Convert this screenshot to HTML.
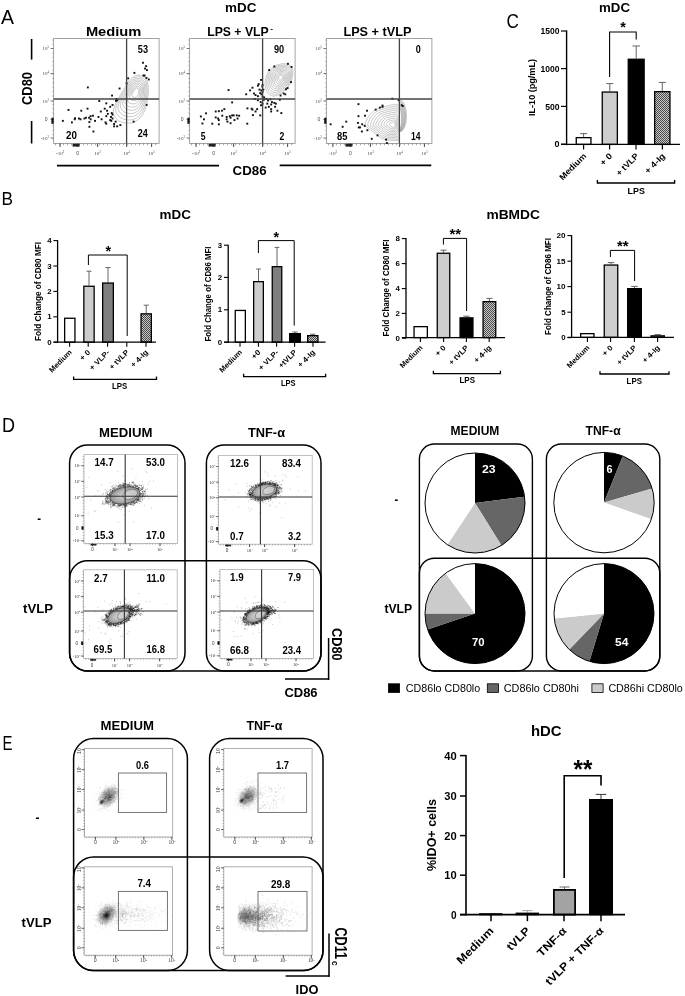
<!DOCTYPE html>
<html><head><meta charset="utf-8"><style>
html,body{margin:0;padding:0;background:#fff;}
body{width:685px;height:996px;overflow:hidden;font-family:"Liberation Sans", sans-serif;}
svg{display:block;filter:grayscale(1);}
</style></head><body>
<svg width="685" height="996" viewBox="0 0 685 996" font-family="'Liberation Sans', sans-serif">
<defs>
<pattern id="hatch" width="2" height="2" patternUnits="userSpaceOnUse"><rect width="2" height="2" fill="#c8c8c8"/><rect width="1" height="1" fill="#4a4a4a"/><rect x="1" y="1" width="1" height="1" fill="#4a4a4a"/></pattern>
</defs>
<rect width="685" height="996" fill="#fff"/>
<text x="1" y="24.4" font-size="20.5" textLength="13" lengthAdjust="spacingAndGlyphs">A</text>
<text x="225" y="12.4" font-size="12.2" font-weight="bold" textLength="31.4" lengthAdjust="spacingAndGlyphs">mDC</text>
<text x="85.9" y="35.9" font-size="13.6" font-weight="bold" textLength="55.4" lengthAdjust="spacingAndGlyphs">Medium</text>
<text x="207.2" y="36.1" font-size="13.5" font-weight="bold" textLength="61.5" lengthAdjust="spacingAndGlyphs">LPS + VLP</text>
<text x="270.3" y="30.6" font-size="8" font-weight="bold" textLength="2.8" lengthAdjust="spacingAndGlyphs">-</text>
<text x="343.4" y="36.1" font-size="13.6" font-weight="bold" textLength="68" lengthAdjust="spacingAndGlyphs">LPS + tVLP</text>
<rect x="53.6" y="38.5" width="105.5" height="105" fill="#fff" stroke="#9a9a9a" stroke-width="0.9"/>
<path d="M137 87.84C137.35 87.86 137.82 87.97 138.1 88.2C138.38 88.43 138.57 88.77 138.7 89.2C138.83 89.63 138.86 90.2 138.86 90.8C138.86 91.4 138.81 92.13 138.7 92.8C138.59 93.47 138.45 94.2 138.2 94.8C137.95 95.4 137.6 95.98 137.2 96.4C136.8 96.82 136.27 97.13 135.8 97.3C135.33 97.47 134.87 97.45 134.4 97.4C133.93 97.35 133.38 97.23 133 97C132.62 96.77 132.29 96.32 132.1 96C131.91 95.68 131.86 95.47 131.88 95.1C131.9 94.73 132.01 94.28 132.2 93.8C132.39 93.32 132.7 92.73 133 92.2C133.3 91.67 133.67 91.13 134 90.6C134.33 90.07 134.67 89.42 135 89C135.33 88.58 135.67 88.29 136 88.1C136.33 87.91 136.65 87.82 137 87.84Z" fill="none" stroke="#909090" stroke-width="0.5"/>
<path d="M137.25 86.26C137.78 86.28 138.47 86.46 138.9 86.8C139.33 87.14 139.61 87.65 139.8 88.3C139.99 88.95 140.04 89.8 140.04 90.7C140.04 91.6 139.97 92.7 139.8 93.7C139.64 94.7 139.43 95.8 139.05 96.7C138.68 97.6 138.15 98.47 137.55 99.1C136.95 99.72 136.15 100.2 135.45 100.45C134.75 100.7 134.05 100.67 133.35 100.6C132.65 100.52 131.82 100.35 131.25 100C130.68 99.65 130.18 98.97 129.9 98.5C129.62 98.03 129.54 97.7 129.57 97.15C129.59 96.6 129.77 95.93 130.05 95.2C130.33 94.47 130.8 93.6 131.25 92.8C131.7 92 132.25 91.2 132.75 90.4C133.25 89.6 133.75 88.62 134.25 88C134.75 87.38 135.25 86.94 135.75 86.65C136.25 86.36 136.72 86.24 137.25 86.26Z" fill="none" stroke="#909090" stroke-width="0.5"/>
<path d="M137.5 84.68C138.2 84.71 139.13 84.95 139.7 85.4C140.27 85.85 140.65 86.53 140.9 87.4C141.15 88.27 141.22 89.4 141.22 90.6C141.22 91.8 141.12 93.27 140.9 94.6C140.68 95.93 140.4 97.4 139.9 98.6C139.4 99.8 138.7 100.97 137.9 101.8C137.1 102.63 136.03 103.27 135.1 103.6C134.17 103.93 133.23 103.9 132.3 103.8C131.37 103.7 130.27 103.47 129.5 103C128.73 102.53 128.07 101.63 127.7 101C127.33 100.37 127.23 99.93 127.26 99.2C127.29 98.47 127.53 97.57 127.9 96.6C128.27 95.63 128.9 94.47 129.5 93.4C130.1 92.33 130.83 91.27 131.5 90.2C132.17 89.13 132.83 87.83 133.5 87C134.17 86.17 134.83 85.59 135.5 85.2C136.17 84.81 136.8 84.65 137.5 84.68Z" fill="none" stroke="#909090" stroke-width="0.5"/>
<path d="M137.75 83.1C138.62 83.14 139.79 83.43 140.5 84C141.21 84.57 141.68 85.42 142 86.5C142.32 87.58 142.4 89 142.4 90.5C142.4 92 142.28 93.83 142 95.5C141.72 97.17 141.38 99 140.75 100.5C140.12 102 139.25 103.46 138.25 104.5C137.25 105.54 135.92 106.33 134.75 106.75C133.58 107.17 132.42 107.12 131.25 107C130.08 106.88 128.71 106.58 127.75 106C126.79 105.42 125.97 104.29 125.5 103.5C125.03 102.71 124.91 102.17 124.95 101.25C124.99 100.33 125.28 99.21 125.75 98C126.22 96.79 127 95.33 127.75 94C128.5 92.67 129.42 91.33 130.25 90C131.08 88.67 131.92 87.04 132.75 86C133.58 84.96 134.42 84.23 135.25 83.75C136.08 83.27 136.88 83.06 137.75 83.1Z" fill="none" stroke="#909090" stroke-width="0.5"/>
<path d="M138 81.52C139.05 81.57 140.45 81.92 141.3 82.6C142.15 83.28 142.72 84.3 143.1 85.6C143.48 86.9 143.58 88.6 143.58 90.4C143.58 92.2 143.43 94.4 143.1 96.4C142.77 98.4 142.35 100.6 141.6 102.4C140.85 104.2 139.8 105.95 138.6 107.2C137.4 108.45 135.8 109.4 134.4 109.9C133 110.4 131.6 110.35 130.2 110.2C128.8 110.05 127.15 109.7 126 109C124.85 108.3 123.86 106.95 123.3 106C122.74 105.05 122.59 104.4 122.64 103.3C122.69 102.2 123.04 100.85 123.6 99.4C124.16 97.95 125.1 96.2 126 94.6C126.9 93 128 91.4 129 89.8C130 88.2 131 86.25 132 85C133 83.75 134 82.88 135 82.3C136 81.72 136.95 81.47 138 81.52Z" fill="none" stroke="#909090" stroke-width="0.5"/>
<path d="M138.25 79.94C139.47 80 141.11 80.41 142.1 81.2C143.09 81.99 143.76 83.18 144.2 84.7C144.64 86.22 144.76 88.2 144.76 90.3C144.76 92.4 144.58 94.97 144.2 97.3C143.81 99.63 143.32 102.2 142.45 104.3C141.57 106.4 140.35 108.44 138.95 109.9C137.55 111.36 135.68 112.47 134.05 113.05C132.42 113.63 130.78 113.58 129.15 113.4C127.52 113.23 125.59 112.82 124.25 112C122.91 111.18 121.75 109.61 121.1 108.5C120.45 107.39 120.27 106.63 120.33 105.35C120.39 104.07 120.8 102.49 121.45 100.8C122.1 99.11 123.2 97.07 124.25 95.2C125.3 93.33 126.58 91.47 127.75 89.6C128.92 87.73 130.08 85.46 131.25 84C132.42 82.54 133.58 81.53 134.75 80.85C135.92 80.17 137.03 79.88 138.25 79.94Z" fill="none" stroke="#909090" stroke-width="0.5"/>
<path d="M138.5 78.36C139.9 78.43 141.77 78.89 142.9 79.8C144.03 80.71 144.79 82.07 145.3 83.8C145.81 85.53 145.94 87.8 145.94 90.2C145.94 92.6 145.74 95.53 145.3 98.2C144.86 100.87 144.3 103.8 143.3 106.2C142.3 108.6 140.9 110.93 139.3 112.6C137.7 114.27 135.57 115.53 133.7 116.2C131.83 116.87 129.97 116.8 128.1 116.6C126.23 116.4 124.03 115.93 122.5 115C120.97 114.07 119.65 112.27 118.9 111C118.15 109.73 117.95 108.87 118.02 107.4C118.09 105.93 118.55 104.13 119.3 102.2C120.05 100.27 121.3 97.93 122.5 95.8C123.7 93.67 125.17 91.53 126.5 89.4C127.83 87.27 129.17 84.67 130.5 83C131.83 81.33 133.17 80.17 134.5 79.4C135.83 78.63 137.1 78.29 138.5 78.36Z" fill="none" stroke="#909090" stroke-width="0.5"/>
<path d="M138.75 76.78C140.32 76.86 142.42 77.38 143.7 78.4C144.97 79.42 145.83 80.95 146.4 82.9C146.97 84.85 147.12 87.4 147.12 90.1C147.12 92.8 146.9 96.1 146.4 99.1C145.91 102.1 145.28 105.4 144.15 108.1C143.03 110.8 141.45 113.43 139.65 115.3C137.85 117.18 135.45 118.6 133.35 119.35C131.25 120.1 129.15 120.03 127.05 119.8C124.95 119.58 122.47 119.05 120.75 118C119.03 116.95 117.54 114.92 116.7 113.5C115.86 112.08 115.64 111.1 115.71 109.45C115.79 107.8 116.31 105.77 117.15 103.6C117.99 101.42 119.4 98.8 120.75 96.4C122.1 94 123.75 91.6 125.25 89.2C126.75 86.8 128.25 83.88 129.75 82C131.25 80.12 132.75 78.82 134.25 77.95C135.75 77.08 137.18 76.7 138.75 76.78Z" fill="none" stroke="#909090" stroke-width="0.5"/>
<path d="M139 75.2C140.75 75.28 143.08 75.87 144.5 77C145.92 78.13 146.87 79.83 147.5 82C148.13 84.17 148.3 87 148.3 90C148.3 93 148.05 96.67 147.5 100C146.95 103.33 146.25 107 145 110C143.75 113 142 115.92 140 118C138 120.08 135.33 121.67 133 122.5C130.67 123.33 128.33 123.25 126 123C123.67 122.75 120.92 122.17 119 121C117.08 119.83 115.43 117.58 114.5 116C113.57 114.42 113.32 113.33 113.4 111.5C113.48 109.67 114.07 107.42 115 105C115.93 102.58 117.5 99.67 119 97C120.5 94.33 122.33 91.67 124 89C125.67 86.33 127.33 83.08 129 81C130.67 78.92 132.33 77.47 134 76.5C135.67 75.53 137.25 75.12 139 75.2Z" fill="none" stroke="#909090" stroke-width="0.5"/>
<rect x="86.89" y="86.47" width="1.9" height="1.9" fill="#111"/>
<rect x="142.04" y="61.79" width="1.9" height="1.9" fill="#111"/>
<rect x="145.17" y="65.22" width="1.9" height="1.9" fill="#111"/>
<rect x="144.07" y="67.57" width="1.9" height="1.9" fill="#111"/>
<rect x="145.95" y="69.13" width="1.9" height="1.9" fill="#111"/>
<rect x="133.45" y="71.94" width="1.9" height="1.9" fill="#111"/>
<rect x="142.51" y="74.6" width="1.9" height="1.9" fill="#111"/>
<rect x="143.61" y="74.6" width="1.9" height="1.9" fill="#111"/>
<rect x="145.48" y="76.94" width="1.9" height="1.9" fill="#111"/>
<rect x="147.82" y="78.51" width="1.9" height="1.9" fill="#111"/>
<rect x="127.2" y="77.41" width="1.9" height="1.9" fill="#111"/>
<rect x="125.64" y="82.41" width="1.9" height="1.9" fill="#111"/>
<rect x="118.61" y="87.57" width="1.9" height="1.9" fill="#111"/>
<rect x="111.11" y="94.6" width="1.9" height="1.9" fill="#111"/>
<rect x="115.48" y="98.04" width="1.9" height="1.9" fill="#111"/>
<rect x="116.26" y="99.29" width="1.9" height="1.9" fill="#111"/>
<rect x="115.01" y="99.91" width="1.9" height="1.9" fill="#111"/>
<rect x="98.29" y="100.07" width="1.9" height="1.9" fill="#111"/>
<rect x="105.32" y="102.41" width="1.9" height="1.9" fill="#111"/>
<rect x="111.57" y="103.97" width="1.9" height="1.9" fill="#111"/>
<rect x="109.23" y="105.85" width="1.9" height="1.9" fill="#111"/>
<rect x="103.76" y="107.72" width="1.9" height="1.9" fill="#111"/>
<rect x="106.11" y="109.76" width="1.9" height="1.9" fill="#111"/>
<rect x="110.79" y="112.1" width="1.9" height="1.9" fill="#111"/>
<rect x="111.57" y="113.66" width="1.9" height="1.9" fill="#111"/>
<rect x="99.86" y="110.54" width="1.9" height="1.9" fill="#111"/>
<rect x="86.57" y="107.72" width="1.9" height="1.9" fill="#111"/>
<rect x="80.32" y="109.76" width="1.9" height="1.9" fill="#111"/>
<rect x="67.51" y="108.97" width="1.9" height="1.9" fill="#111"/>
<rect x="145.64" y="103.97" width="1.9" height="1.9" fill="#111"/>
<rect x="106.89" y="112.88" width="1.9" height="1.9" fill="#111"/>
<rect x="105.32" y="115.22" width="1.9" height="1.9" fill="#111"/>
<rect x="100.64" y="118.35" width="1.9" height="1.9" fill="#111"/>
<rect x="97.51" y="116.01" width="1.9" height="1.9" fill="#111"/>
<rect x="92.04" y="114.76" width="1.9" height="1.9" fill="#111"/>
<rect x="89.7" y="115.22" width="1.9" height="1.9" fill="#111"/>
<rect x="88.14" y="116.79" width="1.9" height="1.9" fill="#111"/>
<rect x="89.7" y="118.35" width="1.9" height="1.9" fill="#111"/>
<rect x="85.01" y="116.79" width="1.9" height="1.9" fill="#111"/>
<rect x="83.45" y="117.57" width="1.9" height="1.9" fill="#111"/>
<rect x="77.98" y="117.57" width="1.9" height="1.9" fill="#111"/>
<rect x="74.07" y="117.26" width="1.9" height="1.9" fill="#111"/>
<rect x="73.76" y="118.35" width="1.9" height="1.9" fill="#111"/>
<rect x="70.95" y="121.47" width="1.9" height="1.9" fill="#111"/>
<rect x="61.89" y="119.91" width="1.9" height="1.9" fill="#111"/>
<rect x="79.54" y="118.35" width="1.9" height="1.9" fill="#111"/>
<rect x="94.07" y="119.91" width="1.9" height="1.9" fill="#111"/>
<rect x="88.45" y="121.16" width="1.9" height="1.9" fill="#111"/>
<rect x="110.01" y="116.01" width="1.9" height="1.9" fill="#111"/>
<rect x="111.57" y="117.57" width="1.9" height="1.9" fill="#111"/>
<rect x="110.32" y="119.91" width="1.9" height="1.9" fill="#111"/>
<rect x="114.7" y="120.69" width="1.9" height="1.9" fill="#111"/>
<rect x="104.54" y="121.47" width="1.9" height="1.9" fill="#111"/>
<rect x="105.32" y="122.72" width="1.9" height="1.9" fill="#111"/>
<rect x="113.14" y="123.04" width="1.9" height="1.9" fill="#111"/>
<rect x="116.26" y="125.38" width="1.9" height="1.9" fill="#111"/>
<rect x="113.14" y="125.38" width="1.9" height="1.9" fill="#111"/>
<rect x="119.39" y="124.13" width="1.9" height="1.9" fill="#111"/>
<rect x="88.45" y="125.85" width="1.9" height="1.9" fill="#111"/>
<rect x="92.51" y="130.54" width="1.9" height="1.9" fill="#111"/>
<rect x="132.67" y="120.69" width="1.9" height="1.9" fill="#111"/>
<rect x="109.23" y="119.13" width="1.9" height="1.9" fill="#111"/>
<line x1="126.6" y1="38.5" x2="126.6" y2="143.5" stroke="#444" stroke-width="1.3"/>
<line x1="53.6" y1="99" x2="159.1" y2="99" stroke="#444" stroke-width="1.3"/>
<line x1="50.6" y1="48.5" x2="53.6" y2="48.5" stroke="#555" stroke-width="0.8"/>
<line x1="50.6" y1="73.5" x2="53.6" y2="73.5" stroke="#555" stroke-width="0.8"/>
<line x1="50.6" y1="101" x2="53.6" y2="101" stroke="#555" stroke-width="0.8"/>
<line x1="50.6" y1="119.5" x2="53.6" y2="119.5" stroke="#555" stroke-width="0.8"/>
<line x1="50.6" y1="138" x2="53.6" y2="138" stroke="#555" stroke-width="0.8"/>
<line x1="52.1" y1="40" x2="53.6" y2="40" stroke="#888" stroke-width="0.5"/>
<line x1="52.1" y1="44.3" x2="53.6" y2="44.3" stroke="#888" stroke-width="0.5"/>
<line x1="52.1" y1="48.6" x2="53.6" y2="48.6" stroke="#888" stroke-width="0.5"/>
<line x1="52.1" y1="52.9" x2="53.6" y2="52.9" stroke="#888" stroke-width="0.5"/>
<line x1="52.1" y1="57.2" x2="53.6" y2="57.2" stroke="#888" stroke-width="0.5"/>
<line x1="52.1" y1="61.5" x2="53.6" y2="61.5" stroke="#888" stroke-width="0.5"/>
<line x1="52.1" y1="65.8" x2="53.6" y2="65.8" stroke="#888" stroke-width="0.5"/>
<line x1="52.1" y1="70.1" x2="53.6" y2="70.1" stroke="#888" stroke-width="0.5"/>
<line x1="52.1" y1="74.4" x2="53.6" y2="74.4" stroke="#888" stroke-width="0.5"/>
<line x1="52.1" y1="78.7" x2="53.6" y2="78.7" stroke="#888" stroke-width="0.5"/>
<line x1="52.1" y1="83" x2="53.6" y2="83" stroke="#888" stroke-width="0.5"/>
<line x1="52.1" y1="87.3" x2="53.6" y2="87.3" stroke="#888" stroke-width="0.5"/>
<line x1="52.1" y1="91.6" x2="53.6" y2="91.6" stroke="#888" stroke-width="0.5"/>
<line x1="52.1" y1="95.9" x2="53.6" y2="95.9" stroke="#888" stroke-width="0.5"/>
<line x1="52.1" y1="100.2" x2="53.6" y2="100.2" stroke="#888" stroke-width="0.5"/>
<line x1="52.1" y1="104.5" x2="53.6" y2="104.5" stroke="#888" stroke-width="0.5"/>
<line x1="52.1" y1="108.8" x2="53.6" y2="108.8" stroke="#888" stroke-width="0.5"/>
<line x1="52.1" y1="113.1" x2="53.6" y2="113.1" stroke="#888" stroke-width="0.5"/>
<line x1="52.1" y1="117.4" x2="53.6" y2="117.4" stroke="#888" stroke-width="0.5"/>
<line x1="52.1" y1="121.7" x2="53.6" y2="121.7" stroke="#888" stroke-width="0.5"/>
<line x1="52.1" y1="126" x2="53.6" y2="126" stroke="#888" stroke-width="0.5"/>
<line x1="52.1" y1="130.3" x2="53.6" y2="130.3" stroke="#888" stroke-width="0.5"/>
<line x1="52.1" y1="134.6" x2="53.6" y2="134.6" stroke="#888" stroke-width="0.5"/>
<line x1="52.1" y1="138.9" x2="53.6" y2="138.9" stroke="#888" stroke-width="0.5"/>
<line x1="60.1" y1="143.5" x2="60.1" y2="147" stroke="#333" stroke-width="0.9"/>
<line x1="77.6" y1="143.5" x2="77.6" y2="147" stroke="#333" stroke-width="0.9"/>
<line x1="97.6" y1="143.5" x2="97.6" y2="147" stroke="#333" stroke-width="0.9"/>
<line x1="126.6" y1="143.5" x2="126.6" y2="147" stroke="#333" stroke-width="0.9"/>
<line x1="151.6" y1="143.5" x2="151.6" y2="147" stroke="#333" stroke-width="0.9"/>
<line x1="55.6" y1="143.5" x2="55.6" y2="145.3" stroke="#666" stroke-width="0.6"/>
<line x1="59.6" y1="143.5" x2="59.6" y2="145.3" stroke="#666" stroke-width="0.6"/>
<line x1="63.6" y1="143.5" x2="63.6" y2="145.3" stroke="#666" stroke-width="0.6"/>
<line x1="67.6" y1="143.5" x2="67.6" y2="145.3" stroke="#666" stroke-width="0.6"/>
<line x1="71.6" y1="143.5" x2="71.6" y2="145.3" stroke="#666" stroke-width="0.6"/>
<line x1="75.6" y1="143.5" x2="75.6" y2="145.3" stroke="#666" stroke-width="0.6"/>
<line x1="79.6" y1="143.5" x2="79.6" y2="145.3" stroke="#666" stroke-width="0.6"/>
<line x1="83.6" y1="143.5" x2="83.6" y2="145.3" stroke="#666" stroke-width="0.6"/>
<line x1="87.6" y1="143.5" x2="87.6" y2="145.3" stroke="#666" stroke-width="0.6"/>
<line x1="91.6" y1="143.5" x2="91.6" y2="145.3" stroke="#666" stroke-width="0.6"/>
<line x1="95.6" y1="143.5" x2="95.6" y2="145.3" stroke="#666" stroke-width="0.6"/>
<line x1="99.6" y1="143.5" x2="99.6" y2="145.3" stroke="#666" stroke-width="0.6"/>
<line x1="103.6" y1="143.5" x2="103.6" y2="145.3" stroke="#666" stroke-width="0.6"/>
<line x1="107.6" y1="143.5" x2="107.6" y2="145.3" stroke="#666" stroke-width="0.6"/>
<line x1="111.6" y1="143.5" x2="111.6" y2="145.3" stroke="#666" stroke-width="0.6"/>
<line x1="115.6" y1="143.5" x2="115.6" y2="145.3" stroke="#666" stroke-width="0.6"/>
<line x1="119.6" y1="143.5" x2="119.6" y2="145.3" stroke="#666" stroke-width="0.6"/>
<line x1="123.6" y1="143.5" x2="123.6" y2="145.3" stroke="#666" stroke-width="0.6"/>
<line x1="127.6" y1="143.5" x2="127.6" y2="145.3" stroke="#666" stroke-width="0.6"/>
<line x1="131.6" y1="143.5" x2="131.6" y2="145.3" stroke="#666" stroke-width="0.6"/>
<line x1="135.6" y1="143.5" x2="135.6" y2="145.3" stroke="#666" stroke-width="0.6"/>
<line x1="139.6" y1="143.5" x2="139.6" y2="145.3" stroke="#666" stroke-width="0.6"/>
<line x1="143.6" y1="143.5" x2="143.6" y2="145.3" stroke="#666" stroke-width="0.6"/>
<line x1="147.6" y1="143.5" x2="147.6" y2="145.3" stroke="#666" stroke-width="0.6"/>
<line x1="151.6" y1="143.5" x2="151.6" y2="145.3" stroke="#666" stroke-width="0.6"/>
<line x1="155.6" y1="143.5" x2="155.6" y2="145.3" stroke="#666" stroke-width="0.6"/>
<rect x="72.6" y="143.8" width="7" height="2.8" fill="#222"/>
<rect x="51.4" y="117.8" width="2.2" height="6" fill="#111"/>
<text x="49.1" y="50.1" font-size="5" fill="#444" text-anchor="end" font-family='Liberation Serif'>10<tspan dy="-2" font-size="3">5</tspan></text>
<text x="49.1" y="75.1" font-size="5" fill="#444" text-anchor="end" font-family='Liberation Serif'>10<tspan dy="-2" font-size="3">4</tspan></text>
<text x="49.1" y="102.6" font-size="5" fill="#444" text-anchor="end" font-family='Liberation Serif'>10<tspan dy="-2" font-size="3">3</tspan></text>
<text x="49.1" y="139.6" font-size="5" fill="#444" text-anchor="end" font-family='Liberation Serif'>-10<tspan dy="-2" font-size="3">3</tspan></text>
<text x="47.6" y="121.1" font-size="5" fill="#444" text-anchor="end">0</text>
<text x="60.1" y="154.5" font-size="5" fill="#444" text-anchor="middle" font-family='Liberation Serif'>-10<tspan dy="-2" font-size="3">3</tspan></text>
<text x="77.6" y="154.5" font-size="5" fill="#444" text-anchor="middle">0</text>
<text x="97.6" y="154.5" font-size="5" fill="#444" text-anchor="middle" font-family='Liberation Serif'>10<tspan dy="-2" font-size="3">3</tspan></text>
<text x="126.6" y="154.5" font-size="5" fill="#444" text-anchor="middle" font-family='Liberation Serif'>10<tspan dy="-2" font-size="3">4</tspan></text>
<text x="151.6" y="154.5" font-size="5" fill="#444" text-anchor="middle" font-family='Liberation Serif'>10<tspan dy="-2" font-size="3">5</tspan></text>
<text x="137.8" y="52.9" font-size="10.4" font-weight="bold" textLength="10.2" lengthAdjust="spacingAndGlyphs">53</text>
<text x="137.8" y="137.2" font-size="10.4" font-weight="bold" textLength="10" lengthAdjust="spacingAndGlyphs">24</text>
<text x="66" y="138.8" font-size="10.4" font-weight="bold" textLength="10.9" lengthAdjust="spacingAndGlyphs">20</text>
<rect x="189.6" y="38.5" width="105.5" height="105" fill="#fff" stroke="#9a9a9a" stroke-width="0.9"/>
<path d="M281.45 75.44C281.71 75.45 281.99 75.49 282.2 75.59C282.41 75.7 282.59 75.87 282.69 76.08C282.8 76.28 282.82 76.53 282.8 76.83C282.78 77.12 282.69 77.54 282.57 77.88C282.46 78.21 282.34 78.55 282.12 78.85C281.91 79.15 281.6 79.45 281.3 79.67C281 79.9 280.62 80.13 280.32 80.22C280.02 80.3 279.74 80.3 279.5 80.2C279.26 80.1 279.05 79.86 278.9 79.6C278.75 79.34 278.63 78.96 278.6 78.62C278.57 78.29 278.63 77.91 278.72 77.58C278.81 77.24 278.94 76.88 279.12 76.6C279.31 76.32 279.55 76.1 279.8 75.92C280.05 75.75 280.35 75.63 280.62 75.55C280.9 75.47 281.19 75.44 281.45 75.44Z" fill="none" stroke="#909090" stroke-width="0.5"/>
<path d="M281.73 74.15C282.16 74.16 282.62 74.22 282.96 74.4C283.29 74.57 283.6 74.84 283.76 75.18C283.93 75.51 283.97 75.91 283.93 76.4C283.9 76.89 283.75 77.56 283.57 78.11C283.38 78.66 283.18 79.21 282.83 79.7C282.49 80.19 281.98 80.67 281.49 81.04C281 81.42 280.39 81.78 279.9 81.92C279.41 82.07 278.94 82.07 278.56 81.9C278.17 81.73 277.82 81.35 277.58 80.92C277.33 80.49 277.14 79.88 277.09 79.33C277.04 78.78 277.14 78.17 277.28 77.62C277.43 77.07 277.65 76.48 277.94 76.03C278.24 75.59 278.64 75.22 279.04 74.93C279.45 74.65 279.94 74.45 280.39 74.32C280.84 74.19 281.31 74.14 281.73 74.15Z" fill="none" stroke="#909090" stroke-width="0.5"/>
<path d="M282.02 72.86C282.61 72.87 283.24 72.96 283.71 73.2C284.18 73.43 284.6 73.82 284.83 74.28C285.06 74.74 285.11 75.3 285.07 75.97C285.02 76.65 284.81 77.58 284.56 78.35C284.3 79.11 284.02 79.87 283.54 80.55C283.06 81.23 282.36 81.9 281.68 82.41C281 82.93 280.15 83.44 279.48 83.63C278.8 83.83 278.15 83.83 277.61 83.6C277.07 83.37 276.59 82.84 276.26 82.24C275.92 81.65 275.65 80.8 275.58 80.04C275.51 79.28 275.65 78.43 275.85 77.67C276.05 76.91 276.36 76.09 276.76 75.47C277.17 74.85 277.72 74.34 278.29 73.94C278.85 73.55 279.53 73.28 280.15 73.09C280.77 72.91 281.42 72.84 282.02 72.86Z" fill="none" stroke="#909090" stroke-width="0.5"/>
<path d="M282.3 71.56C283.06 71.59 283.87 71.69 284.47 72C285.07 72.3 285.61 72.79 285.9 73.38C286.19 73.98 286.26 74.68 286.2 75.55C286.14 76.42 285.88 77.61 285.55 78.58C285.23 79.56 284.86 80.53 284.25 81.4C283.64 82.27 282.73 83.13 281.87 83.78C281 84.44 279.92 85.09 279.05 85.34C278.18 85.6 277.35 85.6 276.67 85.3C275.98 85 275.37 84.32 274.93 83.57C274.5 82.81 274.15 81.72 274.07 80.75C273.98 79.78 274.16 78.69 274.41 77.72C274.67 76.74 275.06 75.69 275.58 74.9C276.1 74.11 276.81 73.46 277.53 72.95C278.26 72.44 279.12 72.1 279.92 71.87C280.71 71.64 281.54 71.54 282.3 71.56Z" fill="none" stroke="#909090" stroke-width="0.5"/>
<path d="M282.58 70.27C283.51 70.3 284.49 70.43 285.22 70.8C285.95 71.17 286.61 71.76 286.96 72.49C287.32 73.21 287.4 74.07 287.33 75.12C287.26 76.18 286.94 77.63 286.54 78.82C286.15 80.01 285.71 81.19 284.96 82.25C284.21 83.31 283.11 84.35 282.06 85.15C281 85.95 279.68 86.74 278.62 87.05C277.57 87.36 276.56 87.36 275.72 87C274.89 86.64 274.14 85.81 273.61 84.89C273.08 83.97 272.66 82.65 272.56 81.46C272.45 80.27 272.67 78.95 272.98 77.76C273.29 76.58 273.77 75.3 274.4 74.33C275.04 73.37 275.9 72.57 276.78 71.96C277.66 71.34 278.71 70.92 279.68 70.64C280.65 70.36 281.66 70.24 282.58 70.27Z" fill="none" stroke="#909090" stroke-width="0.5"/>
<path d="M282.87 68.98C283.96 69.01 285.12 69.16 285.98 69.6C286.84 70.03 287.62 70.74 288.03 71.59C288.45 72.44 288.55 73.46 288.47 74.7C288.38 75.94 288 77.66 287.53 79.06C287.07 80.46 286.55 81.86 285.67 83.1C284.79 84.34 283.49 85.58 282.24 86.52C281 87.47 279.44 88.4 278.2 88.76C276.96 89.13 275.76 89.13 274.78 88.7C273.79 88.27 272.91 87.3 272.29 86.21C271.67 85.12 271.17 83.57 271.04 82.17C270.92 80.77 271.18 79.21 271.54 77.81C271.91 76.41 272.48 74.91 273.22 73.77C273.97 72.63 274.99 71.69 276.02 70.97C277.06 70.24 278.3 69.74 279.44 69.41C280.59 69.08 281.78 68.94 282.87 68.98Z" fill="none" stroke="#909090" stroke-width="0.5"/>
<path d="M283.15 67.68C284.4 67.72 285.74 67.9 286.73 68.4C287.72 68.9 288.62 69.71 289.1 70.69C289.58 71.67 289.7 72.84 289.6 74.28C289.5 75.71 289.06 77.68 288.52 79.29C287.99 80.9 287.39 82.52 286.38 83.95C285.36 85.38 283.87 86.8 282.43 87.89C281 88.98 279.21 90.05 277.77 90.47C276.34 90.89 274.97 90.89 273.83 90.4C272.7 89.91 271.68 88.79 270.97 87.53C270.25 86.28 269.68 84.49 269.53 82.88C269.39 81.26 269.69 79.47 270.11 77.86C270.52 76.25 271.18 74.51 272.04 73.2C272.9 71.89 274.07 70.81 275.27 69.97C276.46 69.14 277.89 68.57 279.21 68.18C280.52 67.8 281.9 67.65 283.15 67.68Z" fill="none" stroke="#909090" stroke-width="0.5"/>
<path d="M283.43 66.39C284.85 66.43 286.37 66.63 287.49 67.2C288.61 67.77 289.62 68.69 290.17 69.79C290.71 70.9 290.84 72.23 290.73 73.85C290.63 75.47 290.12 77.7 289.52 79.53C288.91 81.35 288.23 83.18 287.08 84.8C285.93 86.42 284.24 88.03 282.62 89.26C281 90.49 278.97 91.71 277.35 92.18C275.73 92.65 274.17 92.65 272.89 92.1C271.6 91.55 270.46 90.28 269.64 88.86C268.83 87.44 268.18 85.41 268.02 83.58C267.86 81.76 268.2 79.73 268.67 77.91C269.14 76.08 269.89 74.12 270.86 72.63C271.83 71.15 273.16 69.93 274.51 68.98C275.86 68.04 277.49 67.39 278.97 66.96C280.46 66.52 282.01 66.35 283.43 66.39Z" fill="none" stroke="#909090" stroke-width="0.5"/>
<path d="M283.72 65.09C285.3 65.14 286.99 65.37 288.24 66C289.5 66.63 290.63 67.66 291.23 68.9C291.84 70.13 291.99 71.61 291.87 73.42C291.75 75.24 291.19 77.73 290.51 79.76C289.83 81.8 289.07 83.84 287.79 85.65C286.51 87.46 284.62 89.26 282.81 90.63C281 92 278.74 93.36 276.93 93.89C275.11 94.42 273.38 94.42 271.94 93.8C270.51 93.18 269.23 91.76 268.32 90.18C267.42 88.59 266.69 86.33 266.51 84.29C266.33 82.25 266.71 79.99 267.24 77.95C267.76 75.92 268.59 73.73 269.68 72.07C270.77 70.41 272.25 69.05 273.76 67.99C275.26 66.94 277.08 66.21 278.74 65.73C280.4 65.24 282.13 65.05 283.72 65.09Z" fill="none" stroke="#909090" stroke-width="0.5"/>
<path d="M284 63.8C285.75 63.85 287.62 64.1 289 64.8C290.38 65.5 291.63 66.63 292.3 68C292.97 69.37 293.13 71 293 73C292.87 75 292.25 77.75 291.5 80C290.75 82.25 289.92 84.5 288.5 86.5C287.08 88.5 285 90.48 283 92C281 93.52 278.5 95.02 276.5 95.6C274.5 96.18 272.58 96.18 271 95.5C269.42 94.82 268 93.25 267 91.5C266 89.75 265.2 87.25 265 85C264.8 82.75 265.22 80.25 265.8 78C266.38 75.75 267.3 73.33 268.5 71.5C269.7 69.67 271.33 68.17 273 67C274.67 65.83 276.67 65.03 278.5 64.5C280.33 63.97 282.25 63.75 284 63.8Z" fill="none" stroke="#909090" stroke-width="0.5"/>
<rect x="286.95" y="62.88" width="1.9" height="1.9" fill="#111"/>
<rect x="273.36" y="65.54" width="1.9" height="1.9" fill="#111"/>
<rect x="268.2" y="69.13" width="1.9" height="1.9" fill="#111"/>
<rect x="290.54" y="66.01" width="1.9" height="1.9" fill="#111"/>
<rect x="290.08" y="81.16" width="1.9" height="1.9" fill="#111"/>
<rect x="286.64" y="87.1" width="1.9" height="1.9" fill="#111"/>
<rect x="285.08" y="88.35" width="1.9" height="1.9" fill="#111"/>
<rect x="282.73" y="92.57" width="1.9" height="1.9" fill="#111"/>
<rect x="284.29" y="93.35" width="1.9" height="1.9" fill="#111"/>
<rect x="279.61" y="94.6" width="1.9" height="1.9" fill="#111"/>
<rect x="278.83" y="98.82" width="1.9" height="1.9" fill="#111"/>
<rect x="260.08" y="78.97" width="1.9" height="1.9" fill="#111"/>
<rect x="257.73" y="83.19" width="1.9" height="1.9" fill="#111"/>
<rect x="261.64" y="83.97" width="1.9" height="1.9" fill="#111"/>
<rect x="256.95" y="84.76" width="1.9" height="1.9" fill="#111"/>
<rect x="251.48" y="86.79" width="1.9" height="1.9" fill="#111"/>
<rect x="249.14" y="89.44" width="1.9" height="1.9" fill="#111"/>
<rect x="258.51" y="88.66" width="1.9" height="1.9" fill="#111"/>
<rect x="260.39" y="89.44" width="1.9" height="1.9" fill="#111"/>
<rect x="261.64" y="91.01" width="1.9" height="1.9" fill="#111"/>
<rect x="259.29" y="92.1" width="1.9" height="1.9" fill="#111"/>
<rect x="253.04" y="92.57" width="1.9" height="1.9" fill="#111"/>
<rect x="254.61" y="94.13" width="1.9" height="1.9" fill="#111"/>
<rect x="245.23" y="93.35" width="1.9" height="1.9" fill="#111"/>
<rect x="256.95" y="95.22" width="1.9" height="1.9" fill="#111"/>
<rect x="261.64" y="95.69" width="1.9" height="1.9" fill="#111"/>
<rect x="263.2" y="96.47" width="1.9" height="1.9" fill="#111"/>
<rect x="253.82" y="98.04" width="1.9" height="1.9" fill="#111"/>
<rect x="256.95" y="99.29" width="1.9" height="1.9" fill="#111"/>
<rect x="265.54" y="98.04" width="1.9" height="1.9" fill="#111"/>
<rect x="267.11" y="99.6" width="1.9" height="1.9" fill="#111"/>
<rect x="269.45" y="98.35" width="1.9" height="1.9" fill="#111"/>
<rect x="271.01" y="101.16" width="1.9" height="1.9" fill="#111"/>
<rect x="273.36" y="101.94" width="1.9" height="1.9" fill="#111"/>
<rect x="266.33" y="102.72" width="1.9" height="1.9" fill="#111"/>
<rect x="261.64" y="102.72" width="1.9" height="1.9" fill="#111"/>
<rect x="260.08" y="104.29" width="1.9" height="1.9" fill="#111"/>
<rect x="264.76" y="106.63" width="1.9" height="1.9" fill="#111"/>
<rect x="267.89" y="105.85" width="1.9" height="1.9" fill="#111"/>
<rect x="270.23" y="108.19" width="1.9" height="1.9" fill="#111"/>
<rect x="270.23" y="110.54" width="1.9" height="1.9" fill="#111"/>
<rect x="274.14" y="105.85" width="1.9" height="1.9" fill="#111"/>
<rect x="276.48" y="109.76" width="1.9" height="1.9" fill="#111"/>
<rect x="280.39" y="112.1" width="1.9" height="1.9" fill="#111"/>
<rect x="270.23" y="103.51" width="1.9" height="1.9" fill="#111"/>
<rect x="274.92" y="102.72" width="1.9" height="1.9" fill="#111"/>
<rect x="227.57" y="89.13" width="1.9" height="1.9" fill="#111"/>
<rect x="231.17" y="101.47" width="1.9" height="1.9" fill="#111"/>
<rect x="246.48" y="107.41" width="1.9" height="1.9" fill="#111"/>
<rect x="250.7" y="107.72" width="1.9" height="1.9" fill="#111"/>
<rect x="251.48" y="108.66" width="1.9" height="1.9" fill="#111"/>
<rect x="256.17" y="108.19" width="1.9" height="1.9" fill="#111"/>
<rect x="254.61" y="110.54" width="1.9" height="1.9" fill="#111"/>
<rect x="251.95" y="114.13" width="1.9" height="1.9" fill="#111"/>
<rect x="259.29" y="114.44" width="1.9" height="1.9" fill="#111"/>
<rect x="223.36" y="108.19" width="1.9" height="1.9" fill="#111"/>
<rect x="221.01" y="109.76" width="1.9" height="1.9" fill="#111"/>
<rect x="217.89" y="110.22" width="1.9" height="1.9" fill="#111"/>
<rect x="214.76" y="110.54" width="1.9" height="1.9" fill="#111"/>
<rect x="205.07" y="112.41" width="1.9" height="1.9" fill="#111"/>
<rect x="199.92" y="115.54" width="1.9" height="1.9" fill="#111"/>
<rect x="203.04" y="118.35" width="1.9" height="1.9" fill="#111"/>
<rect x="201.48" y="122.57" width="1.9" height="1.9" fill="#111"/>
<rect x="211.32" y="122.72" width="1.9" height="1.9" fill="#111"/>
<rect x="217.89" y="123.35" width="1.9" height="1.9" fill="#111"/>
<rect x="214.76" y="116.47" width="1.9" height="1.9" fill="#111"/>
<rect x="217.11" y="117.57" width="1.9" height="1.9" fill="#111"/>
<rect x="217.89" y="119.13" width="1.9" height="1.9" fill="#111"/>
<rect x="221.32" y="114.76" width="1.9" height="1.9" fill="#111"/>
<rect x="225.7" y="116.01" width="1.9" height="1.9" fill="#111"/>
<rect x="225.7" y="118.35" width="1.9" height="1.9" fill="#111"/>
<rect x="226.48" y="120.69" width="1.9" height="1.9" fill="#111"/>
<rect x="228.82" y="115.22" width="1.9" height="1.9" fill="#111"/>
<rect x="229.61" y="116.79" width="1.9" height="1.9" fill="#111"/>
<rect x="232.73" y="114.44" width="1.9" height="1.9" fill="#111"/>
<rect x="235.86" y="114.44" width="1.9" height="1.9" fill="#111"/>
<rect x="238.2" y="114.76" width="1.9" height="1.9" fill="#111"/>
<rect x="236.64" y="117.57" width="1.9" height="1.9" fill="#111"/>
<rect x="233.51" y="119.13" width="1.9" height="1.9" fill="#111"/>
<rect x="229.61" y="122.26" width="1.9" height="1.9" fill="#111"/>
<rect x="246.32" y="122.72" width="1.9" height="1.9" fill="#111"/>
<rect x="231.17" y="114.44" width="1.9" height="1.9" fill="#111"/>
<rect x="261.33" y="85.54" width="1.9" height="1.9" fill="#111"/>
<rect x="262.42" y="88.66" width="1.9" height="1.9" fill="#111"/>
<rect x="260.39" y="93.35" width="1.9" height="1.9" fill="#111"/>
<rect x="262.89" y="98.82" width="1.9" height="1.9" fill="#111"/>
<rect x="259.76" y="101.16" width="1.9" height="1.9" fill="#111"/>
<line x1="262.6" y1="38.5" x2="262.6" y2="143.5" stroke="#444" stroke-width="1.3"/>
<line x1="189.6" y1="99" x2="295.1" y2="99" stroke="#444" stroke-width="1.3"/>
<line x1="186.6" y1="48.5" x2="189.6" y2="48.5" stroke="#555" stroke-width="0.8"/>
<line x1="186.6" y1="73.5" x2="189.6" y2="73.5" stroke="#555" stroke-width="0.8"/>
<line x1="186.6" y1="101" x2="189.6" y2="101" stroke="#555" stroke-width="0.8"/>
<line x1="186.6" y1="119.5" x2="189.6" y2="119.5" stroke="#555" stroke-width="0.8"/>
<line x1="186.6" y1="138" x2="189.6" y2="138" stroke="#555" stroke-width="0.8"/>
<line x1="188.1" y1="40" x2="189.6" y2="40" stroke="#888" stroke-width="0.5"/>
<line x1="188.1" y1="44.3" x2="189.6" y2="44.3" stroke="#888" stroke-width="0.5"/>
<line x1="188.1" y1="48.6" x2="189.6" y2="48.6" stroke="#888" stroke-width="0.5"/>
<line x1="188.1" y1="52.9" x2="189.6" y2="52.9" stroke="#888" stroke-width="0.5"/>
<line x1="188.1" y1="57.2" x2="189.6" y2="57.2" stroke="#888" stroke-width="0.5"/>
<line x1="188.1" y1="61.5" x2="189.6" y2="61.5" stroke="#888" stroke-width="0.5"/>
<line x1="188.1" y1="65.8" x2="189.6" y2="65.8" stroke="#888" stroke-width="0.5"/>
<line x1="188.1" y1="70.1" x2="189.6" y2="70.1" stroke="#888" stroke-width="0.5"/>
<line x1="188.1" y1="74.4" x2="189.6" y2="74.4" stroke="#888" stroke-width="0.5"/>
<line x1="188.1" y1="78.7" x2="189.6" y2="78.7" stroke="#888" stroke-width="0.5"/>
<line x1="188.1" y1="83" x2="189.6" y2="83" stroke="#888" stroke-width="0.5"/>
<line x1="188.1" y1="87.3" x2="189.6" y2="87.3" stroke="#888" stroke-width="0.5"/>
<line x1="188.1" y1="91.6" x2="189.6" y2="91.6" stroke="#888" stroke-width="0.5"/>
<line x1="188.1" y1="95.9" x2="189.6" y2="95.9" stroke="#888" stroke-width="0.5"/>
<line x1="188.1" y1="100.2" x2="189.6" y2="100.2" stroke="#888" stroke-width="0.5"/>
<line x1="188.1" y1="104.5" x2="189.6" y2="104.5" stroke="#888" stroke-width="0.5"/>
<line x1="188.1" y1="108.8" x2="189.6" y2="108.8" stroke="#888" stroke-width="0.5"/>
<line x1="188.1" y1="113.1" x2="189.6" y2="113.1" stroke="#888" stroke-width="0.5"/>
<line x1="188.1" y1="117.4" x2="189.6" y2="117.4" stroke="#888" stroke-width="0.5"/>
<line x1="188.1" y1="121.7" x2="189.6" y2="121.7" stroke="#888" stroke-width="0.5"/>
<line x1="188.1" y1="126" x2="189.6" y2="126" stroke="#888" stroke-width="0.5"/>
<line x1="188.1" y1="130.3" x2="189.6" y2="130.3" stroke="#888" stroke-width="0.5"/>
<line x1="188.1" y1="134.6" x2="189.6" y2="134.6" stroke="#888" stroke-width="0.5"/>
<line x1="188.1" y1="138.9" x2="189.6" y2="138.9" stroke="#888" stroke-width="0.5"/>
<line x1="196.1" y1="143.5" x2="196.1" y2="147" stroke="#333" stroke-width="0.9"/>
<line x1="213.6" y1="143.5" x2="213.6" y2="147" stroke="#333" stroke-width="0.9"/>
<line x1="233.6" y1="143.5" x2="233.6" y2="147" stroke="#333" stroke-width="0.9"/>
<line x1="262.6" y1="143.5" x2="262.6" y2="147" stroke="#333" stroke-width="0.9"/>
<line x1="287.6" y1="143.5" x2="287.6" y2="147" stroke="#333" stroke-width="0.9"/>
<line x1="191.6" y1="143.5" x2="191.6" y2="145.3" stroke="#666" stroke-width="0.6"/>
<line x1="195.6" y1="143.5" x2="195.6" y2="145.3" stroke="#666" stroke-width="0.6"/>
<line x1="199.6" y1="143.5" x2="199.6" y2="145.3" stroke="#666" stroke-width="0.6"/>
<line x1="203.6" y1="143.5" x2="203.6" y2="145.3" stroke="#666" stroke-width="0.6"/>
<line x1="207.6" y1="143.5" x2="207.6" y2="145.3" stroke="#666" stroke-width="0.6"/>
<line x1="211.6" y1="143.5" x2="211.6" y2="145.3" stroke="#666" stroke-width="0.6"/>
<line x1="215.6" y1="143.5" x2="215.6" y2="145.3" stroke="#666" stroke-width="0.6"/>
<line x1="219.6" y1="143.5" x2="219.6" y2="145.3" stroke="#666" stroke-width="0.6"/>
<line x1="223.6" y1="143.5" x2="223.6" y2="145.3" stroke="#666" stroke-width="0.6"/>
<line x1="227.6" y1="143.5" x2="227.6" y2="145.3" stroke="#666" stroke-width="0.6"/>
<line x1="231.6" y1="143.5" x2="231.6" y2="145.3" stroke="#666" stroke-width="0.6"/>
<line x1="235.6" y1="143.5" x2="235.6" y2="145.3" stroke="#666" stroke-width="0.6"/>
<line x1="239.6" y1="143.5" x2="239.6" y2="145.3" stroke="#666" stroke-width="0.6"/>
<line x1="243.6" y1="143.5" x2="243.6" y2="145.3" stroke="#666" stroke-width="0.6"/>
<line x1="247.6" y1="143.5" x2="247.6" y2="145.3" stroke="#666" stroke-width="0.6"/>
<line x1="251.6" y1="143.5" x2="251.6" y2="145.3" stroke="#666" stroke-width="0.6"/>
<line x1="255.6" y1="143.5" x2="255.6" y2="145.3" stroke="#666" stroke-width="0.6"/>
<line x1="259.6" y1="143.5" x2="259.6" y2="145.3" stroke="#666" stroke-width="0.6"/>
<line x1="263.6" y1="143.5" x2="263.6" y2="145.3" stroke="#666" stroke-width="0.6"/>
<line x1="267.6" y1="143.5" x2="267.6" y2="145.3" stroke="#666" stroke-width="0.6"/>
<line x1="271.6" y1="143.5" x2="271.6" y2="145.3" stroke="#666" stroke-width="0.6"/>
<line x1="275.6" y1="143.5" x2="275.6" y2="145.3" stroke="#666" stroke-width="0.6"/>
<line x1="279.6" y1="143.5" x2="279.6" y2="145.3" stroke="#666" stroke-width="0.6"/>
<line x1="283.6" y1="143.5" x2="283.6" y2="145.3" stroke="#666" stroke-width="0.6"/>
<line x1="287.6" y1="143.5" x2="287.6" y2="145.3" stroke="#666" stroke-width="0.6"/>
<line x1="291.6" y1="143.5" x2="291.6" y2="145.3" stroke="#666" stroke-width="0.6"/>
<rect x="208.6" y="143.8" width="7" height="2.8" fill="#222"/>
<rect x="187.4" y="117.8" width="2.2" height="6" fill="#111"/>
<text x="185.1" y="50.1" font-size="5" fill="#444" text-anchor="end" font-family='Liberation Serif'>10<tspan dy="-2" font-size="3">5</tspan></text>
<text x="185.1" y="75.1" font-size="5" fill="#444" text-anchor="end" font-family='Liberation Serif'>10<tspan dy="-2" font-size="3">4</tspan></text>
<text x="185.1" y="102.6" font-size="5" fill="#444" text-anchor="end" font-family='Liberation Serif'>10<tspan dy="-2" font-size="3">3</tspan></text>
<text x="185.1" y="139.6" font-size="5" fill="#444" text-anchor="end" font-family='Liberation Serif'>-10<tspan dy="-2" font-size="3">3</tspan></text>
<text x="183.6" y="121.1" font-size="5" fill="#444" text-anchor="end">0</text>
<text x="196.1" y="154.5" font-size="5" fill="#444" text-anchor="middle" font-family='Liberation Serif'>-10<tspan dy="-2" font-size="3">3</tspan></text>
<text x="213.6" y="154.5" font-size="5" fill="#444" text-anchor="middle">0</text>
<text x="233.6" y="154.5" font-size="5" fill="#444" text-anchor="middle" font-family='Liberation Serif'>10<tspan dy="-2" font-size="3">3</tspan></text>
<text x="262.6" y="154.5" font-size="5" fill="#444" text-anchor="middle" font-family='Liberation Serif'>10<tspan dy="-2" font-size="3">4</tspan></text>
<text x="287.6" y="154.5" font-size="5" fill="#444" text-anchor="middle" font-family='Liberation Serif'>10<tspan dy="-2" font-size="3">5</tspan></text>
<text x="274" y="53.3" font-size="10.4" font-weight="bold" textLength="10.2" lengthAdjust="spacingAndGlyphs">90</text>
<text x="279.6" y="139.9" font-size="10.4" font-weight="bold" textLength="4.8" lengthAdjust="spacingAndGlyphs">2</text>
<text x="200.7" y="139.9" font-size="10.4" font-weight="bold" textLength="4.8" lengthAdjust="spacingAndGlyphs">5</text>
<rect x="326.4" y="38.5" width="105.5" height="105" fill="#fff" stroke="#9a9a9a" stroke-width="0.9"/>
<clipPath id="cA3"><rect x="326.4" y="99" width="73.2" height="44.5"/></clipPath>
<clipPath id="cA3b"><rect x="399.6" y="99" width="33" height="44.5"/></clipPath>
<g clip-path="url(#cA3)">
<path d="M389.14 125.05C389.12 124.83 389.28 124.4 389.44 124.1C389.6 123.8 389.88 123.47 390.1 123.23C390.32 122.99 390.5 122.83 390.79 122.67C391.07 122.52 391.46 122.42 391.81 122.31C392.16 122.21 392.55 122.11 392.89 122.05C393.23 121.98 393.55 121.95 393.85 121.92C394.15 121.9 394.5 121.65 394.69 121.91C394.88 122.17 394.94 122.86 394.99 123.5C395.04 124.14 395.06 125.12 394.99 125.75C394.92 126.38 394.81 126.99 394.54 127.25C394.26 127.51 393.7 127.29 393.34 127.3C392.98 127.3 392.68 127.32 392.38 127.27C392.08 127.21 391.77 127.07 391.54 126.95C391.31 126.83 391.24 126.7 391.01 126.53C390.79 126.36 390.44 126.09 390.19 125.9C389.94 125.71 389.7 125.53 389.53 125.39C389.35 125.25 389.15 125.26 389.14 125.05Z" fill="none" stroke="#909090" stroke-width="0.5"/>
<path d="M386.46 125.07C386.43 124.72 386.69 124.03 386.95 123.53C387.21 123.04 387.66 122.5 388.02 122.12C388.39 121.73 388.68 121.46 389.15 121.21C389.61 120.96 390.24 120.8 390.81 120.62C391.38 120.45 392.01 120.29 392.57 120.18C393.12 120.08 393.64 120.03 394.13 119.99C394.62 119.95 395.19 119.54 395.5 119.96C395.81 120.39 395.91 121.51 395.99 122.56C396.07 123.6 396.11 125.2 395.99 126.22C395.87 127.24 395.71 128.25 395.26 128.67C394.81 129.09 393.89 128.74 393.3 128.74C392.72 128.74 392.23 128.78 391.74 128.69C391.25 128.6 390.74 128.38 390.37 128.18C390 127.98 389.88 127.78 389.51 127.49C389.15 127.21 388.57 126.78 388.17 126.47C387.77 126.16 387.38 125.87 387.09 125.64C386.81 125.4 386.48 125.42 386.46 125.07Z" fill="none" stroke="#909090" stroke-width="0.5"/>
<path d="M383.78 125.1C383.74 124.62 384.09 123.65 384.45 122.97C384.81 122.28 385.44 121.54 385.94 121C386.45 120.46 386.86 120.09 387.5 119.75C388.15 119.4 389.02 119.17 389.81 118.93C390.6 118.7 391.48 118.47 392.25 118.32C393.02 118.18 393.74 118.1 394.42 118.05C395.09 118 395.89 117.43 396.31 118.02C396.74 118.61 396.88 120.17 396.99 121.61C397.11 123.06 397.16 125.28 396.99 126.69C396.82 128.11 396.6 129.5 395.98 130.08C395.35 130.67 394.08 130.18 393.26 130.19C392.45 130.19 391.77 130.25 391.1 130.12C390.42 129.99 389.71 129.68 389.2 129.41C388.68 129.13 388.52 128.85 388.01 128.46C387.5 128.06 386.71 127.46 386.15 127.03C385.59 126.6 385.05 126.2 384.66 125.88C384.26 125.56 383.81 125.59 383.78 125.1Z" fill="none" stroke="#909090" stroke-width="0.5"/>
<path d="M381.09 125.13C381.05 124.51 381.5 123.27 381.96 122.4C382.42 121.53 383.22 120.57 383.87 119.89C384.52 119.2 385.04 118.72 385.86 118.28C386.68 117.84 387.8 117.55 388.81 117.24C389.82 116.94 390.94 116.65 391.93 116.46C392.91 116.28 393.83 116.18 394.7 116.12C395.57 116.05 396.58 115.31 397.13 116.07C397.68 116.83 397.85 118.82 397.99 120.67C398.14 122.52 398.21 125.36 397.99 127.17C397.78 128.97 397.49 130.76 396.69 131.5C395.9 132.24 394.27 131.62 393.23 131.63C392.19 131.64 391.32 131.71 390.45 131.54C389.59 131.38 388.68 130.99 388.03 130.63C387.37 130.28 387.16 129.93 386.51 129.42C385.86 128.91 384.84 128.15 384.13 127.6C383.41 127.05 382.73 126.54 382.22 126.13C381.71 125.72 381.14 125.75 381.09 125.13Z" fill="none" stroke="#909090" stroke-width="0.5"/>
<path d="M378.41 125.16C378.36 124.4 378.9 122.9 379.47 121.83C380.03 120.77 381 119.61 381.79 118.77C382.58 117.94 383.21 117.36 384.22 116.82C385.22 116.28 386.57 115.92 387.81 115.55C389.04 115.18 390.41 114.83 391.61 114.6C392.8 114.37 393.93 114.26 394.98 114.18C396.04 114.1 397.27 113.2 397.94 114.13C398.61 115.05 398.82 117.47 398.99 119.72C399.17 121.97 399.26 125.44 398.99 127.64C398.73 129.84 398.38 132.01 397.41 132.92C396.44 133.82 394.46 133.07 393.19 133.08C391.92 133.08 390.87 133.17 389.81 132.97C388.76 132.77 387.66 132.29 386.86 131.86C386.06 131.43 385.8 131 385.01 130.38C384.22 129.77 382.98 128.84 382.11 128.17C381.23 127.5 380.4 126.87 379.78 126.37C379.17 125.87 378.46 125.91 378.41 125.16Z" fill="none" stroke="#909090" stroke-width="0.5"/>
<path d="M375.73 125.19C375.67 124.29 376.31 122.52 376.97 121.27C377.64 120.01 378.78 118.64 379.71 117.66C380.64 116.67 381.39 115.99 382.57 115.36C383.76 114.72 385.35 114.3 386.8 113.86C388.26 113.43 389.87 113.01 391.28 112.74C392.69 112.47 394.02 112.34 395.27 112.24C396.51 112.15 397.96 111.09 398.75 112.18C399.54 113.27 399.79 116.12 400 118.78C400.2 121.43 400.31 125.52 400 128.11C399.68 130.7 399.27 133.27 398.13 134.33C396.99 135.4 394.64 134.51 393.15 134.52C391.66 134.53 390.41 134.63 389.17 134.4C387.92 134.16 386.63 133.6 385.68 133.09C384.74 132.58 384.44 132.07 383.51 131.35C382.57 130.62 381.11 129.52 380.08 128.73C379.06 127.95 378.07 127.21 377.35 126.62C376.62 126.03 375.79 126.08 375.73 125.19Z" fill="none" stroke="#909090" stroke-width="0.5"/>
<path d="M373.05 125.22C372.98 124.19 373.72 122.15 374.48 120.7C375.24 119.25 376.56 117.68 377.63 116.54C378.71 115.41 379.57 114.62 380.93 113.89C382.29 113.16 384.13 112.67 385.8 112.17C387.48 111.67 389.34 111.19 390.96 110.88C392.59 110.57 394.12 110.42 395.55 110.31C396.98 110.2 398.66 108.98 399.56 110.24C400.47 111.49 400.76 114.78 401 117.83C401.24 120.89 401.36 125.6 401 128.58C400.64 131.57 400.16 134.52 398.85 135.75C397.53 136.98 394.83 135.95 393.11 135.97C391.39 135.98 389.96 136.1 388.53 135.82C387.09 135.55 385.6 134.9 384.51 134.32C383.43 133.73 383.08 133.15 382 132.31C380.93 131.47 379.25 130.21 378.06 129.3C376.88 128.39 375.75 127.54 374.91 126.86C374.07 126.18 373.12 126.24 373.05 125.22Z" fill="none" stroke="#909090" stroke-width="0.5"/>
<path d="M370.36 125.24C370.28 124.08 371.12 121.77 371.99 120.13C372.85 118.5 374.34 116.71 375.56 115.43C376.77 114.14 377.75 113.25 379.29 112.43C380.83 111.6 382.91 111.05 384.8 110.48C386.69 109.91 388.8 109.37 390.64 109.02C392.48 108.67 394.21 108.49 395.83 108.37C397.46 108.25 399.35 106.87 400.38 108.29C401.4 109.71 401.73 113.43 402 116.89C402.27 120.35 402.4 125.68 402 129.06C401.59 132.44 401.05 135.77 399.56 137.17C398.08 138.56 395.02 137.4 393.08 137.41C391.13 137.42 389.51 137.56 387.88 137.25C386.26 136.94 384.57 136.21 383.34 135.54C382.11 134.88 381.72 134.22 380.5 133.27C379.29 132.33 377.38 130.89 376.04 129.87C374.7 128.84 373.42 127.88 372.47 127.11C371.53 126.34 370.45 126.41 370.36 125.24Z" fill="none" stroke="#909090" stroke-width="0.5"/>
<path d="M367.68 125.27C367.59 123.97 368.53 121.39 369.49 119.57C370.46 117.74 372.12 115.75 373.48 114.31C374.84 112.88 375.92 111.88 377.64 110.96C379.36 110.04 381.69 109.42 383.8 108.79C385.91 108.16 388.27 107.55 390.32 107.16C392.37 106.77 394.31 106.57 396.12 106.44C397.93 106.3 400.04 104.76 401.19 106.35C402.33 107.93 402.7 112.08 403 115.94C403.3 119.81 403.45 125.75 403 129.53C402.55 133.3 401.94 137.03 400.28 138.58C398.62 140.14 395.21 138.84 393.04 138.86C390.86 138.87 389.05 139.02 387.24 138.67C385.43 138.33 383.54 137.51 382.17 136.77C380.8 136.03 380.36 135.29 379 134.24C377.64 133.18 375.52 131.58 374.02 130.43C372.53 129.29 371.09 128.21 370.04 127.35C368.98 126.49 367.77 126.57 367.68 125.27Z" fill="none" stroke="#909090" stroke-width="0.5"/>
<path d="M365 125.3C364.9 123.87 365.93 121.02 367 119C368.07 116.98 369.9 114.78 371.4 113.2C372.9 111.62 374.1 110.52 376 109.5C377.9 108.48 380.47 107.8 382.8 107.1C385.13 106.4 387.73 105.73 390 105.3C392.27 104.87 394.4 104.65 396.4 104.5C398.4 104.35 400.73 102.65 402 104.4C403.27 106.15 403.67 110.73 404 115C404.33 119.27 404.5 125.83 404 130C403.5 134.17 402.83 138.28 401 140C399.17 141.72 395.4 140.28 393 140.3C390.6 140.32 388.6 140.48 386.6 140.1C384.6 139.72 382.52 138.82 381 138C379.48 137.18 379 136.37 377.5 135.2C376 134.03 373.65 132.27 372 131C370.35 129.73 368.77 128.55 367.6 127.6C366.43 126.65 365.1 126.73 365 125.3Z" fill="none" stroke="#909090" stroke-width="0.5"/>
</g><g clip-path="url(#cA3b)">
<ellipse cx="399.6" cy="118.8" rx="2.04" ry="10.4" fill="none" stroke="#8c8c8c" stroke-width="0.55"/>
<ellipse cx="399.6" cy="118.33" rx="2.83" ry="11.33" fill="none" stroke="#8c8c8c" stroke-width="0.55"/>
<ellipse cx="399.6" cy="117.87" rx="3.63" ry="12.27" fill="none" stroke="#8c8c8c" stroke-width="0.55"/>
<ellipse cx="399.6" cy="117.4" rx="4.42" ry="13.2" fill="none" stroke="#8c8c8c" stroke-width="0.55"/>
<ellipse cx="399.6" cy="116.93" rx="5.21" ry="14.13" fill="none" stroke="#8c8c8c" stroke-width="0.55"/>
<ellipse cx="399.6" cy="116.47" rx="6.01" ry="15.07" fill="none" stroke="#8c8c8c" stroke-width="0.55"/>
<ellipse cx="399.6" cy="116" rx="6.8" ry="16" fill="none" stroke="#8c8c8c" stroke-width="0.55"/>
</g>
<rect x="391.41" y="97.72" width="1.9" height="1.9" fill="#111"/>
<rect x="397.66" y="99.29" width="1.9" height="1.9" fill="#111"/>
<rect x="400.78" y="104.29" width="1.9" height="1.9" fill="#111"/>
<rect x="401.88" y="105.07" width="1.9" height="1.9" fill="#111"/>
<rect x="357.5" y="103.19" width="1.9" height="1.9" fill="#111"/>
<rect x="366.09" y="109.76" width="1.9" height="1.9" fill="#111"/>
<rect x="374.69" y="108.66" width="1.9" height="1.9" fill="#111"/>
<rect x="378.91" y="106.63" width="1.9" height="1.9" fill="#111"/>
<rect x="381.56" y="105.85" width="1.9" height="1.9" fill="#111"/>
<rect x="381.56" y="104.6" width="1.9" height="1.9" fill="#111"/>
<rect x="357.5" y="115.22" width="1.9" height="1.9" fill="#111"/>
<rect x="364.06" y="114.76" width="1.9" height="1.9" fill="#111"/>
<rect x="345.31" y="120.69" width="1.9" height="1.9" fill="#111"/>
<rect x="329.69" y="123.35" width="1.9" height="1.9" fill="#111"/>
<rect x="341.72" y="125.85" width="1.9" height="1.9" fill="#111"/>
<rect x="357.03" y="121.94" width="1.9" height="1.9" fill="#111"/>
<rect x="361.25" y="123.35" width="1.9" height="1.9" fill="#111"/>
<rect x="363.75" y="124.91" width="1.9" height="1.9" fill="#111"/>
<rect x="357.81" y="126.47" width="1.9" height="1.9" fill="#111"/>
<rect x="359.06" y="126.47" width="1.9" height="1.9" fill="#111"/>
<rect x="360.94" y="130.54" width="1.9" height="1.9" fill="#111"/>
<rect x="366.41" y="129.29" width="1.9" height="1.9" fill="#111"/>
<rect x="376.56" y="134.44" width="1.9" height="1.9" fill="#111"/>
<rect x="370.78" y="137.88" width="1.9" height="1.9" fill="#111"/>
<rect x="385.16" y="138.66" width="1.9" height="1.9" fill="#111"/>
<rect x="385.94" y="142.1" width="1.9" height="1.9" fill="#111"/>
<line x1="399.4" y1="38.5" x2="399.4" y2="143.5" stroke="#444" stroke-width="1.3"/>
<line x1="326.4" y1="99" x2="431.9" y2="99" stroke="#444" stroke-width="1.3"/>
<line x1="323.4" y1="48.5" x2="326.4" y2="48.5" stroke="#555" stroke-width="0.8"/>
<line x1="323.4" y1="73.5" x2="326.4" y2="73.5" stroke="#555" stroke-width="0.8"/>
<line x1="323.4" y1="101" x2="326.4" y2="101" stroke="#555" stroke-width="0.8"/>
<line x1="323.4" y1="119.5" x2="326.4" y2="119.5" stroke="#555" stroke-width="0.8"/>
<line x1="323.4" y1="138" x2="326.4" y2="138" stroke="#555" stroke-width="0.8"/>
<line x1="324.9" y1="40" x2="326.4" y2="40" stroke="#888" stroke-width="0.5"/>
<line x1="324.9" y1="44.3" x2="326.4" y2="44.3" stroke="#888" stroke-width="0.5"/>
<line x1="324.9" y1="48.6" x2="326.4" y2="48.6" stroke="#888" stroke-width="0.5"/>
<line x1="324.9" y1="52.9" x2="326.4" y2="52.9" stroke="#888" stroke-width="0.5"/>
<line x1="324.9" y1="57.2" x2="326.4" y2="57.2" stroke="#888" stroke-width="0.5"/>
<line x1="324.9" y1="61.5" x2="326.4" y2="61.5" stroke="#888" stroke-width="0.5"/>
<line x1="324.9" y1="65.8" x2="326.4" y2="65.8" stroke="#888" stroke-width="0.5"/>
<line x1="324.9" y1="70.1" x2="326.4" y2="70.1" stroke="#888" stroke-width="0.5"/>
<line x1="324.9" y1="74.4" x2="326.4" y2="74.4" stroke="#888" stroke-width="0.5"/>
<line x1="324.9" y1="78.7" x2="326.4" y2="78.7" stroke="#888" stroke-width="0.5"/>
<line x1="324.9" y1="83" x2="326.4" y2="83" stroke="#888" stroke-width="0.5"/>
<line x1="324.9" y1="87.3" x2="326.4" y2="87.3" stroke="#888" stroke-width="0.5"/>
<line x1="324.9" y1="91.6" x2="326.4" y2="91.6" stroke="#888" stroke-width="0.5"/>
<line x1="324.9" y1="95.9" x2="326.4" y2="95.9" stroke="#888" stroke-width="0.5"/>
<line x1="324.9" y1="100.2" x2="326.4" y2="100.2" stroke="#888" stroke-width="0.5"/>
<line x1="324.9" y1="104.5" x2="326.4" y2="104.5" stroke="#888" stroke-width="0.5"/>
<line x1="324.9" y1="108.8" x2="326.4" y2="108.8" stroke="#888" stroke-width="0.5"/>
<line x1="324.9" y1="113.1" x2="326.4" y2="113.1" stroke="#888" stroke-width="0.5"/>
<line x1="324.9" y1="117.4" x2="326.4" y2="117.4" stroke="#888" stroke-width="0.5"/>
<line x1="324.9" y1="121.7" x2="326.4" y2="121.7" stroke="#888" stroke-width="0.5"/>
<line x1="324.9" y1="126" x2="326.4" y2="126" stroke="#888" stroke-width="0.5"/>
<line x1="324.9" y1="130.3" x2="326.4" y2="130.3" stroke="#888" stroke-width="0.5"/>
<line x1="324.9" y1="134.6" x2="326.4" y2="134.6" stroke="#888" stroke-width="0.5"/>
<line x1="324.9" y1="138.9" x2="326.4" y2="138.9" stroke="#888" stroke-width="0.5"/>
<line x1="332.9" y1="143.5" x2="332.9" y2="147" stroke="#333" stroke-width="0.9"/>
<line x1="350.4" y1="143.5" x2="350.4" y2="147" stroke="#333" stroke-width="0.9"/>
<line x1="370.4" y1="143.5" x2="370.4" y2="147" stroke="#333" stroke-width="0.9"/>
<line x1="399.4" y1="143.5" x2="399.4" y2="147" stroke="#333" stroke-width="0.9"/>
<line x1="424.4" y1="143.5" x2="424.4" y2="147" stroke="#333" stroke-width="0.9"/>
<line x1="328.4" y1="143.5" x2="328.4" y2="145.3" stroke="#666" stroke-width="0.6"/>
<line x1="332.4" y1="143.5" x2="332.4" y2="145.3" stroke="#666" stroke-width="0.6"/>
<line x1="336.4" y1="143.5" x2="336.4" y2="145.3" stroke="#666" stroke-width="0.6"/>
<line x1="340.4" y1="143.5" x2="340.4" y2="145.3" stroke="#666" stroke-width="0.6"/>
<line x1="344.4" y1="143.5" x2="344.4" y2="145.3" stroke="#666" stroke-width="0.6"/>
<line x1="348.4" y1="143.5" x2="348.4" y2="145.3" stroke="#666" stroke-width="0.6"/>
<line x1="352.4" y1="143.5" x2="352.4" y2="145.3" stroke="#666" stroke-width="0.6"/>
<line x1="356.4" y1="143.5" x2="356.4" y2="145.3" stroke="#666" stroke-width="0.6"/>
<line x1="360.4" y1="143.5" x2="360.4" y2="145.3" stroke="#666" stroke-width="0.6"/>
<line x1="364.4" y1="143.5" x2="364.4" y2="145.3" stroke="#666" stroke-width="0.6"/>
<line x1="368.4" y1="143.5" x2="368.4" y2="145.3" stroke="#666" stroke-width="0.6"/>
<line x1="372.4" y1="143.5" x2="372.4" y2="145.3" stroke="#666" stroke-width="0.6"/>
<line x1="376.4" y1="143.5" x2="376.4" y2="145.3" stroke="#666" stroke-width="0.6"/>
<line x1="380.4" y1="143.5" x2="380.4" y2="145.3" stroke="#666" stroke-width="0.6"/>
<line x1="384.4" y1="143.5" x2="384.4" y2="145.3" stroke="#666" stroke-width="0.6"/>
<line x1="388.4" y1="143.5" x2="388.4" y2="145.3" stroke="#666" stroke-width="0.6"/>
<line x1="392.4" y1="143.5" x2="392.4" y2="145.3" stroke="#666" stroke-width="0.6"/>
<line x1="396.4" y1="143.5" x2="396.4" y2="145.3" stroke="#666" stroke-width="0.6"/>
<line x1="400.4" y1="143.5" x2="400.4" y2="145.3" stroke="#666" stroke-width="0.6"/>
<line x1="404.4" y1="143.5" x2="404.4" y2="145.3" stroke="#666" stroke-width="0.6"/>
<line x1="408.4" y1="143.5" x2="408.4" y2="145.3" stroke="#666" stroke-width="0.6"/>
<line x1="412.4" y1="143.5" x2="412.4" y2="145.3" stroke="#666" stroke-width="0.6"/>
<line x1="416.4" y1="143.5" x2="416.4" y2="145.3" stroke="#666" stroke-width="0.6"/>
<line x1="420.4" y1="143.5" x2="420.4" y2="145.3" stroke="#666" stroke-width="0.6"/>
<line x1="424.4" y1="143.5" x2="424.4" y2="145.3" stroke="#666" stroke-width="0.6"/>
<line x1="428.4" y1="143.5" x2="428.4" y2="145.3" stroke="#666" stroke-width="0.6"/>
<rect x="345.4" y="143.8" width="7" height="2.8" fill="#222"/>
<rect x="324.2" y="117.8" width="2.2" height="6" fill="#111"/>
<text x="321.9" y="50.1" font-size="5" fill="#444" text-anchor="end" font-family='Liberation Serif'>10<tspan dy="-2" font-size="3">5</tspan></text>
<text x="321.9" y="75.1" font-size="5" fill="#444" text-anchor="end" font-family='Liberation Serif'>10<tspan dy="-2" font-size="3">4</tspan></text>
<text x="321.9" y="102.6" font-size="5" fill="#444" text-anchor="end" font-family='Liberation Serif'>10<tspan dy="-2" font-size="3">3</tspan></text>
<text x="321.9" y="139.6" font-size="5" fill="#444" text-anchor="end" font-family='Liberation Serif'>-10<tspan dy="-2" font-size="3">3</tspan></text>
<text x="320.4" y="121.1" font-size="5" fill="#444" text-anchor="end">0</text>
<text x="332.9" y="154.5" font-size="5" fill="#444" text-anchor="middle" font-family='Liberation Serif'>-10<tspan dy="-2" font-size="3">3</tspan></text>
<text x="350.4" y="154.5" font-size="5" fill="#444" text-anchor="middle">0</text>
<text x="370.4" y="154.5" font-size="5" fill="#444" text-anchor="middle" font-family='Liberation Serif'>10<tspan dy="-2" font-size="3">3</tspan></text>
<text x="399.4" y="154.5" font-size="5" fill="#444" text-anchor="middle" font-family='Liberation Serif'>10<tspan dy="-2" font-size="3">4</tspan></text>
<text x="424.4" y="154.5" font-size="5" fill="#444" text-anchor="middle" font-family='Liberation Serif'>10<tspan dy="-2" font-size="3">5</tspan></text>
<text x="415.8" y="52.9" font-size="10.4" font-weight="bold" textLength="5" lengthAdjust="spacingAndGlyphs">0</text>
<text x="337" y="139.9" font-size="10.4" font-weight="bold" textLength="10.4" lengthAdjust="spacingAndGlyphs">85</text>
<text x="411" y="139.9" font-size="10.4" font-weight="bold" textLength="9.5" lengthAdjust="spacingAndGlyphs">14</text>
<line x1="31.6" y1="39" x2="31.6" y2="59.6" stroke="#000" stroke-width="1.6"/>
<line x1="31.6" y1="121" x2="31.6" y2="143.5" stroke="#000" stroke-width="1.6"/>
<text x="32" y="88.5" font-size="15.3" font-weight="bold" text-anchor="middle" textLength="33" lengthAdjust="spacingAndGlyphs" transform="rotate(-90 32 88.5)">CD80</text>
<line x1="57" y1="165.6" x2="219" y2="165.6" stroke="#000" stroke-width="1.6"/>
<line x1="279.7" y1="165.4" x2="431.3" y2="165.4" stroke="#000" stroke-width="1.6"/>
<text x="232.6" y="175.4" font-size="13.6" font-weight="bold" textLength="34" lengthAdjust="spacingAndGlyphs">CD86</text>
<text x="506.6" y="27.6" font-size="20.5" textLength="12.4" lengthAdjust="spacingAndGlyphs">C</text>
<text x="599" y="11.6" font-size="12.2" font-weight="bold" textLength="31" lengthAdjust="spacingAndGlyphs">mDC</text>
<line x1="583.6" y1="137" x2="583.6" y2="133.6" stroke="#555" stroke-width="0.9"/>
<line x1="580.08" y1="133.6" x2="587.12" y2="133.6" stroke="#555" stroke-width="0.9"/>
<rect x="576.25" y="137.65" width="14.7" height="6.75" fill="#fff" stroke="#000" stroke-width="1.3"/>
<line x1="609.8" y1="91.4" x2="609.8" y2="83.6" stroke="#555" stroke-width="0.9"/>
<line x1="606.19" y1="83.6" x2="613.41" y2="83.6" stroke="#555" stroke-width="0.9"/>
<rect x="602.25" y="92.05" width="15.1" height="52.35" fill="#cdcdcd" stroke="#000" stroke-width="1.3"/>
<line x1="636.2" y1="58.6" x2="636.2" y2="46" stroke="#555" stroke-width="0.9"/>
<line x1="632.42" y1="46" x2="639.98" y2="46" stroke="#555" stroke-width="0.9"/>
<rect x="628.25" y="59.25" width="15.9" height="85.15" fill="#000" stroke="#000" stroke-width="1.3"/>
<line x1="662.3" y1="91" x2="662.3" y2="82.4" stroke="#555" stroke-width="0.9"/>
<line x1="658.65" y1="82.4" x2="665.95" y2="82.4" stroke="#555" stroke-width="0.9"/>
<rect x="654.65" y="91.65" width="15.3" height="52.75" fill="url(#hatch)" stroke="#000" stroke-width="1.3"/>
<line x1="566.6" y1="30.5" x2="566.6" y2="145.2" stroke="#000" stroke-width="1.4"/>
<line x1="561" y1="144.4" x2="680" y2="144.4" stroke="#000" stroke-width="1.4"/>
<line x1="561" y1="31" x2="566.6" y2="31" stroke="#000" stroke-width="1.2"/>
<text x="559.6" y="34.1" font-size="8.6" font-weight="bold" text-anchor="end" textLength="19" lengthAdjust="spacingAndGlyphs">1500</text>
<line x1="561" y1="68.6" x2="566.6" y2="68.6" stroke="#000" stroke-width="1.2"/>
<text x="559.6" y="71.7" font-size="8.6" font-weight="bold" text-anchor="end" textLength="19" lengthAdjust="spacingAndGlyphs">1000</text>
<line x1="561" y1="106.4" x2="566.6" y2="106.4" stroke="#000" stroke-width="1.2"/>
<text x="559.6" y="109.5" font-size="8.6" font-weight="bold" text-anchor="end" textLength="14.3" lengthAdjust="spacingAndGlyphs">500</text>
<line x1="561" y1="144.2" x2="566.6" y2="144.2" stroke="#000" stroke-width="1.2"/>
<text x="559.6" y="147.3" font-size="8.6" font-weight="bold" text-anchor="end" textLength="5" lengthAdjust="spacingAndGlyphs">0</text>
<line x1="583.6" y1="144.4" x2="583.6" y2="149.5" stroke="#000" stroke-width="1.2"/>
<line x1="609.6" y1="144.4" x2="609.6" y2="149.5" stroke="#000" stroke-width="1.2"/>
<line x1="636" y1="144.4" x2="636" y2="149.5" stroke="#000" stroke-width="1.2"/>
<line x1="662.4" y1="144.4" x2="662.4" y2="149.5" stroke="#000" stroke-width="1.2"/>
<path d="M609.6 77 V32 H636.2 V39.6" stroke="#000" stroke-width="1.1" fill="none"/>
<text x="623" y="31.6" font-size="14.4" font-weight="bold" text-anchor="middle" textLength="5.6" lengthAdjust="spacingAndGlyphs">*</text>
<text x="586.8" y="156.6" font-size="8.4" font-weight="bold" text-anchor="end" textLength="34" lengthAdjust="spacingAndGlyphs" transform="rotate(-45 586.8 156.6)">Medium</text>
<text x="612.8" y="156.6" font-size="8.4" font-weight="bold" text-anchor="end" textLength="13.5" lengthAdjust="spacingAndGlyphs" transform="rotate(-45 612.8 156.6)">+ 0</text>
<text x="639.2" y="156.6" font-size="8.4" font-weight="bold" text-anchor="end" textLength="28" lengthAdjust="spacingAndGlyphs" transform="rotate(-45 639.2 156.6)">+ tVLP</text>
<text x="665.6" y="156.6" font-size="8.4" font-weight="bold" text-anchor="end" textLength="25" lengthAdjust="spacingAndGlyphs" transform="rotate(-45 665.6 156.6)">+ 4-Ig</text>
<path d="M597.4 180 V183 H674.6 V180" stroke="#000" stroke-width="1.4" fill="none"/>
<text x="636.3" y="194.4" font-size="8.8" font-weight="bold" text-anchor="middle" textLength="17.4" lengthAdjust="spacingAndGlyphs">LPS</text>
<text x="534.8" y="87.5" font-size="9.2" font-weight="bold" text-anchor="middle" textLength="57" lengthAdjust="spacingAndGlyphs" transform="rotate(-90 534.8 87.5)">IL-10 (pg/mL)</text>
<text x="1.5" y="205.4" font-size="19" textLength="11.5" lengthAdjust="spacingAndGlyphs">B</text>
<text x="159.6" y="219" font-size="12.6" font-weight="bold" textLength="31.4" lengthAdjust="spacingAndGlyphs">mDC</text>
<text x="486.4" y="219" font-size="12.6" font-weight="bold" textLength="53.6" lengthAdjust="spacingAndGlyphs">mBMDC</text>
<rect x="64.65" y="318.25" width="10.3" height="23.95" fill="#fff" stroke="#000" stroke-width="1.3"/>
<line x1="89" y1="285.6" x2="89" y2="271.2" stroke="#555" stroke-width="0.9"/>
<line x1="86.45" y1="271.2" x2="91.55" y2="271.2" stroke="#555" stroke-width="0.9"/>
<rect x="83.85" y="286.25" width="10.3" height="55.95" fill="#cdcdcd" stroke="#000" stroke-width="1.3"/>
<line x1="108" y1="282.4" x2="108" y2="267.6" stroke="#555" stroke-width="0.9"/>
<line x1="105.36" y1="267.6" x2="110.64" y2="267.6" stroke="#555" stroke-width="0.9"/>
<rect x="102.65" y="283.05" width="10.7" height="59.15" fill="#7f7f7f" stroke="#000" stroke-width="1.3"/>
<line x1="146.2" y1="313.2" x2="146.2" y2="305.2" stroke="#555" stroke-width="0.9"/>
<line x1="143.65" y1="305.2" x2="148.75" y2="305.2" stroke="#555" stroke-width="0.9"/>
<rect x="141.05" y="313.85" width="10.3" height="28.35" fill="url(#hatch)" stroke="#000" stroke-width="1.3"/>
<line x1="57.6" y1="240.1" x2="57.6" y2="342.9" stroke="#000" stroke-width="1.3"/>
<line x1="53.6" y1="342.2" x2="156" y2="342.2" stroke="#000" stroke-width="1.3"/>
<line x1="53.4" y1="240.6" x2="57.6" y2="240.6" stroke="#000" stroke-width="1.1"/>
<text x="51.6" y="243.2" font-size="7.4" font-weight="bold" text-anchor="end" textLength="4.4" lengthAdjust="spacingAndGlyphs">4</text>
<line x1="53.4" y1="266" x2="57.6" y2="266" stroke="#000" stroke-width="1.1"/>
<text x="51.6" y="268.6" font-size="7.4" font-weight="bold" text-anchor="end" textLength="4.4" lengthAdjust="spacingAndGlyphs">3</text>
<line x1="53.4" y1="291.4" x2="57.6" y2="291.4" stroke="#000" stroke-width="1.1"/>
<text x="51.6" y="294" font-size="7.4" font-weight="bold" text-anchor="end" textLength="4.4" lengthAdjust="spacingAndGlyphs">2</text>
<line x1="53.4" y1="316.8" x2="57.6" y2="316.8" stroke="#000" stroke-width="1.1"/>
<text x="51.6" y="319.4" font-size="7.4" font-weight="bold" text-anchor="end" textLength="4.4" lengthAdjust="spacingAndGlyphs">1</text>
<line x1="53.4" y1="342.2" x2="57.6" y2="342.2" stroke="#000" stroke-width="1.1"/>
<text x="51.6" y="344.8" font-size="7.4" font-weight="bold" text-anchor="end" textLength="4.4" lengthAdjust="spacingAndGlyphs">0</text>
<line x1="69.6" y1="342.2" x2="69.6" y2="346.7" stroke="#000" stroke-width="1.1"/>
<line x1="88.2" y1="342.2" x2="88.2" y2="346.7" stroke="#000" stroke-width="1.1"/>
<line x1="107.6" y1="342.2" x2="107.6" y2="346.7" stroke="#000" stroke-width="1.1"/>
<line x1="126.8" y1="342.2" x2="126.8" y2="346.7" stroke="#000" stroke-width="1.1"/>
<line x1="146" y1="342.2" x2="146" y2="346.7" stroke="#000" stroke-width="1.1"/>
<path d="M88.4 265 V255 H127.2 V336" stroke="#000" stroke-width="1" fill="none"/>
<text x="108.3" y="256.2" font-size="14" font-weight="bold" text-anchor="middle" textLength="5.6" lengthAdjust="spacingAndGlyphs">*</text>
<text x="72.2" y="352.8" font-size="7.4" font-weight="bold" text-anchor="end" textLength="28.62" lengthAdjust="spacingAndGlyphs" transform="rotate(-45 72.2 352.8)">Medium</text>
<text x="90.8" y="352.8" font-size="7.4" font-weight="bold" text-anchor="end" textLength="11.66" lengthAdjust="spacingAndGlyphs" transform="rotate(-45 90.8 352.8)">+ 0</text>
<text x="110.2" y="352.8" font-size="7.4" font-weight="bold" text-anchor="end" textLength="25.44" lengthAdjust="spacingAndGlyphs" transform="rotate(-45 110.2 352.8)">+ VLP-</text>
<text x="129.4" y="352.8" font-size="7.4" font-weight="bold" text-anchor="end" textLength="24.38" lengthAdjust="spacingAndGlyphs" transform="rotate(-45 129.4 352.8)">+ tVLP</text>
<text x="148.6" y="352.8" font-size="7.4" font-weight="bold" text-anchor="end" textLength="21.2" lengthAdjust="spacingAndGlyphs" transform="rotate(-45 148.6 352.8)">+ 4-Ig</text>
<path d="M73.6 376.6 V379.4 H156.5 V376.6" stroke="#000" stroke-width="1.3" fill="none"/>
<text x="119.6" y="389.4" font-size="8.2" font-weight="bold" text-anchor="middle" textLength="15.2" lengthAdjust="spacingAndGlyphs">LPS</text>
<text x="40.6" y="291.5" font-size="8.6" font-weight="bold" text-anchor="middle" textLength="99" lengthAdjust="spacingAndGlyphs" transform="rotate(-90 40.6 291.5)">Fold Change of CD80 MFI</text>
<rect x="235.25" y="310.45" width="10.1" height="31.75" fill="#fff" stroke="#000" stroke-width="1.3"/>
<line x1="258.5" y1="281" x2="258.5" y2="269" stroke="#555" stroke-width="0.9"/>
<line x1="256.08" y1="269" x2="260.92" y2="269" stroke="#555" stroke-width="0.9"/>
<rect x="253.65" y="281.65" width="9.7" height="60.55" fill="#cdcdcd" stroke="#000" stroke-width="1.3"/>
<line x1="277" y1="266" x2="277" y2="247.4" stroke="#555" stroke-width="0.9"/>
<line x1="274.62" y1="247.4" x2="279.38" y2="247.4" stroke="#555" stroke-width="0.9"/>
<rect x="272.25" y="266.65" width="9.5" height="75.55" fill="#7f7f7f" stroke="#000" stroke-width="1.3"/>
<line x1="295" y1="333" x2="295" y2="332" stroke="#555" stroke-width="0.9"/>
<line x1="292.36" y1="332" x2="297.64" y2="332" stroke="#555" stroke-width="0.9"/>
<rect x="289.65" y="333.65" width="10.7" height="8.55" fill="#000" stroke="#000" stroke-width="1.3"/>
<line x1="312.8" y1="335" x2="312.8" y2="334.2" stroke="#555" stroke-width="0.9"/>
<line x1="310.25" y1="334.2" x2="315.35" y2="334.2" stroke="#555" stroke-width="0.9"/>
<rect x="307.65" y="335.65" width="10.3" height="6.55" fill="url(#hatch)" stroke="#000" stroke-width="1.3"/>
<line x1="228.2" y1="244.7" x2="228.2" y2="342.9" stroke="#000" stroke-width="1.3"/>
<line x1="224.2" y1="342.2" x2="325.6" y2="342.2" stroke="#000" stroke-width="1.3"/>
<line x1="224" y1="245.2" x2="228.2" y2="245.2" stroke="#000" stroke-width="1.1"/>
<text x="222.2" y="247.8" font-size="7.4" font-weight="bold" text-anchor="end" textLength="4.4" lengthAdjust="spacingAndGlyphs">3</text>
<line x1="224" y1="277.4" x2="228.2" y2="277.4" stroke="#000" stroke-width="1.1"/>
<text x="222.2" y="280" font-size="7.4" font-weight="bold" text-anchor="end" textLength="4.4" lengthAdjust="spacingAndGlyphs">2</text>
<line x1="224" y1="309.8" x2="228.2" y2="309.8" stroke="#000" stroke-width="1.1"/>
<text x="222.2" y="312.4" font-size="7.4" font-weight="bold" text-anchor="end" textLength="4.4" lengthAdjust="spacingAndGlyphs">1</text>
<line x1="224" y1="342.2" x2="228.2" y2="342.2" stroke="#000" stroke-width="1.1"/>
<text x="222.2" y="344.8" font-size="7.4" font-weight="bold" text-anchor="end" textLength="4.4" lengthAdjust="spacingAndGlyphs">0</text>
<line x1="240" y1="342.2" x2="240" y2="346.7" stroke="#000" stroke-width="1.1"/>
<line x1="258.4" y1="342.2" x2="258.4" y2="346.7" stroke="#000" stroke-width="1.1"/>
<line x1="276.6" y1="342.2" x2="276.6" y2="346.7" stroke="#000" stroke-width="1.1"/>
<line x1="294.6" y1="342.2" x2="294.6" y2="346.7" stroke="#000" stroke-width="1.1"/>
<line x1="313" y1="342.2" x2="313" y2="346.7" stroke="#000" stroke-width="1.1"/>
<path d="M258.4 253 V240.6 H294.2 V325.6" stroke="#000" stroke-width="1" fill="none"/>
<text x="276.3" y="241.7" font-size="14.4" font-weight="bold" text-anchor="middle" textLength="5.6" lengthAdjust="spacingAndGlyphs">*</text>
<text x="242.6" y="352.8" font-size="7.4" font-weight="bold" text-anchor="end" textLength="28.62" lengthAdjust="spacingAndGlyphs" transform="rotate(-45 242.6 352.8)">Medium</text>
<text x="261" y="352.8" font-size="7.4" font-weight="bold" text-anchor="end" textLength="9.54" lengthAdjust="spacingAndGlyphs" transform="rotate(-45 261 352.8)">+0</text>
<text x="279.2" y="352.8" font-size="7.4" font-weight="bold" text-anchor="end" textLength="25.44" lengthAdjust="spacingAndGlyphs" transform="rotate(-45 279.2 352.8)">+ VLP-</text>
<text x="297.2" y="352.8" font-size="7.4" font-weight="bold" text-anchor="end" textLength="22.26" lengthAdjust="spacingAndGlyphs" transform="rotate(-45 297.2 352.8)">+tVLP</text>
<text x="315.6" y="352.8" font-size="7.4" font-weight="bold" text-anchor="end" textLength="21.2" lengthAdjust="spacingAndGlyphs" transform="rotate(-45 315.6 352.8)">+ 4-Ig</text>
<path d="M243.6 373.8 V376.6 H325.6 V373.8" stroke="#000" stroke-width="1.3" fill="none"/>
<text x="288.3" y="386.4" font-size="8.2" font-weight="bold" text-anchor="middle" textLength="14.6" lengthAdjust="spacingAndGlyphs">LPS</text>
<text x="211.2" y="294" font-size="8.6" font-weight="bold" text-anchor="middle" textLength="95" lengthAdjust="spacingAndGlyphs" transform="rotate(-90 211.2 294)">Fold Change of CD86 MFI</text>
<rect x="414.05" y="326.65" width="13.3" height="10.95" fill="#fff" stroke="#000" stroke-width="1.3"/>
<line x1="443.5" y1="252.6" x2="443.5" y2="250.2" stroke="#555" stroke-width="0.9"/>
<line x1="440.46" y1="250.2" x2="446.54" y2="250.2" stroke="#555" stroke-width="0.9"/>
<rect x="437.25" y="253.25" width="12.5" height="84.35" fill="#cdcdcd" stroke="#000" stroke-width="1.3"/>
<line x1="466.5" y1="317.2" x2="466.5" y2="316.2" stroke="#555" stroke-width="0.9"/>
<line x1="463.38" y1="316.2" x2="469.62" y2="316.2" stroke="#555" stroke-width="0.9"/>
<rect x="460.05" y="317.85" width="12.9" height="19.75" fill="#000" stroke="#000" stroke-width="1.3"/>
<line x1="489.4" y1="301" x2="489.4" y2="298.4" stroke="#555" stroke-width="0.9"/>
<line x1="486.32" y1="298.4" x2="492.48" y2="298.4" stroke="#555" stroke-width="0.9"/>
<rect x="483.05" y="301.65" width="12.7" height="35.95" fill="url(#hatch)" stroke="#000" stroke-width="1.3"/>
<line x1="406" y1="238.1" x2="406" y2="338.3" stroke="#000" stroke-width="1.3"/>
<line x1="402" y1="337.6" x2="505" y2="337.6" stroke="#000" stroke-width="1.3"/>
<line x1="401.8" y1="238.6" x2="406" y2="238.6" stroke="#000" stroke-width="1.1"/>
<text x="400" y="241.2" font-size="7.4" font-weight="bold" text-anchor="end" textLength="4.4" lengthAdjust="spacingAndGlyphs">8</text>
<line x1="401.8" y1="263.6" x2="406" y2="263.6" stroke="#000" stroke-width="1.1"/>
<text x="400" y="266.2" font-size="7.4" font-weight="bold" text-anchor="end" textLength="4.4" lengthAdjust="spacingAndGlyphs">6</text>
<line x1="401.8" y1="288.6" x2="406" y2="288.6" stroke="#000" stroke-width="1.1"/>
<text x="400" y="291.2" font-size="7.4" font-weight="bold" text-anchor="end" textLength="4.4" lengthAdjust="spacingAndGlyphs">4</text>
<line x1="401.8" y1="313.4" x2="406" y2="313.4" stroke="#000" stroke-width="1.1"/>
<text x="400" y="316" font-size="7.4" font-weight="bold" text-anchor="end" textLength="4.4" lengthAdjust="spacingAndGlyphs">2</text>
<line x1="401.8" y1="338.2" x2="406" y2="338.2" stroke="#000" stroke-width="1.1"/>
<text x="400" y="340.8" font-size="7.4" font-weight="bold" text-anchor="end" textLength="4.4" lengthAdjust="spacingAndGlyphs">0</text>
<line x1="420.4" y1="337.6" x2="420.4" y2="342.1" stroke="#000" stroke-width="1.1"/>
<line x1="443.6" y1="337.6" x2="443.6" y2="342.1" stroke="#000" stroke-width="1.1"/>
<line x1="466.4" y1="337.6" x2="466.4" y2="342.1" stroke="#000" stroke-width="1.1"/>
<line x1="489.2" y1="337.6" x2="489.2" y2="342.1" stroke="#000" stroke-width="1.1"/>
<path d="M443.4 244.6 V238.4 H466.6 V311" stroke="#000" stroke-width="1" fill="none"/>
<text x="455.2" y="238.8" font-size="14" font-weight="bold" text-anchor="middle" textLength="11.6" lengthAdjust="spacingAndGlyphs">**</text>
<text x="423" y="348.3" font-size="7.4" font-weight="bold" text-anchor="end" textLength="28.62" lengthAdjust="spacingAndGlyphs" transform="rotate(-45 423 348.3)">Medium</text>
<text x="446.2" y="348.3" font-size="7.4" font-weight="bold" text-anchor="end" textLength="11.66" lengthAdjust="spacingAndGlyphs" transform="rotate(-45 446.2 348.3)">+ 0</text>
<text x="469" y="348.3" font-size="7.4" font-weight="bold" text-anchor="end" textLength="24.38" lengthAdjust="spacingAndGlyphs" transform="rotate(-45 469 348.3)">+ tVLP</text>
<text x="491.8" y="348.3" font-size="7.4" font-weight="bold" text-anchor="end" textLength="21.2" lengthAdjust="spacingAndGlyphs" transform="rotate(-45 491.8 348.3)">+ 4-Ig</text>
<path d="M433.4 370.8 V373.6 H500.4 V370.8" stroke="#000" stroke-width="1.3" fill="none"/>
<text x="467.2" y="383.4" font-size="8.2" font-weight="bold" text-anchor="middle" textLength="15.6" lengthAdjust="spacingAndGlyphs">LPS</text>
<text x="388.6" y="288" font-size="8.6" font-weight="bold" text-anchor="middle" textLength="97" lengthAdjust="spacingAndGlyphs" transform="rotate(-90 388.6 288)">Fold Change of CD80 MFI</text>
<rect x="580.65" y="333.65" width="13.3" height="3.75" fill="#fff" stroke="#000" stroke-width="1.3"/>
<line x1="611" y1="264.4" x2="611" y2="262.6" stroke="#555" stroke-width="0.9"/>
<line x1="607.74" y1="262.6" x2="614.26" y2="262.6" stroke="#555" stroke-width="0.9"/>
<rect x="604.25" y="265.05" width="13.5" height="72.35" fill="#cdcdcd" stroke="#000" stroke-width="1.3"/>
<line x1="634.5" y1="288" x2="634.5" y2="286.4" stroke="#555" stroke-width="0.9"/>
<line x1="631.2" y1="286.4" x2="637.8" y2="286.4" stroke="#555" stroke-width="0.9"/>
<rect x="627.65" y="288.65" width="13.7" height="48.75" fill="#000" stroke="#000" stroke-width="1.3"/>
<line x1="657.7" y1="335.2" x2="657.7" y2="334.6" stroke="#555" stroke-width="0.9"/>
<line x1="654.49" y1="334.6" x2="660.91" y2="334.6" stroke="#555" stroke-width="0.9"/>
<rect x="651.05" y="335.85" width="13.3" height="1.55" fill="url(#hatch)" stroke="#000" stroke-width="1.3"/>
<line x1="571.6" y1="235.1" x2="571.6" y2="338.1" stroke="#000" stroke-width="1.3"/>
<line x1="567.6" y1="337.4" x2="674" y2="337.4" stroke="#000" stroke-width="1.3"/>
<line x1="567.4" y1="235.6" x2="571.6" y2="235.6" stroke="#000" stroke-width="1.1"/>
<text x="565.6" y="238.2" font-size="7.4" font-weight="bold" text-anchor="end" textLength="9" lengthAdjust="spacingAndGlyphs">20</text>
<line x1="567.4" y1="261.2" x2="571.6" y2="261.2" stroke="#000" stroke-width="1.1"/>
<text x="565.6" y="263.8" font-size="7.4" font-weight="bold" text-anchor="end" textLength="9" lengthAdjust="spacingAndGlyphs">15</text>
<line x1="567.4" y1="286.6" x2="571.6" y2="286.6" stroke="#000" stroke-width="1.1"/>
<text x="565.6" y="289.2" font-size="7.4" font-weight="bold" text-anchor="end" textLength="9" lengthAdjust="spacingAndGlyphs">10</text>
<line x1="567.4" y1="312.2" x2="571.6" y2="312.2" stroke="#000" stroke-width="1.1"/>
<text x="565.6" y="314.8" font-size="7.4" font-weight="bold" text-anchor="end" textLength="4.4" lengthAdjust="spacingAndGlyphs">5</text>
<line x1="567.4" y1="337.6" x2="571.6" y2="337.6" stroke="#000" stroke-width="1.1"/>
<text x="565.6" y="340.2" font-size="7.4" font-weight="bold" text-anchor="end" textLength="4.4" lengthAdjust="spacingAndGlyphs">0</text>
<line x1="587.4" y1="337.4" x2="587.4" y2="341.9" stroke="#000" stroke-width="1.1"/>
<line x1="610.6" y1="337.4" x2="610.6" y2="341.9" stroke="#000" stroke-width="1.1"/>
<line x1="634.4" y1="337.4" x2="634.4" y2="341.9" stroke="#000" stroke-width="1.1"/>
<line x1="657.6" y1="337.4" x2="657.6" y2="341.9" stroke="#000" stroke-width="1.1"/>
<path d="M610.4 257 V250.4 H634.6 V281" stroke="#000" stroke-width="1" fill="none"/>
<text x="622.8" y="251.2" font-size="14" font-weight="bold" text-anchor="middle" textLength="11.6" lengthAdjust="spacingAndGlyphs">**</text>
<text x="590" y="348.3" font-size="7.4" font-weight="bold" text-anchor="end" textLength="28.62" lengthAdjust="spacingAndGlyphs" transform="rotate(-45 590 348.3)">Medium</text>
<text x="613.2" y="348.3" font-size="7.4" font-weight="bold" text-anchor="end" textLength="11.66" lengthAdjust="spacingAndGlyphs" transform="rotate(-45 613.2 348.3)">+ 0</text>
<text x="637" y="348.3" font-size="7.4" font-weight="bold" text-anchor="end" textLength="24.38" lengthAdjust="spacingAndGlyphs" transform="rotate(-45 637 348.3)">+ tVLP</text>
<text x="660.2" y="348.3" font-size="7.4" font-weight="bold" text-anchor="end" textLength="21.2" lengthAdjust="spacingAndGlyphs" transform="rotate(-45 660.2 348.3)">+ 4-Ig</text>
<path d="M600 371.2 V374 H669 V371.2" stroke="#000" stroke-width="1.3" fill="none"/>
<text x="634.3" y="384" font-size="8.2" font-weight="bold" text-anchor="middle" textLength="15.4" lengthAdjust="spacingAndGlyphs">LPS</text>
<text x="551.2" y="286.5" font-size="8.6" font-weight="bold" text-anchor="middle" textLength="97" lengthAdjust="spacingAndGlyphs" transform="rotate(-90 551.2 286.5)">Fold Change of CD86 MFI</text>
<text x="2" y="432.4" font-size="19.5" textLength="13" lengthAdjust="spacingAndGlyphs">D</text>
<defs><radialGradient id="gD"><stop offset="0" stop-color="#d8d8d8"/><stop offset="0.6" stop-color="#b4b4b4"/><stop offset="0.9" stop-color="#999"/><stop offset="1" stop-color="#777"/></radialGradient></defs>
<text x="99" y="437" font-size="12.6" font-weight="bold" textLength="53.4" lengthAdjust="spacingAndGlyphs">MEDIUM</text>
<text x="248" y="437" font-size="12.6" font-weight="bold" textLength="37" lengthAdjust="spacingAndGlyphs">TNF-α</text>
<text x="37.2" y="523.2" font-size="12.6" font-weight="bold" textLength="3.8" lengthAdjust="spacingAndGlyphs">-</text>
<text x="23" y="613" font-size="12.6" font-weight="bold" textLength="30" lengthAdjust="spacingAndGlyphs">tVLP</text>
<rect x="69.6" y="445" width="115.4" height="226" rx="18" fill="none" stroke="#000" stroke-width="1.5"/>
<rect x="206.4" y="445" width="114.6" height="226" rx="18" fill="none" stroke="#000" stroke-width="1.5"/>
<rect x="69.6" y="560.8" width="251.4" height="110.2" rx="18" fill="none" stroke="#000" stroke-width="1.5"/>
<rect x="84" y="454.6" width="93.6" height="88.8" fill="#fff" stroke="#b0b0b0" stroke-width="0.8"/>
<clipPath id="cD84_454"><rect x="84.5" y="455.1" width="92.6" height="87.8"/></clipPath><g clip-path="url(#cD84_454)">
<g stroke="#333" stroke-opacity="0.45" stroke-width="0.6" stroke-linecap="square" fill="none"><path d="M125.8 499h0M117.7 485.7h0M114.1 485.2h0M129.5 511.4h0M114.4 489.8h0M134.9 497.8h0M124.5 483.7h0M126.3 503.9h0M99.2 495.1h0M86.9 487.2h0M90.7 499.7h0M102.5 503.6h0M127.4 492.5h0M77.6 498.7h0M124.4 497h0M95.8 495.6h0M105 489.4h0M142.3 481.5h0M126.7 506.2h0M114 496.3h0M127.2 495.7h0M102.8 501.1h0M145.9 471.4h0M141 493.5h0M118.4 522.1h0M135.9 477.9h0M127.8 502.1h0M123.3 504.4h0M125.5 503.7h0M149.6 481.6h0M127.5 489h0M124.3 480.6h0M113.9 495.3h0M144.4 505.7h0M98.8 490.9h0M131.7 468.8h0M116.3 496h0M149.8 498.8h0M118.1 492.2h0M124.3 514.8h0M116.4 493.4h0M131.1 492.6h0M118.5 482.7h0M123.7 490.1h0M148 498.8h0M126.3 503.6h0M121.5 509.4h0M126.4 502.5h0M102.3 504.6h0M88.9 477.4h0M117.1 485.7h0M133.8 521.9h0M108.2 491.1h0M130 500.6h0M121.2 493.6h0M139.2 498.9h0M105.9 498.5h0M122.9 482.5h0M127.5 484h0M143.3 493.9h0"/><path d="M125.1 487.9h0M117.7 471.7h0M105.2 504.2h0M88.2 513.9h0M95 511.3h0M111.5 508.1h0M123.4 476.3h0M151.6 508h0M123.1 492.3h0M119.6 484.2h0M143.7 484.6h0M122 486h0M110.3 482.4h0M147.6 488.7h0M142.7 491.8h0M111.5 494.2h0M114.8 497.7h0M117.4 493.2h0M97.7 491h0M153.5 480.9h0M106.6 503.6h0M147 472.4h0M119.6 488.6h0M94.7 511.1h0M124.8 496.4h0M112.4 503.8h0M114.8 495.8h0M101.6 485h0M148.1 484.1h0M130.2 493.9h0"/></g>
<g stroke="#000" stroke-opacity="0.45" stroke-width="0.7" stroke-linecap="square" fill="none"><path d="M107.7 497.6h0M136.4 488.8h0M137.9 494.9h0M141.4 493.7h0M141.9 493.1h0M126.5 504h0M127.2 505h0M132.6 502.1h0M107.5 494.8h0M140.3 494.3h0M109.7 493.4h0M136.7 502.6h0M112.5 486h0M139.7 493.4h0M120.9 504.9h0M138.2 489.3h0M106.2 496.8h0M128.8 486.9h0M114.8 489.8h0M110.7 492.1h0M131.9 501.9h0M111.1 494.5h0M140.8 494.3h0M127.5 488.2h0M137.8 490.7h0M133.2 486.2h0M142.1 494.9h0M117.9 505.1h0M121.1 503.1h0M138.3 498.6h0M110.2 490.7h0M128.3 484.5h0M120.3 505.4h0M133.4 487h0M128.3 484.4h0M137.1 499.4h0M124.8 487.2h0M135 487.4h0M133.9 504.7h0M108.4 494.4h0M110.6 489.7h0M111.6 492.4h0M142 498.1h0M115.2 489.8h0M112.3 490.9h0M132.8 481.9h0M129.1 484.2h0M119.3 504.8h0M120.1 486.8h0M135.3 485.5h0M139 485.2h0M134.9 501.1h0M138 493.9h0M113.9 490h0M130.7 503.9h0M108.3 495h0M143 487.6h0M113.6 504.9h0M126.9 506h0M111.6 500.5h0"/><path d="M112.7 488.8h0M144.1 498.9h0M112.8 505.5h0M138.3 500.2h0M114.2 489.1h0M133 482.9h0M115.6 503.4h0M114.9 504.6h0M107 496.6h0M131.2 504.7h0M127.2 504.3h0M118.3 505.9h0M109.8 501.2h0M141 496.9h0M123.3 486h0M111.6 494.3h0M121.7 505.5h0M142.8 496.8h0M124.5 486.9h0M137.6 499.8h0M139 500.4h0M136.1 499.2h0M141.2 496.9h0M136.1 488.3h0M124.9 506.8h0M119.7 508.8h0M133.5 482.6h0M111.7 491.7h0M134.2 503.5h0M110 502.6h0M136.5 486.3h0M112.1 506.6h0M120 488.6h0M142.3 498.2h0M120.6 486.6h0M126 483.5h0M131.1 485.1h0M116.3 489.3h0M114.4 505.1h0M143 495.8h0M107.8 497.9h0M123.7 485.1h0M132.5 502.4h0M125.2 502.3h0M105.9 497h0M122.6 485.1h0M137.5 486.6h0M138.5 499.6h0M134.9 503.7h0M128.1 485.9h0M114.1 490.7h0M120.1 487h0M144.7 491h0M137.1 489.8h0M133.9 483.9h0M125.8 486.3h0M114.7 502.7h0M110.6 489.4h0M133.5 502.5h0M124.2 487.5h0"/><path d="M123.9 486.2h0M119.3 485.6h0M107.2 503.1h0M114.8 504h0M110.3 503.6h0M143.7 493.7h0M132.1 486.4h0M107.3 496.4h0M113.5 504.3h0M109.4 496h0M120.3 487.3h0M113.8 504.6h0M131.5 485.3h0M137.8 488.3h0M114.1 503.8h0M139.4 501h0M124.1 485.4h0M143.9 490.9h0M138.7 501.7h0M118.6 486.3h0M132.8 482.2h0M137.4 488.6h0M140 499.9h0M139.6 497.5h0M146 490h0M142.2 499.9h0M131.8 500.4h0M111.1 494.5h0M108.3 502.5h0M122.8 484.9h0M133.9 503.7h0M138.4 487.5h0M130.8 504.5h0M125 484.7h0M141.1 496h0M106.3 501.3h0M136.7 494.3h0M119.8 506.4h0M121.1 504.1h0M119.1 485.6h0M109.8 501.3h0M139.6 495.3h0M142.8 491.3h0M135.2 487.6h0M136.9 488.5h0M126.9 502.8h0M112.9 504.1h0M129.7 504.9h0M140.3 500.1h0M141.7 493.9h0M105.6 499.3h0M138.6 499.5h0M134.3 502.2h0M135 485.1h0M105.9 500.6h0M133.3 502.3h0M115.4 489.1h0M125.3 505h0M107.7 497.4h0M123.7 504.2h0"/><path d="M105.5 498.4h0M112.5 491.3h0M106.9 496.9h0M114.2 503.1h0M127.5 484.8h0M136 485.6h0M133.6 502h0M141.1 501.5h0M139.9 499h0M145.6 489.4h0M142.1 487.7h0M128.7 503.6h0M140.4 490.4h0M131.8 504.1h0M107.8 498.6h0M108 499.2h0M138 487.8h0M137.7 494.6h0M120.2 505.2h0M114.6 493.6h0M142.2 496h0M128.1 503.6h0M110.5 500.4h0M135.7 486.6h0M124.1 485.3h0M130.1 487.3h0M124.4 488h0M119.5 488.4h0M131 488.4h0M117.3 489.2h0M120.7 484.3h0M122 504.1h0M136 502.4h0M123.9 487.6h0M135.7 502h0M138.3 488h0M110 493h0M118.2 506.2h0M143.4 486.7h0M136.5 501.4h0M107.6 498.2h0M138.3 497.2h0M142.4 489.4h0M109.5 494.3h0M129.1 484.1h0M123.6 505.3h0M129.4 482.8h0M120 489.6h0M113.4 490.4h0M142.4 488.3h0M111 502.2h0M112.9 502.5h0M117.4 488.1h0M130.6 487.3h0M118 505.6h0M111.7 486.7h0M132.3 504.9h0M110.8 495.7h0M125 486.7h0M140.4 495.8h0"/><path d="M120.1 485.3h0M140.2 493h0M139.4 490h0M106.8 501.4h0M110.3 504.5h0M120.2 487.2h0M110.5 497.2h0M121.8 488.3h0M139.1 496.9h0M113.6 495.2h0M106.7 495.4h0M138.3 488.8h0M143.1 494.2h0M105.4 503.2h0M109.9 490.2h0M110.9 495.8h0M143 496.6h0M107.3 492.8h0M129.4 503.2h0M131.6 502.1h0M135.7 486.4h0M130.7 501.5h0M106.1 502.8h0M123.7 489h0M119.5 488.5h0M108.9 495.7h0M128.9 485.6h0M108.5 501.1h0M110.8 491.4h0M130.1 485.6h0M114.3 487.4h0M116.4 491.8h0M112 503.7h0M110.1 495.4h0M112.5 504.2h0M122.3 485.8h0M115.4 503.4h0M110.3 500.4h0M123.4 484.8h0M107.2 498.9h0M118.5 504.4h0M132.8 482.5h0M110.4 507.4h0M131.3 487.5h0M126.8 484.9h0M104.3 504.1h0M118.5 486.1h0M142.5 493.9h0M113.6 504h0M133.6 486.5h0M109.6 494.1h0M109.7 495.4h0M113.5 488.4h0M116.3 488.8h0M110.3 493.9h0M113.4 501.8h0M133.7 502.6h0M122.8 504.3h0M122.5 505.2h0M108.4 503.7h0"/><path d="M142.8 491.6h0M115.8 505.8h0M108.9 502.2h0M114.6 504.8h0M109.5 493.9h0M139.8 489.2h0M137.9 485.6h0M115.9 503.2h0M125.2 507h0M136.4 486.4h0M109.9 499h0M117 488.6h0M139.6 496.3h0M135.1 485.7h0M120.8 504.5h0M105.5 499.9h0M131.6 502.4h0M115.4 500.7h0M130.6 486.4h0M129.5 488.1h0M108.7 500.5h0M124.9 484.1h0M107.7 501.9h0M116.5 503h0M109.9 496.1h0M133.7 505.3h0M119.7 506h0M118.5 487.2h0M125.2 484.1h0M147.2 495.3h0M120.5 484.8h0M130.2 485.1h0M109 502.3h0M142.8 495.7h0M117 488.8h0M127.1 503.4h0M112.8 490.2h0M115.7 503.4h0M112.5 490.6h0M126.2 505.2h0M103.2 502h0M109.9 497.3h0M112.2 491h0M131.7 503.2h0M142 489.3h0M122.5 506.9h0M121.3 504.9h0M126.2 503.9h0M137.6 495.9h0M112.7 502h0M125.3 484.8h0M118.7 487.1h0M131.5 502h0M136.9 500h0M119.4 505.5h0M124.9 484.9h0M109.6 499.4h0M138.6 488.1h0M116.7 491h0M113.5 492.1h0"/><path d="M124.9 483.4h0M123.6 488.8h0M117.6 504.8h0M126.3 505.3h0M110.9 502h0M110.1 499.2h0M137.1 500.5h0M109.9 502.2h0M112.8 490.5h0M134.4 498.9h0M137.3 500.2h0M133.5 501.4h0M123.6 504.7h0M141.5 489.5h0M143.6 493.2h0M134.8 503.5h0M134.7 501.3h0M106.5 501.1h0M144.8 492.3h0M106.7 502.3h0M137.6 502.8h0M124.9 505.1h0M127.5 485.5h0M134.7 503.4h0M113.7 492.4h0M111.6 503.9h0M112.3 502.7h0M129.8 485.8h0M133.2 500.1h0M137.4 488.8h0M137 486.7h0M113.7 488.1h0M144 494.8h0M114.6 489.2h0M110.5 492.8h0M125.3 486.6h0M131.1 504.3h0M140.1 489.4h0M137.4 485.7h0M142.5 499.8h0M120.1 505.5h0M138.5 494.1h0M130.7 486.6h0M135.9 489.1h0M139 491.9h0M108.2 491.4h0M114.4 488.8h0M117.7 489.9h0M107.3 494.5h0M143.3 488.1h0M111.2 492.4h0M118.7 504.5h0M108.7 498.1h0M142.7 492.8h0M119.9 485.9h0M116 486.5h0M108.7 504.4h0M134.9 484h0M123.3 484h0M117.3 506.3h0"/><path d="M137.6 496.4h0M137.7 499.9h0M134 502.9h0M121.5 505h0M107.7 502.7h0M138.7 488.4h0M124.1 504.1h0M139.9 485.2h0M115.2 487.7h0M133.9 485.4h0M110.6 504.8h0M144.5 491.5h0M127 484.9h0M126.7 501.6h0M136 500.1h0M128.1 485.9h0M117.7 489.1h0M131.1 504h0M125.2 506.8h0M139 489h0M125 503.7h0M116.2 485.2h0M137.3 499.5h0M129.1 487h0M139.3 499.2h0M106.9 498.2h0M140.3 494.1h0M106.4 495.9h0M132.5 486.2h0M138.7 496.9h0M124.4 505.6h0M124.5 484.6h0M111.8 492.5h0M120.1 506h0M112 491.1h0M103.2 503.9h0M133.5 486.8h0M121.9 507.4h0M123.8 485.8h0M112.5 490.7h0M121.7 485.2h0M112.8 505.7h0M119.5 485.1h0M117.4 487.2h0M114.4 503.6h0M140.8 493.6h0M142.2 489.3h0M118.7 486.3h0M133 505h0M120.7 485.9h0M123.8 506.8h0M105.4 501.9h0M134.5 485.6h0M112.7 500.5h0M123.3 503.8h0M121.9 503.5h0M144.4 496.9h0M129.6 503h0M124.7 506.9h0M135.5 502.7h0"/><path d="M145.3 495.8h0M106.6 501.7h0M130.6 503.7h0M121.9 486.5h0M139.2 487.7h0M124.5 505.5h0M110 494.6h0M108 498.6h0M144.6 496.7h0M135.3 498.6h0M136.8 486.1h0M110.6 499.9h0M128.9 485h0M143.2 496h0M110 493.1h0M135.8 484.9h0M132.7 488h0M144.6 491.6h0M109.3 497.5h0M114.1 505.6h0M124 485.5h0M135.4 496h0M125.4 504.2h0M129.8 485h0M105.3 501.9h0M108.7 501.8h0M141.8 489.8h0M120.7 503.6h0M145.2 494.2h0M110.1 506.3h0M136.4 501.2h0M140.3 496.9h0M112.3 494.9h0M142.6 488.5h0M103.3 493.5h0M112 489.5h0M118.2 507.2h0M107.6 494.5h0M123.5 487.2h0M106.7 493h0M128 487h0M108.7 495.9h0M132.6 503.5h0M107.4 493.6h0M107.2 499.8h0M135.8 502.1h0M112.6 492h0M129.2 487.1h0M137.8 500.2h0M109.8 496.1h0M121.9 488h0M114.5 502.3h0M124.9 504.6h0M117.3 502.4h0M111.2 496.2h0M118.5 489.7h0M108.1 495.3h0M140.3 498.7h0M131.6 482.5h0M136.2 489.4h0"/><path d="M138.5 497.9h0M127.3 506.1h0M134.3 501.9h0M132.9 486h0M141.4 485.4h0M141.1 494.6h0M119.4 503.8h0M131.5 501.6h0M108 501h0M139.6 487.4h0M138.1 496h0M133.5 501.1h0M107 500.1h0M106.6 497.7h0M122.7 486.9h0M108.8 502.9h0M138.2 500.9h0M118.4 502.7h0M140.9 491h0M123 485.4h0M137.9 498.8h0M128 488.2h0M120.7 505.1h0M126.5 484.4h0M145.8 491.9h0M132.2 488.9h0M139.4 503.8h0M111.7 500.5h0M113 488.4h0M105.1 499.1h0M136.7 502.6h0M137.7 500.5h0M123.6 503.8h0M143.1 495h0M130 503.1h0M133.5 498.3h0M102.6 503.2h0M115.2 506h0M105.6 493.1h0M123.9 504.1h0M145.4 493.6h0M117.1 507.6h0M123.2 483.8h0M126.4 505h0M114.3 502.4h0M123.6 486h0M115.9 501.2h0M133.9 488.6h0M138.9 487.5h0M121.2 504.2h0M121.6 486.5h0M126.7 504.8h0M140.7 501.7h0M107.4 503.6h0M110.3 492.6h0M142.3 487.2h0M135.6 500.2h0M119.3 487.4h0M106.5 501h0M135.8 499.2h0"/><path d="M140.7 490.4h0M118.8 489.1h0M138.4 499.8h0M140.9 485.3h0M138.2 498h0M140.7 497.7h0M119.2 504.2h0M137.6 489.6h0M139.1 494.1h0M141.5 486h0M106.1 490.9h0M142.4 496h0M110.3 494.8h0M107.6 501.9h0M109.4 495h0M121.3 485.2h0M115.5 488.1h0M142.6 491.5h0M137 501.8h0M129.3 486.1h0M112.4 503h0M126.2 487.7h0M136.2 487.2h0M138.6 492.1h0M125.3 505h0M111.4 500.8h0M140.4 488.6h0M141.3 488.4h0M116.6 502.9h0M138.4 489.3h0M113.7 502.6h0M113.4 505.6h0M123.4 483.5h0M106.8 501.3h0M110.3 501.5h0M111.2 506.1h0M113.4 501.1h0M139.9 501.4h0M140 495.6h0M124 489.5h0M102.7 494.8h0M113.1 487.3h0M128.1 486.7h0M129.2 504.6h0M128.6 504.2h0M124 505.5h0M122 503.5h0M124.2 486.6h0M113.8 505.3h0M119.1 505.8h0"/></g>
<ellipse cx="125" cy="495.4" rx="15.3" ry="8.36" fill="url(#gD)" stroke="#222" stroke-width="0.8" stroke-opacity="0.6" transform="rotate(-12 125 495.4)"/>
<ellipse cx="130.1" cy="494.45" rx="7.65" ry="4.75" fill="#d2d2d2" fill-opacity="0.7" stroke="#666" stroke-width="0.6" transform="rotate(-20 130.1 494.45)"/>
</g>
<line x1="125.2" y1="454.6" x2="125.2" y2="543.4" stroke="#333" stroke-width="1.1"/>
<line x1="84" y1="496.2" x2="177.6" y2="496.2" stroke="#333" stroke-width="1.1"/>
<line x1="82.7" y1="456.6" x2="84" y2="456.6" stroke="#777" stroke-width="0.5"/>
<line x1="82.7" y1="459.52" x2="84" y2="459.52" stroke="#777" stroke-width="0.5"/>
<line x1="82.7" y1="462.45" x2="84" y2="462.45" stroke="#777" stroke-width="0.5"/>
<line x1="82.7" y1="465.37" x2="84" y2="465.37" stroke="#777" stroke-width="0.5"/>
<line x1="82.7" y1="468.3" x2="84" y2="468.3" stroke="#777" stroke-width="0.5"/>
<line x1="82.7" y1="471.22" x2="84" y2="471.22" stroke="#777" stroke-width="0.5"/>
<line x1="82.7" y1="474.14" x2="84" y2="474.14" stroke="#777" stroke-width="0.5"/>
<line x1="82.7" y1="477.07" x2="84" y2="477.07" stroke="#777" stroke-width="0.5"/>
<line x1="82.7" y1="479.99" x2="84" y2="479.99" stroke="#777" stroke-width="0.5"/>
<line x1="82.7" y1="482.92" x2="84" y2="482.92" stroke="#777" stroke-width="0.5"/>
<line x1="82.7" y1="485.84" x2="84" y2="485.84" stroke="#777" stroke-width="0.5"/>
<line x1="82.7" y1="488.77" x2="84" y2="488.77" stroke="#777" stroke-width="0.5"/>
<line x1="82.7" y1="491.69" x2="84" y2="491.69" stroke="#777" stroke-width="0.5"/>
<line x1="82.7" y1="494.61" x2="84" y2="494.61" stroke="#777" stroke-width="0.5"/>
<line x1="82.7" y1="497.54" x2="84" y2="497.54" stroke="#777" stroke-width="0.5"/>
<line x1="82.7" y1="500.46" x2="84" y2="500.46" stroke="#777" stroke-width="0.5"/>
<line x1="82.7" y1="503.39" x2="84" y2="503.39" stroke="#777" stroke-width="0.5"/>
<line x1="82.7" y1="506.31" x2="84" y2="506.31" stroke="#777" stroke-width="0.5"/>
<line x1="82.7" y1="509.23" x2="84" y2="509.23" stroke="#777" stroke-width="0.5"/>
<line x1="82.7" y1="512.16" x2="84" y2="512.16" stroke="#777" stroke-width="0.5"/>
<line x1="82.7" y1="515.08" x2="84" y2="515.08" stroke="#777" stroke-width="0.5"/>
<line x1="82.7" y1="518.01" x2="84" y2="518.01" stroke="#777" stroke-width="0.5"/>
<line x1="82.7" y1="520.93" x2="84" y2="520.93" stroke="#777" stroke-width="0.5"/>
<line x1="82.7" y1="523.86" x2="84" y2="523.86" stroke="#777" stroke-width="0.5"/>
<line x1="82.7" y1="526.78" x2="84" y2="526.78" stroke="#777" stroke-width="0.5"/>
<line x1="82.7" y1="529.7" x2="84" y2="529.7" stroke="#777" stroke-width="0.5"/>
<line x1="82.7" y1="532.63" x2="84" y2="532.63" stroke="#777" stroke-width="0.5"/>
<line x1="82.7" y1="535.55" x2="84" y2="535.55" stroke="#777" stroke-width="0.5"/>
<line x1="82.7" y1="538.48" x2="84" y2="538.48" stroke="#777" stroke-width="0.5"/>
<line x1="82.7" y1="541.4" x2="84" y2="541.4" stroke="#777" stroke-width="0.5"/>
<line x1="81.2" y1="465.8" x2="84" y2="465.8" stroke="#444" stroke-width="0.8"/>
<line x1="81.2" y1="481.4" x2="84" y2="481.4" stroke="#444" stroke-width="0.8"/>
<line x1="81.2" y1="497" x2="84" y2="497" stroke="#444" stroke-width="0.8"/>
<line x1="81.2" y1="515.8" x2="84" y2="515.8" stroke="#444" stroke-width="0.8"/>
<line x1="81.2" y1="528" x2="84" y2="528" stroke="#444" stroke-width="0.8"/>
<line x1="81.2" y1="540.8" x2="84" y2="540.8" stroke="#444" stroke-width="0.8"/>
<line x1="86" y1="543.4" x2="86" y2="544.7" stroke="#777" stroke-width="0.5"/>
<line x1="88.89" y1="543.4" x2="88.89" y2="544.7" stroke="#777" stroke-width="0.5"/>
<line x1="91.78" y1="543.4" x2="91.78" y2="544.7" stroke="#777" stroke-width="0.5"/>
<line x1="94.67" y1="543.4" x2="94.67" y2="544.7" stroke="#777" stroke-width="0.5"/>
<line x1="97.56" y1="543.4" x2="97.56" y2="544.7" stroke="#777" stroke-width="0.5"/>
<line x1="100.45" y1="543.4" x2="100.45" y2="544.7" stroke="#777" stroke-width="0.5"/>
<line x1="103.34" y1="543.4" x2="103.34" y2="544.7" stroke="#777" stroke-width="0.5"/>
<line x1="106.23" y1="543.4" x2="106.23" y2="544.7" stroke="#777" stroke-width="0.5"/>
<line x1="109.12" y1="543.4" x2="109.12" y2="544.7" stroke="#777" stroke-width="0.5"/>
<line x1="112.01" y1="543.4" x2="112.01" y2="544.7" stroke="#777" stroke-width="0.5"/>
<line x1="114.9" y1="543.4" x2="114.9" y2="544.7" stroke="#777" stroke-width="0.5"/>
<line x1="117.79" y1="543.4" x2="117.79" y2="544.7" stroke="#777" stroke-width="0.5"/>
<line x1="120.68" y1="543.4" x2="120.68" y2="544.7" stroke="#777" stroke-width="0.5"/>
<line x1="123.57" y1="543.4" x2="123.57" y2="544.7" stroke="#777" stroke-width="0.5"/>
<line x1="126.46" y1="543.4" x2="126.46" y2="544.7" stroke="#777" stroke-width="0.5"/>
<line x1="129.35" y1="543.4" x2="129.35" y2="544.7" stroke="#777" stroke-width="0.5"/>
<line x1="132.25" y1="543.4" x2="132.25" y2="544.7" stroke="#777" stroke-width="0.5"/>
<line x1="135.14" y1="543.4" x2="135.14" y2="544.7" stroke="#777" stroke-width="0.5"/>
<line x1="138.03" y1="543.4" x2="138.03" y2="544.7" stroke="#777" stroke-width="0.5"/>
<line x1="140.92" y1="543.4" x2="140.92" y2="544.7" stroke="#777" stroke-width="0.5"/>
<line x1="143.81" y1="543.4" x2="143.81" y2="544.7" stroke="#777" stroke-width="0.5"/>
<line x1="146.7" y1="543.4" x2="146.7" y2="544.7" stroke="#777" stroke-width="0.5"/>
<line x1="149.59" y1="543.4" x2="149.59" y2="544.7" stroke="#777" stroke-width="0.5"/>
<line x1="152.48" y1="543.4" x2="152.48" y2="544.7" stroke="#777" stroke-width="0.5"/>
<line x1="155.37" y1="543.4" x2="155.37" y2="544.7" stroke="#777" stroke-width="0.5"/>
<line x1="158.26" y1="543.4" x2="158.26" y2="544.7" stroke="#777" stroke-width="0.5"/>
<line x1="161.15" y1="543.4" x2="161.15" y2="544.7" stroke="#777" stroke-width="0.5"/>
<line x1="164.04" y1="543.4" x2="164.04" y2="544.7" stroke="#777" stroke-width="0.5"/>
<line x1="166.93" y1="543.4" x2="166.93" y2="544.7" stroke="#777" stroke-width="0.5"/>
<line x1="169.82" y1="543.4" x2="169.82" y2="544.7" stroke="#777" stroke-width="0.5"/>
<line x1="172.71" y1="543.4" x2="172.71" y2="544.7" stroke="#777" stroke-width="0.5"/>
<line x1="175.6" y1="543.4" x2="175.6" y2="544.7" stroke="#777" stroke-width="0.5"/>
<line x1="92.5" y1="543.4" x2="92.5" y2="546.2" stroke="#333" stroke-width="0.9"/>
<line x1="115" y1="543.4" x2="115" y2="546.2" stroke="#333" stroke-width="0.9"/>
<line x1="130" y1="543.4" x2="130" y2="546.2" stroke="#333" stroke-width="0.9"/>
<line x1="160" y1="543.4" x2="160" y2="546.2" stroke="#333" stroke-width="0.9"/>
<rect x="81.6" y="526.2" width="1.8" height="3.6" fill="#111"/>
<rect x="90.5" y="543.9" width="6" height="1.6" fill="#222"/>
<text x="80.5" y="467.3" font-size="4.5" fill="#333" text-anchor="end" font-family="'Liberation Serif'">10<tspan dy="-1.8" font-size="2.8">6</tspan></text>
<text x="80.5" y="482.9" font-size="4.5" fill="#333" text-anchor="end" font-family="'Liberation Serif'">10<tspan dy="-1.8" font-size="2.8">5</tspan></text>
<text x="80.5" y="498.5" font-size="4.5" fill="#333" text-anchor="end" font-family="'Liberation Serif'">10<tspan dy="-1.8" font-size="2.8">4</tspan></text>
<text x="80.5" y="517.3" font-size="4.5" fill="#333" text-anchor="end" font-family="'Liberation Serif'">10<tspan dy="-1.8" font-size="2.8">3</tspan></text>
<text x="80.5" y="542.3" font-size="4.5" fill="#333" text-anchor="end" font-family="'Liberation Serif'">-10<tspan dy="-1.8" font-size="2.8">3</tspan></text>
<text x="78.5" y="529.5" font-size="4.5" fill="#333" text-anchor="end">0</text>
<text x="92.5" y="551.4" font-size="4.5" fill="#333" text-anchor="middle">0</text>
<text x="115" y="551.4" font-size="4.5" fill="#333" text-anchor="middle" font-family="'Liberation Serif'">10<tspan dy="-1.8" font-size="2.8">3</tspan></text>
<text x="130" y="551.4" font-size="4.5" fill="#333" text-anchor="middle" font-family="'Liberation Serif'">10<tspan dy="-1.8" font-size="2.8">4</tspan></text>
<text x="160" y="551.4" font-size="4.5" fill="#333" text-anchor="middle" font-family="'Liberation Serif'">10<tspan dy="-1.8" font-size="2.8">5</tspan></text>
<text x="94.6" y="466" font-size="10.4" font-weight="bold" textLength="19" lengthAdjust="spacingAndGlyphs">14.7</text>
<text x="146" y="466" font-size="10.4" font-weight="bold" textLength="19" lengthAdjust="spacingAndGlyphs">53.0</text>
<text x="94.6" y="538.6" font-size="10.4" font-weight="bold" textLength="19" lengthAdjust="spacingAndGlyphs">15.3</text>
<text x="146" y="538.6" font-size="10.4" font-weight="bold" textLength="19" lengthAdjust="spacingAndGlyphs">17.0</text>
<rect x="218.6" y="455.4" width="93.6" height="88.8" fill="#fff" stroke="#b0b0b0" stroke-width="0.8"/>
<clipPath id="cD218_455"><rect x="219.1" y="455.9" width="92.6" height="87.8"/></clipPath><g clip-path="url(#cD218_455)">
<g stroke="#333" stroke-opacity="0.45" stroke-width="0.6" stroke-linecap="square" fill="none"><path d="M282.5 488.2h0M297.9 476.9h0M264.4 471.9h0M248.6 508h0M251.6 499.3h0M261.4 481.3h0M258.3 487.3h0M258.8 500h0M273 483.6h0M251.6 496.8h0M265.1 501.5h0M305.7 491h0M263.6 489.6h0M249.9 485.1h0M248.8 490.5h0M259.7 499.7h0M258.2 490.6h0M249.8 510.9h0M275.7 506.9h0M279.4 503.1h0M262.3 498.9h0M302.2 470.8h0M285.5 503.9h0M272.3 497.3h0M282.1 480.7h0M268.9 481.3h0M252.9 487.3h0M262.6 493.1h0M268.4 475.7h0M297 496.2h0M274.8 485.3h0M264.3 496.9h0M267.2 473.2h0M281.9 517.7h0M238.5 507h0M269.9 488.9h0M282.9 475h0M270.1 505.2h0M260.6 487.7h0M265.3 486.4h0M286.2 477.2h0M275.2 475.9h0M274.5 488h0M225.1 499.5h0M247.3 490.2h0M285.6 475.1h0M251.4 509h0M269.5 506.1h0M267.6 481.4h0M266.1 503.6h0M278.9 488.2h0M265 489.9h0M259.7 512.3h0M262.2 479.9h0M258.8 500h0M274 487.8h0M254.3 493.6h0M236.2 483.7h0M275.7 483.8h0M272.8 502.1h0"/><path d="M274.5 489.3h0M298.4 490.9h0M260.6 499.6h0M268.9 481.4h0M265.3 489.3h0M234.1 495.9h0M259.3 487.8h0M238.6 493h0M264.1 492.3h0M248.5 501.2h0M245.5 492.9h0M283 480.1h0M259 503.5h0M258 489.5h0M270.1 500.9h0M229.1 490.1h0M246.8 483.7h0M249.7 485.6h0M267.2 481.4h0M267.2 494.8h0M253.7 494.9h0M290.1 489.1h0M254.7 492.6h0M251.1 496.8h0M275.9 480.3h0M263.7 502.9h0M257.3 494.7h0M247.2 486.4h0M261.2 513.9h0M257.3 487.4h0"/></g>
<g stroke="#000" stroke-opacity="0.45" stroke-width="0.7" stroke-linecap="square" fill="none"><path d="M265.6 483.6h0M263.7 482.7h0M256.2 485.3h0M280.8 488.8h0M267.1 496.7h0M251.4 493.3h0M259.3 485.2h0M254.9 498.5h0M252.7 496h0M270.1 483.8h0M279.8 489.2h0M264.5 499.3h0M262.9 498h0M280.7 487.3h0M268.5 499.3h0M277.1 490.7h0M252.1 498.3h0M256 487.2h0M275.1 496.5h0M270.3 483.5h0M269.9 496.7h0M259.3 485.1h0M272.2 495.6h0M273.8 483.7h0M270.3 497.7h0M261.3 484h0M270 483.8h0M265.1 495h0M277 493h0M255.2 490.2h0M250.3 494.3h0M249 495.7h0M265.7 482.9h0M252.2 495.5h0M251.1 494.2h0M251.2 494.7h0M252.7 495.8h0M254.8 497.3h0M272.1 495.5h0M261.8 500.6h0M264.8 499h0M266.5 499.7h0M265.7 483.5h0M276.1 494h0M269.7 497.5h0M249.8 492.9h0M260.3 500.2h0M267 498.8h0M256.8 498h0M252.2 493.7h0M255 484.6h0M277.3 487.2h0M271.2 483.7h0M250.4 498.3h0M250 497h0M252.6 498h0M266.9 498.2h0M281.2 484.5h0M278.4 491.7h0M270.3 498.1h0"/><path d="M256.1 486.4h0M254.4 489.9h0M263.8 497.7h0M277.3 485.3h0M253.2 498.1h0M252.7 489.4h0M274.9 492.6h0M272.2 485.5h0M275.9 493.3h0M256.6 496.8h0M274.9 483.1h0M278.9 485h0M279 481.9h0M270.1 482.2h0M267.3 497.8h0M276.7 490h0M257.8 493.9h0M276.7 491.4h0M277.1 486.6h0M280.2 488.3h0M259.2 500h0M270.5 498.1h0M278.8 488.9h0M249.5 494.4h0M280 492.3h0M273.2 485.4h0M258.2 485.7h0M257.8 497.3h0M272 481.5h0M267.4 481.7h0M259.1 500.1h0M270 484.6h0M276.5 485.2h0M253.7 488.2h0M257.5 499.1h0M274.5 484.6h0M277.7 485.4h0M258.3 498.7h0M278.6 492.8h0M272.9 483.4h0M256.4 486.4h0M267.6 498.3h0M252.1 490.8h0M260.7 500.2h0M275.3 485.2h0M258.1 499.5h0M270.3 497.1h0M275.4 490.6h0M257.5 500.1h0M276.2 488.3h0M269.2 498.7h0M250.9 496.3h0M274.8 488h0M276.5 488.9h0M262.4 498.7h0M268.5 484h0M274.8 492.8h0M277.4 484.7h0M269.9 483.4h0M274.9 495.5h0"/><path d="M252.8 489.6h0M250.4 491.4h0M258.9 485.7h0M261.2 499.3h0M254.6 499h0M266.9 498.6h0M262.6 498.8h0M271 495.8h0M275.2 484.3h0M274.4 483.7h0M257.2 498.6h0M258.8 485.8h0M249.8 494.8h0M263.1 501.9h0M258 498.7h0M278.2 486.5h0M258.1 499.6h0M256.2 490.5h0M277.1 485.8h0M262.2 498.5h0M268.6 481.5h0M275.5 493.9h0M261.8 484.7h0M267.7 483.3h0M270.4 483h0M276.8 487.4h0M259.6 484.6h0M275.4 488h0M263.7 498.9h0M249.2 493.3h0M270.4 499.8h0M278.5 492.6h0M251.9 497h0M259.6 483.2h0M265.5 482.1h0M281.5 488.6h0M278.6 485h0M266.3 498.6h0M262.4 499.6h0M270 483h0M274.8 483.9h0M261.6 483.7h0M259.6 498.4h0M255.2 494.5h0M269.6 483.9h0M259.2 496.8h0M267.7 483h0M265.7 483.2h0M254.3 494.6h0M275.4 483.6h0M254.2 499.3h0M262.9 483.5h0M252.2 486.3h0M257.8 501.3h0M253 492.3h0M251 488.5h0M249.9 492.4h0M276.8 494h0M279.9 487.4h0M276.3 487.2h0"/><path d="M277.1 490.2h0M275.5 486.5h0M252.1 492.4h0M275.2 494.5h0M268.1 484.7h0M254.3 496.1h0M259.4 484h0M269.4 483.2h0M250 492.3h0M274.6 490.9h0M268.6 484h0M258.7 485.6h0M275.3 484.6h0M264.4 498.5h0M266.1 482.1h0M272.9 483.8h0M257.3 499h0M253.7 497.7h0M258.4 500h0M277.4 488.7h0M268.2 499.5h0M258.8 499.8h0M276.5 493.8h0M264.2 483.3h0M252 497.6h0M249.5 490.6h0M262.9 500.3h0M256.6 499.3h0M263 482.6h0M251.1 495.6h0M250.2 489h0M253.1 497.3h0M254.9 491.3h0M276.4 483h0M264.6 499.2h0M252.9 492.9h0M257.9 485.5h0M275.6 492.5h0M281.2 485.2h0M249.8 494.4h0M266.1 497.1h0M263.7 482.9h0M268.3 483.5h0M251.2 486.7h0M274 485.8h0M273.2 492.3h0M250.5 492.8h0M262.4 484.1h0M275 485.2h0M257.5 488.3h0M251.8 488.9h0M252.9 500h0M254.8 490.7h0M248.8 491.4h0M274.2 485h0M271.1 480.5h0M261.6 483.4h0M275.7 485.3h0M279.8 491.6h0M264.6 482.7h0"/><path d="M252.5 495.4h0M262.9 482.8h0M262.3 498.7h0M254.6 494.5h0M270.6 480.9h0M277.6 490.1h0M262.7 498.6h0M250.3 494.8h0M269.9 485h0M264.4 497.6h0M268.8 483.7h0M266.4 498.1h0M261.5 499.4h0M248.9 491.5h0M256 486.9h0M274 483.4h0M274.1 483.3h0M265.9 497.7h0M262.4 483.5h0M255.5 487.9h0M253.8 499.4h0M265.2 482.7h0M274.6 484.3h0M253.5 494.4h0M275.8 484.8h0M274.1 494.3h0M273.6 496.8h0M264.1 483.5h0M261.7 498.4h0M250.2 489.7h0M249.4 494.6h0M273.4 495.1h0M263.1 482.3h0M262.2 484.1h0M273.8 495.2h0M265.3 499.1h0M267 483.9h0M274.7 485.1h0M272.6 483.8h0M247.8 494.6h0M254.8 500.3h0M252.5 496.3h0M273.8 497.9h0M250.9 494.3h0M267.9 498.8h0M274.1 496.7h0M255.2 498.8h0M282.2 491.6h0M250.8 495.6h0M259.4 486h0M253.5 485.9h0M277.1 487.4h0M273.4 484.3h0M258.4 489h0M275.9 483.4h0M250.7 497.1h0M267.4 482.2h0M262.9 500.3h0M247.4 493.2h0M277.9 487.4h0"/><path d="M250.8 488.9h0M252.1 493.5h0M266.1 483.5h0M260.2 500.5h0M270.1 482.7h0M275.8 489.5h0M267.3 498.9h0M271.8 496.6h0M265.4 498h0M277.7 485.6h0M277.6 489.5h0M262.4 497.6h0M253.5 490.5h0M257.6 483.2h0M264.9 484.9h0M255.1 498.7h0M269 498.7h0M272.1 482.7h0M273.7 493.8h0M277.2 491.5h0M267.8 498.5h0M249.3 494.8h0M275.7 486.2h0M261.6 485.2h0M249.4 490.9h0M248.5 493.4h0M257.9 484.8h0M254.6 488.1h0M258.5 499.7h0M277.1 493h0M270.9 498.3h0M265.5 484.6h0M254 487.4h0M266.9 483.3h0M276.1 490.6h0M275 484.2h0M255.4 498.5h0M275.4 485.5h0M251.5 489.3h0M253.5 491.7h0M268.7 483.1h0M253 487.7h0M256.5 485.6h0M274.7 496.6h0M254.6 489.3h0M258.7 497.4h0M277.9 492.1h0M275.6 495.1h0M247.1 496.2h0M265.1 499.6h0M264.3 484.3h0M276.7 494.7h0M276.7 489.2h0M275.4 488.8h0M259.3 502.2h0M250 493.8h0M270 498.5h0M270 498.3h0M251.6 499.6h0M266.4 482.8h0"/><path d="M280.5 490h0M269.5 484.3h0M275.5 488.5h0M248.5 491.2h0M255.4 500.5h0M267.7 499h0M271.8 497.1h0M259.7 499.5h0M270.8 484.1h0M281.2 487.8h0M266.2 482.4h0M255.7 485.7h0M279.1 489.1h0M279.5 491.8h0M261.4 483.4h0M255.9 485.3h0M261.3 498h0M272.7 483h0M271 499.8h0M253.7 496.8h0M275.7 494h0M253.6 486.5h0M278.8 492.8h0M272.5 497.3h0M264.4 485.1h0M249.8 494.3h0M257.3 487.1h0M261.8 484.8h0M251.8 488.6h0M270.2 497.2h0M257.9 484.2h0M280.7 495.3h0M264.4 499.9h0M250.7 496.9h0M274.5 493.6h0M275.3 493.4h0M256.6 487.3h0M262.4 484.3h0M257.4 497.6h0M255.8 497.6h0M269.5 497.6h0M252.5 492.8h0M254.2 490.3h0M274.2 486.5h0M279.1 490.2h0M275.3 484.6h0M280.1 487.4h0M257.1 500.2h0M261 484.5h0M269.7 482.4h0M257 487.6h0M262.2 501.8h0M251.7 487.5h0M273 484h0M274.4 493.2h0M250.3 495.3h0M274.8 489.8h0M270.2 484.1h0M265.5 482.4h0M278.3 490.6h0"/><path d="M262.7 484.2h0M257.2 484.4h0M273.8 494.1h0M250.1 493h0M258.3 485.7h0M259.5 498.3h0M249.8 494.1h0M276 487.7h0M251.5 486.4h0M251.8 493.8h0M281.4 491.7h0M273.9 493.8h0M271.9 482.7h0M262.6 485h0M269.1 484.7h0M251.3 490.2h0M250.3 490.2h0M253.1 492.4h0M261.1 482.7h0M259.8 498.4h0M250.5 494.3h0M250.6 495.7h0M255.2 485.9h0M267.9 496.3h0M281.4 489.1h0M278 492.8h0M271.4 496.5h0M270.8 484.5h0M261.1 486h0M263.2 485h0M251.2 497h0M275.9 493.3h0M253.4 495h0M271.7 484.1h0M247.7 494.2h0M254.5 487.8h0M256.6 498.1h0M275.6 496.4h0M253 487.6h0M250.9 494.9h0M258.6 498.4h0M265.2 497.3h0M259.4 486h0M260.5 498.8h0M251.9 490.3h0M265.3 499.3h0M263.1 483h0M255.6 498.9h0M250.7 495.2h0M274.5 486.1h0M261.5 486.4h0M261.9 484.4h0M259.3 498.1h0M270 483.9h0M255.5 498.1h0M275.8 488.3h0M272.9 485.3h0M255.8 486.5h0M269.9 483h0M252 491.9h0"/><path d="M261.2 483.5h0M275.1 494.4h0M276.2 488.2h0M267.3 483h0M276.9 496.3h0M266.5 497.9h0M249.4 490.2h0M263.9 481.9h0M275.9 496.5h0M276 487h0M256.2 501.3h0M278.4 488h0M263.2 483.8h0M251.4 494.7h0M256.1 499.5h0M276.8 493.1h0M276.8 492.7h0M252 487.1h0M264.9 484.1h0M273.6 485.5h0M255.7 499.7h0M277.8 485.1h0M261.7 500.5h0M274.9 486.5h0M277.4 484h0M274.2 496.1h0M273.9 481.6h0M259.9 485.9h0M258.7 484.6h0M270.3 483.5h0M253.7 492.1h0M252 493.5h0M255.2 500h0M271.9 484.1h0M273.7 485.1h0M274.2 496.6h0M264.9 482.2h0M263.8 500.2h0M270.8 496.3h0M270.5 497.4h0M249.6 490.3h0M263.6 498.5h0M266.5 497.9h0M278 493.4h0M258.7 501h0M264.9 484.5h0M273.4 490h0M253.7 494.2h0M254.2 489.3h0M277.8 490.7h0M262.1 500h0M274.9 484.7h0M276.9 488.3h0M271.5 483.2h0M271.5 495.7h0M264.1 483.4h0M253 495.8h0M275.4 498.4h0M249.5 495.4h0M274.6 485.8h0"/><path d="M272.1 484.8h0M255.4 497.8h0M274.8 491.4h0M273.7 485.1h0M276.7 488h0M249 493.9h0M268 497.8h0M252.3 491.9h0M259.5 486.2h0M253.2 494.3h0M257.6 498.9h0M266.3 498.5h0M261.7 500.6h0M276.9 490.8h0M265.8 500h0M277.7 486h0M278.3 488.7h0M261.9 486.1h0M266 484.6h0M253 498.6h0M249.9 489h0M268.7 498.3h0M255.5 485.5h0M259.6 485h0M261.7 484.3h0M252.1 494.2h0M279.5 486.4h0M272.9 483.2h0M251.8 490.5h0M257.7 485.8h0M263.9 499.8h0M277.4 485.6h0M255.9 487.5h0M276.7 482.6h0M262.7 499.5h0M278 487.4h0M278.7 494h0M248.7 492.8h0M276 493.8h0M271.6 497.6h0M264.2 484.5h0M276.6 491.5h0M258.2 496.2h0M272 498.2h0M269.5 485.4h0M278.5 492.5h0M259.4 498.3h0M270.8 484.5h0M257.9 485.5h0M258.8 484.6h0M279.3 487.6h0M281.7 489h0M255.7 485.9h0M262.2 482.8h0M262.9 484.3h0M259.4 483.8h0M277.9 491.9h0M276.4 492.4h0M264.9 483.4h0M253 488.6h0"/><path d="M265 499.2h0M279.1 488.6h0M251.7 492.4h0M275.7 492.6h0M262.6 482.9h0M259.8 497.3h0M267.6 483.8h0M279.4 493.5h0M255.9 493.2h0M275.4 493.1h0M265.6 482.4h0M254.1 491.1h0M268.5 501.1h0M272.9 488.2h0M255.9 484.4h0M257.5 500.9h0M272.6 482.4h0M255.8 498.3h0M277.4 485.5h0M262.3 498.3h0M279.5 487.1h0M275.8 491.4h0M261.7 484.2h0M262.2 500.4h0M254.8 496.4h0M254.8 487.6h0M278.5 490.5h0M267.7 496.9h0M278.3 493.9h0M261.9 483.5h0M267.7 496.7h0M250.8 494.2h0M259.9 498.4h0M267.1 497.8h0M276.6 485.4h0M252 493.5h0M253.9 486.2h0M259.6 485.4h0M269.6 482h0M265 499h0M278.9 492.3h0M252.3 495.3h0M272 496.1h0M276.2 489.6h0M276.7 484.5h0M252.3 487.4h0M250.3 499.5h0M276.5 495.7h0M263.8 483.2h0M251.1 492.5h0"/></g>
<ellipse cx="264.5" cy="491.2" rx="12.42" ry="6.69" fill="url(#gD)" stroke="#222" stroke-width="0.8" stroke-opacity="0.6" transform="rotate(-12 264.5 491.2)"/>
<ellipse cx="268.64" cy="490.44" rx="6.21" ry="3.8" fill="#d2d2d2" fill-opacity="0.7" stroke="#666" stroke-width="0.6" transform="rotate(-20 268.64 490.44)"/>
</g>
<line x1="260.4" y1="455.4" x2="260.4" y2="544.2" stroke="#333" stroke-width="1.1"/>
<line x1="218.6" y1="497" x2="312.2" y2="497" stroke="#333" stroke-width="1.1"/>
<line x1="217.3" y1="457.4" x2="218.6" y2="457.4" stroke="#777" stroke-width="0.5"/>
<line x1="217.3" y1="460.32" x2="218.6" y2="460.32" stroke="#777" stroke-width="0.5"/>
<line x1="217.3" y1="463.25" x2="218.6" y2="463.25" stroke="#777" stroke-width="0.5"/>
<line x1="217.3" y1="466.17" x2="218.6" y2="466.17" stroke="#777" stroke-width="0.5"/>
<line x1="217.3" y1="469.1" x2="218.6" y2="469.1" stroke="#777" stroke-width="0.5"/>
<line x1="217.3" y1="472.02" x2="218.6" y2="472.02" stroke="#777" stroke-width="0.5"/>
<line x1="217.3" y1="474.94" x2="218.6" y2="474.94" stroke="#777" stroke-width="0.5"/>
<line x1="217.3" y1="477.87" x2="218.6" y2="477.87" stroke="#777" stroke-width="0.5"/>
<line x1="217.3" y1="480.79" x2="218.6" y2="480.79" stroke="#777" stroke-width="0.5"/>
<line x1="217.3" y1="483.72" x2="218.6" y2="483.72" stroke="#777" stroke-width="0.5"/>
<line x1="217.3" y1="486.64" x2="218.6" y2="486.64" stroke="#777" stroke-width="0.5"/>
<line x1="217.3" y1="489.57" x2="218.6" y2="489.57" stroke="#777" stroke-width="0.5"/>
<line x1="217.3" y1="492.49" x2="218.6" y2="492.49" stroke="#777" stroke-width="0.5"/>
<line x1="217.3" y1="495.41" x2="218.6" y2="495.41" stroke="#777" stroke-width="0.5"/>
<line x1="217.3" y1="498.34" x2="218.6" y2="498.34" stroke="#777" stroke-width="0.5"/>
<line x1="217.3" y1="501.26" x2="218.6" y2="501.26" stroke="#777" stroke-width="0.5"/>
<line x1="217.3" y1="504.19" x2="218.6" y2="504.19" stroke="#777" stroke-width="0.5"/>
<line x1="217.3" y1="507.11" x2="218.6" y2="507.11" stroke="#777" stroke-width="0.5"/>
<line x1="217.3" y1="510.03" x2="218.6" y2="510.03" stroke="#777" stroke-width="0.5"/>
<line x1="217.3" y1="512.96" x2="218.6" y2="512.96" stroke="#777" stroke-width="0.5"/>
<line x1="217.3" y1="515.88" x2="218.6" y2="515.88" stroke="#777" stroke-width="0.5"/>
<line x1="217.3" y1="518.81" x2="218.6" y2="518.81" stroke="#777" stroke-width="0.5"/>
<line x1="217.3" y1="521.73" x2="218.6" y2="521.73" stroke="#777" stroke-width="0.5"/>
<line x1="217.3" y1="524.66" x2="218.6" y2="524.66" stroke="#777" stroke-width="0.5"/>
<line x1="217.3" y1="527.58" x2="218.6" y2="527.58" stroke="#777" stroke-width="0.5"/>
<line x1="217.3" y1="530.5" x2="218.6" y2="530.5" stroke="#777" stroke-width="0.5"/>
<line x1="217.3" y1="533.43" x2="218.6" y2="533.43" stroke="#777" stroke-width="0.5"/>
<line x1="217.3" y1="536.35" x2="218.6" y2="536.35" stroke="#777" stroke-width="0.5"/>
<line x1="217.3" y1="539.28" x2="218.6" y2="539.28" stroke="#777" stroke-width="0.5"/>
<line x1="217.3" y1="542.2" x2="218.6" y2="542.2" stroke="#777" stroke-width="0.5"/>
<line x1="215.8" y1="466.6" x2="218.6" y2="466.6" stroke="#444" stroke-width="0.8"/>
<line x1="215.8" y1="482.2" x2="218.6" y2="482.2" stroke="#444" stroke-width="0.8"/>
<line x1="215.8" y1="497.8" x2="218.6" y2="497.8" stroke="#444" stroke-width="0.8"/>
<line x1="215.8" y1="516.6" x2="218.6" y2="516.6" stroke="#444" stroke-width="0.8"/>
<line x1="215.8" y1="528.8" x2="218.6" y2="528.8" stroke="#444" stroke-width="0.8"/>
<line x1="215.8" y1="541.6" x2="218.6" y2="541.6" stroke="#444" stroke-width="0.8"/>
<line x1="220.6" y1="544.2" x2="220.6" y2="545.5" stroke="#777" stroke-width="0.5"/>
<line x1="223.49" y1="544.2" x2="223.49" y2="545.5" stroke="#777" stroke-width="0.5"/>
<line x1="226.38" y1="544.2" x2="226.38" y2="545.5" stroke="#777" stroke-width="0.5"/>
<line x1="229.27" y1="544.2" x2="229.27" y2="545.5" stroke="#777" stroke-width="0.5"/>
<line x1="232.16" y1="544.2" x2="232.16" y2="545.5" stroke="#777" stroke-width="0.5"/>
<line x1="235.05" y1="544.2" x2="235.05" y2="545.5" stroke="#777" stroke-width="0.5"/>
<line x1="237.94" y1="544.2" x2="237.94" y2="545.5" stroke="#777" stroke-width="0.5"/>
<line x1="240.83" y1="544.2" x2="240.83" y2="545.5" stroke="#777" stroke-width="0.5"/>
<line x1="243.72" y1="544.2" x2="243.72" y2="545.5" stroke="#777" stroke-width="0.5"/>
<line x1="246.61" y1="544.2" x2="246.61" y2="545.5" stroke="#777" stroke-width="0.5"/>
<line x1="249.5" y1="544.2" x2="249.5" y2="545.5" stroke="#777" stroke-width="0.5"/>
<line x1="252.39" y1="544.2" x2="252.39" y2="545.5" stroke="#777" stroke-width="0.5"/>
<line x1="255.28" y1="544.2" x2="255.28" y2="545.5" stroke="#777" stroke-width="0.5"/>
<line x1="258.17" y1="544.2" x2="258.17" y2="545.5" stroke="#777" stroke-width="0.5"/>
<line x1="261.06" y1="544.2" x2="261.06" y2="545.5" stroke="#777" stroke-width="0.5"/>
<line x1="263.95" y1="544.2" x2="263.95" y2="545.5" stroke="#777" stroke-width="0.5"/>
<line x1="266.85" y1="544.2" x2="266.85" y2="545.5" stroke="#777" stroke-width="0.5"/>
<line x1="269.74" y1="544.2" x2="269.74" y2="545.5" stroke="#777" stroke-width="0.5"/>
<line x1="272.63" y1="544.2" x2="272.63" y2="545.5" stroke="#777" stroke-width="0.5"/>
<line x1="275.52" y1="544.2" x2="275.52" y2="545.5" stroke="#777" stroke-width="0.5"/>
<line x1="278.41" y1="544.2" x2="278.41" y2="545.5" stroke="#777" stroke-width="0.5"/>
<line x1="281.3" y1="544.2" x2="281.3" y2="545.5" stroke="#777" stroke-width="0.5"/>
<line x1="284.19" y1="544.2" x2="284.19" y2="545.5" stroke="#777" stroke-width="0.5"/>
<line x1="287.08" y1="544.2" x2="287.08" y2="545.5" stroke="#777" stroke-width="0.5"/>
<line x1="289.97" y1="544.2" x2="289.97" y2="545.5" stroke="#777" stroke-width="0.5"/>
<line x1="292.86" y1="544.2" x2="292.86" y2="545.5" stroke="#777" stroke-width="0.5"/>
<line x1="295.75" y1="544.2" x2="295.75" y2="545.5" stroke="#777" stroke-width="0.5"/>
<line x1="298.64" y1="544.2" x2="298.64" y2="545.5" stroke="#777" stroke-width="0.5"/>
<line x1="301.53" y1="544.2" x2="301.53" y2="545.5" stroke="#777" stroke-width="0.5"/>
<line x1="304.42" y1="544.2" x2="304.42" y2="545.5" stroke="#777" stroke-width="0.5"/>
<line x1="307.31" y1="544.2" x2="307.31" y2="545.5" stroke="#777" stroke-width="0.5"/>
<line x1="310.2" y1="544.2" x2="310.2" y2="545.5" stroke="#777" stroke-width="0.5"/>
<line x1="227.1" y1="544.2" x2="227.1" y2="547" stroke="#333" stroke-width="0.9"/>
<line x1="249.6" y1="544.2" x2="249.6" y2="547" stroke="#333" stroke-width="0.9"/>
<line x1="264.6" y1="544.2" x2="264.6" y2="547" stroke="#333" stroke-width="0.9"/>
<line x1="294.6" y1="544.2" x2="294.6" y2="547" stroke="#333" stroke-width="0.9"/>
<rect x="216.2" y="527" width="1.8" height="3.6" fill="#111"/>
<rect x="225.1" y="544.7" width="6" height="1.6" fill="#222"/>
<text x="215.1" y="468.1" font-size="4.5" fill="#333" text-anchor="end" font-family="'Liberation Serif'">10<tspan dy="-1.8" font-size="2.8">6</tspan></text>
<text x="215.1" y="483.7" font-size="4.5" fill="#333" text-anchor="end" font-family="'Liberation Serif'">10<tspan dy="-1.8" font-size="2.8">5</tspan></text>
<text x="215.1" y="499.3" font-size="4.5" fill="#333" text-anchor="end" font-family="'Liberation Serif'">10<tspan dy="-1.8" font-size="2.8">4</tspan></text>
<text x="215.1" y="518.1" font-size="4.5" fill="#333" text-anchor="end" font-family="'Liberation Serif'">10<tspan dy="-1.8" font-size="2.8">3</tspan></text>
<text x="215.1" y="543.1" font-size="4.5" fill="#333" text-anchor="end" font-family="'Liberation Serif'">-10<tspan dy="-1.8" font-size="2.8">3</tspan></text>
<text x="213.1" y="530.3" font-size="4.5" fill="#333" text-anchor="end">0</text>
<text x="227.1" y="552.2" font-size="4.5" fill="#333" text-anchor="middle">0</text>
<text x="249.6" y="552.2" font-size="4.5" fill="#333" text-anchor="middle" font-family="'Liberation Serif'">10<tspan dy="-1.8" font-size="2.8">3</tspan></text>
<text x="264.6" y="552.2" font-size="4.5" fill="#333" text-anchor="middle" font-family="'Liberation Serif'">10<tspan dy="-1.8" font-size="2.8">4</tspan></text>
<text x="294.6" y="552.2" font-size="4.5" fill="#333" text-anchor="middle" font-family="'Liberation Serif'">10<tspan dy="-1.8" font-size="2.8">5</tspan></text>
<text x="230" y="467" font-size="10.4" font-weight="bold" textLength="19" lengthAdjust="spacingAndGlyphs">12.6</text>
<text x="282" y="467" font-size="10.4" font-weight="bold" textLength="19" lengthAdjust="spacingAndGlyphs">83.4</text>
<text x="230" y="540" font-size="10.4" font-weight="bold" textLength="13.6" lengthAdjust="spacingAndGlyphs">0.7</text>
<text x="288" y="540" font-size="10.4" font-weight="bold" textLength="13" lengthAdjust="spacingAndGlyphs">3.2</text>
<rect x="83.6" y="569.8" width="93.6" height="88.8" fill="#fff" stroke="#b0b0b0" stroke-width="0.8"/>
<clipPath id="cD83_569"><rect x="84.1" y="570.3" width="92.6" height="87.8"/></clipPath><g clip-path="url(#cD83_569)">
<g stroke="#333" stroke-opacity="0.45" stroke-width="0.6" stroke-linecap="square" fill="none"><path d="M124.1 612.9h0M142.6 614.8h0M104.9 614.8h0M138.7 609.7h0M120.8 627.5h0M112.6 615.6h0M104.7 601.2h0M125.6 599.5h0M108.3 612.6h0M128.5 610.4h0M112.3 600.7h0M111.7 603.1h0M124.6 616.9h0M127.2 633.8h0M128.6 617.6h0M120.1 613h0M136.5 619.3h0M105.8 633.1h0M129.9 620.9h0M120.1 601.7h0M110.7 639.1h0M116.6 601.5h0M122.2 610.2h0M84.8 606.9h0M98.6 628.1h0M117.3 613.7h0M125.3 619.1h0M89.5 626.1h0M102.8 609.9h0M111.1 617.9h0M109.4 604.4h0M120.8 636.4h0M97.9 607.3h0M125.2 619.1h0M120.6 602.8h0M129.2 602.4h0M101.2 617.3h0M120.5 622.6h0M127.3 611.5h0M131.9 610.5h0M125.3 597.6h0M101 632.3h0M99 621.7h0M115.7 611.9h0M118.6 630.8h0M88.6 639.3h0M150 601.4h0M121.7 622.1h0M138.7 593.6h0M119.4 613.4h0M127.2 613.5h0M126.1 607.7h0M116.9 609.4h0M109.5 618.5h0M112.3 606.1h0M139.6 604.6h0M104.9 634h0M111 624.8h0M119.8 617.9h0M118.9 609.4h0"/><path d="M127.9 633.3h0M89.2 630.2h0M120.5 603.6h0M109.5 643.3h0M122.6 636.3h0M126.5 612.9h0M128 618.2h0M136.7 612h0M121.7 616.3h0M140.6 614.3h0M102.9 616.3h0M120.9 608h0M110 609.5h0M117.2 621h0M132.4 609.4h0M146.6 601.9h0M166.1 604.4h0M123.6 608.1h0M80.3 632h0M129.3 631.5h0M108.3 641.1h0M118.6 623.6h0M85.4 632.8h0M117.2 623.8h0M115.5 604.9h0M134.6 615.8h0M131.2 620.8h0M133.7 608.5h0M95 611.9h0M140.1 613.4h0"/></g>
<g stroke="#000" stroke-opacity="0.45" stroke-width="0.7" stroke-linecap="square" fill="none"><path d="M132.9 617.6h0M111.6 622.2h0M105.2 621.9h0M106.5 614.5h0M128.3 613.3h0M124.7 619h0M131.3 616h0M120.5 622.7h0M127.3 619.9h0M130.8 606.3h0M112.9 624.2h0M128 616.9h0M113.3 613.7h0M131.1 608.5h0M119.3 608.4h0M108.5 613.4h0M112 624.9h0M112.2 622.7h0M117.8 626h0M120.5 605.8h0M120.2 606.2h0M108.8 620.8h0M124.3 607.1h0M109.9 613.5h0M111.6 611.8h0M120.5 622h0M123.1 622.6h0M124.1 621.8h0M128.4 606.6h0M119.7 607.8h0M128.6 605.2h0M121.7 606.6h0M119.7 610.3h0M109.7 623h0M117 608.2h0M129.2 619.1h0M109.8 613.2h0M131.4 612h0M129.5 609.1h0M126.5 605.8h0M127.6 618.4h0M117.4 608.7h0M121.4 607.7h0M132.9 611.5h0M107.2 617.9h0M111.8 622.1h0M106.7 615.1h0M125.6 607.5h0M113.4 609.5h0M125.5 621.2h0M104 619.3h0M104.4 618.8h0M130.7 610.7h0M129.6 616.7h0M114.5 623h0M129.3 620.1h0M123.5 622.4h0M108.9 611.3h0M129.8 608.6h0M110.9 620.9h0"/><path d="M106.7 613.2h0M116.6 608.2h0M110.2 612.1h0M109.3 613h0M132.6 609.3h0M125.6 605.9h0M126.3 617.8h0M128.4 620h0M107.3 620.6h0M107.4 616.9h0M115.5 606.8h0M118.8 624.9h0M129.2 608.1h0M110.8 614.9h0M123.4 606.4h0M106.2 622.9h0M131.5 613.4h0M129.5 611.2h0M109.7 614.1h0M111 622.5h0M108.3 623.8h0M115.8 625.4h0M128.5 619.8h0M108.4 621.8h0M121.9 622.9h0M127.3 606.1h0M126.7 619.1h0M130.3 608.6h0M126.1 603.9h0M111.7 624.8h0M117.4 607h0M107.3 617.2h0M107.4 622.8h0M120.3 609h0M122.2 606.7h0M126.9 621.3h0M130 604.4h0M134 610.6h0M132.8 609.5h0M106.8 622.1h0M118.2 623.3h0M109.7 623.8h0M106 622.8h0M108.7 621.9h0M128.8 605.8h0M127 608.3h0M115.7 622.4h0M119.2 622.6h0M111.5 613.7h0M124.7 619.4h0M109.5 625.7h0M113.5 610.1h0M132 609.9h0M117.3 606.7h0M113.7 608.2h0M112.1 623.9h0M123 623.7h0M105.4 619.7h0M118.6 623.9h0M121.6 606.3h0"/><path d="M109.1 616.5h0M117.8 623.2h0M120.4 607.2h0M106.3 615.8h0M129.3 616.7h0M110.1 624h0M105.1 622.7h0M131.7 606.3h0M116.3 625.3h0M106.3 624.7h0M130.2 609.2h0M109.7 623.6h0M122.1 606.4h0M130.6 614.8h0M111.7 623.8h0M128.8 620.5h0M126 606.9h0M107.9 618.4h0M125 621.6h0M134.3 614.3h0M109.5 624.1h0M133.1 614.6h0M107.6 621.6h0M114.5 609.9h0M117.5 623.4h0M127.8 618.7h0M112 626.9h0M126.6 618.2h0M124.2 604.6h0M129.4 614.9h0M115.2 609.2h0M115.1 625.5h0M113.7 609h0M117.4 607.7h0M127.3 616.6h0M116.1 608.1h0M128.2 608.9h0M101.8 618.9h0M109.1 613.7h0M116.3 624.6h0M126.2 618.6h0M115.6 609.3h0M121 608.4h0M126.4 621.4h0M130.1 615.7h0M113.7 625.3h0M109 614.8h0M113.6 624h0M132.5 607.1h0M119.1 608.5h0M125.9 609.2h0M106.3 616.3h0M116.7 609.6h0M129.3 608.4h0M133.5 610.9h0M107.8 617.4h0M127.7 620.3h0M119.4 608.1h0M124.5 623.1h0M114.4 607.8h0"/><path d="M115.8 623.9h0M109.4 613.4h0M111.6 612.3h0M128 606.7h0M126.4 605.1h0M110.7 622h0M110.4 610.8h0M125.6 618.8h0M129.6 614.9h0M114.5 611.5h0M130.1 604.4h0M115.5 608.7h0M105.8 620.8h0M109.1 614.7h0M113.5 608.5h0M110 617.3h0M113.3 624.7h0M125.2 603.8h0M113.2 624.2h0M127.4 606.8h0M119.8 606.4h0M119.2 608.3h0M122.5 606.7h0M132.8 608.4h0M131.6 609.2h0M105.9 621.7h0M112.6 624.2h0M114.3 609h0M130.7 608.5h0M105.9 614.3h0M133.1 610.5h0M131.5 611.7h0M111.4 620.4h0M118.8 606.7h0M127.2 605.7h0M113.3 623.5h0M109.7 619.3h0M108.3 620h0M132.7 614.5h0M129.7 610.7h0M107 620h0M106.1 621.4h0M125.7 605h0M127.1 619.5h0M123.8 606.7h0M120.4 622.7h0M103.2 620.4h0M111.6 609.7h0M129.1 617.5h0M127.7 609.3h0M129 609h0M131.6 608h0M130.3 610.4h0M107.5 613.6h0M109.8 612.1h0M126.2 606.3h0M126.4 620.9h0M130.9 616.4h0M120.4 608h0M121.2 622.6h0"/><path d="M135.8 612.3h0M129.2 614.7h0M109.5 613.8h0M104.2 620.3h0M115.7 608.9h0M120.2 608h0M129.3 610.9h0M129.8 606.9h0M126.8 605.4h0M131 605.9h0M117.2 608h0M110.8 625.8h0M121.9 621.5h0M128.2 606.8h0M110.5 623.3h0M106.5 622.1h0M111.2 610.4h0M110.2 610.8h0M112.6 611.7h0M105.9 614.8h0M107.2 620.7h0M117.4 609.1h0M111.3 624.2h0M120.8 621.5h0M127.8 607h0M123.6 606.2h0M113.5 610.1h0M128.6 619h0M131.3 612.1h0M128.5 607.2h0M127.5 609.3h0M120.5 623.3h0M109.4 614.7h0M131 610.9h0M111.3 624.3h0M112.2 610.5h0M114.7 622.6h0M120.1 608.9h0M127.6 607.4h0M130.3 617.2h0M110.9 611.2h0M111.6 625.7h0M129.1 619.7h0M114 625.2h0M107 622.2h0M125.8 608h0M117.2 609.1h0M130.8 610.4h0M132.3 612.4h0M131.7 609.3h0M106.2 618.6h0M107.6 615.7h0M113.6 625.4h0M122.4 606.5h0M105.7 618.7h0M106.3 616.7h0M122 622h0M118.1 608.9h0M125.3 621.4h0M130.2 617.2h0"/><path d="M107.3 616.4h0M122.2 607.2h0M118.7 626.4h0M118.1 623.2h0M128.7 617.7h0M106.7 616.1h0M117.7 609.2h0M130.3 616.4h0M102.9 620.8h0M104.5 620h0M131.8 615.3h0M105.1 620.4h0M120.5 623.4h0M126.9 621h0M130.9 609.3h0M130.5 614.5h0M114.7 624.7h0M106.2 615.1h0M110.1 624.7h0M132.9 610.1h0M123.3 609.1h0M123.7 623.2h0M107.2 627h0M129.3 605.4h0M130.1 608.9h0M127 608.1h0M109.8 624.5h0M115.8 609.8h0M124.1 605.7h0M125.6 619.9h0M132.2 607.6h0M133.2 614.9h0M112.1 613.7h0M123.2 622.4h0M124.3 620.6h0M127.5 616.8h0M128.6 608.4h0M129.6 616.5h0M129.2 605.8h0M126.2 618h0M115.4 625.8h0M126.8 622.4h0M132.2 608.8h0M132.1 614.5h0M124.5 606.6h0M118.3 622.6h0M130.8 607.4h0M115.6 608.3h0M121.4 623.8h0M101.9 622.9h0M129.3 618.7h0M109.9 624.8h0M134.6 610h0M112.4 612.4h0M108.7 616.5h0M120.4 622.9h0M130.6 610.8h0M130.4 606.8h0M129.6 616.3h0M115.3 626.6h0"/><path d="M134.5 610h0M111.1 625.5h0M111.1 623.9h0M105 620.2h0M116 625.4h0M121.8 621.5h0M118.6 607.2h0M120 624.2h0M115.6 624.8h0M104.1 623.1h0M120.6 624.6h0M114.5 610.3h0M131.6 614h0M116.7 623.4h0M108.8 624.7h0M121.3 622h0M123.4 605.5h0M113.7 625.1h0M108.3 625.1h0M107.6 622.5h0M121.6 608.5h0M126 622.6h0M122 606.9h0M131.8 606.4h0M121.1 623.5h0M128.7 619.1h0M118.8 605.4h0M117.1 624.6h0M124.9 622.8h0M129 614.1h0M106.1 615.4h0M128.9 607.8h0M125.8 606.8h0M106.7 616.9h0M108.2 624h0M133.6 607.3h0M112 613.5h0M130.2 608.1h0M112 611.8h0M110.7 610.2h0M112.5 611h0M130.8 616.5h0M121.9 622.2h0M132.9 612.8h0M130.4 606.3h0M130.7 609.9h0M107.1 615.9h0M126.8 617.6h0M130.6 616.4h0M107 624.3h0M112 623.8h0M127.3 620.9h0M127.8 614.7h0M111.5 614.1h0M119.1 608.9h0M130.9 613.1h0M117.4 624.2h0M118.2 623.9h0M106.2 619.4h0M106 616h0"/><path d="M110.7 623.7h0M123.9 608.1h0M112.7 623h0M117.6 626.5h0M117.7 610.5h0M123 606.8h0M127 604.8h0M128.5 619h0M125.3 619.7h0M107.6 622.9h0M131.9 607.7h0M105.8 615h0M109.2 615h0M115.8 625.4h0M131.7 609.2h0M128.3 620.1h0M103.8 619h0M110.9 612.2h0M120.3 608.7h0M121 606.5h0M109.9 626.7h0M120.7 624h0M131.3 608.7h0M101.9 619.9h0M119.6 622.4h0M130.8 617.3h0M120 607.8h0M123.6 606.5h0M106.2 618h0M110.4 626.4h0M110.8 613.2h0M130.1 609.4h0M109.2 617h0M118.7 607h0M125.6 607.2h0M116.2 608h0M108.6 621h0M126.9 619.1h0M110.8 610.3h0M122.2 606.9h0M131.4 607.7h0M129.5 618.1h0M130 615.7h0M110.7 614.5h0M122.4 605.6h0M131.9 613.6h0M105.9 615.4h0M120.4 621h0M128.6 611.1h0M115.1 622h0M130 614.1h0M118.3 606.5h0M118.1 624.7h0M109.7 624h0M130.1 616.7h0M115.4 625.4h0M129.3 616.8h0M121.8 623.2h0M106.2 617.5h0M118.5 621.5h0"/><path d="M110.5 612.6h0M128.8 605.2h0M107.1 617.5h0M131.6 611.2h0M129.3 608.8h0M125.6 620h0M113.9 626h0M106.6 620h0M109.2 615.2h0M116.6 620.7h0M109.4 622.9h0M110.9 614.9h0M110.6 621.2h0M119.6 624.5h0M109.3 625.1h0M113.7 622.2h0M118.9 624.8h0M106.3 616.2h0M107.7 620.3h0M109.2 625.1h0M114.1 611.5h0M120.5 608.4h0M111 613.9h0M115.6 623.2h0M130.5 606.6h0M128.7 615.3h0M120 608.4h0M110.8 622.9h0M110.8 624.7h0M123 607h0M108.2 612.8h0M129.6 609.4h0M124.6 608.2h0M129.7 615.9h0M106.4 621.3h0M117.4 609h0M131.9 613.9h0M102.9 620.3h0M130.3 610h0M123.1 622.1h0M132.5 616h0M119.1 623h0M115.2 623.5h0M119.3 622.4h0M108.4 624.2h0M122.7 606.1h0M106.5 620.5h0M106.7 616.8h0M132.7 615.5h0M133.2 612.7h0M127.8 609.4h0M114.5 624.6h0M129.9 607.8h0M115 625.4h0M108.9 614h0M110.5 613h0M130.5 614.5h0M128.5 613.9h0M108.6 623.5h0M129.1 616.4h0"/><path d="M118.5 624.4h0M125.2 619.5h0M117.3 623.7h0M109.4 622.1h0M117.6 622.9h0M115.1 625.4h0M107.7 621.6h0M110.5 611.4h0M129.8 612.4h0M131.5 609.6h0M111.4 621.9h0M127.9 607.8h0M130.7 610.5h0M132.8 612.4h0M131.3 614.9h0M127.7 607.3h0M109.1 625.1h0M123.5 606.4h0M111.2 610.8h0M132.5 614.1h0M113.5 624.5h0M115.9 624.1h0M107.6 623.5h0M116.3 609h0M132 614h0M130.1 606.1h0M105.8 623.1h0M113.5 624.1h0M113.2 611.8h0M120.1 623.3h0M113.1 610.3h0M108.5 625.4h0M107.8 621.9h0M126.4 619.7h0M126.3 621h0M124.2 607.2h0M106.8 617.5h0M107.3 625.9h0M117.5 606.3h0M128.6 606.3h0M128.8 618.4h0M129.7 610.5h0M132.6 610.1h0M107.4 615.4h0M121.2 623.2h0M121.8 622.1h0M106.7 621.6h0M107.5 616h0M108.4 623.9h0M111.9 609.1h0M130.4 607.6h0M125.8 618.1h0M122.6 621.2h0M109.9 615.7h0M111.2 623.2h0M116.8 624.9h0M105.8 621.5h0M112.5 611.4h0M128 606.7h0M128.3 608.5h0"/><path d="M120.9 608.6h0M115.4 622.8h0M125.3 607.8h0M111.6 609.3h0M125.9 618.4h0M131.8 606.8h0M123 623.6h0M111.2 611.8h0M111.8 611.1h0M126.9 607.7h0M110 612.5h0M132.1 608.5h0M131.7 612.7h0M133.6 611h0M127.4 620.9h0M105.9 617.7h0M109 624.3h0M131.3 614h0M126.1 620.7h0M108.5 617.1h0M110.2 624.8h0M116.8 608h0M108.9 621.8h0M127.7 604h0M116.8 609.4h0M108.2 620.9h0M113.5 624.9h0M123.3 619.6h0M118.9 622.9h0M115 622.7h0M114.2 623.4h0M127.1 619.2h0M106.8 622.8h0M132.3 615.6h0M125.7 605.6h0M104.1 619.5h0M132 614.6h0M116.2 623.8h0M122.2 623.8h0M127.9 617.9h0M108.1 621.6h0M128.7 620.4h0M129.9 618.1h0M112.1 610.6h0M108.2 624.6h0M109.3 611.8h0M109.6 621.3h0M106.7 621.1h0M117.6 622.7h0M109.2 624h0"/></g>
<ellipse cx="119" cy="615.6" rx="12.15" ry="6.6" fill="url(#gD)" stroke="#222" stroke-width="0.8" stroke-opacity="0.6" transform="rotate(-25 119 615.6)"/>
<ellipse cx="123.05" cy="614.85" rx="6.08" ry="3.75" fill="#d2d2d2" fill-opacity="0.7" stroke="#666" stroke-width="0.6" transform="rotate(-33 123.05 614.85)"/>
<g stroke="#000" stroke-opacity="0.7" stroke-width="0.7" stroke-linecap="square" fill="none"><path d="M133.8 613.3h0M137.4 607.8h0M135.8 606.8h0M136 611.2h0M136.6 605h0M134.8 611.1h0M136.7 612.8h0M132 611.2h0M133.9 610.3h0M137 611.6h0M134.1 610.3h0M132.3 606.3h0M137.5 609.7h0M131 607.7h0M135.9 613.7h0M139 611.9h0M130.5 609.6h0M137.3 610.8h0M137.1 609.3h0M141.1 613.5h0M135.5 607.4h0M142 608.5h0M139.4 614.6h0M133 610.6h0M134.8 611.1h0M136.8 614.7h0M137.6 609.8h0M139.2 609.2h0M134.7 615.4h0M133.4 608.6h0M136 607.2h0M129.5 612.5h0M133.5 608.5h0M134.7 607.4h0M132.6 610.3h0M143 611.7h0M138.1 606.1h0M135.8 606.9h0M138.1 609.3h0M135.9 609.6h0M134.1 606h0M137.6 606.4h0M132.3 609.1h0M133.7 610.5h0M138.9 610.5h0M136.4 609.9h0M138.4 605.2h0M136.9 607.5h0M132.1 609.9h0M134.7 611.3h0M139.1 604h0M135.6 614.7h0M138.4 613.5h0M136.1 606.3h0M132.4 611.6h0M138.7 608h0M135 610.5h0M130.6 609h0M140.7 615.3h0M135.5 614.4h0"/><path d="M134.2 607.8h0M129.1 612.2h0M134.7 615.7h0M136.8 610.3h0M130.4 613.6h0M134.7 609.5h0M129.2 612.2h0M138.8 608.3h0M136.1 610.8h0M138.7 610.1h0M141 609.3h0M134 608.7h0M128.2 607.8h0M138.9 610.5h0M133.4 610.7h0M129.8 609.1h0M137.4 611.6h0M133.5 612.1h0M141.4 608.8h0M138.1 606h0"/></g>
</g>
<line x1="124.4" y1="569.8" x2="124.4" y2="658.6" stroke="#333" stroke-width="1.1"/>
<line x1="83.6" y1="611" x2="177.2" y2="611" stroke="#333" stroke-width="1.1"/>
<line x1="82.3" y1="571.8" x2="83.6" y2="571.8" stroke="#777" stroke-width="0.5"/>
<line x1="82.3" y1="574.72" x2="83.6" y2="574.72" stroke="#777" stroke-width="0.5"/>
<line x1="82.3" y1="577.65" x2="83.6" y2="577.65" stroke="#777" stroke-width="0.5"/>
<line x1="82.3" y1="580.57" x2="83.6" y2="580.57" stroke="#777" stroke-width="0.5"/>
<line x1="82.3" y1="583.5" x2="83.6" y2="583.5" stroke="#777" stroke-width="0.5"/>
<line x1="82.3" y1="586.42" x2="83.6" y2="586.42" stroke="#777" stroke-width="0.5"/>
<line x1="82.3" y1="589.34" x2="83.6" y2="589.34" stroke="#777" stroke-width="0.5"/>
<line x1="82.3" y1="592.27" x2="83.6" y2="592.27" stroke="#777" stroke-width="0.5"/>
<line x1="82.3" y1="595.19" x2="83.6" y2="595.19" stroke="#777" stroke-width="0.5"/>
<line x1="82.3" y1="598.12" x2="83.6" y2="598.12" stroke="#777" stroke-width="0.5"/>
<line x1="82.3" y1="601.04" x2="83.6" y2="601.04" stroke="#777" stroke-width="0.5"/>
<line x1="82.3" y1="603.97" x2="83.6" y2="603.97" stroke="#777" stroke-width="0.5"/>
<line x1="82.3" y1="606.89" x2="83.6" y2="606.89" stroke="#777" stroke-width="0.5"/>
<line x1="82.3" y1="609.81" x2="83.6" y2="609.81" stroke="#777" stroke-width="0.5"/>
<line x1="82.3" y1="612.74" x2="83.6" y2="612.74" stroke="#777" stroke-width="0.5"/>
<line x1="82.3" y1="615.66" x2="83.6" y2="615.66" stroke="#777" stroke-width="0.5"/>
<line x1="82.3" y1="618.59" x2="83.6" y2="618.59" stroke="#777" stroke-width="0.5"/>
<line x1="82.3" y1="621.51" x2="83.6" y2="621.51" stroke="#777" stroke-width="0.5"/>
<line x1="82.3" y1="624.43" x2="83.6" y2="624.43" stroke="#777" stroke-width="0.5"/>
<line x1="82.3" y1="627.36" x2="83.6" y2="627.36" stroke="#777" stroke-width="0.5"/>
<line x1="82.3" y1="630.28" x2="83.6" y2="630.28" stroke="#777" stroke-width="0.5"/>
<line x1="82.3" y1="633.21" x2="83.6" y2="633.21" stroke="#777" stroke-width="0.5"/>
<line x1="82.3" y1="636.13" x2="83.6" y2="636.13" stroke="#777" stroke-width="0.5"/>
<line x1="82.3" y1="639.06" x2="83.6" y2="639.06" stroke="#777" stroke-width="0.5"/>
<line x1="82.3" y1="641.98" x2="83.6" y2="641.98" stroke="#777" stroke-width="0.5"/>
<line x1="82.3" y1="644.9" x2="83.6" y2="644.9" stroke="#777" stroke-width="0.5"/>
<line x1="82.3" y1="647.83" x2="83.6" y2="647.83" stroke="#777" stroke-width="0.5"/>
<line x1="82.3" y1="650.75" x2="83.6" y2="650.75" stroke="#777" stroke-width="0.5"/>
<line x1="82.3" y1="653.68" x2="83.6" y2="653.68" stroke="#777" stroke-width="0.5"/>
<line x1="82.3" y1="656.6" x2="83.6" y2="656.6" stroke="#777" stroke-width="0.5"/>
<line x1="80.8" y1="581" x2="83.6" y2="581" stroke="#444" stroke-width="0.8"/>
<line x1="80.8" y1="596.6" x2="83.6" y2="596.6" stroke="#444" stroke-width="0.8"/>
<line x1="80.8" y1="612.2" x2="83.6" y2="612.2" stroke="#444" stroke-width="0.8"/>
<line x1="80.8" y1="631" x2="83.6" y2="631" stroke="#444" stroke-width="0.8"/>
<line x1="80.8" y1="643.2" x2="83.6" y2="643.2" stroke="#444" stroke-width="0.8"/>
<line x1="80.8" y1="656" x2="83.6" y2="656" stroke="#444" stroke-width="0.8"/>
<line x1="85.6" y1="658.6" x2="85.6" y2="659.9" stroke="#777" stroke-width="0.5"/>
<line x1="88.49" y1="658.6" x2="88.49" y2="659.9" stroke="#777" stroke-width="0.5"/>
<line x1="91.38" y1="658.6" x2="91.38" y2="659.9" stroke="#777" stroke-width="0.5"/>
<line x1="94.27" y1="658.6" x2="94.27" y2="659.9" stroke="#777" stroke-width="0.5"/>
<line x1="97.16" y1="658.6" x2="97.16" y2="659.9" stroke="#777" stroke-width="0.5"/>
<line x1="100.05" y1="658.6" x2="100.05" y2="659.9" stroke="#777" stroke-width="0.5"/>
<line x1="102.94" y1="658.6" x2="102.94" y2="659.9" stroke="#777" stroke-width="0.5"/>
<line x1="105.83" y1="658.6" x2="105.83" y2="659.9" stroke="#777" stroke-width="0.5"/>
<line x1="108.72" y1="658.6" x2="108.72" y2="659.9" stroke="#777" stroke-width="0.5"/>
<line x1="111.61" y1="658.6" x2="111.61" y2="659.9" stroke="#777" stroke-width="0.5"/>
<line x1="114.5" y1="658.6" x2="114.5" y2="659.9" stroke="#777" stroke-width="0.5"/>
<line x1="117.39" y1="658.6" x2="117.39" y2="659.9" stroke="#777" stroke-width="0.5"/>
<line x1="120.28" y1="658.6" x2="120.28" y2="659.9" stroke="#777" stroke-width="0.5"/>
<line x1="123.17" y1="658.6" x2="123.17" y2="659.9" stroke="#777" stroke-width="0.5"/>
<line x1="126.06" y1="658.6" x2="126.06" y2="659.9" stroke="#777" stroke-width="0.5"/>
<line x1="128.95" y1="658.6" x2="128.95" y2="659.9" stroke="#777" stroke-width="0.5"/>
<line x1="131.85" y1="658.6" x2="131.85" y2="659.9" stroke="#777" stroke-width="0.5"/>
<line x1="134.74" y1="658.6" x2="134.74" y2="659.9" stroke="#777" stroke-width="0.5"/>
<line x1="137.63" y1="658.6" x2="137.63" y2="659.9" stroke="#777" stroke-width="0.5"/>
<line x1="140.52" y1="658.6" x2="140.52" y2="659.9" stroke="#777" stroke-width="0.5"/>
<line x1="143.41" y1="658.6" x2="143.41" y2="659.9" stroke="#777" stroke-width="0.5"/>
<line x1="146.3" y1="658.6" x2="146.3" y2="659.9" stroke="#777" stroke-width="0.5"/>
<line x1="149.19" y1="658.6" x2="149.19" y2="659.9" stroke="#777" stroke-width="0.5"/>
<line x1="152.08" y1="658.6" x2="152.08" y2="659.9" stroke="#777" stroke-width="0.5"/>
<line x1="154.97" y1="658.6" x2="154.97" y2="659.9" stroke="#777" stroke-width="0.5"/>
<line x1="157.86" y1="658.6" x2="157.86" y2="659.9" stroke="#777" stroke-width="0.5"/>
<line x1="160.75" y1="658.6" x2="160.75" y2="659.9" stroke="#777" stroke-width="0.5"/>
<line x1="163.64" y1="658.6" x2="163.64" y2="659.9" stroke="#777" stroke-width="0.5"/>
<line x1="166.53" y1="658.6" x2="166.53" y2="659.9" stroke="#777" stroke-width="0.5"/>
<line x1="169.42" y1="658.6" x2="169.42" y2="659.9" stroke="#777" stroke-width="0.5"/>
<line x1="172.31" y1="658.6" x2="172.31" y2="659.9" stroke="#777" stroke-width="0.5"/>
<line x1="175.2" y1="658.6" x2="175.2" y2="659.9" stroke="#777" stroke-width="0.5"/>
<line x1="92.1" y1="658.6" x2="92.1" y2="661.4" stroke="#333" stroke-width="0.9"/>
<line x1="114.6" y1="658.6" x2="114.6" y2="661.4" stroke="#333" stroke-width="0.9"/>
<line x1="129.6" y1="658.6" x2="129.6" y2="661.4" stroke="#333" stroke-width="0.9"/>
<line x1="159.6" y1="658.6" x2="159.6" y2="661.4" stroke="#333" stroke-width="0.9"/>
<rect x="81.2" y="641.4" width="1.8" height="3.6" fill="#111"/>
<rect x="90.1" y="659.1" width="6" height="1.6" fill="#222"/>
<text x="80.1" y="582.5" font-size="4.5" fill="#333" text-anchor="end" font-family="'Liberation Serif'">10<tspan dy="-1.8" font-size="2.8">6</tspan></text>
<text x="80.1" y="598.1" font-size="4.5" fill="#333" text-anchor="end" font-family="'Liberation Serif'">10<tspan dy="-1.8" font-size="2.8">5</tspan></text>
<text x="80.1" y="613.7" font-size="4.5" fill="#333" text-anchor="end" font-family="'Liberation Serif'">10<tspan dy="-1.8" font-size="2.8">4</tspan></text>
<text x="80.1" y="632.5" font-size="4.5" fill="#333" text-anchor="end" font-family="'Liberation Serif'">10<tspan dy="-1.8" font-size="2.8">3</tspan></text>
<text x="80.1" y="657.5" font-size="4.5" fill="#333" text-anchor="end" font-family="'Liberation Serif'">-10<tspan dy="-1.8" font-size="2.8">3</tspan></text>
<text x="78.1" y="644.7" font-size="4.5" fill="#333" text-anchor="end">0</text>
<text x="92.1" y="666.6" font-size="4.5" fill="#333" text-anchor="middle">0</text>
<text x="114.6" y="666.6" font-size="4.5" fill="#333" text-anchor="middle" font-family="'Liberation Serif'">10<tspan dy="-1.8" font-size="2.8">3</tspan></text>
<text x="129.6" y="666.6" font-size="4.5" fill="#333" text-anchor="middle" font-family="'Liberation Serif'">10<tspan dy="-1.8" font-size="2.8">4</tspan></text>
<text x="159.6" y="666.6" font-size="4.5" fill="#333" text-anchor="middle" font-family="'Liberation Serif'">10<tspan dy="-1.8" font-size="2.8">5</tspan></text>
<text x="94" y="582" font-size="10.4" font-weight="bold" textLength="13.6" lengthAdjust="spacingAndGlyphs">2.7</text>
<text x="146.4" y="582" font-size="10.4" font-weight="bold" textLength="18.6" lengthAdjust="spacingAndGlyphs">11.0</text>
<text x="93.6" y="653" font-size="10.4" font-weight="bold" textLength="18.8" lengthAdjust="spacingAndGlyphs">69.5</text>
<text x="146.6" y="653" font-size="10.4" font-weight="bold" textLength="18.4" lengthAdjust="spacingAndGlyphs">16.8</text>
<rect x="220" y="569.6" width="93.6" height="88.8" fill="#fff" stroke="#b0b0b0" stroke-width="0.8"/>
<clipPath id="cD220_569"><rect x="220.5" y="570.1" width="92.6" height="87.8"/></clipPath><g clip-path="url(#cD220_569)">
<g stroke="#333" stroke-opacity="0.45" stroke-width="0.6" stroke-linecap="square" fill="none"><path d="M233.5 631.5h0M256.9 616.5h0M247.2 616h0M272.4 624.5h0M246.6 602.7h0M273.9 612.6h0M264.9 612.6h0M284.9 602.2h0M254.9 596.8h0M245.8 612.8h0M256.6 618.1h0M253 633.7h0M240.6 617.6h0M253.8 603.4h0M265.2 617h0M259.4 632.5h0M257.8 616.9h0M237.2 606.8h0M246.6 616.1h0M252.9 624.1h0M221.5 619.6h0M238.1 636.8h0M246.6 614.1h0M245.4 628.9h0M251.4 619.3h0M234.8 636.6h0M262.7 617.3h0M270.4 606.3h0M256.4 622h0M260.1 610.6h0M254.3 610.7h0M268.2 618.6h0M263 630.6h0M235.6 622.1h0M275.4 601.6h0M241.1 635.9h0M257.9 602h0M261.4 602.1h0M238.4 621.6h0M245.5 608.8h0M247.3 608.9h0M256.4 614.5h0M263.3 607h0M234 611.9h0M258.6 629.2h0M263.9 604.8h0M263 600h0M266.9 606h0M267.7 615.8h0M253.5 619.4h0M242.1 620.7h0M285.1 642.7h0M264.9 611.7h0M247.2 629.7h0M231.9 618.1h0M255.6 603h0M279.2 615.2h0M246.5 613.8h0M233.9 611.2h0M263.7 617.7h0"/><path d="M261.2 615.2h0M250.1 621.3h0M237.4 623.7h0M279.3 617.4h0M248.7 615h0M279.9 621.8h0M235.4 620.3h0M263.4 623.8h0M247.8 625.3h0M261.2 636.5h0M260.6 611.5h0M255.6 625.8h0M260.1 602.2h0M253.3 602.7h0M241.3 608.8h0M236.5 617.1h0M245.5 625.2h0M264.8 608.5h0M244.9 628.3h0M223 610.9h0M267.4 616.3h0M267.1 607.6h0M238 618.2h0M259.9 605.4h0M241.6 607.6h0M244.5 628.9h0M257 602.8h0M240.1 616.7h0M258.1 602.2h0M245.4 598.3h0"/></g>
<g stroke="#000" stroke-opacity="0.45" stroke-width="0.7" stroke-linecap="square" fill="none"><path d="M267.6 608.7h0M257.8 623.2h0M262.8 604.4h0M245.9 621.1h0M265.2 608.3h0M256.2 621.1h0M265.7 607.2h0M255.5 624h0M246.9 622.1h0M244.9 613.8h0M244.6 618.1h0M246.6 611.4h0M249.5 610.7h0M258 621.2h0M267.2 610.6h0M252.6 610.9h0M248 615.6h0M244.2 617.7h0M243.7 621.4h0M268 605.5h0M256 622.9h0M264.5 607.5h0M263.6 617.7h0M248.8 610.4h0M266.7 607.5h0M264.8 617.3h0M254.8 607.4h0M257.9 622.9h0M265.3 613.2h0M246.3 623.6h0M249.9 610.7h0M257 622.3h0M266 608.5h0M270.9 608.6h0M258.6 623.7h0M251.8 625.7h0M251.6 622.3h0M255.9 622.3h0M269.8 610.2h0M261.3 619.3h0M258.5 621.4h0M250.4 612.8h0M248.7 625.7h0M250.8 609h0M246.1 623h0M252.7 623.8h0M264.8 617.6h0M260.8 620.6h0M264.8 606.4h0M247.2 621.5h0M254.5 624.6h0M261.4 620.1h0M261.9 607.8h0M249.2 609.7h0M249.8 611h0M257.6 606.7h0M259.9 621h0M253.5 611.2h0M269.1 613h0M249.6 612.9h0"/><path d="M253.8 624.6h0M249.7 613.1h0M260 619.4h0M251.7 624h0M247.8 611.9h0M266.3 607.7h0M253.4 622.2h0M265.8 618.6h0M264.7 615.8h0M248.9 612.3h0M263 607.9h0M267.7 610.8h0M252 624.6h0M264 618h0M267.5 607.7h0M267.5 616.5h0M265.5 613.5h0M255.1 609.3h0M267.4 610.1h0M255.3 608.6h0M267.6 615.4h0M250.6 621.1h0M243.5 620.2h0M264.8 606.2h0M253.8 608.8h0M266.1 613.1h0M246.3 622.2h0M255.7 608.4h0M243.6 618.9h0M248.2 612.3h0M268.3 607.9h0M266.9 609.4h0M260.6 605.2h0M248.5 616.6h0M255.4 622h0M265.8 617.9h0M263.1 617.5h0M245.9 613.5h0M255.4 609.2h0M261.5 606.7h0M263.8 608.2h0M256.7 622.3h0M253.2 623.7h0M263.1 619.5h0M245.2 618.4h0M269.4 605.8h0M254 608.5h0M248.3 621.7h0M266.4 618h0M260.8 605.9h0M265.1 605.6h0M254.4 606.4h0M256.4 621.9h0M248.5 624.7h0M243.2 616.8h0M265.1 607.3h0M260.2 621.6h0M251.4 619.8h0M267.4 612.8h0M271 608.6h0"/><path d="M259.1 619.9h0M257.8 607.8h0M248.3 611.7h0M244.6 622h0M246.6 625h0M258 620.5h0M254.7 608.2h0M243.9 621.8h0M266.1 613.5h0M246.3 614.3h0M270.9 608.1h0M270.3 612.9h0M268.8 609.3h0M263.6 614.8h0M255.2 623h0M268.1 608.6h0M266.9 609h0M263.8 618.9h0M249.2 607.6h0M246.1 615.1h0M250 622.3h0M256 607.5h0M247 614h0M261.1 620.5h0M245.3 620.9h0M250.1 609.8h0M245.7 614.6h0M246.5 618.1h0M252.7 609.3h0M267.1 616.6h0M267.7 612h0M270.3 610.6h0M244.9 614.6h0M248.4 621.7h0M260 606.5h0M270.3 607h0M269.6 615.3h0M250.3 623.5h0M246.8 624h0M245.7 618.2h0M263 608.8h0M244.5 615.8h0M255.4 623.4h0M247.3 612.3h0M253.7 623.4h0M244.1 618.2h0M266.9 614.6h0M243.9 617.8h0M244.2 622.1h0M247.1 613.4h0M243.4 617.7h0M247.6 616.7h0M253 609.8h0M268.4 616.6h0M252.9 607.1h0M245.8 614.5h0M249.5 611.3h0M250.3 621.9h0M268.6 613.8h0M266.2 606.6h0"/><path d="M258.7 608.6h0M268.3 608.4h0M245.3 622.5h0M263.6 606.4h0M261.4 608.1h0M243.7 618.6h0M262.5 608.7h0M258.7 605.5h0M267.8 614.8h0M264.9 616.2h0M247 624.7h0M242.7 619.8h0M248.2 613.2h0M241.1 618.3h0M261.8 608h0M257.3 607h0M269.3 614.7h0M254 620.9h0M264.3 605.8h0M253.9 608.6h0M268.3 610.5h0M247.8 614.5h0M267.2 616.1h0M246.7 619.7h0M266.4 610.3h0M267.4 613.5h0M258.5 608.4h0M242.9 622.5h0M265.5 610.1h0M261 607.7h0M267.8 612.9h0M247 613.5h0M262.1 605.9h0M257.5 623.4h0M250.6 610.7h0M259.1 621.5h0M262.6 619.9h0M253.1 624.4h0M256.3 623.6h0M266.3 608.9h0M259.4 619.5h0M245 625.2h0M243.8 621.9h0M249.3 611h0M267.8 608.4h0M246.6 615h0M260.9 607.9h0M266.1 616.3h0M248.1 612.6h0M263.9 618.1h0M261.1 608.5h0M245.7 616h0M267.1 616.7h0M260.6 607.4h0M244.6 619.5h0M248.5 619.5h0M267.7 613.7h0M264.3 607.3h0M246.7 619.2h0M260.6 608.8h0"/><path d="M268.8 613.2h0M249.7 612h0M250 624.1h0M245.2 618.8h0M245.3 614.4h0M259 607.4h0M263.5 609h0M264.8 618.1h0M261.3 607.2h0M268.1 615.6h0M267.5 610.6h0M255.7 622.6h0M257 623.6h0M254.8 606.9h0M243.4 618.1h0M248.7 624.7h0M256.5 607.1h0M266.9 606.9h0M245.7 613.4h0M246.9 612.9h0M261.7 606.7h0M256.3 623h0M271.8 607.8h0M264.4 618.6h0M268 612h0M258.8 607.4h0M264.4 618.5h0M253.1 623.8h0M246.6 619.3h0M264.4 615.2h0M247.3 623.3h0M252.9 621.8h0M268.4 613.8h0M245.2 615.6h0M244.8 623.4h0M267.3 618.3h0M256.3 607.3h0M249 622.6h0M266.5 611.6h0M262.1 607.7h0M248.4 623.3h0M264.6 614.5h0M256.6 622.9h0M259.1 621.8h0M269.5 611.5h0M253.6 623.1h0M264.9 618.3h0M261.5 619.8h0M249 612.1h0M263.2 617.1h0M268.6 610.7h0M265.9 619.4h0M256.1 623.1h0M265.4 618.2h0M246.8 615.8h0M264.1 605.2h0M259.2 607.8h0M244.5 622.4h0M256.1 607.6h0M256.5 608.6h0"/><path d="M245.2 613.7h0M257.4 607.3h0M250.1 623.8h0M253.1 608.4h0M244.7 619.6h0M252.9 609.4h0M252.5 608.7h0M267.6 613h0M259.7 606.8h0M267.3 611.8h0M249.3 621.3h0M246.2 616.1h0M258.8 607.6h0M268.4 612.4h0M247.1 611.5h0M253.4 621.6h0M268.7 611.6h0M254.3 621h0M248.2 613.8h0M267.2 613.8h0M259.4 609.4h0M265.4 612.6h0M260.4 621.4h0M253.6 623.6h0M268.1 612.8h0M264.5 608.3h0M270.3 606.6h0M264.2 607.3h0M262.2 619.1h0M260.4 605h0M252.7 624.2h0M256.6 622.4h0M248.3 610.5h0M268.2 613.8h0M269.2 609.6h0M266 607.3h0M252.5 622.4h0M256.9 606.5h0M247.3 623.1h0M266.2 614.4h0M246.7 620.9h0M265.7 618.7h0M267.5 613.7h0M268.4 610.6h0M248.2 624.1h0M258.9 622.1h0M253.8 621.8h0M267.9 607.8h0M259.7 605.9h0M249.7 609.9h0M260.7 622.9h0M253.3 608.4h0M249.2 610.3h0M242 620.3h0M260.2 621h0M263.9 621.2h0M245.8 624.9h0M257.7 623.3h0M264.8 604.8h0M244.6 622.6h0"/><path d="M249.7 612.2h0M265.1 605.7h0M245.6 614.6h0M265.7 618h0M254.3 623.5h0M266.9 606h0M269.3 611.6h0M261 620.1h0M245.2 614.8h0M261.6 605.9h0M258.5 607.9h0M252.4 609.8h0M250.5 610.9h0M251 622.9h0M268.9 612.5h0M245.2 613.7h0M271.2 612.7h0M257.2 606.1h0M268 616.4h0M270.2 610.2h0M270.2 608.8h0M264.4 618h0M243.9 616.8h0M268.9 612.5h0M267.4 609.2h0M267.6 610.8h0M249.8 611.5h0M260.3 607.1h0M256.1 621.6h0M269 609.8h0M268.4 611.5h0M268.5 612.6h0M253.7 608.3h0M243.4 619.8h0M263.3 607.7h0M246.6 614.1h0M247.7 615.9h0M260.9 618.4h0M260.1 619.2h0M269.9 607.7h0M264.1 609.9h0M246.3 623.1h0M256.9 605.9h0M251.7 610.2h0M257.7 624.1h0M264.6 620.8h0M253 607.9h0M270.5 606.3h0M268.6 608.7h0M252.1 622.8h0M269.1 612.7h0M254.5 622.8h0M266.1 613.5h0M265.8 610.4h0M254.9 625.7h0M260.4 607.4h0M259.8 621.5h0M266 609h0M245 621.1h0M259.6 607.2h0"/><path d="M246 615.8h0M255 609.4h0M265.9 613.6h0M266.8 614.1h0M251.4 624h0M264.5 604.4h0M265.8 606h0M249.3 609h0M244.6 615.9h0M268.3 612.1h0M263.9 608.9h0M247.7 612.6h0M249 615h0M260.1 607.2h0M261.4 622.5h0M245.5 614.7h0M247.8 610.9h0M254.1 608.9h0M265.7 614.5h0M252.2 609.9h0M263.8 607.5h0M244.6 614.1h0M267 619.1h0M264.3 608.1h0M267.1 614.8h0M260.8 620.9h0M261 607.2h0M247 616.2h0M253.1 623.7h0M257.5 606.9h0M246.6 613.2h0M265.3 615.5h0M260.7 621h0M257.6 609.1h0M258.2 606.1h0M266.6 613.6h0M245 619.5h0M251.2 610.4h0M254.1 622.8h0M266.7 613.1h0M250 621.2h0M268.2 605.9h0M251.9 609.2h0M262.3 620.5h0M261.6 604.4h0M248.2 612.3h0M256.5 623.4h0M258.2 622.3h0M265.6 619.2h0M248.1 623.9h0M251.2 624h0M256.9 622.5h0M262.7 606.5h0M253.9 607.3h0M248.3 619.3h0M266.9 608.5h0M248.9 612.1h0M266.3 608.4h0M258.4 609.2h0M245.5 613.8h0"/><path d="M250.4 611.5h0M255.4 608.2h0M254.2 608.9h0M261.1 608.7h0M253.1 623.1h0M252.5 621.5h0M259.3 620.8h0M264.9 607.7h0M264.3 607.1h0M246.7 622.6h0M249 623.2h0M269.5 616.7h0M268.2 608.5h0M249.7 612.5h0M266.2 609h0M247.3 614.2h0M245 619.9h0M253.6 609.3h0M262.5 607.8h0M261.4 604.9h0M252.4 623.7h0M245.3 620.1h0M266 608.2h0M245.1 620.2h0M257.5 605.8h0M243.8 619.8h0M260.1 605.6h0M263.3 613.9h0M268.7 609.6h0M269.6 614h0M244.4 624.8h0M250.9 623.7h0M264.5 609.9h0M269 609.2h0M265.7 616.4h0M259 608.9h0M245.7 619.8h0M260.8 605.6h0M249.9 625h0M255 607.3h0M266.5 610.7h0M242 624.1h0M253.9 622.2h0M259.4 621.7h0M255.9 621.5h0M246.3 624.5h0M244.3 621.1h0M243.1 620.1h0M252.3 609.2h0M259.2 607h0M267.3 608.2h0M250.3 612.9h0M259.4 622.8h0M243.4 617.1h0M247.4 622.3h0M260.6 621.2h0M253.3 623.9h0M262 622.2h0M243.8 619.1h0M268.4 612.9h0"/><path d="M245.3 618.4h0M249.9 621.6h0M267.3 610.5h0M257.6 622.6h0M267 608.9h0M244.7 616.9h0M269.6 612.6h0M244.1 617h0M250 610.3h0M267.4 616.6h0M248.5 623.6h0M262.1 620.3h0M243.7 618.9h0M258.3 608.9h0M260.9 622.4h0M264.6 616.5h0M267.4 616.9h0M245.7 615h0M270.1 612.7h0M244.5 619.5h0M257.8 608.2h0M254.4 607.1h0M248 612h0M268.5 610.2h0M247.1 622.9h0M260.5 622.3h0M243.3 620.5h0M266 617.4h0M264.4 616.2h0M266.1 608.5h0M263 606.7h0M270.5 614.4h0M259.4 606.5h0M268.2 612.9h0M252.3 625h0M267.8 609.6h0M266.2 607.8h0M245.5 622h0M251.4 611.5h0M249.1 624.7h0M261 606.2h0M254.7 623h0M261.6 619.3h0M266.3 617h0M244.4 613.9h0M245.6 617.7h0M263.2 608.2h0M266.5 617.2h0M257.3 609h0M263.4 610.1h0M253.4 609.2h0M266.2 615.4h0M265.3 617.4h0M267.1 614.1h0M253.1 623.9h0M254.2 608.6h0M265.3 616.9h0M247 622h0M269.6 611.5h0M247.7 611.2h0"/><path d="M269.1 614.5h0M256.7 606.7h0M250.5 615.1h0M262.6 618.7h0M250.2 610.9h0M252.1 623.9h0M247.2 618.6h0M242.2 618.6h0M258 622.7h0M248.6 622.5h0M256.2 607.4h0M261.6 607.1h0M260.3 607.6h0M243.8 617.6h0M262.1 607.3h0M264.4 616.5h0M266.8 609.7h0M268.3 611.9h0M263 608.2h0M256.6 606.2h0M250.5 622.3h0M256.5 605.7h0M268.2 607.4h0M264 617.6h0M247 613.1h0M270.1 609.1h0M248.1 612.5h0M266.5 613h0M248 612.2h0M271.8 609.8h0M250.3 621.7h0M262.5 606.1h0M255.3 623.2h0M267.2 608.7h0M246.2 621.4h0M263.8 618.7h0M267.4 606.6h0M266.3 617.8h0M246.7 616h0M268.4 606.2h0M264.5 609.1h0M243.4 618.3h0M262.4 620.4h0M242.9 621.5h0M256.4 623.3h0M254.5 624.5h0M254.5 623.4h0M263.7 620.4h0M269.1 611.3h0M252.6 606.7h0"/></g>
<ellipse cx="256.5" cy="615.2" rx="11.25" ry="6.16" fill="url(#gD)" stroke="#222" stroke-width="0.8" stroke-opacity="0.6" transform="rotate(-25 256.5 615.2)"/>
<ellipse cx="260.25" cy="614.5" rx="5.62" ry="3.5" fill="#d2d2d2" fill-opacity="0.7" stroke="#666" stroke-width="0.6" transform="rotate(-33 260.25 614.5)"/>
<g stroke="#000" stroke-opacity="0.7" stroke-width="0.7" stroke-linecap="square" fill="none"><path d="M269.1 613.3h0M272.6 611h0M269.5 611.6h0M266.8 607.6h0M273.4 607.2h0M275.5 610.1h0M272 610.8h0M272.5 610h0M270.1 610.4h0M274.4 613.2h0M275 611.5h0M270.6 607h0M273.2 612.5h0M270 612.4h0M275.1 610.9h0M274.4 611.3h0M266 609.6h0M270 611.8h0M268.6 609.7h0M268.3 610.6h0M271.4 612.8h0M273.6 611h0M272 610.9h0M271.6 614.1h0M263.8 610.3h0M272.2 613.2h0M267.9 611.4h0M273.8 609.7h0M265.5 609.9h0M267.6 612.1h0M268.7 614.6h0M271.7 608.9h0M269.7 608.3h0M272.4 614h0M270.6 612.7h0M268.4 611.3h0M278.1 607.6h0M274.9 613.3h0M265.6 607.5h0M268.3 612.8h0M269.9 610.3h0M273.4 610.9h0M271.9 610h0M274.6 609h0M276.3 609.9h0M268.8 612.1h0M272.6 606.3h0M271.9 607.7h0M268.7 612.4h0M268.6 611.4h0M270.1 614.9h0M270.9 608.1h0M267.9 608.7h0M271.6 610.6h0M274.1 611h0M271.6 611.4h0M270.8 611.3h0M273.6 612.4h0M269.6 606.8h0M268.8 611.3h0"/><path d="M263.7 609.6h0M272.5 609.4h0M267.8 614.5h0M275.3 610.1h0M275.2 613.5h0M267.8 616.5h0M268.4 610.1h0M267.9 610.8h0M267.2 610.6h0M274.4 611.1h0"/></g>
</g>
<line x1="261.6" y1="569.6" x2="261.6" y2="658.4" stroke="#333" stroke-width="1.1"/>
<line x1="220" y1="611" x2="313.6" y2="611" stroke="#333" stroke-width="1.1"/>
<line x1="218.7" y1="571.6" x2="220" y2="571.6" stroke="#777" stroke-width="0.5"/>
<line x1="218.7" y1="574.52" x2="220" y2="574.52" stroke="#777" stroke-width="0.5"/>
<line x1="218.7" y1="577.45" x2="220" y2="577.45" stroke="#777" stroke-width="0.5"/>
<line x1="218.7" y1="580.37" x2="220" y2="580.37" stroke="#777" stroke-width="0.5"/>
<line x1="218.7" y1="583.3" x2="220" y2="583.3" stroke="#777" stroke-width="0.5"/>
<line x1="218.7" y1="586.22" x2="220" y2="586.22" stroke="#777" stroke-width="0.5"/>
<line x1="218.7" y1="589.14" x2="220" y2="589.14" stroke="#777" stroke-width="0.5"/>
<line x1="218.7" y1="592.07" x2="220" y2="592.07" stroke="#777" stroke-width="0.5"/>
<line x1="218.7" y1="594.99" x2="220" y2="594.99" stroke="#777" stroke-width="0.5"/>
<line x1="218.7" y1="597.92" x2="220" y2="597.92" stroke="#777" stroke-width="0.5"/>
<line x1="218.7" y1="600.84" x2="220" y2="600.84" stroke="#777" stroke-width="0.5"/>
<line x1="218.7" y1="603.77" x2="220" y2="603.77" stroke="#777" stroke-width="0.5"/>
<line x1="218.7" y1="606.69" x2="220" y2="606.69" stroke="#777" stroke-width="0.5"/>
<line x1="218.7" y1="609.61" x2="220" y2="609.61" stroke="#777" stroke-width="0.5"/>
<line x1="218.7" y1="612.54" x2="220" y2="612.54" stroke="#777" stroke-width="0.5"/>
<line x1="218.7" y1="615.46" x2="220" y2="615.46" stroke="#777" stroke-width="0.5"/>
<line x1="218.7" y1="618.39" x2="220" y2="618.39" stroke="#777" stroke-width="0.5"/>
<line x1="218.7" y1="621.31" x2="220" y2="621.31" stroke="#777" stroke-width="0.5"/>
<line x1="218.7" y1="624.23" x2="220" y2="624.23" stroke="#777" stroke-width="0.5"/>
<line x1="218.7" y1="627.16" x2="220" y2="627.16" stroke="#777" stroke-width="0.5"/>
<line x1="218.7" y1="630.08" x2="220" y2="630.08" stroke="#777" stroke-width="0.5"/>
<line x1="218.7" y1="633.01" x2="220" y2="633.01" stroke="#777" stroke-width="0.5"/>
<line x1="218.7" y1="635.93" x2="220" y2="635.93" stroke="#777" stroke-width="0.5"/>
<line x1="218.7" y1="638.86" x2="220" y2="638.86" stroke="#777" stroke-width="0.5"/>
<line x1="218.7" y1="641.78" x2="220" y2="641.78" stroke="#777" stroke-width="0.5"/>
<line x1="218.7" y1="644.7" x2="220" y2="644.7" stroke="#777" stroke-width="0.5"/>
<line x1="218.7" y1="647.63" x2="220" y2="647.63" stroke="#777" stroke-width="0.5"/>
<line x1="218.7" y1="650.55" x2="220" y2="650.55" stroke="#777" stroke-width="0.5"/>
<line x1="218.7" y1="653.48" x2="220" y2="653.48" stroke="#777" stroke-width="0.5"/>
<line x1="218.7" y1="656.4" x2="220" y2="656.4" stroke="#777" stroke-width="0.5"/>
<line x1="217.2" y1="580.8" x2="220" y2="580.8" stroke="#444" stroke-width="0.8"/>
<line x1="217.2" y1="596.4" x2="220" y2="596.4" stroke="#444" stroke-width="0.8"/>
<line x1="217.2" y1="612" x2="220" y2="612" stroke="#444" stroke-width="0.8"/>
<line x1="217.2" y1="630.8" x2="220" y2="630.8" stroke="#444" stroke-width="0.8"/>
<line x1="217.2" y1="643" x2="220" y2="643" stroke="#444" stroke-width="0.8"/>
<line x1="217.2" y1="655.8" x2="220" y2="655.8" stroke="#444" stroke-width="0.8"/>
<line x1="222" y1="658.4" x2="222" y2="659.7" stroke="#777" stroke-width="0.5"/>
<line x1="224.89" y1="658.4" x2="224.89" y2="659.7" stroke="#777" stroke-width="0.5"/>
<line x1="227.78" y1="658.4" x2="227.78" y2="659.7" stroke="#777" stroke-width="0.5"/>
<line x1="230.67" y1="658.4" x2="230.67" y2="659.7" stroke="#777" stroke-width="0.5"/>
<line x1="233.56" y1="658.4" x2="233.56" y2="659.7" stroke="#777" stroke-width="0.5"/>
<line x1="236.45" y1="658.4" x2="236.45" y2="659.7" stroke="#777" stroke-width="0.5"/>
<line x1="239.34" y1="658.4" x2="239.34" y2="659.7" stroke="#777" stroke-width="0.5"/>
<line x1="242.23" y1="658.4" x2="242.23" y2="659.7" stroke="#777" stroke-width="0.5"/>
<line x1="245.12" y1="658.4" x2="245.12" y2="659.7" stroke="#777" stroke-width="0.5"/>
<line x1="248.01" y1="658.4" x2="248.01" y2="659.7" stroke="#777" stroke-width="0.5"/>
<line x1="250.9" y1="658.4" x2="250.9" y2="659.7" stroke="#777" stroke-width="0.5"/>
<line x1="253.79" y1="658.4" x2="253.79" y2="659.7" stroke="#777" stroke-width="0.5"/>
<line x1="256.68" y1="658.4" x2="256.68" y2="659.7" stroke="#777" stroke-width="0.5"/>
<line x1="259.57" y1="658.4" x2="259.57" y2="659.7" stroke="#777" stroke-width="0.5"/>
<line x1="262.46" y1="658.4" x2="262.46" y2="659.7" stroke="#777" stroke-width="0.5"/>
<line x1="265.35" y1="658.4" x2="265.35" y2="659.7" stroke="#777" stroke-width="0.5"/>
<line x1="268.25" y1="658.4" x2="268.25" y2="659.7" stroke="#777" stroke-width="0.5"/>
<line x1="271.14" y1="658.4" x2="271.14" y2="659.7" stroke="#777" stroke-width="0.5"/>
<line x1="274.03" y1="658.4" x2="274.03" y2="659.7" stroke="#777" stroke-width="0.5"/>
<line x1="276.92" y1="658.4" x2="276.92" y2="659.7" stroke="#777" stroke-width="0.5"/>
<line x1="279.81" y1="658.4" x2="279.81" y2="659.7" stroke="#777" stroke-width="0.5"/>
<line x1="282.7" y1="658.4" x2="282.7" y2="659.7" stroke="#777" stroke-width="0.5"/>
<line x1="285.59" y1="658.4" x2="285.59" y2="659.7" stroke="#777" stroke-width="0.5"/>
<line x1="288.48" y1="658.4" x2="288.48" y2="659.7" stroke="#777" stroke-width="0.5"/>
<line x1="291.37" y1="658.4" x2="291.37" y2="659.7" stroke="#777" stroke-width="0.5"/>
<line x1="294.26" y1="658.4" x2="294.26" y2="659.7" stroke="#777" stroke-width="0.5"/>
<line x1="297.15" y1="658.4" x2="297.15" y2="659.7" stroke="#777" stroke-width="0.5"/>
<line x1="300.04" y1="658.4" x2="300.04" y2="659.7" stroke="#777" stroke-width="0.5"/>
<line x1="302.93" y1="658.4" x2="302.93" y2="659.7" stroke="#777" stroke-width="0.5"/>
<line x1="305.82" y1="658.4" x2="305.82" y2="659.7" stroke="#777" stroke-width="0.5"/>
<line x1="308.71" y1="658.4" x2="308.71" y2="659.7" stroke="#777" stroke-width="0.5"/>
<line x1="311.6" y1="658.4" x2="311.6" y2="659.7" stroke="#777" stroke-width="0.5"/>
<line x1="228.5" y1="658.4" x2="228.5" y2="661.2" stroke="#333" stroke-width="0.9"/>
<line x1="251" y1="658.4" x2="251" y2="661.2" stroke="#333" stroke-width="0.9"/>
<line x1="266" y1="658.4" x2="266" y2="661.2" stroke="#333" stroke-width="0.9"/>
<line x1="296" y1="658.4" x2="296" y2="661.2" stroke="#333" stroke-width="0.9"/>
<rect x="217.6" y="641.2" width="1.8" height="3.6" fill="#111"/>
<rect x="226.5" y="658.9" width="6" height="1.6" fill="#222"/>
<text x="216.5" y="582.3" font-size="4.5" fill="#333" text-anchor="end" font-family="'Liberation Serif'">10<tspan dy="-1.8" font-size="2.8">6</tspan></text>
<text x="216.5" y="597.9" font-size="4.5" fill="#333" text-anchor="end" font-family="'Liberation Serif'">10<tspan dy="-1.8" font-size="2.8">5</tspan></text>
<text x="216.5" y="613.5" font-size="4.5" fill="#333" text-anchor="end" font-family="'Liberation Serif'">10<tspan dy="-1.8" font-size="2.8">4</tspan></text>
<text x="216.5" y="632.3" font-size="4.5" fill="#333" text-anchor="end" font-family="'Liberation Serif'">10<tspan dy="-1.8" font-size="2.8">3</tspan></text>
<text x="216.5" y="657.3" font-size="4.5" fill="#333" text-anchor="end" font-family="'Liberation Serif'">-10<tspan dy="-1.8" font-size="2.8">3</tspan></text>
<text x="214.5" y="644.5" font-size="4.5" fill="#333" text-anchor="end">0</text>
<text x="228.5" y="666.4" font-size="4.5" fill="#333" text-anchor="middle">0</text>
<text x="251" y="666.4" font-size="4.5" fill="#333" text-anchor="middle" font-family="'Liberation Serif'">10<tspan dy="-1.8" font-size="2.8">3</tspan></text>
<text x="266" y="666.4" font-size="4.5" fill="#333" text-anchor="middle" font-family="'Liberation Serif'">10<tspan dy="-1.8" font-size="2.8">4</tspan></text>
<text x="296" y="666.4" font-size="4.5" fill="#333" text-anchor="middle" font-family="'Liberation Serif'">10<tspan dy="-1.8" font-size="2.8">5</tspan></text>
<text x="230" y="581" font-size="10.4" font-weight="bold" textLength="13.6" lengthAdjust="spacingAndGlyphs">1.9</text>
<text x="288" y="581" font-size="10.4" font-weight="bold" textLength="13" lengthAdjust="spacingAndGlyphs">7.9</text>
<text x="230" y="653.6" font-size="10.4" font-weight="bold" textLength="19" lengthAdjust="spacingAndGlyphs">66.8</text>
<text x="282.4" y="653.6" font-size="10.4" font-weight="bold" textLength="18.6" lengthAdjust="spacingAndGlyphs">23.4</text>
<line x1="328.6" y1="638" x2="328.6" y2="679.8" stroke="#000" stroke-width="1.5"/>
<line x1="285" y1="679" x2="329.3" y2="679" stroke="#000" stroke-width="1.5"/>
<text x="331.6" y="644.3" font-size="15" font-weight="bold" text-anchor="middle" textLength="32.6" lengthAdjust="spacingAndGlyphs" transform="rotate(90 331.6 644.3)">CD80</text>
<text x="284.4" y="697.4" font-size="13.6" font-weight="bold" textLength="33.2" lengthAdjust="spacingAndGlyphs">CD86</text>
<text x="450.6" y="435" font-size="12.2" font-weight="bold" textLength="48.8" lengthAdjust="spacingAndGlyphs">MEDIUM</text>
<text x="585.6" y="434.6" font-size="12.2" font-weight="bold" textLength="35" lengthAdjust="spacingAndGlyphs">TNF-α</text>
<text x="394.5" y="503.5" font-size="12" font-weight="bold" textLength="3.7" lengthAdjust="spacingAndGlyphs">-</text>
<text x="384.4" y="613.3" font-size="12" font-weight="bold" textLength="27.8" lengthAdjust="spacingAndGlyphs">tVLP</text>
<rect x="419.4" y="444" width="113" height="227" rx="15" fill="none" stroke="#000" stroke-width="1.4"/>
<rect x="546.4" y="444" width="113.4" height="227" rx="15" fill="none" stroke="#000" stroke-width="1.4"/>
<rect x="419.4" y="558.2" width="240.4" height="112.8" rx="15" fill="none" stroke="#000" stroke-width="1.4"/>
<circle cx="475" cy="503" r="50" fill="#fff"/>
<path d="M475 503 L475 453 A50 50 0 0 1 524.61 496.73 Z" fill="#000"/>
<path d="M475 503 L524.61 496.73 A50 50 0 0 1 501.5 545.4 Z" fill="#666"/>
<path d="M475 503 L501.5 545.4 A50 50 0 0 1 447.33 544.65 Z" fill="#cbcbcb"/>
<path d="M475 503 L447.33 544.65 A50 50 0 0 1 475 453 Z" fill="#fff"/>
<circle cx="475" cy="503" r="50" fill="none" stroke="#000" stroke-width="1"/>
<text x="482" y="473" font-size="11.5" font-weight="bold" fill="#fff" textLength="13.6" lengthAdjust="spacingAndGlyphs">23</text>
<circle cx="604" cy="502.6" r="50.2" fill="#fff"/>
<path d="M604 502.6 L604 452.4 A50.2 50.2 0 0 1 622.81 456.06 Z" fill="#000"/>
<path d="M604 502.6 L622.81 456.06 A50.2 50.2 0 0 1 652.16 488.43 Z" fill="#666"/>
<path d="M604 502.6 L652.16 488.43 A50.2 50.2 0 0 1 651.32 519.36 Z" fill="#cbcbcb"/>
<path d="M604 502.6 L651.32 519.36 A50.2 50.2 0 1 1 604 452.4 Z" fill="#fff"/>
<circle cx="604" cy="502.6" r="50.2" fill="none" stroke="#000" stroke-width="1"/>
<text x="606.6" y="472.6" font-size="11.5" font-weight="bold" fill="#fff" textLength="6" lengthAdjust="spacingAndGlyphs">6</text>
<circle cx="475" cy="613.6" r="50" fill="#fff"/>
<path d="M475 613.6 L475 563.6 A50 50 0 1 1 427.58 629.47 Z" fill="#000"/>
<path d="M475 613.6 L427.58 629.47 A50 50 0 0 1 425 613.6 Z" fill="#666"/>
<path d="M475 613.6 L425 613.6 A50 50 0 0 1 445.61 573.15 Z" fill="#cbcbcb"/>
<path d="M475 613.6 L445.61 573.15 A50 50 0 0 1 475 563.6 Z" fill="#fff"/>
<circle cx="475" cy="613.6" r="50" fill="none" stroke="#000" stroke-width="1"/>
<text x="472" y="646" font-size="11.5" font-weight="bold" fill="#fff" textLength="12.6" lengthAdjust="spacingAndGlyphs">70</text>
<circle cx="604" cy="613.6" r="50" fill="#fff"/>
<path d="M604 613.6 L604 563.6 A50 50 0 1 1 589.38 661.42 Z" fill="#000"/>
<path d="M604 613.6 L589.38 661.42 A50 50 0 0 1 569.27 649.57 Z" fill="#666"/>
<path d="M604 613.6 L569.27 649.57 A50 50 0 0 1 554.23 618.39 Z" fill="#cbcbcb"/>
<path d="M604 613.6 L554.23 618.39 A50 50 0 0 1 604 563.6 Z" fill="#fff"/>
<circle cx="604" cy="613.6" r="50" fill="none" stroke="#000" stroke-width="1"/>
<text x="615" y="645.6" font-size="11.5" font-weight="bold" fill="#fff" textLength="13.4" lengthAdjust="spacingAndGlyphs">54</text>
<rect x="388.4" y="683.8" width="11.2" height="8.6" fill="#000" stroke="#000" stroke-width="0.8"/>
<text x="405.8" y="692.2" font-size="11.4" textLength="74.4" lengthAdjust="spacingAndGlyphs">CD86lo CD80lo</text>
<rect x="487.3" y="683.8" width="11.2" height="8.6" fill="#666" stroke="#000" stroke-width="0.8"/>
<text x="503.8" y="692.2" font-size="11.4" textLength="75.2" lengthAdjust="spacingAndGlyphs">CD86lo CD80hi</text>
<rect x="591.9" y="683.8" width="11.2" height="8.6" fill="#cbcbcb" stroke="#000" stroke-width="0.8"/>
<text x="608.4" y="692.2" font-size="11.4" textLength="74.4" lengthAdjust="spacingAndGlyphs">CD86hi CD80lo</text>
<text x="2.4" y="750" font-size="19.5" textLength="10" lengthAdjust="spacingAndGlyphs">E</text>
<defs><radialGradient id="gE"><stop offset="0" stop-color="#000" stop-opacity="0.9"/><stop offset="0.5" stop-color="#222" stop-opacity="0.55"/><stop offset="1" stop-color="#555" stop-opacity="0"/></radialGradient><radialGradient id="gEc"><stop offset="0" stop-color="#666" stop-opacity="0.7"/><stop offset="0.55" stop-color="#888" stop-opacity="0.45"/><stop offset="1" stop-color="#aaa" stop-opacity="0"/></radialGradient><radialGradient id="gE2"><stop offset="0" stop-color="#555" stop-opacity="0.75"/><stop offset="0.6" stop-color="#888" stop-opacity="0.45"/><stop offset="1" stop-color="#aaa" stop-opacity="0"/></radialGradient></defs>
<text x="100.6" y="730" font-size="12.6" font-weight="bold" textLength="53.4" lengthAdjust="spacingAndGlyphs">MEDIUM</text>
<text x="246.4" y="729.6" font-size="12.6" font-weight="bold" textLength="36" lengthAdjust="spacingAndGlyphs">TNF-α</text>
<text x="35.6" y="821.6" font-size="12.6" font-weight="bold" textLength="4" lengthAdjust="spacingAndGlyphs">-</text>
<text x="21.6" y="927" font-size="13" font-weight="bold" textLength="29.8" lengthAdjust="spacingAndGlyphs">tVLP</text>
<rect x="73.6" y="738.6" width="113.8" height="232" rx="20" fill="none" stroke="#000" stroke-width="1.5"/>
<rect x="209.6" y="738.6" width="113.4" height="232" rx="20" fill="none" stroke="#000" stroke-width="1.5"/>
<rect x="73.6" y="857" width="249.4" height="113.6" rx="20" fill="none" stroke="#000" stroke-width="1.5"/>
<rect x="84.4" y="748.6" width="88.3" height="88.4" fill="#fff" stroke="#9a9a9a" stroke-width="0.8"/>
<clipPath id="cE84_748"><rect x="84.9" y="749.1" width="87.3" height="87.4"/></clipPath><g clip-path="url(#cE84_748)">
<ellipse cx="108.5" cy="796.5" rx="9.24" ry="13.02" fill="url(#gEc)" transform="rotate(40 108.5 796.5)"/>
<g stroke="#000" stroke-opacity="0.13" stroke-width="0.55" stroke-linecap="square" fill="none"><path d="M103.2 803.1h0M114.5 797.4h0M109.6 793.2h0M110.6 797.8h0M118.3 789.7h0M113.9 800.3h0M111.2 797.7h0M105.4 797.7h0M112 797.8h0M105.3 799.3h0M111.7 787h0M112.4 794.4h0M105.6 787.4h0M111.8 789.6h0M103.6 792.6h0M112.3 797.8h0M104.6 796.3h0M112 797h0M106.1 802.9h0M111.1 792.1h0M108.6 798.6h0M117.2 793.4h0M109.7 790.7h0M102.4 792.4h0M113.1 794.4h0M109.7 804.1h0M108.9 800.1h0M116.9 792.8h0M108.1 801h0M101.4 793.4h0M104.6 799.5h0M107.2 795.2h0M113.1 793.3h0M110.8 797.6h0M112.2 795.4h0M109.6 802.3h0M105.4 799h0M105.4 808.4h0M99.9 796.4h0M110.4 797.3h0M100.3 799.8h0M102.2 795.8h0M119.1 792.4h0M112.7 789.5h0M103.3 804.4h0M122.1 793.5h0M103.8 798.3h0M111.9 802.8h0M104.9 795.9h0M109.3 795.5h0M104.6 796.4h0M109.9 796.9h0M112.9 789.8h0M102.1 800.9h0M113.6 789.1h0M110.7 802.6h0M115 802.5h0M112.8 788.4h0M102.5 812.3h0M108.4 791.2h0"/><path d="M113.7 794.2h0M109 794.1h0M104.8 802.2h0M104.9 800.9h0M105.8 796.9h0M107.4 783.8h0M113.4 795.8h0M108.2 800.6h0M109.5 803.9h0M112.2 798.7h0M109.2 791.1h0M111.4 789.8h0M107.1 794.6h0M110.7 795.6h0M102.6 791h0M104.9 802.3h0M112.9 795h0M98.2 804.1h0M103.6 807.2h0M118.6 798.4h0M107.9 799.7h0M108.1 800.6h0M108.5 797.9h0M104.3 791.7h0M105.6 795.1h0M104.5 798.2h0M109.9 800.2h0M109.1 797.8h0M107.7 794.5h0M105.4 797h0M106.2 799.3h0M100.7 797.1h0M109 791h0M110.1 793.3h0M111.7 794.6h0M108.4 789.6h0M112.5 800.3h0M104.7 793.4h0M96.4 800.8h0M101.7 794.7h0M116 791.1h0M105.5 802h0M109 799h0M110.9 799.8h0M110.1 796.8h0M114.3 793.7h0M113.1 796.2h0M103.5 795.3h0M110.1 805.6h0M104.1 798.4h0M107.5 794.7h0M118 785.7h0M113.2 792.1h0M112.1 787.6h0M107.4 787.9h0M104.5 806.6h0M104.1 801.6h0M115.3 786.7h0M107.2 799h0M105.9 796.8h0"/><path d="M113.8 793.9h0M104.6 791.5h0M109.2 794.3h0M104.8 807.4h0M104.4 798.7h0M108.7 802.4h0M113.4 797.5h0M102.8 808.1h0M113.6 795.7h0M105.4 804.1h0M111.9 794.8h0M118.4 794.7h0M110.2 797.8h0M99.8 799.1h0M114.3 791.9h0M112.2 796.1h0M105.1 788.1h0M106.8 800.2h0M108.9 797.2h0M110.9 796.8h0M111.7 800.4h0M107.3 799.9h0M107.9 790.3h0M112.1 802.2h0M106.2 797.4h0M105.8 796.5h0M105.3 796h0M98.1 798.6h0M113.2 787.6h0M109.3 794.1h0M113.6 791.5h0M95.3 814.8h0M103 794.7h0M106.7 796.6h0M107.3 786.1h0M110.1 797.6h0M116.6 797.6h0M97.5 810.8h0M109.6 790.1h0M108.6 796.2h0M110.7 799.4h0M105.2 795.5h0M111.9 809.7h0M100.1 788.3h0M103.2 797.1h0M100.2 805.2h0M107.9 803.2h0M109.3 796.8h0M104.4 803.6h0M111.6 796.3h0M111.8 800.9h0M111.4 792.5h0M109.2 792h0M95.5 793.8h0M111.2 797h0M110.1 801.4h0M119.6 785.7h0M105.6 798.4h0M106.3 809.6h0M117.7 794.8h0"/><path d="M99.2 793.3h0M104.8 801.1h0M107.2 797.2h0M101.9 794.6h0M105.7 797h0M110.4 797.2h0M109.6 797.3h0M108.9 800.9h0M109.1 792.2h0M114.5 800.7h0M110.1 801h0M109.7 791.4h0M107.9 798h0M115.5 792.1h0M107 794.4h0M123.1 789.6h0M112.1 795.1h0M111.8 795.3h0M103.4 804.9h0M107.9 799.5h0M112.7 793.9h0M111.1 797h0M106 794.1h0M104.8 799.5h0M110.5 793.9h0M109.2 805.1h0M110.2 802.8h0M109.8 794.2h0M103.8 800.2h0M114.8 789.8h0M114 789.7h0M113.8 791.2h0M104 793.7h0M114.9 788.4h0M102.3 808.8h0M96.5 801.1h0M108.3 792.3h0M113.7 789.2h0M110.7 802.3h0M107.2 793.2h0M105 790.8h0M118.3 790.9h0M106.5 796h0M106.5 805.7h0M110 791.7h0M111.4 796h0M103.2 800.8h0M112.9 802.3h0M105.6 798.7h0M102.5 791.3h0M95.6 805h0M110.3 799.1h0M117.9 784h0M104.3 806.2h0M103.4 797.8h0M117 791.1h0M106.1 805.5h0M109.5 796.8h0M117.2 791.3h0M104.6 801.8h0"/><path d="M100.5 797.9h0M115.4 785.5h0M112 791.6h0M114.2 791.8h0M114.8 795.8h0M112 794.6h0M102.7 801.3h0M110.8 795.2h0M99.9 798.6h0M112.2 796.9h0M113.4 792.3h0M108.5 789.8h0M108.5 798.9h0M103.2 798h0M110.3 799.4h0M113 797.9h0M106.3 798.4h0M105.2 800.2h0M98.8 799.9h0M106.6 793.6h0M101.7 795.6h0M108.3 805h0M117.4 791.4h0M107.8 792.2h0M101 799.3h0M109.2 796.9h0M113.9 793.3h0M109.1 789.9h0M108.7 799.5h0M106.1 803.2h0M106.4 790.2h0M114.3 790.5h0M102.7 799.9h0M107.8 804.6h0M109.5 795.6h0M113.5 797.6h0M104.3 803.7h0M109.8 792.6h0M106.1 799.3h0M109.4 798.5h0M116.7 790.4h0M105.1 795h0M110.9 787.6h0M108.3 788.9h0M112 791.2h0M102.5 805.2h0M102.9 802.2h0M113.9 792h0M111.6 791.1h0M115.6 793.1h0M110.5 802.8h0M98.9 794.8h0M116.6 796.9h0M118.8 790.6h0M115.9 789.3h0M117.2 789.3h0M98.5 791.3h0M118.2 799.8h0M110.7 799.3h0M105 798.5h0"/><path d="M118.7 795.1h0M108.9 799.7h0M97.5 800.3h0M118.6 797.2h0M113.9 801.5h0M102 803.2h0M107.9 798.6h0M108.2 806.7h0M117 792.3h0M99 797.6h0M104.9 794.7h0M105.8 792.7h0M97.9 800.8h0M105.7 793.2h0M103.1 801.7h0M104.1 792.5h0M105.7 798.5h0M111.9 795.6h0M110.8 795.4h0M110.4 797.3h0M106.5 794.6h0M100.6 808.2h0M105.7 796.6h0M121.5 790.6h0M107.6 786.1h0M98.4 807.8h0M104.9 803.3h0M117.6 784.2h0M97 795.1h0M114.3 790.8h0M118.2 792.2h0M106.4 806.5h0M110.5 789.2h0M115.6 793.6h0M116 793.2h0M110.7 799.1h0M110.7 791.1h0M116.8 788.2h0M109.2 793.9h0M115.7 792.4h0M115.3 799.6h0M99.3 800h0M114.6 800.1h0M105.6 794.2h0M107.5 793.2h0M112 802.6h0M107.6 798.5h0M105 800.3h0M112.8 797.1h0M99.2 808.2h0M110.6 796.8h0M115.1 802.1h0M102.3 796.7h0M107.6 791.7h0M110.1 796.8h0M108.2 791.8h0M101.9 800.4h0M108.5 791.8h0M117.3 799.4h0M108 806.8h0"/><path d="M113.7 789.3h0M107.3 800.9h0M111.3 799.5h0M106.8 806.4h0M99.4 800.4h0M111.3 794.3h0M100 804.6h0M118.8 790.7h0M109.3 796.1h0M110 793.6h0M100.4 796.7h0M107 792.2h0M109.5 791.4h0M109.4 800.3h0M110.1 790.2h0M103.1 799.8h0M108 797.9h0M108.5 794.4h0M116.5 788.3h0M116.8 797.1h0M101.3 801.3h0M109 797.3h0M112.8 787.5h0M104.3 802.7h0M100.2 800.5h0M107.8 790h0M110.1 797.9h0M113.7 794.8h0M112.6 784.8h0M108.9 788.1h0M102.7 794.1h0M114.3 785.3h0M119.8 799.2h0M99.5 799h0M116.8 794.2h0M107.7 787.8h0M113.4 798.1h0M106 794.2h0M117.9 793.2h0M112.8 788.9h0M108.2 811h0M112.1 798.4h0M119 788.3h0M114.7 790.9h0M107 789.6h0M105.1 798.3h0M109.7 799.6h0M102.8 797.2h0M103.4 801.8h0M116.6 780.9h0M98.4 805.4h0M110.8 796.8h0M109.3 801.3h0M112 795.3h0M107.9 797.7h0M110.9 789.5h0M105.1 801.5h0M108.6 800.6h0M99.8 810.1h0M105.2 802.2h0"/><path d="M114.6 802h0M105.2 802.2h0M112.7 802.5h0M109.3 797.9h0M100.2 798.6h0M114.5 787.7h0M114.9 787.9h0M105.2 793.9h0M101.3 799.1h0M102.7 793.8h0M104.5 805h0M110.5 800.2h0M109 796.5h0M114.8 796.5h0M110.5 797.5h0M110.3 796h0M118 799.2h0M108.2 798.6h0M108.7 800.4h0M105.9 802.4h0M103.6 792.6h0M103.6 794.4h0M108.5 788.8h0M102.7 803.1h0M109.2 799.6h0M116.8 795.9h0M103.4 788.9h0M102.7 801.7h0M120.7 796.1h0M110.2 810.7h0M109.7 800.6h0M116 803.5h0M106.4 796h0M102.2 795.1h0M106.8 797.9h0M113.9 792.5h0M116.8 795.3h0M117.7 791.4h0M113 793.7h0M111.2 793.6h0M105.9 785.4h0M106.2 799.8h0M112.2 782.6h0M106.5 793.3h0M109.7 791.1h0M107.4 803.5h0M114.6 794.2h0M109.5 795.9h0M100.4 797h0M110.7 794.5h0M110 804.1h0M106.5 804.6h0M115.8 792.5h0M103.2 800.3h0M105.9 794.7h0M104 804.5h0M109.1 804.4h0M104.2 800.4h0M110.8 797.3h0M110.9 802.6h0"/><path d="M101 800.6h0M105.3 798.7h0M103.7 792.4h0M109.3 789.4h0M93.8 801.6h0M107.1 797.3h0M112.5 799h0M115.6 791.5h0M110.8 795.1h0M109.4 798.8h0M111.4 784h0M102.3 797.3h0M108.3 799.6h0M112.7 778.3h0M107.8 793.3h0M105.1 796.6h0M112.7 790.4h0M105.1 794.8h0M109 796.4h0M116.8 801.4h0M112.9 792.1h0M105.3 798h0M111 797.3h0M109.6 797.8h0M115.5 775.9h0M112.6 806.7h0M115.2 788.1h0M99 799.5h0M100.8 787.4h0M110.7 799.5h0M111.5 797.9h0M120.3 798.1h0M103 794.1h0M113.3 800.1h0M114 796.8h0M99.1 799.9h0M107.4 808h0M111.7 789.8h0M105.6 792.3h0M108.3 800.5h0M103.1 793.6h0M108.2 797h0M109.2 795.5h0M109.9 798.7h0M112 793.8h0M110.3 797h0M99.8 793.1h0M104 800.2h0M108.4 795.6h0M109.2 797h0M114.2 786.8h0M120.7 794h0M104.8 798.7h0M107.5 800.2h0M105.9 804.6h0M97.9 811.1h0M104.3 794.8h0M109.5 792.9h0M103.6 804.2h0M109 791.2h0"/><path d="M108.7 801h0M110.7 806.7h0M110.6 795.6h0M109.9 796.2h0M104.1 792.9h0M108.9 794.9h0M100.4 803.4h0M107 802.8h0M110.6 790h0M106.6 796.9h0M108.1 794.7h0M110.4 800.5h0M107 791.8h0M105.7 795.6h0M105.5 792.5h0M110.6 798.5h0M108 791.1h0M107 799.1h0M111.8 798.1h0M98.6 799.7h0M107.8 799.2h0M113.6 792.4h0M106.4 796.9h0M111.6 799.6h0M99.4 786.9h0M104.5 803.6h0M100.9 810.2h0M107.7 806.7h0M117 792.5h0M108.8 801.6h0M104.5 797.9h0M111.7 795.4h0M109.2 794.9h0M110.9 795.1h0M117.9 788.9h0M114.3 787.7h0M104.9 797.7h0M109 796h0M102.5 804.1h0M101.4 797.7h0M105.5 790.2h0M112.4 792.9h0M106.3 800.5h0M105 792.9h0M115 786.3h0M111.1 792.2h0M116.3 796h0M116.1 798.6h0M112.6 804.3h0M106.7 801.6h0M105.8 805.6h0M115.5 799.5h0M115.1 780.4h0M104.2 799.1h0M109.3 798.1h0M109.9 792.5h0M106 797.6h0M99.9 795.2h0M104.4 791.8h0M107.9 793h0"/><path d="M109.7 788.2h0M112.1 790.7h0M118.1 801.1h0M108.6 792.1h0M114.8 781.9h0M106.4 797.2h0M103.6 792.4h0M104.8 793h0M107.7 799.7h0M112.7 794.3h0M113.1 796.7h0M106.8 800.7h0M112.6 789.5h0M114.9 792.8h0M110 788.8h0M111.9 797.9h0M98.3 793.9h0M108 810.6h0M106.4 795.3h0M106.6 802h0M113 791.3h0M108.5 801.4h0M105.7 791.1h0M109.4 797.1h0M107 801.6h0M110.7 797.3h0M101.7 795.7h0M105.1 809.6h0M108.5 796.2h0M107.4 807.1h0M106.8 800.7h0M103.7 797.1h0M106.4 793.5h0M110 793.8h0M105 786.8h0M109.8 797h0M105.5 797.4h0M107.3 802.3h0M105.8 794.3h0M110.9 791.3h0M104.1 791.9h0M97.1 804.2h0M109.1 795h0M99.8 804.2h0M106.1 793.1h0M106.5 793.7h0M104 801.5h0M104 792.5h0M115.7 798.3h0M111.5 791.7h0M100.5 788.8h0M114.2 797.3h0M101.5 792.7h0M104.8 801.3h0M112.5 797.5h0M117 788.9h0M111.4 800.3h0M107.8 804.4h0M108.2 794.9h0M113.9 784.2h0"/><path d="M107.5 796.7h0M102.2 796.8h0M107 798.8h0M113.1 785.9h0M108.6 801.4h0M109.8 794.1h0M108.2 795h0M114.9 785.4h0M117 791.4h0M108.7 794h0M115.8 789.4h0M109.8 802.8h0M105.9 804.5h0M118.4 779.4h0M104.3 803.5h0M114.4 797h0M107.1 797.5h0M105.3 788.4h0M100.1 802.3h0M100.1 802.2h0M115.2 788.5h0M119.5 797.9h0M103.7 806.3h0M111.7 789.2h0M111.6 799.6h0M108.9 788.1h0M103.4 800h0M105 798.8h0M108.8 807h0M108.2 806.2h0M98.5 798h0M110.1 796.8h0M111.3 786h0M105 793.4h0M108 789.4h0M103.9 798h0M108.1 795h0M114 798.6h0M114.6 793.1h0M109.1 798h0M110.9 794.8h0M106.4 792.3h0M102.9 800.1h0M116.2 793.2h0M112.4 795.9h0M111.9 795.5h0M99.7 797.4h0M114.8 791.9h0M104.5 788.9h0M106.1 791.6h0M104.6 805.2h0M101.9 802.1h0M114 797.6h0M99.7 796.1h0M101.1 809.3h0M110 804.1h0M118.1 796.1h0M110.2 795.8h0M111.8 803.9h0M93.2 794.8h0"/><path d="M102.5 797.8h0M106 796.4h0M109.8 799.2h0M99.8 800.7h0M109.8 797.6h0M112.9 796h0M113.7 802.8h0M108.3 799.3h0M110.2 788.6h0M107.8 798.9h0M111 802.4h0M102.9 796.2h0M107.1 803.6h0M114.4 791.7h0M115.1 796.3h0M116.6 790.7h0M114.1 795h0M104.9 807.9h0M116.9 794.2h0M108.9 790h0M109.2 800.1h0M107.8 798.5h0M107.8 801.3h0M114.1 800.9h0M116.5 788.3h0M107 789.7h0M103.8 794.4h0M113.6 797.3h0M109 792.8h0M111.1 794.3h0M108.7 799.1h0M106.6 801.1h0M108 797.3h0M114.3 801.1h0M110.9 798.9h0M108.8 793.1h0M105.8 794.3h0M108.2 792.9h0M113 799.1h0M111.1 800.8h0M113.7 795.9h0M98.5 809.4h0M107.2 803.5h0M105.8 801.2h0M108.2 789.3h0M106.6 801.5h0M107.9 794.5h0M108.1 794.6h0M110.4 786.4h0M115.2 788h0M108 790.6h0M104.2 794.7h0M107.4 794.8h0M108.2 790.1h0M108.7 799.5h0M105.6 796.8h0M108.5 797.6h0M115.3 798.7h0M108.2 799.4h0M112.4 790.1h0"/><path d="M109.7 799.4h0M108.6 796.5h0M112.2 792h0M116.7 788.4h0M114.4 789h0M104.6 798.6h0M109.6 793.2h0M111.3 796.3h0M108.8 793.2h0M110.8 803.4h0M114.8 791.8h0M115.7 791.6h0M114.5 792.1h0M121.5 793.3h0M109.3 803.2h0M103.8 790.1h0M108.7 805.3h0M105.3 789.1h0M108.9 788h0M99.1 803h0M109.9 795.3h0M104.8 798.3h0M114.4 793.5h0M117.6 794.8h0M105.9 797.4h0M115.4 799h0M104.3 803h0M106.1 803.1h0M110.9 800.1h0M106.9 802.1h0M102.1 803.5h0M105.8 786.3h0M111.5 801.9h0M105 796.1h0M114.3 796.3h0M111.5 797.5h0M108.5 795.4h0M116.6 793.7h0M104.7 798.2h0M110.9 785.2h0M110.4 797.6h0M107.5 796.3h0M93.8 807.2h0M107.1 791.3h0M105.6 790.2h0M113.4 800.2h0M112.4 795.3h0M113.7 801.7h0M101.5 796.3h0M104.9 797.9h0M107.9 797.7h0M112.6 792.1h0M99.8 796.6h0M107 797h0M115.1 785.2h0M98.9 799.2h0M107.5 792.1h0M105.9 789.6h0M108.2 794h0M110.8 792.8h0"/><path d="M106.8 794.4h0M110.2 796.2h0M113.3 801.7h0M111.7 793.3h0M115.9 793.9h0M107.2 787h0M115.1 792.2h0M112.8 799.4h0M104.6 790.8h0M117.7 796.7h0M102.3 794.9h0M108.7 804.3h0M106.8 796h0M104.9 802.4h0M115.9 801.3h0M114.1 797.8h0M114.2 793.1h0M104.4 795.9h0M102.1 797.8h0M106.5 794.8h0M109.6 794.2h0M104.7 801.4h0M123.3 798.7h0M110.2 795.9h0M104.5 794.9h0M106 793.2h0M120.6 789.7h0M107.6 798.8h0M103.4 795.9h0M111.1 795.3h0M117.7 793h0M111.6 796.6h0M105.9 792.3h0M104.2 798.9h0M104.5 791h0M100.8 802.2h0M100.7 798h0M101.5 792.8h0M106.6 797.4h0M114.1 784.8h0M98.4 798h0M112.7 792.4h0M114.4 794.8h0M111 788.1h0M104.5 808.4h0M104.3 794.6h0M103.3 808.5h0M100.3 790h0M116.5 790.5h0M109.1 797.9h0M113.2 795h0M112.3 794.1h0M109.9 798.2h0M113 788.1h0M109.5 805.5h0M114.1 795h0M100.8 802.8h0M114.4 793.8h0M108.2 796.6h0M111.7 790.8h0"/></g>
<ellipse cx="101.8" cy="802" rx="2.6" ry="3.8" fill="url(#gE)" transform="rotate(40 101.8 802)"/>
</g>
<rect x="118.4" y="773" width="48.2" height="39.4" fill="none" stroke="#666" stroke-width="0.9"/>
<line x1="83.1" y1="750.6" x2="84.4" y2="750.6" stroke="#777" stroke-width="0.5"/>
<line x1="83.1" y1="753.51" x2="84.4" y2="753.51" stroke="#777" stroke-width="0.5"/>
<line x1="83.1" y1="756.42" x2="84.4" y2="756.42" stroke="#777" stroke-width="0.5"/>
<line x1="83.1" y1="759.33" x2="84.4" y2="759.33" stroke="#777" stroke-width="0.5"/>
<line x1="83.1" y1="762.24" x2="84.4" y2="762.24" stroke="#777" stroke-width="0.5"/>
<line x1="83.1" y1="765.15" x2="84.4" y2="765.15" stroke="#777" stroke-width="0.5"/>
<line x1="83.1" y1="768.06" x2="84.4" y2="768.06" stroke="#777" stroke-width="0.5"/>
<line x1="83.1" y1="770.97" x2="84.4" y2="770.97" stroke="#777" stroke-width="0.5"/>
<line x1="83.1" y1="773.88" x2="84.4" y2="773.88" stroke="#777" stroke-width="0.5"/>
<line x1="83.1" y1="776.79" x2="84.4" y2="776.79" stroke="#777" stroke-width="0.5"/>
<line x1="83.1" y1="779.7" x2="84.4" y2="779.7" stroke="#777" stroke-width="0.5"/>
<line x1="83.1" y1="782.61" x2="84.4" y2="782.61" stroke="#777" stroke-width="0.5"/>
<line x1="83.1" y1="785.52" x2="84.4" y2="785.52" stroke="#777" stroke-width="0.5"/>
<line x1="83.1" y1="788.43" x2="84.4" y2="788.43" stroke="#777" stroke-width="0.5"/>
<line x1="83.1" y1="791.34" x2="84.4" y2="791.34" stroke="#777" stroke-width="0.5"/>
<line x1="83.1" y1="794.26" x2="84.4" y2="794.26" stroke="#777" stroke-width="0.5"/>
<line x1="83.1" y1="797.17" x2="84.4" y2="797.17" stroke="#777" stroke-width="0.5"/>
<line x1="83.1" y1="800.08" x2="84.4" y2="800.08" stroke="#777" stroke-width="0.5"/>
<line x1="83.1" y1="802.99" x2="84.4" y2="802.99" stroke="#777" stroke-width="0.5"/>
<line x1="83.1" y1="805.9" x2="84.4" y2="805.9" stroke="#777" stroke-width="0.5"/>
<line x1="83.1" y1="808.81" x2="84.4" y2="808.81" stroke="#777" stroke-width="0.5"/>
<line x1="83.1" y1="811.72" x2="84.4" y2="811.72" stroke="#777" stroke-width="0.5"/>
<line x1="83.1" y1="814.63" x2="84.4" y2="814.63" stroke="#777" stroke-width="0.5"/>
<line x1="83.1" y1="817.54" x2="84.4" y2="817.54" stroke="#777" stroke-width="0.5"/>
<line x1="83.1" y1="820.45" x2="84.4" y2="820.45" stroke="#777" stroke-width="0.5"/>
<line x1="83.1" y1="823.36" x2="84.4" y2="823.36" stroke="#777" stroke-width="0.5"/>
<line x1="83.1" y1="826.27" x2="84.4" y2="826.27" stroke="#777" stroke-width="0.5"/>
<line x1="83.1" y1="829.18" x2="84.4" y2="829.18" stroke="#777" stroke-width="0.5"/>
<line x1="83.1" y1="832.09" x2="84.4" y2="832.09" stroke="#777" stroke-width="0.5"/>
<line x1="83.1" y1="835" x2="84.4" y2="835" stroke="#777" stroke-width="0.5"/>
<line x1="81.6" y1="749.6" x2="84.4" y2="749.6" stroke="#444" stroke-width="0.8"/>
<line x1="81.6" y1="769.6" x2="84.4" y2="769.6" stroke="#444" stroke-width="0.8"/>
<line x1="81.6" y1="789.6" x2="84.4" y2="789.6" stroke="#444" stroke-width="0.8"/>
<line x1="81.6" y1="810.1" x2="84.4" y2="810.1" stroke="#444" stroke-width="0.8"/>
<line x1="81.6" y1="829.6" x2="84.4" y2="829.6" stroke="#444" stroke-width="0.8"/>
<line x1="86.4" y1="837" x2="86.4" y2="838.3" stroke="#777" stroke-width="0.5"/>
<line x1="89.12" y1="837" x2="89.12" y2="838.3" stroke="#777" stroke-width="0.5"/>
<line x1="91.84" y1="837" x2="91.84" y2="838.3" stroke="#777" stroke-width="0.5"/>
<line x1="94.56" y1="837" x2="94.56" y2="838.3" stroke="#777" stroke-width="0.5"/>
<line x1="97.28" y1="837" x2="97.28" y2="838.3" stroke="#777" stroke-width="0.5"/>
<line x1="100" y1="837" x2="100" y2="838.3" stroke="#777" stroke-width="0.5"/>
<line x1="102.72" y1="837" x2="102.72" y2="838.3" stroke="#777" stroke-width="0.5"/>
<line x1="105.44" y1="837" x2="105.44" y2="838.3" stroke="#777" stroke-width="0.5"/>
<line x1="108.15" y1="837" x2="108.15" y2="838.3" stroke="#777" stroke-width="0.5"/>
<line x1="110.87" y1="837" x2="110.87" y2="838.3" stroke="#777" stroke-width="0.5"/>
<line x1="113.59" y1="837" x2="113.59" y2="838.3" stroke="#777" stroke-width="0.5"/>
<line x1="116.31" y1="837" x2="116.31" y2="838.3" stroke="#777" stroke-width="0.5"/>
<line x1="119.03" y1="837" x2="119.03" y2="838.3" stroke="#777" stroke-width="0.5"/>
<line x1="121.75" y1="837" x2="121.75" y2="838.3" stroke="#777" stroke-width="0.5"/>
<line x1="124.47" y1="837" x2="124.47" y2="838.3" stroke="#777" stroke-width="0.5"/>
<line x1="127.19" y1="837" x2="127.19" y2="838.3" stroke="#777" stroke-width="0.5"/>
<line x1="129.91" y1="837" x2="129.91" y2="838.3" stroke="#777" stroke-width="0.5"/>
<line x1="132.63" y1="837" x2="132.63" y2="838.3" stroke="#777" stroke-width="0.5"/>
<line x1="135.35" y1="837" x2="135.35" y2="838.3" stroke="#777" stroke-width="0.5"/>
<line x1="138.07" y1="837" x2="138.07" y2="838.3" stroke="#777" stroke-width="0.5"/>
<line x1="140.79" y1="837" x2="140.79" y2="838.3" stroke="#777" stroke-width="0.5"/>
<line x1="143.51" y1="837" x2="143.51" y2="838.3" stroke="#777" stroke-width="0.5"/>
<line x1="146.23" y1="837" x2="146.23" y2="838.3" stroke="#777" stroke-width="0.5"/>
<line x1="148.95" y1="837" x2="148.95" y2="838.3" stroke="#777" stroke-width="0.5"/>
<line x1="151.66" y1="837" x2="151.66" y2="838.3" stroke="#777" stroke-width="0.5"/>
<line x1="154.38" y1="837" x2="154.38" y2="838.3" stroke="#777" stroke-width="0.5"/>
<line x1="157.1" y1="837" x2="157.1" y2="838.3" stroke="#777" stroke-width="0.5"/>
<line x1="159.82" y1="837" x2="159.82" y2="838.3" stroke="#777" stroke-width="0.5"/>
<line x1="162.54" y1="837" x2="162.54" y2="838.3" stroke="#777" stroke-width="0.5"/>
<line x1="165.26" y1="837" x2="165.26" y2="838.3" stroke="#777" stroke-width="0.5"/>
<line x1="167.98" y1="837" x2="167.98" y2="838.3" stroke="#777" stroke-width="0.5"/>
<line x1="170.7" y1="837" x2="170.7" y2="838.3" stroke="#777" stroke-width="0.5"/>
<line x1="95.4" y1="837" x2="95.4" y2="839.8" stroke="#333" stroke-width="0.9"/>
<line x1="115.9" y1="837" x2="115.9" y2="839.8" stroke="#333" stroke-width="0.9"/>
<line x1="143.9" y1="837" x2="143.9" y2="839.8" stroke="#333" stroke-width="0.9"/>
<line x1="171.9" y1="837" x2="171.9" y2="839.8" stroke="#333" stroke-width="0.9"/>
<text x="80.8" y="769.6" font-size="5.4" fill="#333" text-anchor="middle" font-family="'Liberation Serif'" transform="rotate(-90 80.8 769.6)">10<tspan dy="-1.8" font-size="2.8">6</tspan></text>
<text x="80.8" y="789.6" font-size="5.4" fill="#333" text-anchor="middle" font-family="'Liberation Serif'" transform="rotate(-90 80.8 789.6)">10<tspan dy="-1.8" font-size="2.8">5</tspan></text>
<text x="80.8" y="810.1" font-size="5.4" fill="#333" text-anchor="middle" font-family="'Liberation Serif'" transform="rotate(-90 80.8 810.1)">10<tspan dy="-1.8" font-size="2.8">4</tspan></text>
<text x="80.8" y="829.6" font-size="5.2" fill="#333" text-anchor="middle" transform="rotate(-90 80.8 829.6)">0</text>
<text x="80.8" y="751.1" font-size="5.2" fill="#333" text-anchor="middle" transform="rotate(-90 80.8 751.1)">10</text>
<text x="95.4" y="844.2" font-size="5.2" fill="#333" text-anchor="middle">0</text>
<text x="115.9" y="844.2" font-size="5.4" fill="#333" text-anchor="middle" font-family="'Liberation Serif'">10<tspan dy="-1.8" font-size="2.8">4</tspan></text>
<text x="143.9" y="844.2" font-size="5.4" fill="#333" text-anchor="middle" font-family="'Liberation Serif'">10<tspan dy="-1.8" font-size="2.8">5</tspan></text>
<text x="171.9" y="844.2" font-size="5.4" fill="#333" text-anchor="middle" font-family="'Liberation Serif'">10<tspan dy="-1.8" font-size="2.8">6</tspan></text>
<text x="136" y="769" font-size="10" font-weight="bold" textLength="13" lengthAdjust="spacingAndGlyphs">0.6</text>
<rect x="223.8" y="748.6" width="88.3" height="88.4" fill="#fff" stroke="#9a9a9a" stroke-width="0.8"/>
<clipPath id="cE223_748"><rect x="224.3" y="749.1" width="87.3" height="87.4"/></clipPath><g clip-path="url(#cE223_748)">
<ellipse cx="248" cy="796.5" rx="9.24" ry="13.02" fill="url(#gEc)" transform="rotate(40 248 796.5)"/>
<g stroke="#000" stroke-opacity="0.13" stroke-width="0.55" stroke-linecap="square" fill="none"><path d="M249.8 802h0M253.7 787.8h0M246.2 794.2h0M252.3 796.4h0M251.1 799.5h0M256.8 780.6h0M250.2 785.6h0M246.2 797.1h0M252.6 799.6h0M235 804h0M250.1 795.5h0M252.6 788.8h0M248.6 799.4h0M248.8 805.5h0M245.8 804.3h0M248.9 793.1h0M252.9 789.9h0M248.9 794.1h0M250.3 797.8h0M241.8 791h0M259.9 791.2h0M245.5 794.1h0M246 789.9h0M253.5 790h0M247.4 798.8h0M243.8 792.8h0M252.2 798.2h0M246.9 800.4h0M243.4 800.2h0M253.2 792.5h0M246.3 801.7h0M253.2 795.3h0M244 804h0M244 802.5h0M252.4 799.6h0M251.3 796.7h0M251.8 798.7h0M246.4 794.7h0M246.3 797.9h0M254.2 792h0M244.5 796.3h0M249.2 798h0M252 808.8h0M244.9 799.6h0M250.9 801.7h0M242 792.2h0M239.7 806.7h0M235.9 798.8h0M243.8 800.5h0M246.4 796.5h0M251.3 800h0M251.7 799h0M247.5 794.4h0M246.9 794.6h0M257 794.7h0M242.7 792h0M249.2 806.1h0M247.3 806.1h0M245.2 795.2h0M241.9 786.6h0"/><path d="M256.1 790.9h0M246.5 784.9h0M244 802.8h0M250.6 810.5h0M252.3 781.6h0M244.2 802.2h0M244.8 789.9h0M246.4 795.8h0M245.3 798.8h0M251.1 800.1h0M242.4 808.4h0M248.8 789.2h0M242.2 807.1h0M244.1 802.6h0M243.3 800.5h0M243.2 798.5h0M247.6 800h0M248.1 805.9h0M242.5 799.7h0M238.5 797.3h0M254.7 807.1h0M249.3 798.9h0M252.4 797.4h0M251.1 797.8h0M246 796.8h0M254.6 789h0M254 803.7h0M238.2 798h0M247 798.3h0M253.7 795.1h0M238.8 789h0M244.7 802.8h0M246.5 794.1h0M250.4 797h0M246.1 798h0M238.4 802.3h0M244.8 795.1h0M249.7 793.2h0M245.6 803.7h0M250.3 804.1h0M243 800.3h0M243.1 793.7h0M247.3 801.5h0M250.2 787.2h0M255.3 799.4h0M247.6 787h0M243.3 802.9h0M243.1 803h0M246.8 800.1h0M252.6 798.1h0M250.4 796.2h0M243.3 798.6h0M245 795.3h0M245.7 794.6h0M241.9 800.9h0M247.9 797.7h0M264.8 787.8h0M255.3 781h0M246.2 799h0M249 799.9h0"/><path d="M238.2 802.8h0M250 796.4h0M242.7 795.8h0M248.2 793.3h0M247.8 798.4h0M240.3 800.5h0M249.2 788.7h0M248.5 798.2h0M249.8 794.9h0M250.4 794.1h0M239.7 795.7h0M245.6 792.8h0M250.2 798.7h0M262.4 797.4h0M245.2 795h0M253.3 799.1h0M238.8 798.2h0M245.8 793.2h0M253.5 795.8h0M244.6 797.7h0M246.2 797.4h0M245.4 793.5h0M250.7 786.2h0M251.8 803.5h0M254.8 794.4h0M248.7 795.5h0M241.2 795.3h0M246.5 793.6h0M239.2 797.2h0M248.9 800.4h0M247.2 791.5h0M253 798.5h0M248.3 797.9h0M238.3 800.7h0M240.7 792.2h0M254.2 788.6h0M247 799.9h0M251.5 792.7h0M245 803h0M241.8 805.3h0M247.7 802.5h0M255.1 797.1h0M244.3 797.6h0M243.7 805.1h0M251 800.5h0M249.8 795.8h0M248.6 793.4h0M252.8 796.8h0M246.2 796.4h0M247.2 794.2h0M239.5 792.5h0M246.2 796.8h0M256.5 788.9h0M255 804h0M255.6 788.9h0M248.3 800.7h0M245.8 797.4h0M253.3 799.2h0M239.7 801.3h0M249.4 797.4h0"/><path d="M254.6 804.5h0M246.3 798.4h0M245.7 797.5h0M251 794.9h0M245.8 798.3h0M246.8 801.3h0M249.4 800.8h0M251.1 797.1h0M242.9 801.7h0M240.1 793.9h0M265.5 797.1h0M259.8 793h0M242.6 805.9h0M256.3 796.9h0M249.5 786.7h0M251.8 797.1h0M247 798.2h0M247.2 800.6h0M254.8 789.6h0M263.6 787.8h0M254.3 797.3h0M249.4 793.8h0M246.9 795.7h0M251.4 790.8h0M253 796.3h0M252.9 799.7h0M244 797h0M254.5 794.8h0M241.4 802.8h0M248.1 790h0M253.3 791.5h0M246.7 782.2h0M246.6 800.9h0M248.3 800.2h0M241.3 796.7h0M254.5 796.6h0M252.5 797.6h0M247.1 799h0M237.3 799.7h0M245.6 794h0M244.6 797.6h0M249.3 798.1h0M251.4 802h0M258.2 782h0M248.2 794.7h0M248.6 790.4h0M245.7 803.4h0M249.5 807.3h0M244.7 796.1h0M240.7 796.6h0M251.6 794.9h0M248.6 795.3h0M240.7 801.4h0M254.7 809.1h0M250.7 800.4h0M238.1 806.3h0M245.2 797.7h0M245.2 799.3h0M245.4 799.5h0M244.3 792.9h0"/><path d="M256.5 795.6h0M240.4 801.5h0M245 803h0M240.2 791.5h0M249.4 786.8h0M244.6 803.5h0M247.6 787.5h0M246.6 794.6h0M234.7 803.9h0M251.3 796.7h0M237 806.4h0M257.2 800.5h0M244.1 803.7h0M246.5 790.7h0M255.1 797.1h0M252 789.1h0M242.8 797.9h0M250.6 788.2h0M238.9 803.4h0M250.8 794.5h0M246.7 799.2h0M255.6 788.3h0M249.8 796.4h0M256.1 792.4h0M253.4 797.1h0M237.1 798.3h0M244.8 796.9h0M243.1 801.3h0M247.1 804.9h0M256.8 790.7h0M241.7 792.9h0M243 796.1h0M254.2 790.2h0M249.2 788.2h0M246 793.1h0M244.8 804.8h0M247.1 791.1h0M249.4 805h0M258.2 785.9h0M244.1 794.5h0M238.1 804.4h0M247.2 798.1h0M248.6 788.5h0M248.4 791.7h0M245.7 797.6h0M244.7 801.9h0M242.8 793.8h0M242.4 804.7h0M246 797.4h0M243.6 796.3h0M251.8 794.5h0M246.7 795.1h0M254.5 792.5h0M252.2 797.3h0M248.3 808.7h0M249.2 792.4h0M253.5 806.2h0M251.6 796h0M244.3 800h0M253.3 794.2h0"/><path d="M250.8 801.4h0M240.9 798.7h0M244.3 799.8h0M244.7 796.7h0M241.2 793.8h0M242.4 793.1h0M240 789.3h0M248.4 800.8h0M256.2 794.6h0M246.6 808.5h0M247.3 789.4h0M246.2 794.8h0M258.5 785.2h0M251 796.9h0M240.9 798.3h0M242.3 801h0M251 796.4h0M248.6 803.5h0M252.8 787.4h0M243.7 797.9h0M240.1 804.3h0M248.1 798.1h0M252.9 793.3h0M250.3 793h0M247.5 781.6h0M252.2 796.3h0M253.5 789h0M242.9 798.6h0M250.4 794.2h0M253.2 800.3h0M242.3 801h0M240.2 794.4h0M247.6 789.6h0M245.3 795.2h0M247.1 798.2h0M243 803.7h0M250.6 804.5h0M252 796.7h0M242.1 796.3h0M244.7 800.7h0M231.3 804.3h0M243.7 793.2h0M256.8 792.5h0M254.3 785.3h0M251.1 783.3h0M247.2 798.2h0M241.9 801.7h0M252.5 800.2h0M248.4 794.6h0M241.3 801.5h0M250.1 795.5h0M245.1 798.5h0M245.4 796.9h0M242.4 802.9h0M257.4 792.9h0M244.6 799.5h0M243.3 799.2h0M246.7 800.3h0M246.6 797.8h0M255.6 790.9h0"/><path d="M249.1 789.2h0M252.2 802.5h0M248.5 798.4h0M249.3 791.5h0M252.2 797h0M252.3 801.8h0M249.2 795.7h0M247.6 796.5h0M243.6 811.8h0M243.2 794.6h0M253.9 794.2h0M247.8 792.6h0M237.6 793.1h0M248.2 796h0M247.3 798h0M254.7 803.7h0M252.8 796.3h0M250.4 796h0M251.1 791.9h0M243.5 796.5h0M248.6 800.8h0M244.6 796.3h0M236 794.2h0M246.8 797.8h0M253.4 797.8h0M252.8 797.1h0M251.4 796.2h0M243.2 804.4h0M248.3 792h0M245.7 797.2h0M259.2 801.4h0M244 788h0M245.1 789.7h0M251.9 792.2h0M253.2 786h0M251.6 793.6h0M247.3 804.7h0M246.6 792.6h0M245.1 800.5h0M242.9 791.9h0M254.3 801.4h0M248.7 797.4h0M240.3 798.1h0M248.2 798.3h0M247.2 802.5h0M239.9 794h0M245.4 796h0M249.1 790.8h0M251.1 799.4h0M248.2 794.7h0M248.3 797h0M243.8 786.3h0M244.2 799.8h0M256.1 796.2h0M253.8 802.6h0M251.7 795.8h0M240.3 802.2h0M247.6 795.9h0M244.8 808.4h0M243.9 792.1h0"/><path d="M240.7 805.7h0M256.1 803.5h0M245.7 802.3h0M252.9 798.8h0M253.5 796.2h0M244.8 783.4h0M245.5 801.5h0M247.8 782.5h0M261.3 781.1h0M245.6 803.7h0M235.2 792.9h0M241.6 803.6h0M249.8 797h0M244.5 802.2h0M248.3 798.2h0M241.3 795.9h0M240.6 806.3h0M248.2 797.1h0M243 799.3h0M250 793.6h0M245.9 810.4h0M250.5 791.5h0M254.9 796.7h0M257.5 804.6h0M256.2 794h0M243.4 802.7h0M251.5 796.2h0M252.8 807.8h0M249.6 794.1h0M241.6 803.3h0M245.3 795.7h0M240.2 801.4h0M243.9 801.3h0M252 796.4h0M246.4 804h0M241.4 797.9h0M260.6 805.9h0M255.3 793h0M251.7 796.1h0M250.6 799.5h0M239.7 799.7h0M251.3 792.2h0M252 793.2h0M249.4 798.4h0M244 799.8h0M239.8 798.8h0M234.9 799.9h0M249.5 796.9h0M243.3 798.3h0M248.1 796.4h0M253 798.4h0M245.4 799.1h0M252 799.9h0M248.2 798.3h0M244.3 806.8h0M245.4 794.5h0M245.4 800.4h0M252.8 801.7h0M244 803.7h0M246.9 790.6h0"/><path d="M246.4 796.4h0M250.7 795.8h0M256.4 799h0M242.8 802.3h0M250.5 799.7h0M245.8 802.6h0M245.2 800.7h0M244.6 795.4h0M246.1 788.8h0M239.1 800.5h0M245.2 797.7h0M245.7 794h0M250.4 792.6h0M257.4 791.8h0M239.2 812h0M245.1 795.4h0M242.9 793h0M239.7 795.7h0M253.8 787.1h0M250.1 786.1h0M243.5 800.6h0M251.4 790.4h0M244.7 795.4h0M237.6 793.2h0M259.2 786.3h0M258.5 792.3h0M242.5 802.1h0M250.1 783.5h0M248.7 788.5h0M249.7 793.9h0M248.3 793.1h0M250.9 792.2h0M249.1 797.7h0M237.2 802.8h0M240.8 796.9h0M244 796.5h0M246.2 802.4h0M256.1 796.7h0M255.7 806.7h0M250.8 788.1h0M249 811.4h0M244.8 800.6h0M251.9 801.1h0M246.7 795.7h0M250.6 799.5h0M240.8 797.3h0M245.3 788.7h0M251 801.6h0M248.3 798.2h0M251.5 799.7h0M240.5 792.9h0M246.2 778.6h0M248.9 806.5h0M246.7 795.4h0M244.1 802.2h0M249 790.6h0M245.3 796h0M250.4 795.8h0M254.6 794.2h0M250.5 793.5h0"/><path d="M239.6 800.2h0M251 791.3h0M252.2 792.3h0M246.4 802.8h0M255.6 794.7h0M239.9 805.6h0M242.1 802.6h0M258.6 794.6h0M248.9 804.1h0M243.9 807.7h0M249.1 798.7h0M251.4 797.1h0M257.8 788.7h0M255.8 799.3h0M248.4 800.1h0M247.8 797.9h0M254.8 789.3h0M241.3 801.3h0M248.9 789.1h0M250 808.7h0M253.1 801.3h0M245.7 801.5h0M250.2 798.2h0M246.1 789.4h0M236.6 800.5h0M247.4 795h0M248.8 797.8h0M252.2 795.4h0M235.8 801.2h0M247.6 792.6h0M247.6 792h0M245 800.5h0M243.3 795.3h0M240.9 800.8h0M243.5 793.9h0M255.8 792.2h0M247.7 797.8h0M246.2 793.5h0M250.2 800.6h0M247.5 794.6h0M244.3 804h0M247.6 802.4h0M259.3 793.5h0M252.5 781.8h0M259.9 787.9h0M244.8 800.1h0M246.1 789.6h0M244.2 799.4h0M241.8 794h0M249.7 799.2h0M243.5 803h0M248.8 797.1h0M244.3 798.8h0M244.4 798.9h0M243.8 802.2h0M245.1 794.8h0M247.5 799.5h0M250.1 801.5h0M243.1 808.3h0M255 793.8h0"/><path d="M240.7 795.9h0M245.6 796.9h0M242.2 802.3h0M256.4 794.4h0M250.1 795.8h0M241.2 796.1h0M245.8 798.2h0M250.7 809.5h0M253.2 797.6h0M239.2 799.3h0M246.8 795.9h0M246.4 796h0M257 801.5h0M246.3 796.7h0M253.7 791.6h0M244.6 788.9h0M250.5 792.2h0M248.5 789.3h0M247.2 794.8h0M245 789.4h0M249.7 796.7h0M245.1 791h0M244.9 799.9h0M240.1 795.2h0M245.7 796h0M253.7 794h0M245.9 793.6h0M252.5 795.6h0M246.3 789.1h0M244.6 802.8h0M247.7 793.3h0M248 795.1h0M246.7 791.6h0M248.3 797.3h0M252.1 791.5h0M249.1 791.3h0M245.6 805.9h0M242.8 804.6h0M248.2 794h0M243 793.8h0M246.2 795.4h0M250.5 796.4h0M244.6 793h0M247.7 796.2h0M251 797h0M240.3 803.7h0M251.8 798.7h0M246.8 791.7h0M245.9 801.3h0M256.7 801.6h0M249.9 795.1h0M249.8 794.8h0M240.6 798.3h0M243.3 802.8h0M245.4 796.3h0M257.5 789.4h0M240.8 796.5h0M255.6 788.1h0M249.8 789.6h0M240.4 802.5h0"/><path d="M238.2 804.5h0M250.1 792.4h0M249.2 805.2h0M244.7 809.4h0M246.5 805.2h0M245.8 788.2h0M248.6 798.8h0M252.1 796.4h0M243.6 809.2h0M246.5 802.3h0M245.9 802.5h0M250.6 795h0M248.2 797.9h0M242.2 793.9h0M247.2 797.9h0M244.3 797.7h0M252.7 795.2h0M245.9 801.4h0M254 794.5h0M244.6 794.2h0M234.8 805.7h0M248.5 790.8h0M251.9 796.2h0M241.1 789.6h0M246.9 791.4h0M246.4 787.9h0M247.8 795.6h0M247.3 790h0M244.8 794.6h0M252.5 789.9h0M252.8 794.6h0M252.9 792.9h0M249.5 796.3h0M246.2 798.6h0M248.8 798h0M253.6 790.5h0M256.4 785.6h0M242.2 788.6h0M241.5 802.5h0M245.8 803h0M245.3 797.3h0M249.7 801.7h0M248.7 797.6h0M248.6 789.5h0M241.9 794.3h0M249.8 792.3h0M251.4 794.5h0M243.8 808h0M252.2 794.3h0M235.3 801.8h0M254.1 792h0M258 791.4h0M247.6 794h0M251.4 790h0M257.2 800.9h0M249.1 797.5h0M245.1 789.5h0M245 801.3h0M245.5 797.2h0M244.6 798.2h0"/><path d="M237.8 792.6h0M248.3 792h0M243.1 783.8h0M240.8 808.9h0M248.4 791.4h0M248.4 799.1h0M246.8 794h0M244.3 798.3h0M243.6 806.9h0M248.3 802h0M244.8 801.3h0M236.3 804h0M243.3 803.9h0M241.4 799.2h0M250 796.7h0M249.4 790.5h0M248.9 807.1h0M247.6 797.7h0M253 785.9h0M244.7 788.8h0M252.2 790.5h0M248.5 801.1h0M255.5 788.6h0M247.4 795.8h0M252.6 782.8h0M251.7 804.6h0M240.4 803h0M249.8 801.6h0M245.6 800.8h0M252.4 800.8h0M244.9 798.6h0M238.6 789.3h0M246.8 795.3h0M246.1 797.6h0M248.1 797.1h0M245.8 798.3h0M242.5 799.8h0M241.8 792.9h0M254.5 791.7h0M241.3 801.6h0M251.1 792h0M237.1 790.1h0M245.9 799.7h0M254.6 802h0M251.2 793.6h0M247.9 796.2h0M248.2 801.2h0M247.4 792.2h0M256.3 795.7h0M243.9 806.2h0M249.1 799.5h0M251 801.9h0M248.8 795.5h0M248.9 802.9h0M254.3 799.1h0M248.7 793.6h0M251.7 794h0M249.6 800.6h0M256.7 779.8h0M236.4 798.4h0"/><path d="M247.2 797h0M245.1 797.2h0M249.8 781.8h0M242.5 792.4h0M248.4 800.6h0M252.7 790.1h0M251.7 797.3h0M248.2 796.1h0M249.4 791.8h0M251.3 788.7h0M249.5 796.3h0M258.5 790.6h0M252.1 799.3h0M250.7 792.2h0M251.3 787.2h0M251.7 797.9h0M247 802.3h0M247.3 794h0M242.8 800.4h0M247.8 797.6h0M250.6 798.1h0M258.3 797.6h0M246.4 806.5h0M240.9 797.5h0M245.4 801.4h0M243.2 794.4h0M246.2 792.3h0M253.1 799.7h0M246.3 783.8h0M240.3 798.2h0M252 787.2h0M250.6 800.7h0M252.3 793.6h0M253.1 799.8h0M246.2 785.8h0M245.9 793.5h0M253.4 795.1h0M237.3 805.3h0M250.4 794.2h0M253.1 790.6h0M245.9 802.5h0M242.1 799.7h0M245.9 797.1h0M248.8 790.7h0M242.3 793.5h0M248.1 794.5h0M249 787.9h0M244.1 797h0M251.7 794.1h0M241.9 805.6h0M240.3 806.4h0M244.1 804h0M241.6 800.6h0M243.2 794.5h0M254.9 786.1h0M239.1 798.2h0M244.4 804h0M260.2 783.2h0M251.1 794.5h0M248.2 793h0"/><path d="M249.4 789.9h0M250.2 802h0M247.6 792.7h0M249.6 800.9h0M253.5 791.2h0M251.1 789.9h0M238.3 795.5h0M248.6 793.6h0M241.9 797.4h0M252.4 804.9h0"/></g>
<ellipse cx="241.8" cy="800.5" rx="2.6" ry="3.8" fill="url(#gE)" transform="rotate(40 241.8 800.5)"/>
<g stroke="#000" stroke-opacity="0.25" stroke-width="0.55" stroke-linecap="square" fill="none"><path d="M263.6 805.8h0M271.1 788.9h0M275.1 796.6h0M278.6 799.2h0M271 796h0M264.8 793.5h0M276.3 803.1h0M261.5 798.1h0M262.6 802.1h0M268 804.1h0M273.2 808.1h0M258.5 797.3h0M261.7 795.4h0M277.1 808h0M269.1 809.1h0M270.1 806.8h0M270.7 790.1h0M262.7 807.7h0M284.1 801.2h0M282.9 798.1h0M275.1 788.3h0M260.5 789.1h0M276.6 806.7h0M279.8 792.2h0M267 796.8h0M262.1 795.7h0M277.6 794.6h0M275.2 795.6h0M268.6 792h0M266 807.5h0M283.1 797.9h0M260.4 792.3h0M266.4 790.3h0M270.9 805h0M273.9 804.7h0M264.9 805.5h0M274 799.9h0M261 793.3h0M272.4 790.3h0M260.3 794.3h0M268.5 787.2h0M277.2 791.9h0M263.4 793.7h0M262.1 787.9h0M284.1 788.8h0M269.6 788h0M259.6 794.7h0M269.5 808.2h0M265.4 809h0M280.1 787.6h0M281.7 799.9h0M278.6 785.1h0M276.2 801.7h0M273.4 800.7h0M259.6 797.8h0M275.6 792h0M268.5 796.6h0M265.6 786h0M273.3 801.4h0M264.5 804.5h0"/><path d="M284.7 787.1h0M274.1 810h0M278.2 789.4h0M260.9 807.9h0M259 809.5h0M262.7 795.6h0M263 806h0M272.9 799h0M275.7 791.8h0M282.2 802.2h0M260.6 794h0M271.4 788.8h0M275.8 804.3h0M269.2 789.8h0M259.9 808.4h0M260.6 790h0M258.2 793.1h0M266.7 805h0M262.3 805.9h0M283.6 795h0M275 800.2h0M260.6 808.6h0M276 792.3h0M271.6 791.7h0M280.4 787.6h0M263.1 802.2h0M267.4 802.3h0M271.2 788.1h0M271.8 803h0M261.9 792.2h0"/></g>
</g>
<rect x="258" y="773" width="48.6" height="39.4" fill="none" stroke="#666" stroke-width="0.9"/>
<line x1="222.5" y1="750.6" x2="223.8" y2="750.6" stroke="#777" stroke-width="0.5"/>
<line x1="222.5" y1="753.51" x2="223.8" y2="753.51" stroke="#777" stroke-width="0.5"/>
<line x1="222.5" y1="756.42" x2="223.8" y2="756.42" stroke="#777" stroke-width="0.5"/>
<line x1="222.5" y1="759.33" x2="223.8" y2="759.33" stroke="#777" stroke-width="0.5"/>
<line x1="222.5" y1="762.24" x2="223.8" y2="762.24" stroke="#777" stroke-width="0.5"/>
<line x1="222.5" y1="765.15" x2="223.8" y2="765.15" stroke="#777" stroke-width="0.5"/>
<line x1="222.5" y1="768.06" x2="223.8" y2="768.06" stroke="#777" stroke-width="0.5"/>
<line x1="222.5" y1="770.97" x2="223.8" y2="770.97" stroke="#777" stroke-width="0.5"/>
<line x1="222.5" y1="773.88" x2="223.8" y2="773.88" stroke="#777" stroke-width="0.5"/>
<line x1="222.5" y1="776.79" x2="223.8" y2="776.79" stroke="#777" stroke-width="0.5"/>
<line x1="222.5" y1="779.7" x2="223.8" y2="779.7" stroke="#777" stroke-width="0.5"/>
<line x1="222.5" y1="782.61" x2="223.8" y2="782.61" stroke="#777" stroke-width="0.5"/>
<line x1="222.5" y1="785.52" x2="223.8" y2="785.52" stroke="#777" stroke-width="0.5"/>
<line x1="222.5" y1="788.43" x2="223.8" y2="788.43" stroke="#777" stroke-width="0.5"/>
<line x1="222.5" y1="791.34" x2="223.8" y2="791.34" stroke="#777" stroke-width="0.5"/>
<line x1="222.5" y1="794.26" x2="223.8" y2="794.26" stroke="#777" stroke-width="0.5"/>
<line x1="222.5" y1="797.17" x2="223.8" y2="797.17" stroke="#777" stroke-width="0.5"/>
<line x1="222.5" y1="800.08" x2="223.8" y2="800.08" stroke="#777" stroke-width="0.5"/>
<line x1="222.5" y1="802.99" x2="223.8" y2="802.99" stroke="#777" stroke-width="0.5"/>
<line x1="222.5" y1="805.9" x2="223.8" y2="805.9" stroke="#777" stroke-width="0.5"/>
<line x1="222.5" y1="808.81" x2="223.8" y2="808.81" stroke="#777" stroke-width="0.5"/>
<line x1="222.5" y1="811.72" x2="223.8" y2="811.72" stroke="#777" stroke-width="0.5"/>
<line x1="222.5" y1="814.63" x2="223.8" y2="814.63" stroke="#777" stroke-width="0.5"/>
<line x1="222.5" y1="817.54" x2="223.8" y2="817.54" stroke="#777" stroke-width="0.5"/>
<line x1="222.5" y1="820.45" x2="223.8" y2="820.45" stroke="#777" stroke-width="0.5"/>
<line x1="222.5" y1="823.36" x2="223.8" y2="823.36" stroke="#777" stroke-width="0.5"/>
<line x1="222.5" y1="826.27" x2="223.8" y2="826.27" stroke="#777" stroke-width="0.5"/>
<line x1="222.5" y1="829.18" x2="223.8" y2="829.18" stroke="#777" stroke-width="0.5"/>
<line x1="222.5" y1="832.09" x2="223.8" y2="832.09" stroke="#777" stroke-width="0.5"/>
<line x1="222.5" y1="835" x2="223.8" y2="835" stroke="#777" stroke-width="0.5"/>
<line x1="221" y1="749.6" x2="223.8" y2="749.6" stroke="#444" stroke-width="0.8"/>
<line x1="221" y1="769.6" x2="223.8" y2="769.6" stroke="#444" stroke-width="0.8"/>
<line x1="221" y1="789.6" x2="223.8" y2="789.6" stroke="#444" stroke-width="0.8"/>
<line x1="221" y1="810.1" x2="223.8" y2="810.1" stroke="#444" stroke-width="0.8"/>
<line x1="221" y1="829.6" x2="223.8" y2="829.6" stroke="#444" stroke-width="0.8"/>
<line x1="225.8" y1="837" x2="225.8" y2="838.3" stroke="#777" stroke-width="0.5"/>
<line x1="228.52" y1="837" x2="228.52" y2="838.3" stroke="#777" stroke-width="0.5"/>
<line x1="231.24" y1="837" x2="231.24" y2="838.3" stroke="#777" stroke-width="0.5"/>
<line x1="233.96" y1="837" x2="233.96" y2="838.3" stroke="#777" stroke-width="0.5"/>
<line x1="236.68" y1="837" x2="236.68" y2="838.3" stroke="#777" stroke-width="0.5"/>
<line x1="239.4" y1="837" x2="239.4" y2="838.3" stroke="#777" stroke-width="0.5"/>
<line x1="242.12" y1="837" x2="242.12" y2="838.3" stroke="#777" stroke-width="0.5"/>
<line x1="244.84" y1="837" x2="244.84" y2="838.3" stroke="#777" stroke-width="0.5"/>
<line x1="247.55" y1="837" x2="247.55" y2="838.3" stroke="#777" stroke-width="0.5"/>
<line x1="250.27" y1="837" x2="250.27" y2="838.3" stroke="#777" stroke-width="0.5"/>
<line x1="252.99" y1="837" x2="252.99" y2="838.3" stroke="#777" stroke-width="0.5"/>
<line x1="255.71" y1="837" x2="255.71" y2="838.3" stroke="#777" stroke-width="0.5"/>
<line x1="258.43" y1="837" x2="258.43" y2="838.3" stroke="#777" stroke-width="0.5"/>
<line x1="261.15" y1="837" x2="261.15" y2="838.3" stroke="#777" stroke-width="0.5"/>
<line x1="263.87" y1="837" x2="263.87" y2="838.3" stroke="#777" stroke-width="0.5"/>
<line x1="266.59" y1="837" x2="266.59" y2="838.3" stroke="#777" stroke-width="0.5"/>
<line x1="269.31" y1="837" x2="269.31" y2="838.3" stroke="#777" stroke-width="0.5"/>
<line x1="272.03" y1="837" x2="272.03" y2="838.3" stroke="#777" stroke-width="0.5"/>
<line x1="274.75" y1="837" x2="274.75" y2="838.3" stroke="#777" stroke-width="0.5"/>
<line x1="277.47" y1="837" x2="277.47" y2="838.3" stroke="#777" stroke-width="0.5"/>
<line x1="280.19" y1="837" x2="280.19" y2="838.3" stroke="#777" stroke-width="0.5"/>
<line x1="282.91" y1="837" x2="282.91" y2="838.3" stroke="#777" stroke-width="0.5"/>
<line x1="285.63" y1="837" x2="285.63" y2="838.3" stroke="#777" stroke-width="0.5"/>
<line x1="288.35" y1="837" x2="288.35" y2="838.3" stroke="#777" stroke-width="0.5"/>
<line x1="291.06" y1="837" x2="291.06" y2="838.3" stroke="#777" stroke-width="0.5"/>
<line x1="293.78" y1="837" x2="293.78" y2="838.3" stroke="#777" stroke-width="0.5"/>
<line x1="296.5" y1="837" x2="296.5" y2="838.3" stroke="#777" stroke-width="0.5"/>
<line x1="299.22" y1="837" x2="299.22" y2="838.3" stroke="#777" stroke-width="0.5"/>
<line x1="301.94" y1="837" x2="301.94" y2="838.3" stroke="#777" stroke-width="0.5"/>
<line x1="304.66" y1="837" x2="304.66" y2="838.3" stroke="#777" stroke-width="0.5"/>
<line x1="307.38" y1="837" x2="307.38" y2="838.3" stroke="#777" stroke-width="0.5"/>
<line x1="310.1" y1="837" x2="310.1" y2="838.3" stroke="#777" stroke-width="0.5"/>
<line x1="234.8" y1="837" x2="234.8" y2="839.8" stroke="#333" stroke-width="0.9"/>
<line x1="255.3" y1="837" x2="255.3" y2="839.8" stroke="#333" stroke-width="0.9"/>
<line x1="283.3" y1="837" x2="283.3" y2="839.8" stroke="#333" stroke-width="0.9"/>
<line x1="311.3" y1="837" x2="311.3" y2="839.8" stroke="#333" stroke-width="0.9"/>
<text x="220.2" y="769.6" font-size="5.4" fill="#333" text-anchor="middle" font-family="'Liberation Serif'" transform="rotate(-90 220.2 769.6)">10<tspan dy="-1.8" font-size="2.8">6</tspan></text>
<text x="220.2" y="789.6" font-size="5.4" fill="#333" text-anchor="middle" font-family="'Liberation Serif'" transform="rotate(-90 220.2 789.6)">10<tspan dy="-1.8" font-size="2.8">5</tspan></text>
<text x="220.2" y="810.1" font-size="5.4" fill="#333" text-anchor="middle" font-family="'Liberation Serif'" transform="rotate(-90 220.2 810.1)">10<tspan dy="-1.8" font-size="2.8">4</tspan></text>
<text x="220.2" y="829.6" font-size="5.2" fill="#333" text-anchor="middle" transform="rotate(-90 220.2 829.6)">0</text>
<text x="220.2" y="751.1" font-size="5.2" fill="#333" text-anchor="middle" transform="rotate(-90 220.2 751.1)">10</text>
<text x="234.8" y="844.2" font-size="5.2" fill="#333" text-anchor="middle">0</text>
<text x="255.3" y="844.2" font-size="5.4" fill="#333" text-anchor="middle" font-family="'Liberation Serif'">10<tspan dy="-1.8" font-size="2.8">4</tspan></text>
<text x="283.3" y="844.2" font-size="5.4" fill="#333" text-anchor="middle" font-family="'Liberation Serif'">10<tspan dy="-1.8" font-size="2.8">5</tspan></text>
<text x="311.3" y="844.2" font-size="5.4" fill="#333" text-anchor="middle" font-family="'Liberation Serif'">10<tspan dy="-1.8" font-size="2.8">6</tspan></text>
<text x="276" y="769" font-size="10" font-weight="bold" textLength="13" lengthAdjust="spacingAndGlyphs">1.7</text>
<rect x="84.2" y="866.8" width="88.3" height="88.4" fill="#fff" stroke="#9a9a9a" stroke-width="0.8"/>
<clipPath id="cE84_866"><rect x="84.7" y="867.3" width="87.3" height="87.4"/></clipPath><g clip-path="url(#cE84_866)">
<ellipse cx="107" cy="914.5" rx="9.46" ry="12.6" fill="url(#gEc)" transform="rotate(45 107 914.5)"/>
<g stroke="#000" stroke-opacity="0.13" stroke-width="0.55" stroke-linecap="square" fill="none"><path d="M110.4 911.7h0M105.7 910.8h0M102.7 921.8h0M101.3 914.8h0M108 913.8h0M111.9 916.5h0M112.5 917.4h0M101 915.1h0M107.6 905.3h0M106.4 914.1h0M114.5 905.6h0M100.8 912.8h0M112.8 912.1h0M106.9 916.4h0M113.1 914.7h0M112.6 917.9h0M107.4 923h0M105.2 910.4h0M103.5 919.9h0M104.9 908.5h0M106.8 918.7h0M107.6 907.8h0M112.6 911.7h0M103.8 919.3h0M118.3 903.5h0M105.7 923.2h0M107.6 922.7h0M95.9 915.6h0M104 919.8h0M107.5 913.2h0M99.5 920.8h0M108.6 914.7h0M101.1 912.9h0M106.3 915.4h0M106.9 920.8h0M106.1 915.7h0M104.2 918.1h0M108.5 917.4h0M100.8 915.7h0M114.2 913h0M109.8 914.3h0M100.5 907.9h0M112.9 914.5h0M100.5 916.9h0M107.6 907.4h0M103.4 916.4h0M111.1 914.4h0M105.7 914.1h0M109.4 909.8h0M100.6 914.4h0M94.2 926.1h0M112 913.4h0M105.5 916.1h0M106.3 917.8h0M108.9 915.5h0M99.7 925.9h0M107.3 911.7h0M103.9 922.1h0M104.3 922.3h0M107.8 913.5h0"/><path d="M106.1 919.5h0M105.5 926.3h0M98.2 912.4h0M113.9 903.7h0M108.9 915.1h0M111.4 908.1h0M104.8 910.6h0M102.9 909.6h0M108 914.3h0M108.2 915.2h0M107.8 906.7h0M103.3 919.1h0M109.6 912.9h0M115.1 907.4h0M105.6 909.9h0M108.2 913h0M111.2 908.7h0M104.2 913.8h0M106.5 903.8h0M99.7 919.7h0M102.4 923.2h0M113 916.7h0M111.8 909.3h0M107.5 921.1h0M106 919.1h0M107.5 916.8h0M102.7 920.5h0M109 907.7h0M102.1 919.4h0M108.6 914.4h0M109.1 917.5h0M105.5 904.5h0M101.6 907.3h0M103.8 915h0M115.9 918.4h0M108.6 912.9h0M101.7 902.8h0M103.7 913.5h0M109.9 906.5h0M109.1 916h0M107.5 908.6h0M102.6 917.1h0M116.8 913.3h0M110.3 918.3h0M104 919.7h0M100.4 915.3h0M105 908.6h0M97.3 919.1h0M108.8 922.7h0M110.8 913.9h0M106.4 925.7h0M110.2 916.8h0M106.3 913.2h0M115 914.6h0M100.4 921.9h0M102.3 924.7h0M106.4 917.7h0M108.4 921.6h0M110.1 913.6h0M96.2 916.5h0"/><path d="M108.8 910.4h0M113.3 913.7h0M105.3 908.3h0M105.6 915.8h0M104.4 920.4h0M105.1 916h0M109.3 911.8h0M106.7 917.5h0M110 922.9h0M102.3 915.3h0M99.6 920.7h0M104.6 906.9h0M104.5 913.4h0M113.2 907.8h0M100.6 910h0M105.2 925.4h0M103.8 915.6h0M110.4 906.2h0M107.8 921.4h0M107.5 912.3h0M108.3 919h0M104.7 915.1h0M108.6 913.2h0M100.9 916.6h0M110.5 908.6h0M107.1 925.5h0M108.8 916.2h0M113.6 909.4h0M105.7 916h0M104.5 916.1h0M103.9 913.3h0M102.4 910.1h0M110.7 907.5h0M105.7 913.7h0M101.3 916.9h0M101 916.6h0M111.7 914.4h0M116.9 913.4h0M108.3 916.6h0M115.8 910.5h0M106.9 907.7h0M106.7 915.1h0M108.1 913.6h0M110.6 906.9h0M103.5 915.6h0M112.1 915.5h0M115.8 912.2h0M113.8 912.4h0M111.7 911.3h0M106.4 909.4h0M114 916h0M108.2 917.1h0M106.6 916.8h0M113.8 911.5h0M105.7 916.2h0M103.8 914.3h0M100.9 914.6h0M106.1 911.3h0M104.9 921.4h0M107.9 910.3h0"/><path d="M121.9 905.6h0M105.6 923.9h0M98.9 916.4h0M106.2 917.6h0M102.1 905.7h0M108.1 912.3h0M107 912.2h0M99.3 905.2h0M105.3 912.1h0M105.5 913.1h0M100.5 922.8h0M97.5 919.1h0M110 910.1h0M99.1 913.8h0M98.7 913.8h0M110.4 913.2h0M103 914.6h0M104.4 918.1h0M109.1 912.4h0M113.6 911.1h0M109.3 917.3h0M107.9 907h0M113.6 906h0M107.1 922.7h0M104.2 910.8h0M110.4 921.2h0M113 902.5h0M97.1 914.6h0M113.4 910h0M110.6 915.1h0M107.2 910.3h0M98.6 920.1h0M105.8 910h0M104.7 924.8h0M95.4 920.2h0M116.5 911.6h0M118.6 913.7h0M113.9 911.7h0M98.1 912.7h0M108.6 915.4h0M108 914.7h0M110.7 909.2h0M108.7 916.4h0M108.7 911.4h0M112.5 907.3h0M110.2 909.4h0M114.9 914.4h0M105.6 913.2h0M107.5 918.8h0M98 923.6h0M105.6 915.8h0M119 919h0M108 919.3h0M105.6 907.9h0M115.6 910.9h0M102.5 917.9h0M105.2 914.9h0M107.6 909.9h0M106.6 911.2h0M108.6 916.7h0"/><path d="M110.6 922.8h0M98.4 924.8h0M110.1 910.8h0M112.1 910.4h0M102.8 921.8h0M110.6 914.7h0M104.5 916.1h0M112.2 916.4h0M101.2 917.8h0M106.2 916.6h0M111.7 912.7h0M102.1 918.5h0M107.4 913.2h0M106.3 917.1h0M118.1 918.8h0M98.9 923.4h0M105.5 916.2h0M98.5 914.3h0M106.2 920.6h0M104.9 915.6h0M103.2 917.9h0M103.6 917.8h0M104.3 909.1h0M99 905.3h0M110.4 915.8h0M118.3 917.5h0M109.9 909.6h0M107.5 911.1h0M106.7 906h0M114.2 919.6h0M115.1 911.9h0M104.4 916.5h0M108.6 911.9h0M106.3 914.1h0M104.4 922.1h0M111.7 901.9h0M106.4 914h0M104.7 921.2h0M96.3 921.2h0M115.2 907.8h0M108.7 918.6h0M114.6 908.7h0M105.4 914.3h0M103.6 917h0M104.4 924.7h0M111.4 917.7h0M111.1 920.8h0M110.6 916.1h0M112.3 900.7h0M110.4 912.2h0M103.2 918.3h0M109.8 902.5h0M106.2 916.9h0M108.4 911.5h0M102.5 909.3h0M102.9 914.1h0M112.2 915h0M107.5 916.6h0M102.6 923.1h0M106 919.5h0"/><path d="M111.2 915.1h0M105.5 916h0M105.3 923.7h0M118.5 916.8h0M114.2 907.1h0M112.3 906h0M107.3 921.2h0M102.3 912.7h0M101.9 924.1h0M109 917.6h0M104.1 916.9h0M109.9 913.4h0M98.9 915.3h0M106 911.2h0M109.6 916.7h0M115.2 913.2h0M114.9 911.2h0M106.9 905.6h0M110.2 912h0M97.8 915.4h0M104.6 911.1h0M109.8 913.3h0M105.5 918.2h0M102.3 918.6h0M109.7 908.3h0M111.7 911.1h0M108.6 915.2h0M103.1 915.5h0M121.1 903.6h0M105.4 914.1h0M110.8 913.7h0M103 911.6h0M117.7 907.9h0M104.9 907.5h0M101.7 904.1h0M114 912.5h0M111.2 911.2h0M105.5 918.5h0M110.6 918.8h0M108.5 919.4h0M99.3 919.3h0M104.5 913.4h0M110.7 925.6h0M103.3 913.2h0M105.9 912.2h0M101.5 910.9h0M100.7 911.3h0M104.6 919.2h0M120.8 914.2h0M107.6 906.6h0M101.6 916.5h0M108.5 911h0M106.2 908.4h0M106.1 912.7h0M103 909.8h0M107.3 917.7h0M99.7 914.2h0M108.2 918.2h0M109.5 904.5h0M111.5 910.2h0"/><path d="M99.2 914.2h0M107.1 920h0M107.2 922.3h0M98.6 915.8h0M105.5 916.7h0M109.9 921.1h0M111.5 919.5h0M108.8 910.3h0M113.7 906.9h0M107.3 913.8h0M114.8 903.4h0M97.5 911h0M98.3 917.4h0M103.3 913.8h0M105.3 907.4h0M103.9 916.3h0M108 923.7h0M102.6 910.1h0M109.2 911.3h0M102.1 923h0M100.9 917.9h0M115.8 914.2h0M105.2 927.1h0M100.6 922.7h0M102.9 920.2h0M112.6 912.8h0M108.5 914.6h0M110.4 908.1h0M109.9 906.9h0M118.8 909.6h0M109.8 912.1h0M100.1 913.8h0M99.4 917.2h0M105 915.4h0M103.8 916.9h0M111.8 915.5h0M99.5 921.9h0M97.6 920.4h0M108.2 910.9h0M105.5 905.8h0M104.1 906.8h0M109.4 916.3h0M109.5 908.3h0M111.1 906.2h0M94.9 918.9h0M111.6 911.3h0M102.7 922.9h0M105.5 912.1h0M110 903.9h0M96.7 933.2h0M111.6 905.3h0M106.8 923.3h0M102.2 922.2h0M104.8 914.6h0M110.7 915.6h0M109.5 914.9h0M107.7 916.6h0M100.6 908.9h0M106.3 906.5h0M98.5 912.9h0"/><path d="M107.6 911.8h0M107.8 921.3h0M115.2 905h0M110.1 915.4h0M102.8 916.5h0M105.4 912.2h0M107.3 919.6h0M99 918.8h0M102.5 926h0M105.9 915.2h0M108.3 919.6h0M107.9 914.5h0M108.8 910.8h0M103.3 914.3h0M112.1 907.6h0M100.1 921.7h0M119.7 910.1h0M101.1 915.2h0M106.9 915.1h0M106.4 914.4h0M98.9 916.4h0M104.4 910.8h0M107.1 923.8h0M107 914.5h0M107.3 910.6h0M100.6 919.5h0M103.3 915.6h0M106.6 917.6h0M103 916.8h0M107.1 915.5h0M114.6 904.1h0M106 920h0M106.2 912.4h0M112 911.4h0M106.1 919.8h0M105.7 921.1h0M99 911.1h0M100.9 918h0M106.7 921.3h0M94.9 926.3h0M111.2 910.1h0M116 911.5h0M108.5 924.8h0M106.6 923.2h0M113.7 910.4h0M102.8 915.4h0M104.8 915.8h0M108.2 909.4h0M104.7 918.8h0M111.1 910.7h0M93.4 918.3h0M107.2 907.7h0M101 916.3h0M102.4 914.8h0M112.7 910.8h0M112.6 910.1h0M103.4 917.3h0M110.1 910.1h0M106.5 912.6h0M117.6 906h0"/><path d="M99.4 911.1h0M106.6 914.3h0M108.3 914.5h0M105.2 913.6h0M107.6 917.9h0M111.4 910.2h0M112.6 910.3h0M104.4 913.1h0M102.8 919.4h0M107.6 919.2h0M106.1 913.4h0M99 921h0M111.1 913.1h0M99.3 917.1h0M102.8 913.4h0M103.1 919.5h0M102.4 913.8h0M104.3 918.4h0M110.7 919h0M102.6 917.5h0M102 911.1h0M109.1 906.5h0M109.2 902.8h0M105.8 920.7h0M103 919.2h0M109.2 912.6h0M100.5 914.5h0M104.1 922.3h0M105.8 911h0M98.1 915.3h0M107 918.9h0M107.5 913.9h0M101.3 918.1h0M101.4 916.4h0M112.1 911.3h0M105.9 907h0M112.3 909.1h0M104.1 921.3h0M115.7 909.2h0M96.3 911.2h0M113.1 917.4h0M109.7 915.1h0M100.9 916.9h0M101.7 916.6h0M112.7 919.3h0M118.1 914.8h0M109.7 917.4h0M114.5 922.6h0M97.7 919.1h0M100.5 911.9h0M98.9 918.2h0M103 917.9h0M111.5 909.9h0M92.9 915.7h0M112.5 910.5h0M101.9 917.9h0M92.9 919.7h0M107.8 912.3h0M110 919.4h0M100.1 915.4h0"/><path d="M103.6 920.7h0M109 907h0M110.7 914.6h0M102.9 905.6h0M112 913.4h0M113 916.3h0M113.6 907.4h0M105.4 911.3h0M108 917.1h0M119.4 908.5h0M107.7 914h0M104 911.2h0M102.9 914.1h0M103.8 915.6h0M98.9 917.1h0M100.7 923.3h0M108.7 912h0M109.4 912.9h0M103.8 911.4h0M109.6 911.5h0M110 909.2h0M113.1 909.2h0M112 919.8h0M115 912.3h0M108.6 915h0M106.3 921.2h0M97.1 914.4h0M96.8 915.7h0M111.9 909.3h0M109 916.8h0M107.1 908.3h0M114.3 910.1h0M96.5 919.8h0M103.1 913.7h0M104.3 920h0M120.4 906.4h0M100.5 918.1h0M96.8 919.9h0M113 910.1h0M100.4 924.5h0M102.6 914.8h0M106.8 909.3h0M105.2 917.1h0M107.2 916.5h0M119 917.3h0M98.9 911.2h0M113.7 909h0M115.3 916.8h0M100.9 912h0M98.9 926.6h0M107.7 904.4h0M108 911.8h0M109.8 911.3h0M104.1 907.9h0M105.8 920.1h0M102.7 914.8h0M110.4 913.7h0M105.7 913.7h0M114.9 923.8h0M104.9 911.1h0"/><path d="M100.4 917.7h0M105 903.2h0M107.7 918.9h0M104 917.7h0M101.3 912.1h0M109 905.6h0M111.9 912.7h0M103.2 916.2h0M101.2 914h0M114.7 920.6h0M106.6 920.8h0M109 904.8h0M116.1 905.5h0M106 915.8h0M106.5 918h0M112.5 917.3h0M108.9 921.1h0M109.3 915.6h0M113.1 914.4h0M104.4 921.7h0M109 908.5h0M104.8 912.2h0M104.3 919.5h0M105.8 927.5h0M109.5 913.8h0M99.7 914.5h0M109.8 915.1h0M107 913.7h0M99.3 906.5h0M108.5 915.1h0M103.5 911.6h0M100.7 923.9h0M107.7 920.5h0M112.6 908.8h0M111.4 907.4h0M102.1 918.9h0M106.3 921.8h0M102.8 919h0M114.5 905.4h0M107.2 915.3h0M103.9 907h0M101.5 905.1h0M113.5 915.6h0M110 919.7h0M112.3 904.8h0M106.4 919.8h0M104.2 908.3h0M113.6 914.9h0M116.6 907.5h0M101 914.9h0M109.5 904.8h0M104.3 908.8h0M102.6 909.3h0M102.1 923h0M98.8 920.4h0M109.7 915.4h0M102 922.8h0M108.3 922.5h0M103.1 918h0M106.9 916.1h0"/><path d="M100 923.3h0M103.6 910.6h0M99.9 915h0M104.6 923.9h0M105.6 913.8h0M108.5 917.8h0M107 916.4h0M108.3 915h0M114.6 909.8h0M111.4 907.7h0M109.8 911.3h0M103.2 921.8h0M106.5 907.5h0M101.8 921.9h0M107.4 919h0M108.7 912.6h0M106 918.1h0M110 912.7h0M105.7 906.1h0M110.8 908.6h0M114.1 909.6h0M104.5 915.3h0M108.4 918.2h0M113.2 915.9h0M99.9 917h0M104.9 911.3h0M96.8 914.2h0M112.4 913.7h0M100.5 910.4h0M102.8 920.5h0M111.7 921.4h0M107.3 913h0M111.9 907.9h0M104.6 911.5h0M107.6 904h0M113.6 915.5h0M104.7 921.8h0M103.4 918.2h0M110.2 910.4h0M106.3 914.6h0M107 915.4h0M101.2 918h0M108.1 912.3h0M114.1 913.3h0M100.7 921h0M101.1 921h0M108.3 911.8h0M108.9 911.9h0M107.7 911.8h0M107.7 918.9h0M109.5 910.9h0M117.6 923.7h0M116.3 914.1h0M99.5 917.8h0M108.2 906.9h0M109.9 911.5h0M105.4 914.6h0M108.8 918.2h0M102.2 921.3h0M112.8 917.6h0"/><path d="M105.6 904.8h0M112.3 916h0M106.7 910.7h0M111.6 919.9h0M108.8 910.7h0M91.6 923.5h0M106.2 915.3h0M101.4 918.4h0M112.1 903.6h0M103.8 914.5h0M114.2 921.4h0M105.3 911.2h0M107.9 909.1h0M106 916.4h0M100.2 917.5h0M106.2 915.1h0M103.8 914.8h0M105.4 918.9h0M101.7 915.1h0M104.8 913.5h0M102.8 923.6h0M110.3 908.8h0M102.1 920.5h0M95.6 924.3h0M94.7 915.5h0M105.8 923.2h0M98.6 918.2h0M105.2 923.8h0M107.3 913.2h0M109.4 920.4h0M109.4 910.3h0M113.5 909.9h0M108 917.4h0M100.2 912.1h0M109.6 919.7h0M105.5 908.3h0M115 911.9h0M100.9 918.7h0M108.5 911.5h0M102.5 924.2h0M113.8 910.4h0M103.1 908.9h0M101.8 909h0M121.1 906.3h0M105 915.7h0M103.6 914.9h0M104 920.9h0M113.8 924.5h0M108.6 907.7h0M100.1 914.1h0M106 917.9h0M100.7 922.3h0M106 922.5h0M106.2 911.4h0M105.7 908.1h0M112.5 909.9h0M96.3 921.5h0M112.8 907.9h0M103.5 910.7h0M109.9 917.1h0"/><path d="M108.3 918.8h0M99.1 915.9h0M97.5 921.5h0M105.7 912.4h0M106.4 912h0M109.1 915.5h0M108.7 920.3h0M111.5 920h0M105.7 924h0M95.6 925.3h0M109.2 921.9h0M106.7 914h0M105.2 915.7h0M103.2 911.7h0M97.9 920.3h0M102.1 924.5h0M112.2 924.4h0M111.5 922.8h0M112.9 912.9h0M101 921.4h0M110 915h0M110.1 911.9h0M111 906.9h0M105.6 923.1h0M112.3 909h0M97.6 922.9h0M105 908.9h0M102 917h0M101.9 912.3h0M105.9 911h0M100.9 913.6h0M107.9 911h0M108.8 919.9h0M112.3 924.1h0M106.6 915.9h0M110 928.9h0M104.7 915.6h0M102.5 916.4h0M107.7 911.2h0M102.5 922.3h0M106.3 920.9h0M117.3 904.9h0M107.3 913.7h0M101 924.2h0M116.7 910h0M108 914.1h0M109.4 917h0M104.9 905.3h0M114.7 905.3h0M107.8 913.4h0M110.7 917.8h0M105.6 912.5h0M102.8 919.2h0M113.7 902.3h0M112.1 926.6h0M96.7 925.4h0M106.8 908h0M103.5 915.6h0M102.2 916.8h0M100.3 919.4h0"/><path d="M115.5 909.2h0M111.7 909.8h0M106.5 914.4h0M114.9 920.7h0M101.5 910.3h0M95.5 919.1h0M102.4 923.7h0M110.2 909h0M113.8 909.7h0M107.3 908.5h0M113.1 907.7h0M94.4 914.5h0M106.1 912.3h0M106.9 918.5h0M106.9 910.8h0M106.5 925.2h0M102.1 924.3h0M100.5 909.5h0M114.4 905.7h0M105.2 918.7h0M115.6 907.8h0M105.3 915.1h0M105 915.4h0M102.3 922.6h0M96.3 927h0M106.4 916.8h0M109.7 917.1h0M100.6 919.3h0M107.9 900.7h0M110.2 924.6h0M107.3 918h0M111.9 911.8h0M110.5 909.7h0M107.7 921.4h0M106 917.5h0M111.5 909.7h0M109.4 923.2h0M103.8 917.1h0M105.7 924.1h0M105.4 920.7h0M100.3 920.2h0M105.7 922.1h0M100.1 913.8h0M105.5 920.6h0M107 898.9h0M111.9 911.8h0M108.5 915.8h0M112 915.2h0M101.4 913.9h0M111.2 909h0M87.1 922.4h0M106.9 912.7h0M105.3 904.3h0M105 915.8h0M112.6 914h0M103.4 921.3h0M105.7 912.9h0M104.9 905.6h0M99.7 913.4h0M99.5 921.2h0"/><path d="M104 918.9h0M107.7 917.3h0M96.4 918.7h0M114.7 906.5h0M110 908.2h0M106.1 923.1h0M102.2 929.2h0M113.2 904.5h0M102.2 913.7h0M101.1 903.7h0M113.3 913.7h0M110.5 910.5h0M103.9 928.9h0M107.5 907.9h0M104.3 918.3h0M105.4 919.2h0M104.7 923.6h0M111.9 922h0M105.7 913.7h0M110.1 926.3h0M103.1 923.8h0M100.3 930h0M103.4 914.1h0M105.6 921.7h0M112.8 907.3h0M109 911.7h0M101.6 920.1h0M114.1 912.8h0M103.6 914h0M110.7 918.8h0M114.2 909.5h0M108.8 910.4h0M108.7 914.8h0M108.9 907.7h0M110.4 913h0M109.8 919.4h0M102.1 918.2h0M99.1 915.3h0M101.5 915.9h0M109 908.6h0M100.9 909.3h0M114.6 910.3h0M112.6 920.4h0M94.8 919.9h0M99.2 920h0M88.6 915.4h0M107.6 915.4h0M113.1 910.7h0M107.9 919.6h0M110.5 913.3h0M101.7 912.7h0M108.9 917.9h0M108.6 911.8h0M102.8 923.3h0M110.2 910.5h0M121.5 915.6h0M108.2 915.1h0M111.7 918.2h0M106.7 904.5h0M107.4 914.9h0"/><path d="M107.3 910.2h0M108.6 903.3h0M108 909.7h0M111.7 909.1h0M119.5 911.9h0M107.3 919.9h0M105.9 925.8h0M101.2 912.2h0M105.2 921.4h0M111 914h0M111.5 918.4h0M104.6 914.2h0M108.4 910.6h0M95.8 926.8h0M107.6 916.3h0M104 915.1h0M101.1 913.4h0M107.4 916.2h0M109.3 915.6h0M106.6 919.4h0M108.6 916.8h0M110.5 917h0M111.4 918.6h0M109.8 920.1h0M111.2 910.6h0M107.3 918.6h0M105.3 917h0M111.3 911.5h0M100.5 914.1h0M100.8 922.2h0M109.6 924.9h0M106.4 919.5h0M110 912.6h0M95.4 910.2h0M108.6 917.1h0M103.1 919.7h0M108.9 918.8h0M103.5 916.9h0M99.8 927.2h0M101.9 914.4h0"/></g>
<ellipse cx="106.4" cy="915.5" rx="4" ry="5" fill="url(#gE)" transform="rotate(45 106.4 915.5)"/>
<g stroke="#000" stroke-opacity="0.15" stroke-width="0.55" stroke-linecap="square" fill="none"><path d="M121.3 908.2h0M180.4 918.5h0M128.4 912.2h0M143.2 909.8h0M116.9 902.7h0M142.5 921.3h0M131.9 912.8h0M120.8 911.8h0M119.5 903.4h0M120.4 919.3h0M141.7 913.5h0M148.2 919.7h0M128.1 913.9h0M130.9 909.3h0M140.9 917.3h0M118 905.3h0M116.8 905.4h0M121.9 913.7h0M138.4 918.2h0M126.7 920.3h0M145.6 913.6h0M122.7 913.4h0M143.8 915.2h0M173.4 912.9h0M153 911.3h0M120.1 916.9h0M151.6 911.3h0M152.1 912.9h0M116.5 920.8h0M158.6 915.3h0M131.4 911.2h0M125.8 918h0M124.5 913.3h0M123.3 917.9h0M137 909.3h0M141.4 909.8h0M141.3 906.1h0M146.8 920.3h0M122 921.9h0M140.2 920.7h0M120.3 916h0M126.7 915.2h0M126.3 912.7h0M136.5 917.3h0M125.5 913h0M132.3 908.4h0M130.1 919.6h0M129.3 919h0M133.7 917h0M115.6 913.7h0M115.2 911.9h0M118.1 914.6h0M125.2 915.2h0M147.8 907.6h0M123.3 911.5h0M120.6 908.2h0M122.1 920.2h0M115.8 906.5h0M131.4 907.3h0M117.8 909.1h0"/><path d="M133.8 914.9h0M118.3 908.9h0M140.5 923.7h0M149.9 918h0M131.7 900.7h0M137.7 915.2h0M120 915.9h0M129.1 907h0M124.5 913.5h0M123.4 914.4h0M144 910.4h0M120.4 913.4h0M146.6 915.8h0M142.2 911.1h0M126.2 913.6h0M154.7 907.3h0M116.7 917.4h0M120.6 910.4h0M138.8 920.6h0M138.2 925.3h0M124.6 923.2h0M140.5 911.4h0M129.3 916.3h0M148.1 912.5h0M133.7 916.5h0M144 909.3h0M125.3 908.3h0M122.6 913.6h0M122.6 909.5h0M119.8 920.7h0M140.6 917.9h0M116.6 915.8h0M127.5 913.1h0M125.7 913h0M143.4 919.3h0M164.2 914.3h0M127.6 914h0M135.8 924.3h0M128.9 914.7h0M126.8 912.5h0M130.9 912.7h0M139.1 921h0M146.3 911.2h0M125.3 911.3h0M123.6 920h0M147.4 920.4h0M144.4 921.7h0M122.5 909.2h0M147.7 916.4h0M149.9 910.8h0M150.1 916.3h0M121.3 905.2h0M154.1 912.9h0M126.5 919.9h0M118.6 915.1h0M140.1 900.6h0M124.9 919.5h0M126.8 916h0M124.6 912.5h0M142.9 914h0"/><path d="M132.5 912.2h0M136.9 920.3h0M134.8 913.8h0M126.1 905.1h0M137.8 909.3h0M121.2 923h0M133.1 920.2h0M129.3 918.4h0M144 909.6h0M117.8 917h0M121.5 919.7h0M122.1 914.6h0M154.4 918.1h0M117.6 920.3h0M126.6 919.8h0M130.5 916.6h0M125.5 916.6h0M136.7 907.2h0M121.1 912.4h0M152.2 918.7h0M123.9 923.5h0M134.1 915.1h0M121 920.1h0M167.1 914.1h0M126.1 908.7h0M116.3 916.5h0M138.2 916.6h0M160.7 909.2h0M136.7 909.3h0M122.6 914.4h0M123.6 911.3h0M122.9 916.9h0M137.8 906.6h0M130.9 918.6h0M163.5 910.7h0M131.6 916h0M127.1 905.5h0M150.8 919.3h0M125.7 915.2h0M128.2 925.8h0M123.8 904.9h0M117.3 904h0M144.1 918.1h0M116.8 919h0M127.6 904.2h0M122.3 917h0M127 919.3h0M116.5 921.9h0M126.3 914.8h0M125.1 905.6h0M116.2 903.4h0M124.2 925.7h0M152 916.4h0M141.9 919.6h0M122.9 912.3h0M148.8 912.8h0M131.6 913h0M132.6 908.9h0M143.9 912.5h0M123.7 908h0"/><path d="M120.3 911.8h0M137.1 920.3h0M122.3 914.2h0M136.6 910.4h0M116.9 923.7h0M144.9 921.3h0M125.2 914.4h0M120.5 904.5h0M151.4 921.3h0M131.8 921.4h0M135.9 910.9h0M121.4 922h0M122.2 909.5h0M133.1 912.7h0M119.7 911.6h0M138.1 915.1h0M150.9 913.4h0M156.5 922.1h0M136.1 912.2h0M143.2 916.6h0M123.2 914.4h0M131.3 915.5h0M135.8 909.6h0M121.6 913.9h0M125.3 921.8h0M124.9 918.7h0M128.1 907.6h0M122.9 911.9h0M137.3 908.5h0M122.1 910.1h0M122.8 910.5h0M128.1 907.3h0M120.8 916.7h0M143.4 919.1h0M122.5 915h0M132.5 911.5h0M125 915h0M132.9 909.9h0M124.8 919.9h0M141.8 927.1h0M130.5 899.3h0M123.2 916.3h0M123.9 914.4h0M132.1 915.2h0M116.7 912.6h0M132.2 905.8h0M123.4 913.7h0M125.2 911.9h0M128.1 913.3h0M120.6 913.9h0M143.4 911.4h0M169.9 926.8h0M147.8 907.2h0M122.9 912h0M117 907.1h0M142.9 913.2h0M164.6 922.7h0M117.2 913.9h0M121.1 909.5h0M138.3 906.8h0"/><path d="M122.6 917.1h0M118.5 910.2h0M120.1 917.6h0M139.3 910.2h0M130.1 911.1h0M140 913.8h0M119 905h0M135.5 920.7h0M151.3 907.8h0M159 914.9h0M122.6 916.6h0M120.7 927.1h0M134 916.7h0M142.3 918.7h0M161.5 911.3h0M138.5 913.3h0M151.9 914h0M139.5 920h0M121.8 908.6h0M131.2 916.3h0M154 929.9h0M141.7 908.8h0M119.4 903.9h0M124.2 911.2h0M122.1 913.4h0M117.3 923.3h0M131.5 916.8h0M117 920.4h0M123.5 910.2h0M134.8 913.9h0M120 915.7h0M124.1 909.5h0M160 915.7h0M119.3 912.6h0M137.7 915.4h0M130.4 906.4h0M130.1 902.9h0M117.4 921.7h0M128 914.4h0M131.5 913.7h0M116.2 928.4h0M122.5 919.8h0M126.9 916.7h0M125 910.6h0M117.2 916.3h0M130.1 915.6h0M122.7 912.9h0M125.3 922.2h0M121.5 918.5h0M123.7 917.5h0M133.3 909.8h0M136.4 910.5h0M129.8 920.5h0M135.6 915.6h0M117 911.3h0M122.4 916.1h0M150.3 914.5h0M145.8 912h0M154.1 913.4h0M149.5 918.6h0"/><path d="M131 916.2h0M135.9 909.7h0M139 910.3h0M122.4 916h0M130.6 908.6h0M117 915.1h0M119.2 913.7h0M121.9 907.2h0M136.8 901.2h0M117.7 909.7h0M119.9 914.3h0M142.3 914.3h0M161.9 921.2h0M134.3 914.3h0M140.8 913.9h0M137.4 916.3h0M135.2 911.9h0M114.9 923.7h0M128.9 911.1h0M146.4 909.5h0M121.6 911.5h0M121.8 920.9h0M127 911.1h0M130.6 910h0M125.5 917.4h0M142.5 920.7h0M131.9 911.9h0M120.5 918h0M124.6 910.6h0M125.9 921.9h0M155.7 908.3h0M118.6 912.6h0M162.1 911.8h0M128.4 909h0M132.3 913.7h0M120.8 917.8h0M135.9 909.6h0M144.3 924.6h0M149.6 915.5h0M142.3 916h0M159.9 909.8h0M138.7 913.7h0M131.4 919h0M125.2 908.6h0M121 910.3h0M138.3 909.5h0M129.3 906.9h0M114.9 917.5h0M142.3 909.6h0M130.3 923.1h0M122.3 907.2h0M130.3 912.2h0M130.6 914.3h0M137 908.6h0M131.1 902.3h0M145.1 910.4h0M122.8 913.9h0M118.5 908.8h0M137.3 915.5h0M140.6 903.8h0"/><path d="M121.9 915.7h0M187.2 925.5h0M127.4 919.3h0M118 919.5h0M121.6 912.1h0M125.9 911.7h0M121.3 920.2h0M125.1 912.2h0M145.7 917.6h0M120.4 908.6h0M123.1 916.1h0M130.4 915h0M126.1 901.8h0M128.5 913.4h0M134.3 917.1h0M151.6 917h0M135.7 916.1h0M134.7 921.1h0M138.3 913.7h0M140.3 909.8h0M126.8 919h0M144.1 925.7h0M133 912.1h0M115.8 922.4h0M127.1 913h0M148.4 905.8h0M119.5 909.1h0M144.2 909.3h0M122.5 920.4h0M120.9 914.6h0M144.4 911h0M171.6 914.7h0M144.6 921.7h0M138.5 913.6h0M118 910h0M122.1 916h0M125.1 909.4h0M130.3 916.8h0M118.9 919.5h0M122 915h0M138.8 911.6h0M127.8 914.7h0M125.3 906.2h0M129.8 922.7h0M130.3 927h0M126.5 914.1h0M127.8 902.6h0M128.2 910.3h0M158 906h0M127.6 903.7h0M124.9 913.2h0M120.4 913.1h0M148.7 910.5h0M120.4 920.1h0M122.7 914.2h0M138.8 908.6h0M138.6 916.3h0M154.9 907h0M162.2 912.1h0M154.4 909.4h0"/><path d="M134.8 915.6h0M157.1 912.5h0M122.5 910.8h0M139.1 915.5h0M133.1 916.6h0M143.2 915.3h0M117.4 920.2h0M136.1 908.2h0M116.6 916.2h0M124.9 923.2h0M115.3 914.1h0M139.6 901.8h0M141.1 919.4h0M121.2 912.9h0M145.9 917.6h0M133.8 915.5h0M119.3 917.4h0M134.1 920.7h0M124.1 914.7h0M137.7 918.4h0M149.8 906.8h0M133.9 909.1h0M146 913.3h0M124.7 922.7h0M164.6 909.4h0M125.4 912.1h0M177.5 917.7h0M123.5 911.1h0M125.9 906.8h0M117.4 903.1h0M123.5 918.3h0M123.8 907.8h0M122.3 915.9h0M149.3 916.8h0M156.7 908.5h0M170.6 916.5h0M143 902.2h0M125 913.4h0M149.1 908.2h0M140.1 915.2h0M118.9 915.1h0M152.4 915h0M158.7 917.4h0M126.2 910.4h0M127.3 906h0M127.5 907.1h0M120.5 919.5h0M143.8 908.2h0M123.8 912h0M138.7 915.9h0M168 913.1h0M134.9 908.5h0M124.5 902.3h0M146.4 919.2h0M121.8 910.8h0M146.5 905h0M164.8 910.4h0M115.3 914.2h0M163.7 903.1h0M141.8 914.7h0"/><path d="M130.5 914h0M116.6 916.4h0M124.2 914h0M140.9 908.5h0M121.6 905h0M138.6 912.9h0M141.1 911.1h0M126.2 922.4h0M141.4 912.3h0M115.9 916.2h0M133.9 914.2h0M136.8 904.3h0M125.1 918.1h0M118.1 911.4h0M127.5 905.9h0M142.1 916.2h0M116.5 920.7h0M115.1 913.2h0M128.8 912.3h0M136.2 910.4h0"/></g>
</g>
<rect x="118.4" y="891.4" width="49" height="39" fill="none" stroke="#666" stroke-width="0.9"/>
<line x1="82.9" y1="868.8" x2="84.2" y2="868.8" stroke="#777" stroke-width="0.5"/>
<line x1="82.9" y1="871.71" x2="84.2" y2="871.71" stroke="#777" stroke-width="0.5"/>
<line x1="82.9" y1="874.62" x2="84.2" y2="874.62" stroke="#777" stroke-width="0.5"/>
<line x1="82.9" y1="877.53" x2="84.2" y2="877.53" stroke="#777" stroke-width="0.5"/>
<line x1="82.9" y1="880.44" x2="84.2" y2="880.44" stroke="#777" stroke-width="0.5"/>
<line x1="82.9" y1="883.35" x2="84.2" y2="883.35" stroke="#777" stroke-width="0.5"/>
<line x1="82.9" y1="886.26" x2="84.2" y2="886.26" stroke="#777" stroke-width="0.5"/>
<line x1="82.9" y1="889.17" x2="84.2" y2="889.17" stroke="#777" stroke-width="0.5"/>
<line x1="82.9" y1="892.08" x2="84.2" y2="892.08" stroke="#777" stroke-width="0.5"/>
<line x1="82.9" y1="894.99" x2="84.2" y2="894.99" stroke="#777" stroke-width="0.5"/>
<line x1="82.9" y1="897.9" x2="84.2" y2="897.9" stroke="#777" stroke-width="0.5"/>
<line x1="82.9" y1="900.81" x2="84.2" y2="900.81" stroke="#777" stroke-width="0.5"/>
<line x1="82.9" y1="903.72" x2="84.2" y2="903.72" stroke="#777" stroke-width="0.5"/>
<line x1="82.9" y1="906.63" x2="84.2" y2="906.63" stroke="#777" stroke-width="0.5"/>
<line x1="82.9" y1="909.54" x2="84.2" y2="909.54" stroke="#777" stroke-width="0.5"/>
<line x1="82.9" y1="912.46" x2="84.2" y2="912.46" stroke="#777" stroke-width="0.5"/>
<line x1="82.9" y1="915.37" x2="84.2" y2="915.37" stroke="#777" stroke-width="0.5"/>
<line x1="82.9" y1="918.28" x2="84.2" y2="918.28" stroke="#777" stroke-width="0.5"/>
<line x1="82.9" y1="921.19" x2="84.2" y2="921.19" stroke="#777" stroke-width="0.5"/>
<line x1="82.9" y1="924.1" x2="84.2" y2="924.1" stroke="#777" stroke-width="0.5"/>
<line x1="82.9" y1="927.01" x2="84.2" y2="927.01" stroke="#777" stroke-width="0.5"/>
<line x1="82.9" y1="929.92" x2="84.2" y2="929.92" stroke="#777" stroke-width="0.5"/>
<line x1="82.9" y1="932.83" x2="84.2" y2="932.83" stroke="#777" stroke-width="0.5"/>
<line x1="82.9" y1="935.74" x2="84.2" y2="935.74" stroke="#777" stroke-width="0.5"/>
<line x1="82.9" y1="938.65" x2="84.2" y2="938.65" stroke="#777" stroke-width="0.5"/>
<line x1="82.9" y1="941.56" x2="84.2" y2="941.56" stroke="#777" stroke-width="0.5"/>
<line x1="82.9" y1="944.47" x2="84.2" y2="944.47" stroke="#777" stroke-width="0.5"/>
<line x1="82.9" y1="947.38" x2="84.2" y2="947.38" stroke="#777" stroke-width="0.5"/>
<line x1="82.9" y1="950.29" x2="84.2" y2="950.29" stroke="#777" stroke-width="0.5"/>
<line x1="82.9" y1="953.2" x2="84.2" y2="953.2" stroke="#777" stroke-width="0.5"/>
<line x1="81.4" y1="867.8" x2="84.2" y2="867.8" stroke="#444" stroke-width="0.8"/>
<line x1="81.4" y1="887.8" x2="84.2" y2="887.8" stroke="#444" stroke-width="0.8"/>
<line x1="81.4" y1="907.8" x2="84.2" y2="907.8" stroke="#444" stroke-width="0.8"/>
<line x1="81.4" y1="928.3" x2="84.2" y2="928.3" stroke="#444" stroke-width="0.8"/>
<line x1="81.4" y1="947.8" x2="84.2" y2="947.8" stroke="#444" stroke-width="0.8"/>
<line x1="86.2" y1="955.2" x2="86.2" y2="956.5" stroke="#777" stroke-width="0.5"/>
<line x1="88.92" y1="955.2" x2="88.92" y2="956.5" stroke="#777" stroke-width="0.5"/>
<line x1="91.64" y1="955.2" x2="91.64" y2="956.5" stroke="#777" stroke-width="0.5"/>
<line x1="94.36" y1="955.2" x2="94.36" y2="956.5" stroke="#777" stroke-width="0.5"/>
<line x1="97.08" y1="955.2" x2="97.08" y2="956.5" stroke="#777" stroke-width="0.5"/>
<line x1="99.8" y1="955.2" x2="99.8" y2="956.5" stroke="#777" stroke-width="0.5"/>
<line x1="102.52" y1="955.2" x2="102.52" y2="956.5" stroke="#777" stroke-width="0.5"/>
<line x1="105.24" y1="955.2" x2="105.24" y2="956.5" stroke="#777" stroke-width="0.5"/>
<line x1="107.95" y1="955.2" x2="107.95" y2="956.5" stroke="#777" stroke-width="0.5"/>
<line x1="110.67" y1="955.2" x2="110.67" y2="956.5" stroke="#777" stroke-width="0.5"/>
<line x1="113.39" y1="955.2" x2="113.39" y2="956.5" stroke="#777" stroke-width="0.5"/>
<line x1="116.11" y1="955.2" x2="116.11" y2="956.5" stroke="#777" stroke-width="0.5"/>
<line x1="118.83" y1="955.2" x2="118.83" y2="956.5" stroke="#777" stroke-width="0.5"/>
<line x1="121.55" y1="955.2" x2="121.55" y2="956.5" stroke="#777" stroke-width="0.5"/>
<line x1="124.27" y1="955.2" x2="124.27" y2="956.5" stroke="#777" stroke-width="0.5"/>
<line x1="126.99" y1="955.2" x2="126.99" y2="956.5" stroke="#777" stroke-width="0.5"/>
<line x1="129.71" y1="955.2" x2="129.71" y2="956.5" stroke="#777" stroke-width="0.5"/>
<line x1="132.43" y1="955.2" x2="132.43" y2="956.5" stroke="#777" stroke-width="0.5"/>
<line x1="135.15" y1="955.2" x2="135.15" y2="956.5" stroke="#777" stroke-width="0.5"/>
<line x1="137.87" y1="955.2" x2="137.87" y2="956.5" stroke="#777" stroke-width="0.5"/>
<line x1="140.59" y1="955.2" x2="140.59" y2="956.5" stroke="#777" stroke-width="0.5"/>
<line x1="143.31" y1="955.2" x2="143.31" y2="956.5" stroke="#777" stroke-width="0.5"/>
<line x1="146.03" y1="955.2" x2="146.03" y2="956.5" stroke="#777" stroke-width="0.5"/>
<line x1="148.75" y1="955.2" x2="148.75" y2="956.5" stroke="#777" stroke-width="0.5"/>
<line x1="151.46" y1="955.2" x2="151.46" y2="956.5" stroke="#777" stroke-width="0.5"/>
<line x1="154.18" y1="955.2" x2="154.18" y2="956.5" stroke="#777" stroke-width="0.5"/>
<line x1="156.9" y1="955.2" x2="156.9" y2="956.5" stroke="#777" stroke-width="0.5"/>
<line x1="159.62" y1="955.2" x2="159.62" y2="956.5" stroke="#777" stroke-width="0.5"/>
<line x1="162.34" y1="955.2" x2="162.34" y2="956.5" stroke="#777" stroke-width="0.5"/>
<line x1="165.06" y1="955.2" x2="165.06" y2="956.5" stroke="#777" stroke-width="0.5"/>
<line x1="167.78" y1="955.2" x2="167.78" y2="956.5" stroke="#777" stroke-width="0.5"/>
<line x1="170.5" y1="955.2" x2="170.5" y2="956.5" stroke="#777" stroke-width="0.5"/>
<line x1="95.2" y1="955.2" x2="95.2" y2="958" stroke="#333" stroke-width="0.9"/>
<line x1="115.7" y1="955.2" x2="115.7" y2="958" stroke="#333" stroke-width="0.9"/>
<line x1="143.7" y1="955.2" x2="143.7" y2="958" stroke="#333" stroke-width="0.9"/>
<line x1="171.7" y1="955.2" x2="171.7" y2="958" stroke="#333" stroke-width="0.9"/>
<text x="80.6" y="887.8" font-size="5.4" fill="#333" text-anchor="middle" font-family="'Liberation Serif'" transform="rotate(-90 80.6 887.8)">10<tspan dy="-1.8" font-size="2.8">6</tspan></text>
<text x="80.6" y="907.8" font-size="5.4" fill="#333" text-anchor="middle" font-family="'Liberation Serif'" transform="rotate(-90 80.6 907.8)">10<tspan dy="-1.8" font-size="2.8">5</tspan></text>
<text x="80.6" y="928.3" font-size="5.4" fill="#333" text-anchor="middle" font-family="'Liberation Serif'" transform="rotate(-90 80.6 928.3)">10<tspan dy="-1.8" font-size="2.8">4</tspan></text>
<text x="80.6" y="947.8" font-size="5.2" fill="#333" text-anchor="middle" transform="rotate(-90 80.6 947.8)">0</text>
<text x="80.6" y="869.3" font-size="5.2" fill="#333" text-anchor="middle" transform="rotate(-90 80.6 869.3)">10</text>
<text x="95.2" y="962.4" font-size="5.2" fill="#333" text-anchor="middle">0</text>
<text x="115.7" y="962.4" font-size="5.4" fill="#333" text-anchor="middle" font-family="'Liberation Serif'">10<tspan dy="-1.8" font-size="2.8">4</tspan></text>
<text x="143.7" y="962.4" font-size="5.4" fill="#333" text-anchor="middle" font-family="'Liberation Serif'">10<tspan dy="-1.8" font-size="2.8">5</tspan></text>
<text x="171.7" y="962.4" font-size="5.4" fill="#333" text-anchor="middle" font-family="'Liberation Serif'">10<tspan dy="-1.8" font-size="2.8">6</tspan></text>
<text x="137.4" y="887" font-size="10" font-weight="bold" textLength="13.6" lengthAdjust="spacingAndGlyphs">7.4</text>
<rect x="223.8" y="866.8" width="88.3" height="88.4" fill="#fff" stroke="#9a9a9a" stroke-width="0.8"/>
<clipPath id="cE223_866"><rect x="224.3" y="867.3" width="87.3" height="87.4"/></clipPath><g clip-path="url(#cE223_866)">
<g stroke="#000" stroke-opacity="0.16" stroke-width="0.55" stroke-linecap="square" fill="none"><path d="M247.3 917.9h0M252.4 913.2h0M258.7 910.6h0M253.3 916.7h0M254 914.7h0M244.5 918.9h0M256.4 919.1h0M242.3 916.3h0M273.7 919.9h0M271.7 918.3h0M262.4 916.1h0M245.5 912.5h0M267.8 922.5h0M242.9 920.9h0M252.8 922h0M254.5 911.2h0M257.3 911h0M250 917.6h0M260.2 921.4h0M278.5 916.7h0M247.6 922.2h0M266.3 910.4h0M244.8 919.3h0M247.1 906.8h0M244.4 912.6h0M258.4 910.5h0M251.3 919.7h0M272.1 912.7h0M244.3 916.5h0M252.1 921.1h0M246 913.5h0M246.2 921.1h0M260 911.1h0M282.6 925.5h0M248.9 911.5h0M275 908.8h0M245.8 918.6h0M243.2 923.2h0M249.3 907.3h0M252.4 921.8h0M275 924.1h0M244.1 918.3h0M245.4 909.7h0M253.4 911h0M247.5 918.9h0M257.1 904.2h0M256.3 922.6h0M248.8 925.5h0M252.2 909.5h0M264.4 909.6h0M242.4 919.9h0M263.5 912.3h0M265.7 920.5h0M239.8 914.4h0M240.3 914.1h0M242.8 915.9h0M240.2 919.6h0M240.7 919.4h0M246.6 916.2h0M242.3 923.2h0"/><path d="M271.1 926.2h0M242.4 920.4h0M249.9 909.2h0M250.3 913.1h0M266.4 915.2h0M259.8 919.5h0M243.3 923h0M256.5 913.1h0M246.7 922.8h0M248.2 910.4h0M260.2 918.3h0M239.4 914.5h0M249.5 915.2h0M262.8 923.8h0M241.2 914.7h0M256.5 917h0M271.3 927.5h0M272.5 918.2h0M258.3 908.7h0M259.8 910.3h0M251.5 913.9h0M266.7 918h0M273.6 918.3h0M291.5 903.9h0M281 908.7h0M280.6 907.7h0M256.9 916.4h0M240.3 918.3h0M249.4 915.4h0M256 919.3h0M245.3 915.5h0M246.9 916.9h0M239.8 923.4h0M243.7 920.4h0M243.5 913.9h0M310.7 913.7h0M241.5 922h0M251.7 916.3h0M266.5 912.4h0M258 919.1h0M244.3 910.3h0M245.7 917.7h0M246.3 914h0M266.7 918.6h0M248.8 928h0M266.7 918.1h0M242.9 911.4h0M249.5 907.7h0M258 917.3h0M241.9 915.2h0M248.6 909.6h0M245.3 913.8h0M245.3 916.5h0M245.8 910.8h0M243.5 915.7h0M284.4 919.8h0M241.5 913.1h0M249.3 923.4h0M241.1 912.3h0M246.9 910.8h0"/><path d="M241.9 921.7h0M250.9 914.2h0M267.1 912.1h0M241 912h0M251.1 918.8h0M288.5 911.7h0M243 914.1h0M261.6 905.9h0M258.7 908.5h0M247.6 914.4h0M248.6 909.1h0M256.2 913.7h0M262.1 922.7h0M238.5 916.9h0M270.7 923.2h0M247.1 911.4h0M253.9 919.6h0M245.8 914.2h0M255 920.5h0M268.6 909.4h0M249.4 917h0M282.2 923h0M238.1 917.3h0M274.1 918.2h0M266.6 914.6h0M245.5 904.4h0M243.4 912.2h0M249.7 912.4h0M242.8 920.9h0M247.8 917h0M243.2 911.4h0M250.2 921.3h0M257.9 918.7h0M254.6 907.5h0M260.8 924h0M254 918.6h0M254.6 931.9h0M245.7 921.8h0M246.8 908.4h0M280.1 924.2h0M247.9 917.6h0M247.9 914.4h0M267 918.4h0M264.6 920.3h0M265 914.3h0M283.6 909.9h0M252.2 919.8h0M251.7 918.4h0M255.4 909.9h0M292.7 926.1h0M260.3 914.8h0M249.4 926.3h0M246.5 924h0M244.5 915.7h0M267 921.4h0M266.4 910.1h0M253.9 917.4h0M238.9 907.6h0M248.6 910.6h0M260.7 916h0"/><path d="M256 919.8h0M245.4 920.8h0M249.2 922.4h0M247.2 921.7h0M262.3 913.6h0M254.9 915.9h0M264.7 912.5h0M246.7 916.6h0M243.2 907.6h0M247.2 912.2h0M272.4 925.5h0M261.9 917.4h0M239.7 913.1h0M245.2 919.8h0M258 918h0M275.2 916h0M244.5 914.5h0M293 908.6h0M252.1 916.2h0M263.7 917h0M240.6 916.5h0M260.1 925h0M316.4 916.5h0M256.1 918.2h0M245.6 922.9h0M248.9 920.8h0M246.1 906h0M252.1 916h0M244 911.3h0M287.9 910.7h0M271.4 922.5h0M255 925.3h0M238.9 918.5h0M262.3 902.5h0M265.6 913.4h0M247.4 914.8h0M253.6 913.7h0M253 925.2h0M255.1 919h0M256.2 920.2h0M252.7 916.8h0M243.5 920.9h0M252.9 915.5h0M242.8 909.9h0M268.2 916.3h0M249.5 912.7h0M254.6 907.9h0M274.5 903.4h0M249.2 913.2h0M248.3 915h0M259.8 926.9h0M259.8 912.7h0M244.4 912.7h0M278.1 915.7h0M243.1 920.3h0M247.7 909.8h0M246.6 915h0M250.9 923.1h0M276.4 927.2h0M272 911.3h0"/><path d="M239.6 908.1h0M248.1 915.6h0M257.7 915h0M252.5 922.1h0M245.1 920.8h0M241.6 916.6h0M246.9 911.9h0M243.6 917.9h0M247.4 911.9h0M262.2 910.7h0M248.7 916h0M246.4 926.4h0M244.1 925.3h0M240.2 923.3h0M244 908.2h0M271.8 920.3h0M240 912.7h0M285.1 919.7h0M238.7 920.5h0M264.2 920.6h0M249.7 912.8h0M267.7 910h0M244.9 919.9h0M245.2 922.7h0M243 912.6h0M266.6 910.9h0M271.5 915.5h0M239.7 913.7h0M253.6 921.7h0M247.3 921.8h0M242.7 920.5h0M280.8 912.1h0M251.7 911.6h0M258.1 914.5h0M253.5 917.1h0M276.5 922.1h0M267.5 919h0M257.1 914.5h0M240.3 919.2h0M243.1 920.4h0M245.5 915.8h0M243 911.7h0M250.8 919h0M244.8 921.4h0M250.3 920.2h0M260.8 910.5h0M246.3 918.7h0M245.7 917.1h0M253.2 915.3h0M254.4 915.8h0M246.4 913.8h0M244.4 913.2h0M252.1 918.2h0M247.6 916.5h0M246.5 917.2h0M251 910.4h0M248.6 917.8h0M264.2 926.1h0M283.3 909.2h0M241.8 917h0"/><path d="M267.1 916.5h0M281.9 918.5h0M244.4 920.2h0M239.7 913.8h0M247.5 921.2h0M267.6 920.7h0M269.4 914.8h0M243.9 919.8h0M256.8 923.5h0M261 925.1h0M276.5 915.5h0M246.1 921h0M249.1 916.8h0M262.8 912.3h0M251.8 929.7h0M246.7 922.3h0M245.9 920.9h0M249.4 915.6h0M255.5 918.3h0M279.4 914.2h0M240.2 926.1h0M271.3 913.7h0M250.3 917.4h0M249.7 921.7h0M281.7 916.4h0M255.5 922.2h0M264.5 918.8h0M249 916.7h0M250.3 917.1h0M259.7 905.6h0M244.9 921.7h0M253.8 920.3h0M240.9 918.8h0M246.4 917.9h0M249.2 911.6h0M245.1 917.2h0M252.3 911.9h0M261.6 913.5h0M242 911h0M271.6 914.5h0M247.7 922h0M256 919.2h0M243.8 912.2h0M274.7 911.1h0M245 922.1h0M252.5 915.4h0M263 921.8h0M248.4 925.2h0M244.8 921.7h0M250.1 911.1h0M248.3 905h0M264.6 926.3h0M297.5 906.2h0M244.2 909.6h0M244.7 913.9h0M262.2 914.6h0M252.6 919.8h0M250.5 913.1h0M265.3 911.3h0M250 921h0"/><path d="M264.8 910.9h0M276.8 934.7h0M264.1 908.3h0M263.2 917.1h0M291 925.3h0M252.6 916.8h0M255.6 907.7h0M266.3 916.5h0M241.6 921.9h0M257.2 912.6h0M246.3 908.5h0M249.8 916.4h0M254.5 905h0M246.2 919.1h0M263.1 921.1h0M245.5 917.4h0M244.1 911h0M252.5 922.6h0M249.6 923.9h0M261.8 923.6h0M245.7 914.7h0M247.8 919.4h0M276 912.2h0M288.6 925.7h0M248.6 914.5h0M257.6 909.9h0M254.3 915.5h0M249.7 919.6h0M253.6 916.2h0M243 915.9h0M255.5 911.4h0M240.3 917.1h0M264.6 916.2h0M255.1 917.1h0M257.9 915.8h0M243.6 916.3h0M256 912.1h0M249.2 926.1h0M244.5 908.5h0M244.6 917.8h0M267.3 923.8h0M253.1 907.2h0M262.8 906.6h0M268.5 921.2h0M262.5 931.8h0M282.9 924.1h0M260.5 914.3h0M245.4 913.8h0M240.2 913.8h0M246.1 910h0M245.7 913.3h0M252.7 921.4h0M244.2 914.9h0M255.3 918.6h0M244.4 920.6h0M245.1 913.2h0M267.2 914.2h0M243.7 917.4h0M251 912.2h0M247.8 917h0"/><path d="M258.8 920.2h0M273.8 916.7h0M259 907h0M245.6 917.9h0M253.7 915.5h0M267.3 916.3h0M251.4 910.3h0M261.6 916.9h0M258.5 915.9h0M246.6 913.6h0M277.3 911.4h0M252.9 915.6h0M242.8 907.2h0M244 917.7h0M262.7 913.4h0M245.6 921.6h0M245.2 907.3h0M263.5 913.6h0M264.1 918.2h0M257.1 917.9h0M252.9 914.1h0M245.2 921.2h0M246.1 914.1h0M260.3 919.4h0M241.8 916.2h0M258.3 915h0M248.7 912.4h0M271.1 912.1h0M245.9 913.6h0M266.9 918.4h0M269 912.7h0M249.3 911h0M250.9 919.5h0M259.7 917.2h0M249.3 919.2h0M253 916.8h0M256.5 925.6h0M260.6 920.6h0M284.8 918.5h0M286.2 919.8h0M251.7 921.6h0M268.9 917.4h0M246.8 920.1h0M256.1 915.3h0M257.9 925.1h0M250 915.6h0M246.2 900.2h0M244.4 919.7h0M256.9 914.6h0M250.2 915.6h0M252 920.1h0M266.7 899.7h0M263 905.9h0M252.8 915.6h0M239.5 910.2h0M242 919.4h0M262.7 919.4h0M248 914.2h0M260.8 921.2h0M261.3 905.2h0"/><path d="M272.5 915.8h0M248.9 921h0M246.8 923.3h0M254 919.5h0M260.1 925h0M252.5 918.7h0M248.4 915.8h0M247.5 918.1h0M250 929.2h0M249.3 927.8h0M254 918.6h0M269.4 919.7h0M290.7 920.4h0M254.1 908.6h0M255.8 913.8h0M245.5 917.3h0M273.8 911.6h0M264.7 915.3h0M249 910.3h0M251.1 916h0M239.2 921h0M248 916.8h0M254.5 920.9h0M249.2 915.6h0M249.5 912.3h0M280.5 917.3h0M259.3 906.4h0M247.4 912.6h0M271.4 914.3h0M253 913.4h0M252.8 918.4h0M259.9 912h0M250 921.1h0M277.4 921.7h0M245.1 917h0M252.8 912.9h0M241.4 911h0M272.8 920.2h0M268.7 914.7h0M263.2 932.1h0M248 920.7h0M273.2 925.3h0M252.2 911.5h0M243.8 916h0M263.9 913.4h0M260.8 902.6h0M251 917.6h0M247.7 914.2h0M264.5 914.5h0M241.2 918.1h0M247.9 921.4h0M249.8 919.3h0M258.9 926h0M268.3 912.2h0M270.5 921.4h0M256.8 912.2h0M241.9 915.2h0M238.9 921.4h0M254 919.1h0M247.5 917.6h0"/><path d="M249 917.5h0M286.5 921h0M265.8 924h0M260 919.9h0M250.2 914.2h0M247.6 920.6h0M260.5 916.3h0M238.1 917.7h0M271.9 917.4h0M259.7 921.8h0M240.9 917.5h0M238.6 914.8h0M248 909.3h0M251.7 909.6h0M247.8 918.3h0M262.4 912.7h0M245.2 920.7h0M241.7 916.7h0M240.3 917.8h0M262.8 916.2h0M245.6 929h0M248.9 921.4h0M266.7 919.6h0M240 919.6h0M244.6 904.8h0M265 911.3h0M257.1 923.1h0M239.9 922.4h0M255.6 912.3h0M245.5 906.2h0M244.3 910.1h0M253.6 919.2h0M261.5 915.3h0M292.8 924.3h0M252.6 915.1h0M255 917.8h0M262.8 919.4h0M254.5 915.7h0M264.3 913.7h0M267.6 912.6h0M246 915.4h0M261.3 916.5h0M246.7 921.3h0M264.4 916.7h0M246.1 913.6h0M239.4 911.3h0M250.4 912.3h0M248.5 918.3h0M266.5 917h0M244.9 922.9h0M250.4 915.6h0M253.6 914.1h0M264.6 924.6h0M247.7 921.3h0M246.1 922.3h0M259.4 909.4h0M240.7 916.1h0M242.3 917.5h0M260.8 917.5h0M243 905.1h0"/><path d="M255.5 916.6h0M264.9 916.2h0M242.4 921.6h0M245.9 915.3h0M254.8 916.7h0M264.3 915.3h0M252.9 910.6h0M257.7 919.9h0M258 926.9h0M246.4 911.6h0M265.9 925.5h0M252.4 925.4h0M274.1 907.6h0M243.1 910.2h0M242.4 912.6h0M244.6 911.7h0M256.3 912.4h0M244.9 911.3h0M256.3 914.4h0M246.8 918.6h0M239.6 920.1h0M239.7 915.4h0M246.9 911.4h0M248.8 919.1h0M252.6 919.6h0M246.8 912.4h0M277.7 918.9h0M267.7 909.6h0M259.5 912.3h0M257.1 916.9h0M238.8 915.2h0M259.2 922.5h0M254.6 915.4h0M250.7 917.6h0M243.2 921.8h0M251.2 908.2h0M253.2 919.7h0M250.2 922.3h0M297 914.6h0M242.2 921.6h0M252.8 910.4h0M257.3 911.4h0M244.4 909.7h0M253.8 924.9h0M255.1 911.6h0M259.2 919.2h0M254.3 907.1h0M246 920.9h0M245.6 909.4h0M245.4 912.6h0M249.3 902.9h0M244.8 909.8h0M243 920.8h0M254.9 908.5h0M263.8 925.6h0M251.5 927.8h0M253.7 915.2h0M259 908.3h0M249.7 914.2h0M255.4 917.5h0"/><path d="M263.7 904h0M243.8 913h0M243 917h0M255.6 918.6h0M259.6 905.3h0M250.9 915.9h0M240.8 916.8h0M239.6 921.5h0M294.2 918.4h0M259.7 922.4h0M249.3 919.2h0M285.6 910.1h0M246 930.3h0M250.8 919.9h0M245.7 917.6h0M247.6 914.3h0M264 925.7h0M252.5 916.8h0M243.5 919.2h0M246.9 917.5h0M251.9 915.6h0M247.2 908.2h0M255.9 913.1h0M257 926.2h0M256.3 917.7h0M247.1 912.8h0M252.5 911.4h0M287 910.1h0M242.6 914.2h0M246.6 915.5h0M246 923.7h0M261.3 918.4h0M248 925.2h0M245.7 907.8h0M238.8 915.4h0M260.1 905h0M252.6 904.4h0M245.4 917.4h0M292.8 902.5h0M248.6 916.5h0M276.5 910.2h0M271.1 923.6h0M244.8 922.3h0M260.4 906.9h0M274.1 921.2h0M252.9 916.1h0M255.3 919.1h0M252.6 913.3h0M238.7 922.1h0M240.9 921h0M242.8 916h0M260.5 906.8h0M266.3 901.3h0M259.6 921.9h0M241.1 917.1h0M250.1 908.5h0M268.9 910h0M262.7 931.8h0M249.5 910.3h0M250.2 918h0"/><path d="M247.2 923h0M245.2 928.1h0M260.7 918.1h0M262.3 919.2h0M242.3 910.4h0M260.1 918.9h0M240.5 916.1h0M243.3 910.8h0M239.4 910.7h0M243.3 922.6h0M252.2 922.1h0M246.3 930.1h0M238.3 914.6h0M255.7 904.7h0M241.4 926.3h0M264.1 920.1h0M274.7 927.7h0M262.4 912.1h0M241.6 914.3h0M251.4 924.6h0M242.7 912.4h0M257.7 916h0M248.6 916.3h0M246 921h0M253.7 922.2h0M252.4 912.1h0M245.9 921.3h0M246 915.3h0M247.6 915.9h0M252.7 917.3h0M275.9 922.8h0M249.3 916h0M253 919.2h0M295.3 910.6h0M245.4 909.2h0M252.9 910.4h0M259.1 918.1h0M247.3 917h0M260.8 917.5h0M269.1 908h0M242.1 912.8h0M252.1 916.8h0M243 920.1h0M274.1 920h0M284.3 914.3h0M239.9 913.2h0M275 906.5h0M241.8 914h0M246.4 922.6h0M244.1 915.4h0M241.2 913.8h0M255.6 918.1h0M253.4 931.8h0M282.6 913.2h0M250.7 911.2h0M249 907.4h0M238.4 906.8h0M249.6 918.6h0M277.7 918.7h0M244.5 913.3h0"/><path d="M251.4 918.6h0M265 920.1h0M262.9 911.8h0M240.4 917.8h0M242 920.7h0M241.6 909.1h0M257.7 915.6h0M266.9 917h0M240.8 907.6h0M242.6 928.6h0M277.4 923.7h0M292.6 931h0M275.2 906.7h0M264 916.1h0M255.3 923.1h0M242.8 914h0M244.8 927.2h0M249 910.7h0M244.3 916.4h0M251.1 914.5h0M248.5 907.7h0M244.2 915.3h0M318.8 916.5h0M250.4 910.7h0M243.4 914h0M246.6 921.5h0M241.4 920.8h0M253.4 919.1h0M250.1 920.4h0M238.4 922.7h0M244.1 915.7h0M250.2 912.7h0M258.1 917.2h0M250.8 917.4h0M257.7 912.8h0M244.3 917.8h0M248.2 918.2h0M263.4 923h0M253.4 911.3h0M248.6 923.2h0M271.4 915.3h0M275.6 907.2h0M255.1 922.8h0M248.5 919.3h0M240.3 917.2h0M243.8 910.8h0M257.2 921.5h0M256.8 910.6h0M266.2 909.9h0M259.1 916.1h0M276.6 923h0M240.3 916.7h0M269.7 917.3h0M246.2 911.8h0M249.4 921.5h0M238.9 914.8h0M252.2 919.9h0M251.6 932h0M245.4 917.7h0M247.8 911.1h0"/><path d="M254.3 908.5h0M252.1 911.2h0M245.4 911.4h0M264.8 918.2h0M252.6 923.9h0M261.9 916.6h0M249.4 914.9h0M255.5 920.1h0M264.1 911.3h0M281.3 914.8h0M243.3 921.1h0M250.5 923.1h0M256.4 914.4h0M255.7 914.4h0M245.2 914h0M249 918.1h0M254.1 925.1h0M263.4 916.9h0M263.7 909.4h0M255.2 922.6h0M241.1 921.9h0M286 925h0M247 920.9h0M248.5 914.6h0M247.6 911.1h0M244.6 919.4h0M261.6 914.8h0M255.3 917.2h0M272.3 925.1h0M254.7 906.4h0M255.7 906.8h0M249.5 908.7h0M256.8 912.5h0M269.5 915.8h0M238.8 918h0M239.5 912.6h0M252.5 922.8h0M246.6 914.9h0M265.1 921h0M261.8 926.3h0M251.3 922.6h0M240.7 915h0M258.5 916.1h0M239 918.9h0M250.6 921h0M248.6 910.3h0M244.9 910.9h0M259.2 913.1h0M248.4 922.2h0M243.6 917.6h0M272.3 915.9h0M256.5 908.3h0M263.1 908.1h0M240.1 918.2h0M246.1 910.9h0M273.1 922.8h0M270.7 910.9h0M240.2 917.3h0M240.7 920.1h0M258.7 919.7h0"/><path d="M241.5 916.4h0M258 929h0M267.7 916h0M245.4 918.7h0M251.8 914.7h0M286.8 924h0M258.2 923.6h0M254.9 923.3h0M245.9 918h0M274.5 922.9h0M257.5 910.7h0M241.5 914.7h0M267.3 920.7h0M258.7 903.7h0M259.1 907.2h0M240.3 919.9h0M244.9 917.5h0M272.3 914.8h0M265.9 915.2h0M255.2 925h0M265.1 919.4h0M268.5 914.2h0M268.9 907.1h0M247.1 917.2h0M248.9 910.4h0M260.2 915.4h0M256.4 912.2h0M260.5 924h0M257.7 912.4h0M260.6 916.3h0M245.8 923.8h0M239.6 905.7h0M279.3 912.9h0M248.4 908h0M249.4 925h0M248.6 918.8h0M254.7 916.1h0M262.5 917.6h0M272.5 921.7h0M268.9 920.3h0M246.4 917.3h0M281.7 923.4h0M255.5 918.9h0M248.6 927.1h0M247.2 911h0M240.5 915h0M247.1 920.7h0M244.2 920.9h0M276.5 913.3h0M257.4 924.4h0M256 922.1h0M253.6 926.3h0M246.3 915.3h0M285 925.6h0M255 916.3h0M260.1 919h0M253.8 921.1h0M244.1 914.6h0M251.2 915.1h0M246.8 925.9h0"/><path d="M251.2 911.5h0M279.8 920.7h0M255.9 924.5h0M254.1 925.2h0M238.9 915.9h0M243.2 911.7h0M257.5 923.2h0M247.6 913.8h0M249.1 916.7h0M276.8 911.8h0M250 909.1h0M262.4 913h0M264.7 915h0M253.7 906.7h0M246.3 923.9h0M251.6 915.2h0M242.8 924.7h0M272.1 924.1h0M261.5 913.2h0M270.2 916.4h0M253.1 914.1h0M250.1 916.4h0M239.3 917h0M266.1 919h0M252.5 918.9h0M266 917.6h0M244.5 913.4h0M243.4 908.7h0M262.6 917.9h0M250.7 915.5h0M276.3 921h0M251.5 913.2h0M252.3 918h0M261.8 910.8h0M252.3 918.7h0M255.2 915h0M243.8 918.7h0M251 930.6h0M266.6 921.7h0M261.7 915.9h0M240.6 918h0M251.9 916.8h0M272.9 916.4h0M274.4 917.1h0M243.1 916.7h0M242.9 916.6h0M246.8 921.8h0M267.9 922.8h0M264.6 927.2h0M240.5 918.9h0M240.3 918.7h0M239 928h0M244.6 909.4h0M258.6 917.9h0M254.2 919.3h0M307.3 922h0M241.2 913.5h0M264.4 914.3h0M248.9 909h0M253.7 913.7h0"/><path d="M259.3 905.6h0M254.1 920.9h0M258.3 915.5h0M244 911.5h0M240.5 923.3h0M247.6 916.5h0M256.9 911h0M262.2 919.3h0M246.1 914h0M244.3 906.9h0M258.1 917h0M252.4 924.8h0M251.9 907.2h0M268.3 913.8h0M243.7 920h0M270.9 918.4h0M262.3 921.9h0M259.5 915.1h0M242.4 922.9h0M241.8 916.6h0M259.1 916h0M242.7 918.5h0M258.4 914.9h0M276.9 914.4h0M280.5 913.4h0M268.6 911.4h0M251.9 912.6h0M258.2 908.9h0M255.2 919.6h0M243.5 918h0M250 906.1h0M247.7 914.2h0M244 916.7h0M240.1 911.7h0M245.1 918.6h0M281.1 912.5h0M272.1 916.6h0M253.9 911.3h0M239.7 917.4h0M247.5 917.2h0M290 933.2h0M240.5 924h0M256.9 917.4h0M246.6 916.8h0M252.3 916.9h0M251.7 917.9h0M271 902.7h0M254 916.2h0M250.7 919.8h0M256.1 916.6h0M299.6 907.1h0M256.4 907.9h0M243.9 907.5h0M270 926.6h0M251.3 920.3h0M252 923.6h0M266.2 914.6h0M248.9 912.6h0M243.4 908.7h0M261.4 918.6h0"/><path d="M242.7 909.5h0M249.4 912.2h0M254.1 922.8h0M257.7 924.8h0M255.9 915h0M256.3 921.3h0M260.6 917.3h0M247.9 918.9h0M270.6 908.2h0M252.4 918h0M259.7 917.9h0M244.2 918.4h0M255 918.6h0M239.9 917.1h0M258.5 919.6h0M243.6 912.7h0M253.7 918.4h0M250.7 911.8h0M255 917.1h0M242.7 914.4h0M255.8 912.6h0M245.8 913.6h0M254.9 913.4h0M247.9 920.6h0M244.8 912.9h0M260.2 918.7h0M257.9 919.5h0M249.8 928h0M251.8 921.7h0M253 911.5h0M271.6 909h0M263 917h0M249.6 919.1h0M265.1 912.6h0M253.6 921.8h0M256.7 905.9h0M250.6 905.8h0M250.1 912.6h0M247.1 919.7h0M255.8 921.6h0M258.6 917.1h0M263.7 925.2h0M245.7 919h0M241.6 915.9h0M247 924.3h0M255.5 918.5h0M265.7 911.8h0M242.1 918.2h0M246.3 911.2h0M255.8 922.7h0M251.3 915.4h0M249.2 907.4h0M246.6 923.1h0M258.1 918.9h0M253.2 913.9h0M240.5 917.4h0M263.8 920.7h0M240.4 916.5h0M272.3 918.2h0M252.1 922.4h0"/><path d="M267.7 914.1h0M250.9 916.6h0M254.9 926.6h0M255.1 915h0M243 913.3h0M246.2 917.1h0M244 921.5h0M250 912.5h0M260.9 915.4h0M238.4 913.8h0M306.1 931h0M254.7 923.5h0M242.4 918.3h0M254.4 923h0M252.2 909.3h0M250.3 912.7h0M255.4 918.3h0M259 924.2h0M243.9 909.3h0M252.1 918.4h0M259 915h0M247.9 915.1h0M247.5 917.2h0M247.5 911h0M263.5 925.2h0M265.4 913.3h0M258.5 918.6h0M247.9 910.9h0M239.7 913.3h0M263.3 906.2h0M282.2 926.8h0M246 930h0M247 917.1h0M267.6 919h0M247.1 927h0M255 913.2h0M240.8 918h0M243.9 913.2h0M252.2 921.2h0M246.4 918.9h0M253.4 922.6h0M267.6 923.1h0M285 909.4h0M248.7 913.6h0M251 917.9h0M291 921.2h0M255.2 916.2h0M244.8 919.9h0M257.8 921.3h0M252.4 914.5h0M241.8 916.9h0M250.4 914.6h0M252.5 910.5h0M274.7 923.7h0M250.7 926.6h0M245.8 915.9h0M240 925h0M249.2 925.3h0M290.3 912.7h0M270.1 914.9h0"/><path d="M264.1 913.7h0M249.4 921.9h0M264.4 924.9h0M239.3 914.5h0M257.9 908.3h0M246.8 917.2h0M247 923.4h0M238.3 918.7h0M256.8 917h0M273.9 906.4h0M267.8 920.8h0M243.7 915.3h0M257.8 917.1h0M249.2 917.5h0M246.9 914.6h0M273.2 910.9h0M263.3 917.6h0M257.9 920h0M243.9 925.3h0M259.1 915.3h0M257 911.1h0M247.4 926.4h0M238.2 921.8h0M245.9 913.1h0M243.3 915.6h0M248.6 917.3h0M270.5 926h0M250.5 916.9h0M250.5 924.5h0M267.8 918.5h0M249.3 913.1h0M245.9 917.9h0M240.3 908.9h0M250.9 913.6h0M268.4 920.7h0M240.7 913h0M256.4 915.1h0M254.8 910h0M249.5 917h0M270.1 906.3h0M251.8 915h0M249.6 920.8h0M259.8 913.8h0M270.2 922.6h0M266.3 919.4h0M250.7 920.2h0M256.1 912.9h0M259.2 916.5h0M244.8 911.7h0M245 913.2h0M253.8 914.2h0M250.6 919.7h0M258.2 925.7h0M249.1 909.9h0M275.6 926.7h0M253 904.4h0M249.7 906h0M254.7 926.3h0M246.2 923h0M255.6 918h0"/><path d="M248.4 918h0M241.1 917h0M242.7 906.2h0M245.5 920.3h0M260.3 914.1h0M262.2 904.4h0M255.2 919.6h0M258.3 921h0M248.2 923.7h0M262 923h0M246.4 915.5h0M240.2 920.1h0M246.1 916.7h0M258.1 917.8h0M244.9 926.1h0M240.5 915.3h0M246.8 904.2h0M259.5 914.3h0M248.8 908.9h0M253.6 911.3h0M239.7 923.6h0M244.8 919h0M265.2 912.2h0M252.8 916h0M254.9 922.4h0M243.3 917.8h0M247 925.5h0M249.4 911.6h0M256.4 918.3h0M250.7 917.5h0M258 911.9h0M245 918.5h0M250.4 920.5h0M264.3 923.9h0M247.7 906.6h0M244.2 917.5h0M284.7 921.3h0M258.5 923.7h0M267.9 919.3h0M254.9 917.1h0M267.4 912.7h0M255.6 924.9h0M255.4 916.4h0M264.2 926h0M257.7 917.5h0M262 918.7h0M255.3 912.4h0M266.2 908.9h0M241.1 918.2h0M245.7 915.9h0M246.8 923.6h0M247.3 909.8h0M245.8 910.2h0M242.6 921.9h0M240 912.5h0M241.5 911.4h0M250 905.7h0M241.8 912.2h0M258 919.9h0M244.9 921.1h0"/><path d="M266.9 905.1h0M270 918.6h0M270.3 910.5h0M255.1 912.5h0M267.2 920.1h0M242.2 915.6h0M260 918h0M245.9 919.5h0M258.3 919.8h0M249.6 918.1h0M270.7 921.8h0M293.2 912.6h0M243.6 911.9h0M241.5 912.3h0M260.4 916.5h0M263 911.7h0M247.4 917.5h0M262.8 915.5h0M269.2 925.8h0M245.4 911.6h0M251.9 922.9h0M244 920h0M255.2 929.1h0M244 913.4h0M252.8 919.5h0M260.2 913.4h0M245.3 914.7h0M243.2 918h0M241.3 921h0M250.7 924.3h0M245.5 914.9h0M267.3 912.4h0M241.2 917.2h0M245.4 922.2h0M266.5 920.4h0M257.9 920.5h0M249.4 921.6h0M248.7 916.9h0M237.9 919.5h0M252.1 927.6h0M284.9 920.8h0M243.9 913.7h0M259 914.7h0M258.1 915.5h0M281.2 918.9h0M271.3 920.8h0M250.6 908.8h0M246.6 913h0M272.5 914.3h0M244.4 911.7h0M266.1 904.6h0M269.9 909h0M282 923.9h0M245.4 910.1h0M253.3 925.2h0M246.6 916.8h0M241.9 917.3h0M277.5 929h0M243.7 926.2h0M245.1 910.8h0"/><path d="M244.5 921.7h0M244.6 919.7h0M273.7 912.1h0M269.9 914.6h0M261.9 911.2h0M244 924.8h0M242.9 929.4h0M245.7 909.4h0M242.4 912.8h0M258.8 915.7h0M270.5 910.7h0M252.8 922.4h0M241.4 917.8h0M242.5 915.4h0M273.1 905.9h0M269.2 906.7h0M246.7 916.7h0M249.2 906.5h0M244.7 920.6h0M263 913.8h0M240.6 921.5h0M245.3 918.2h0M252.2 919.8h0M245 918.6h0M243.2 913.4h0M246.7 913.5h0M242.3 914.8h0M240.4 917.2h0M256.3 921h0M246.5 915.5h0M261.9 924.5h0M248.2 914.4h0M255.1 910.3h0M243.5 913h0M255.7 913.1h0M240.7 923.4h0M261.3 921.6h0M267.1 919.2h0M258.4 916.2h0M258.2 918.3h0M267.1 909.2h0M249.4 929.4h0M251.5 919.7h0M252.5 922.3h0M245.4 922.6h0M248.4 916.5h0M248 916h0M259.1 911.3h0M240.3 916.3h0M241.9 915.8h0M260.7 906h0M246.6 917.9h0M271.2 909.1h0M245.8 915.6h0M249.7 928.5h0M302.8 930.3h0M259.5 908.2h0M258.8 917.7h0M246.2 918.4h0M240.5 924.1h0"/><path d="M246.6 926.8h0M246.6 916.8h0M246.2 914h0M260.6 918.9h0M248.6 919.2h0M245 907.6h0M255.2 918.3h0M268.4 914.2h0M256.6 925.9h0M249.6 919.9h0M245.1 917.9h0M255.8 921.3h0M248.5 915.8h0M244.2 917.4h0M253.4 918.5h0M265.4 905.8h0M259.4 921.7h0M251.8 922h0M241.4 920.2h0M253.1 922.6h0M253.5 910.4h0M268 918h0M257.2 915.6h0M253.4 915.4h0M258.1 909.8h0M256.5 911.5h0M263 915.9h0M278.6 909.4h0M254.2 914.6h0M238.8 911.1h0M247.6 918.9h0M245.2 926.7h0M262.6 918.9h0M252.8 916h0M250.1 909.2h0M248.9 912.8h0M252 920h0M252 917.3h0M264.6 915h0M245.4 907.1h0M252.9 910.4h0M275.9 918.9h0M245.7 911.4h0M240.1 920.2h0M248 916.9h0M281.9 909.6h0M250.4 926h0M324.4 893.3h0M239.2 914.3h0M250.5 908.5h0M250.6 914.5h0M251.6 919.2h0M246.1 923.1h0M242.8 918.4h0M269.9 915h0M250.7 917.6h0M270.2 908.6h0M241.6 915.8h0M268.7 921.2h0M250.9 917.9h0"/><path d="M250.4 920h0M250.5 914.1h0M257.8 919.8h0M258.9 915.6h0M249 911.6h0M246 908.5h0M243.6 904.9h0M248.2 911.7h0M244.2 913.9h0M253.5 917.2h0M256.4 911.9h0M257.2 909.6h0M250.8 918.2h0M238.3 918.6h0M265.5 919.5h0M270.4 918.9h0M278.7 912.4h0M248.4 918.7h0M244 918.9h0M273.2 922.6h0M269.6 914.9h0M256.4 910.6h0M262.1 922.6h0M249.9 921.5h0M252.2 915.5h0M272.5 902.4h0M263.6 911.3h0M250.9 921.7h0M246 912.9h0M260.9 913.2h0M240.9 921.5h0M273.9 917.1h0M249.7 916.5h0M255.3 912.5h0M253.5 918.1h0M247.7 917.3h0M248 919.8h0M255.1 906.6h0M269.5 924h0M256.6 926.8h0M248.7 919.2h0M251.1 914.5h0M253.3 923h0M242.7 922.7h0M255.7 912.6h0M268.7 916.2h0M243.9 917.6h0M281.9 910.4h0M265.5 915.8h0M245.2 921.1h0M244.4 926.7h0M248.1 907.3h0M258.1 920.1h0M257 908.4h0M251.6 913.4h0M258.5 920.2h0M267.8 910.2h0M266.1 918.7h0M255.6 914.1h0M243.2 920h0"/><path d="M239.9 910.1h0M287.3 930.9h0M240.2 912.1h0M249.7 913.1h0M250.6 910.1h0M278.1 925.3h0M272.4 919.2h0M242.4 916.9h0M261.9 925.3h0M240.3 911h0M256.1 911.6h0M248.3 918.1h0M240 912.8h0M257.7 914.9h0M250.5 915.6h0M250.9 915.1h0M242.6 917.9h0M249 910.8h0M250.8 922.1h0M252.8 916.7h0M248.5 912.9h0M262.2 913.4h0M241.3 917.9h0M275.8 915.8h0M266.3 919.7h0M247.5 923.9h0M262.9 916.5h0M250.1 908.3h0M266.8 918.5h0M242.3 917.2h0M253.7 917.3h0M246.4 915.7h0M245.9 908.4h0M279.8 914.8h0M252.8 917.5h0M238.7 915.8h0M243.9 924.2h0M247.1 925.2h0M250.4 906.4h0M249.7 926.8h0M254.9 910.1h0M248.3 914.2h0M263.4 933h0M246.3 924.6h0M247.2 921.4h0M255.9 910.8h0M252.2 917.2h0M252 919.4h0M243 912.1h0M247.2 918.6h0M240.8 910.2h0M255.6 924.4h0M256.4 916.3h0M253.1 912.1h0M253.9 924.2h0M257.6 921.4h0M245.7 924h0M243.4 909.9h0M244 913.6h0M247.1 916.1h0"/><path d="M247.6 908.2h0M254.2 917.2h0M255 916.9h0M247.6 915.4h0M276.6 915.9h0M249 908.7h0M256.9 919.9h0M242.3 923.3h0M266.3 908.5h0M249.9 910.4h0M248.4 916.6h0M240.9 911h0M249.8 911.9h0M253 914.4h0M242.3 909.9h0M242.8 908.4h0M244.4 921.2h0M241.2 911.5h0M254.2 921.1h0M258.7 911.8h0M267 920.6h0M259.8 913.7h0M246.4 908.8h0M257.4 919.1h0M265.5 915.5h0M253.2 912.6h0M257.2 928.6h0M243.5 925h0M243.1 910.8h0M252.9 915.8h0M242.7 914.5h0M250.3 911.9h0M264.4 919.3h0M248.8 920.5h0M244.7 921.8h0M277.7 908.6h0M275.5 920h0M248 922.8h0M285.1 901.9h0M246.4 914.6h0M287.2 910.6h0M244.8 919.9h0M260 908h0M268.1 915.9h0M269.9 915.1h0M254.4 912.1h0M256 916.2h0M240.8 908.8h0M271.1 909h0M257.2 911h0M243.5 920.2h0M248.8 923.5h0M253.7 915.1h0M249.5 914.1h0M254.9 907.5h0M245.2 909.2h0M240.5 917.1h0M245.3 921.7h0M241.5 914.3h0M263.7 912h0"/><path d="M241.6 913.5h0M245.9 919.4h0M289 925.4h0M265.9 916.2h0M243.6 914.6h0M248.9 917.6h0M250.4 913.3h0M251.6 916h0M266.7 923.2h0M274.2 919.4h0M244.9 908.7h0M259.4 927.7h0M243.6 930.5h0M252.4 908.6h0M243.6 914.2h0M259.3 920h0M275.7 924.6h0M243.5 907.4h0M249.2 925.1h0M264.4 923.8h0M250.7 920.1h0M286.7 915.9h0M241.4 907.4h0M242.9 917.3h0M260.6 911.9h0M251.8 918.5h0M260 914h0M244.6 910.4h0M263.5 928.8h0M250.4 930.1h0M248.5 908.7h0M242.8 917.8h0M241.4 911.4h0M249.3 920.4h0M246.6 911.9h0M246.7 918.9h0M249.9 913.6h0M245.4 919.8h0M247.6 907.2h0M251.8 918.9h0M256.4 917.8h0M240 918.5h0M243.7 917.4h0M255 924.2h0M249.6 923.2h0M239.2 913.6h0M247.5 916.7h0M245 912.5h0M254.3 913.7h0M245.3 925.3h0M264.3 910.6h0M243 920.8h0M254.4 925.4h0M259.1 920.6h0M245.3 922.1h0M265.9 910.2h0M255.7 914.3h0M267.6 911.4h0M249.4 924h0M258.1 915.9h0"/><path d="M240.8 912.8h0M261.5 916.1h0M241.9 922h0M250.7 909.7h0M239.9 920.3h0M255.7 917.3h0M244.7 915.7h0M246.3 918.4h0M248.8 913h0M268.1 910.3h0M251.2 908.9h0M239.2 918.2h0M247.4 909h0M240.5 913.7h0M246.3 912.4h0M278.8 922.7h0M241.2 903.9h0M248.9 914.5h0M245.2 916.4h0M249 917.6h0M248.6 916.2h0M251.5 921.2h0M242.8 915.8h0M240.7 914.3h0M255.8 917.7h0M249.5 918.2h0M254.9 917.8h0M242.2 918.4h0M246.3 922.2h0M249.2 923.8h0M248.3 910.9h0M245.7 912.4h0M253.3 927.8h0M270.9 914.1h0M254.5 905h0M251.4 915.7h0M256.2 918.7h0M238.2 921.9h0M249.4 918.6h0M259.1 919.9h0M239.6 917.6h0M244.1 921.9h0M243.3 908.8h0M252.7 916.8h0M252.6 918.2h0M246.1 917.6h0M242.2 922.2h0M250.9 910h0M257.7 923.6h0M250 920.8h0M251.4 910.5h0M243.3 915.7h0M252.2 916.2h0M246.2 905.6h0M248.2 916.6h0M244.4 913.6h0M273 912.7h0M284.7 903h0M242.2 917.9h0M255.8 924h0"/><path d="M240.3 922.8h0M244.7 922.5h0M242.9 918.6h0M256.8 921.6h0M244.6 909.7h0M260.8 913.6h0M246.5 915.6h0M242.3 916.7h0M260.4 913.4h0M273.2 915.8h0M240.3 920.5h0M255.3 909.3h0M254.9 919.7h0M262.5 916.1h0M269.1 919h0M254.8 917.5h0M240.5 918h0M242.9 914.9h0M248.5 921.6h0M250.6 922.1h0M257.4 920.3h0M249.9 912.4h0M246.6 915.3h0M254.9 917.7h0M282.9 929.9h0M254.6 920.5h0M250.9 919.3h0M286.6 924.7h0M278.8 908h0M290.4 920.9h0M246.3 901.9h0M270.4 913.3h0M251.7 917.3h0M246.6 909.1h0M269.1 902h0M253.1 908.8h0M248.8 918.5h0M246.1 918.2h0M253 918.2h0M267.8 915.2h0M258.1 922.1h0M239.7 918.9h0M264.7 912.9h0M269 916.2h0M247.9 926.3h0M248.1 913.7h0M262.6 909.4h0M244.5 909.7h0M239.3 907.1h0M246.2 909.7h0M248.4 923h0M244.5 919.4h0M242.3 918.8h0M255.5 920.7h0M242.1 913.1h0M278.6 913.6h0M248.3 916.8h0M272.3 925.3h0M268.6 913.4h0M257.4 908.8h0"/><path d="M271.4 910.7h0M255 924.3h0M245.9 915.9h0M246.9 910h0M304.4 918.6h0M255.9 920.4h0M281.3 910.9h0M246.8 913.1h0M251.1 911.1h0M258.2 907.1h0M264.1 913.9h0M247.8 919.9h0M258 919.6h0M248.6 915.9h0M246.9 909.2h0M262.9 917h0M244.2 921.2h0M261.7 922.5h0M258.5 913.1h0M262.3 911h0M249 921.3h0M250.7 917h0M274.7 925.6h0M254.8 921.3h0M250.7 922.3h0M244.6 916.6h0M261.5 909.5h0M241.5 918.5h0M252.2 915.1h0M250.6 919.7h0M241.3 915.6h0M241.3 919.4h0M239.3 913.7h0M241.5 916.9h0M244.2 921.4h0M253.8 924.2h0M245.7 910.3h0M243.2 918h0M239.6 917.7h0M266.6 917.8h0M244.2 916.5h0M257.9 917.5h0M265.8 914h0M242.3 919h0M249.3 924h0M249.4 908.2h0M246.4 923.7h0M251.2 909.8h0M250.3 914.6h0M251.2 911.8h0M262.4 920.3h0M239.3 915.4h0M257.5 919.6h0M249.5 906.5h0M255.5 916.3h0M271.3 921.8h0M251.2 916.4h0M265.9 910.4h0M243.6 916.9h0M241.2 924.1h0"/><path d="M242.4 921.1h0M246.7 922.7h0M254.3 911.7h0M238.7 916.4h0M246.1 913.7h0M250.8 915.6h0M260.1 911.1h0M242.2 913.2h0M250.8 923.4h0M251.4 910.1h0M280.1 921.1h0M253.7 915.7h0M245 913.6h0M243.5 920h0M242.9 917.4h0M241.5 922.9h0M263.6 928.7h0M243.6 919.8h0M244.4 914.8h0M243.9 913.6h0M243.9 908.5h0M251.7 916.9h0M246.9 913.5h0M239 926.6h0M279.8 912.8h0M267.8 912.7h0M269.1 910.6h0M268.7 915.9h0M240.9 913.8h0M242.7 908h0M263.7 923h0M253.6 919.1h0M264.4 926.3h0M247.5 920h0M244.4 916.6h0M244.8 921.2h0M257.4 916.3h0M264.2 923.3h0M241.6 916.6h0M243.2 917.9h0M251.8 907.1h0M255.3 914.3h0M258.8 918.5h0M253.3 917.3h0M278.5 916.1h0M238.8 921.9h0M268.2 923.9h0M262 909.3h0M247.4 916.9h0M264.9 919.4h0M269.8 929.6h0M257.8 918.3h0M250.8 914.2h0M267.3 916h0M244.8 922.6h0M262.8 902.4h0M242.3 921.3h0M262.6 923.4h0M262.5 915.5h0M249.5 922.4h0"/><path d="M249.9 912.8h0M277.9 909.4h0M255.2 907.8h0M242.4 915.6h0M270.2 919.1h0M240 917.2h0M271.6 907.9h0M251.8 916.8h0M247.8 919.4h0M237.9 918.5h0M247.6 923.8h0M280.1 909.4h0M271.7 918.8h0M242.4 915.7h0M266.1 917h0M254 913.4h0M243.5 916.7h0M274.3 907.7h0M264.4 912.9h0M243.1 921.1h0M247.6 913.5h0M258.9 914.7h0M242.4 918.2h0M241.7 919h0M247.7 922.7h0M246.1 912.5h0M249.8 915.2h0M249 909.9h0M244.5 918.7h0M254.4 916.9h0M258 917.5h0M267.5 910h0M255.1 920.2h0M246.9 910.5h0M242.6 910.4h0M264.2 913.3h0M246.7 912h0M241.4 919.1h0M253.1 917h0M276.2 911.5h0M251.6 921.6h0M263 920.2h0M283.9 914.6h0M256.6 912h0M266.3 910h0M257.3 917.8h0M243.9 916.1h0M239.1 917.7h0M247.9 918.1h0M257.1 917.9h0M244.9 913h0M246.3 918h0M260.8 916h0M260 903.9h0M272.1 913.1h0M260.2 922.6h0M251.9 918.2h0M251.1 914h0M278.3 912.8h0M255.9 918.4h0"/><path d="M254.5 914.2h0M285.9 905.5h0M251 909.3h0M252.5 928.7h0M250.6 914.7h0M246.1 916.5h0M245.3 917.2h0M249.2 918h0M255.9 920.1h0M278 916.8h0M255.7 914.1h0M244.5 915.3h0M243.6 916h0M239.4 923.9h0M258.9 925.9h0M247.7 920h0M262.1 926.2h0M250.8 913.7h0M250.2 912.3h0M259.6 903.7h0M283.3 922.1h0M251.5 918.6h0M251 909.9h0M251.8 919.2h0M249.8 914.8h0M261.1 917.6h0M248.2 921.4h0M288.7 920.8h0M280.8 915.9h0M254.1 914.1h0M244.1 921.2h0M264.5 909.8h0M262.1 918.2h0M246.6 920.9h0M263 924.4h0M242.4 909.2h0M247.1 919h0M241.8 915.2h0M281.9 914.9h0M249.3 921h0M240.6 917.5h0M241.5 904h0M264.5 920.5h0M249.4 910.9h0M252.8 919.3h0M267.1 912.9h0M241.2 913h0M252.3 916.4h0M240.1 918.9h0M269.6 910.5h0M245.2 922.4h0M250.2 913.4h0M245.4 918.4h0M241.2 924.6h0M282.3 913.8h0M258.8 917.8h0M242.6 919.6h0M274.4 921.8h0M249.6 921.5h0M245.5 917.1h0"/><path d="M246 916.8h0M254.2 917.6h0M243.9 914.2h0M245 907.8h0M267.5 918.4h0M238.8 916.6h0M261.3 931.5h0M261.9 913.8h0M265.9 909.3h0M241.9 913.5h0M247 913.8h0M264.4 919.4h0M244.6 914.1h0M242.3 919.1h0M241.7 913.7h0M262.5 913.5h0M250.3 917.2h0M251.8 916.9h0M253.9 909h0M260.5 919h0M243.5 915.4h0M280.9 929.2h0M264.6 915.2h0M258.5 918.1h0M247.4 911.7h0M241.5 918.9h0M242.8 913.8h0M279.4 917.5h0M238.4 920.3h0M267 908.4h0M252 905.5h0M245.2 915.1h0M265.7 917h0M242.3 918.9h0M254.8 923.1h0M255 914h0M245.4 914.7h0M270.5 910.1h0M243.7 918.5h0M267.7 923h0M247.1 916h0M262.1 921.5h0M249.7 913.7h0M238.4 914.3h0M250.6 923.1h0M254.7 923h0M320.4 917.2h0M259.8 910.6h0M245.5 917.5h0M248.5 910.4h0M281.1 919.8h0M246.8 914.4h0M244.3 911.8h0M254.9 915.8h0M241.1 927.8h0M257.8 919.1h0M260.5 919.4h0M240.1 910.9h0M249 919.6h0M261.9 907.4h0"/><path d="M269.7 912.7h0M280.2 917.8h0M248.1 927.1h0M256.6 912.4h0M244.9 918.9h0M253.4 914.9h0M249 906.7h0M249.7 919.5h0M260.3 929.9h0M294.7 922h0M250.6 912.2h0M252.1 915.8h0M241.8 918.8h0M246.1 911.4h0M248 917.3h0M270.7 912.5h0M244.5 916.4h0M249.9 914.2h0M251.6 916.7h0M252.7 918.3h0M252.7 912.6h0M259.3 925h0M248.7 911.1h0M279.5 919.7h0M271.2 928.6h0M250.1 924h0M275.3 915.4h0M265.6 919.5h0M262.3 911.4h0M286.4 919.2h0M264.4 910.8h0M251.6 922.6h0M244 918.2h0M248.8 913.2h0M250.4 920.5h0M266.4 913.1h0M249.8 917.7h0M255.1 912.1h0M241.6 913.7h0M249.4 921h0M256.3 926.9h0M245.3 924.8h0M268.4 923.1h0M254.4 917.6h0M250.3 921h0M257.7 916h0M272.4 916.1h0M247.9 915.4h0M239.7 920.9h0M248.7 918.1h0M244.4 910h0M254.1 918.2h0M272 924.4h0M249.2 919.3h0M259 913.1h0M276.5 916.8h0M248.5 916.6h0M245 921h0M244.1 919.4h0M239.9 915.3h0"/><path d="M238 920.6h0M258.2 906.4h0M240 907.9h0M245.5 920.2h0M256.9 906h0M252.9 924.5h0M262.1 918.1h0M300.1 917.6h0M252.9 923h0M245.9 926.4h0M253.2 917h0M275.4 919.4h0M264 911h0M249.5 910.2h0M259.2 909.4h0M249.2 923.4h0M239 914.7h0M241.2 923.9h0M250.2 910.7h0M256.3 911.7h0M276.5 917.6h0M268.3 922.6h0M265.5 911.2h0M242.8 914.1h0M242.1 913h0M278.1 928.4h0M248.1 918.5h0M262.9 919.1h0M249.4 912.8h0M278.2 915.4h0M272.3 911.5h0M239.9 926.9h0M248.2 915.6h0M243 906.4h0M243.1 910.4h0M249.2 904.6h0M276 907.5h0M245 907.3h0M255.8 922.3h0M240.4 914.8h0M243.3 910.2h0M265.2 928.2h0M294.1 912.5h0M254 925.5h0M241.3 915.1h0M252.8 916.5h0M245.8 919.3h0M245.7 924.3h0M260.3 916.3h0M267.3 926h0M243.7 912.3h0M244.2 927.2h0M257.9 918.6h0M250.2 917.1h0M240.8 915.6h0M257.7 918h0M256 919.7h0M252.6 917.6h0M245 909.6h0M248.2 926.4h0"/><path d="M269 912.6h0M307.5 909.3h0M256 911h0M253.3 920.2h0M246.9 912.4h0M253.3 914.9h0M255.8 925h0M241.7 920.6h0M262.3 916.3h0M273.2 909.9h0M251 916h0M243.6 918.9h0M250.8 911.2h0M253.9 912.5h0M260.6 919.8h0M254.4 914.8h0M257.4 924.4h0M248.6 909.6h0M241.3 913.9h0M253.1 912.1h0M251.4 918h0M260.5 912.5h0M253.9 921.5h0M253.4 926.4h0M256.3 916.2h0M260.4 918.9h0M253.7 913.5h0M246.1 922h0M268.9 911.3h0M258.8 915.7h0M249 918.8h0M248.2 911.4h0M256.9 920.4h0M244.8 915.5h0M260 918.3h0M259.5 914.4h0M265.9 909.1h0M246.1 919.8h0M276.4 917.7h0M247.4 917.3h0M239.3 914.8h0M240.7 919h0M256 914.1h0M249.1 917.4h0M246.4 924.5h0M256.7 914.4h0M252.2 918.8h0M263.6 914h0M259.4 918.2h0M246.5 915.4h0M253.4 920.6h0M258.8 913.1h0M241.5 914.8h0M254.4 925.1h0M252.6 917.4h0M254.1 926h0M298.2 915.1h0M250.9 910.9h0M262.5 916.2h0M267.2 918.9h0"/><path d="M248.5 915.4h0M253.1 909.1h0M251.4 907.6h0M249.8 925.6h0M265.2 911.6h0M250.6 918.9h0M245.1 921.1h0M255.6 921.2h0M245.7 900.8h0M240.2 909h0M257.2 908.9h0M252.2 919.4h0M242.1 913.9h0M260.2 908.9h0M248 919.2h0M242.3 919.9h0M256.4 916.4h0M264.5 908.1h0M259.5 918h0M284.9 909.9h0M250.8 915.4h0M259.6 917.7h0M279.7 917.5h0M263.5 914.9h0M281 915.6h0M250 919.6h0M251.2 916.9h0M239.8 904.6h0M271.7 911.2h0M267.1 916.2h0M262.7 922.2h0M248.1 913.7h0M249.5 913.2h0M262.1 918.8h0M276.3 909.2h0M249.4 919.5h0M245.9 913.1h0M257.3 917.3h0M240.4 917.9h0M251.5 918.4h0M245.9 921.8h0M270.4 914.9h0M270.7 911.5h0M243.6 916.4h0M262.6 928.7h0M267.7 922.9h0M242.3 911.7h0M259 909.4h0M243.1 915.5h0M275.4 907h0M242.9 910.1h0M249.8 922.1h0M247.7 921.7h0M243.9 921h0M257.6 925.5h0M275 903.4h0M262.8 917.3h0M242.2 913.4h0M259.2 922.2h0M258.1 910.9h0"/><path d="M257.5 918.8h0M251.8 921h0M249.8 921.6h0M244.3 924.3h0M246 924h0M255.4 917.2h0M267.3 907.2h0M244.9 918.6h0M272.7 926h0M244.1 922.3h0M276.2 903.5h0M253.4 911.5h0M240 919.5h0M260.5 919.7h0M271.6 917.2h0M247.8 917.2h0M242.1 912.7h0M248.2 919.1h0M244.1 925.2h0M261.8 917h0M239.1 908.7h0M243.9 913.2h0M251.7 919.3h0M289.4 920.5h0M266.9 912h0M254 911.9h0M268.1 917.6h0M276.6 918.4h0M241.7 917.3h0M265.6 916.5h0M260.1 916.4h0M291.6 911.4h0M267 905h0M249.9 910.1h0M245 914.6h0M254.1 920.6h0M252 911.8h0M262.2 928.4h0M241.6 915.8h0M245.5 912.6h0M288.5 921.9h0M249.3 922.7h0M244.4 923.8h0M254.1 921.2h0M249 919.4h0M256.1 914.7h0M272.1 917.7h0M243.7 918.1h0M253.7 912.8h0M256 919h0M251.7 906.9h0M244.5 913.2h0M244.8 914.3h0M262.4 916.9h0M253.9 919h0M255.5 918.6h0M246.4 918h0M257.6 908.4h0M252.1 928h0M244.5 914.1h0"/><path d="M253.8 923.1h0M245.9 917.8h0M277.2 917.5h0M262.5 915h0M243.3 916.2h0M256.5 907.7h0M248.3 914.6h0M243.1 927.1h0M239.1 919.7h0M247.2 913.5h0M248.5 914.4h0M241.3 914.2h0M256.3 915.5h0M262.8 924.1h0M240.1 918.8h0M247.9 913.7h0M252.7 904.9h0M257 925.7h0M269.4 923.4h0M268.7 916.2h0M279.8 918.9h0M242.6 914.6h0M251 913h0M257.3 930.1h0M277.3 901h0M244.6 915h0M264.1 919h0M239.2 919h0M281.7 916.8h0M283.5 914.8h0M258.8 918.3h0M240.8 911.3h0M247.8 910.9h0M260.3 919.9h0M238.9 912.9h0M248.6 920.1h0M252.1 922.5h0M240.3 923.2h0M242.5 922.1h0M250.5 911.2h0M244 916.8h0M248.5 916.4h0M252.1 922.1h0M246.7 915.1h0M289.4 926.2h0M245.7 917.3h0M245.4 923.2h0M242.7 917.1h0M273.6 917.3h0M281.6 909.3h0M253.6 914.5h0M259 925.5h0M253.2 924.7h0M246.8 904.8h0M244.6 928.2h0M259.5 926.4h0M241.5 913.1h0M279.1 921.5h0M255.7 921.7h0M242.7 904.4h0"/><path d="M264.1 915.6h0M245.8 917.2h0M266.9 915.3h0M280.8 907.2h0M240.9 915.9h0M243.1 919.2h0M247.3 918.6h0M259.2 910.3h0M253.1 929h0M244.8 911.2h0M244.3 913.4h0M241.9 919h0M259.8 913.6h0M249.3 913.5h0M257.6 913.5h0M242.9 915.9h0M243.7 928.2h0M251 914.9h0M248.1 913.7h0M247.2 910.6h0M276.7 917.9h0M243.6 919.3h0M262.4 911.5h0M249.1 914.1h0M251.8 918.5h0M246.6 913.5h0M249.1 912.3h0M253.6 920.3h0M268.1 924.3h0M254.1 914.6h0M238.9 907.1h0M247 918.7h0M269 906.9h0M248.5 926h0M275.6 918.2h0M239.4 919.4h0M277.2 918.3h0M240.5 921.2h0M248.2 920.1h0M274.3 919.2h0M249.3 917.6h0M259 907.7h0M271.4 920.6h0M245.3 915h0M254.2 917.9h0M243.6 921.1h0M258.2 911.7h0M257.5 912h0M273 921.6h0M254.9 912.5h0M250.6 913.8h0M243.9 914.2h0M257.9 919.9h0M242.4 915h0M271.2 917.6h0M253.5 923.7h0M271.6 919.8h0M253.1 919h0M260.3 916.1h0M250.9 914.3h0"/><path d="M244.4 909.1h0M252.8 915.3h0M249.2 922h0M267.1 927.6h0M251.2 913.4h0M238.7 916.5h0M244.5 918.9h0M280.5 918.4h0M265.2 914h0M277.8 900.7h0M257.4 913.8h0M246.8 913h0M263 914.4h0M267.4 915.3h0M250.2 912.6h0M252.4 917.5h0M266.8 912.3h0M249.6 909h0M258.4 918.4h0M257.6 915.9h0"/></g>
<ellipse cx="247" cy="916.5" rx="11" ry="7.5" fill="url(#gE2)" fill-opacity="0.8"/>
<g stroke="#000" stroke-opacity="0.22" stroke-width="0.55" stroke-linecap="square" fill="none"><path d="M269.7 910.5h0M254.5 913h0M255.5 931h0M255.2 913.1h0M283.9 925.7h0M259.7 906.9h0M256.1 913.3h0M266.3 913.8h0M298.2 913.5h0M257.5 918.1h0M259.1 919h0M257.3 915.3h0M254 907.6h0M273.5 917.5h0M264.4 916.1h0M265.4 920.6h0M265.2 910.4h0M260.4 924.6h0M261.7 918.4h0M262.1 908.4h0M288.3 921.6h0M272.6 909.9h0M275 911.7h0M260.5 914.4h0M259.2 918.2h0M278.3 931.3h0M254.3 914.8h0M257.3 919.8h0M261.9 919.3h0M268.8 914.7h0M254.5 906.5h0M281.1 916.6h0M273.5 903.1h0M262.5 918.8h0M265 906.9h0M267.6 918.3h0M265.2 923.1h0M268.4 911.6h0M276.1 920.2h0M253.2 923.9h0M268.5 909.4h0M252.7 902.7h0M262 912.3h0M253.1 918.1h0M254.1 909.7h0M259.2 916.3h0M260.7 917.8h0M258.6 921h0M258.1 923.9h0M259.1 918.9h0M273.4 910.9h0M290.5 914.4h0M275.2 905.9h0M278.8 920.7h0M287.7 929.8h0M255.9 907.6h0M279.8 919.8h0M288.8 921.1h0M257.6 935.9h0M257.3 929.7h0"/><path d="M258.1 913.9h0M301.6 923h0M275.9 921.5h0M287.2 905.1h0M271.6 917.5h0M259.2 914.8h0M277.4 927.3h0M302.8 915h0M258 919.6h0M264.4 926.1h0M281.8 923.1h0M258.7 908.4h0M276.3 916.4h0M272 918.9h0M269.5 920h0M270.8 914.9h0M258.3 922.8h0M255.1 911.8h0M256.2 913.8h0M262.7 926.1h0M264.3 914.7h0M260.7 907.5h0M276.2 925.8h0M268.2 908.1h0M257.2 912h0M259.3 918.2h0M269.5 921.8h0M263.4 921.6h0M266.2 923.1h0M261.4 921.7h0M266.6 920.5h0M267.1 917h0M260.8 914.7h0M264.4 913h0M271.9 931.5h0M256.1 922.5h0M260.7 918.4h0M260.4 924.4h0M256.2 920.2h0M264.4 920.6h0M265.4 918.3h0M253.3 920.6h0M259.4 917.9h0M268 908.3h0M266.7 918.4h0M255.3 920.8h0M256.6 917h0M256.8 915.2h0M274.3 918.2h0M255.3 916.4h0M283.4 909.5h0M252.6 916.3h0M256.2 911.9h0M271.7 908.5h0M258.9 919.3h0M302.6 918.4h0M281.1 922.3h0M261.4 914.9h0M276.2 919.7h0M256.7 917.5h0"/><path d="M263.3 920.4h0M265.8 911.5h0M256.2 922.7h0M261.3 912.1h0M265.3 903.7h0M258.7 916.2h0M264.4 907h0M262 922.9h0M272.9 908.6h0M276.1 917.1h0M272.4 905.9h0M281.2 919.1h0M263.2 925.9h0M260.6 914.4h0M276.3 924.4h0M264.1 915.6h0M270.3 909.3h0M268.4 914.8h0M282.4 911.4h0M279.5 920.5h0M265 920.1h0M263.2 927.5h0M278.1 911.4h0M270.6 915.8h0M286.4 912.7h0M254 911.4h0M255.8 914.4h0M256.6 920.2h0M273.6 920.8h0M256.4 923.4h0M272.8 914.5h0M256.1 915.6h0M265.8 913.8h0M262.2 894.3h0M269.2 916.7h0M254.3 916.8h0M282.5 913.1h0M260.1 917.7h0M262.3 923.6h0M284.2 908.5h0M260.8 919.1h0M262.4 912.3h0M268.9 915.5h0M261.6 915.3h0M255.1 914.9h0M262.2 926.3h0M265.8 915.8h0M276.7 914.9h0M256.9 909.5h0M273.3 927.1h0M256 919.6h0M309 916.8h0M268.9 911.1h0M273.1 914.4h0M273.7 927.2h0M262.9 910.9h0M270.5 910.1h0M252.3 925.6h0M257.9 910.1h0M253.3 921.1h0"/><path d="M256.5 929.1h0M267.6 908.6h0M260.1 910.1h0M255.9 924.9h0M259.5 925.2h0M305.6 929.7h0M264.7 918.3h0M256.1 917.9h0M271.5 909.1h0M277.2 914.9h0M260.2 916.4h0M272.9 918.6h0M276.4 911h0M263.9 915.1h0M254.4 923.1h0M267.4 927h0M291.3 920.6h0M279.7 922h0M261 926.6h0M277.7 903.8h0M253.3 929.1h0M261.9 916.5h0M263.4 905.8h0M259.3 918.7h0M266.9 921.4h0M258.4 912.9h0M270.6 924.5h0M255 922.5h0M265.4 931.8h0M258.3 916.4h0M262.5 916.7h0M263.2 913.5h0M269.3 909.8h0M261.9 919.2h0M252.7 930.8h0M283.3 912.6h0M266.3 911.3h0M273.3 917.6h0M267 912.1h0M271 919.9h0M254.2 915h0M296.8 913.3h0M263.9 913.2h0M274.6 917h0M259.2 926h0M268.6 903.9h0M270.7 928.9h0M282 919.1h0M262.7 926h0M265.5 922.5h0M254.7 920.5h0M281 911.1h0M274.1 911.1h0M278.8 921.8h0M259.3 920.3h0M256.3 930.1h0M262.6 895.5h0M295.9 912.6h0M269 899.5h0M277.2 929.5h0"/><path d="M257.7 911.9h0M261.2 906.9h0M265.1 920.8h0M277.6 921.3h0M264.4 908.2h0M261.2 911.8h0M262.7 915.1h0M267.2 926.4h0M285.3 911.4h0M257.3 916.1h0M281.9 922.9h0M260.6 917.2h0M303.3 913.9h0M257 917h0M272.9 925.1h0M257 916.4h0M276.8 923h0M291.5 909.9h0M271.1 914.4h0M262.1 912.2h0M255.1 923.1h0M256 909.1h0M253.6 905.5h0M259.5 919.3h0M261.4 923.7h0M262.9 930.4h0M259.8 905.7h0M254.8 908h0M253.8 924.9h0M260.2 920.6h0M257.8 913.4h0M263.6 918.3h0M287.5 923.8h0M274.6 920.4h0M275.8 904.7h0M300.8 916.3h0M259.7 917.7h0M258.9 923.8h0M259.1 924.6h0M273.3 917.3h0M261.9 920.1h0M261.5 914h0M253.8 910.8h0M293.1 918h0M259.4 907.1h0M255.7 902.9h0M270.9 907.5h0M273.1 920.3h0M274.9 917h0M281.4 915.8h0M260.1 926.5h0M262.8 918.8h0M260.9 914.3h0M262.6 924.4h0M281.9 916.4h0M283.5 905.8h0M254.1 912.3h0M262.4 912.8h0M263.1 918.2h0M263.3 915.6h0"/></g>
</g>
<rect x="258" y="891.4" width="49" height="39.6" fill="none" stroke="#666" stroke-width="0.9"/>
<line x1="222.5" y1="868.8" x2="223.8" y2="868.8" stroke="#777" stroke-width="0.5"/>
<line x1="222.5" y1="871.71" x2="223.8" y2="871.71" stroke="#777" stroke-width="0.5"/>
<line x1="222.5" y1="874.62" x2="223.8" y2="874.62" stroke="#777" stroke-width="0.5"/>
<line x1="222.5" y1="877.53" x2="223.8" y2="877.53" stroke="#777" stroke-width="0.5"/>
<line x1="222.5" y1="880.44" x2="223.8" y2="880.44" stroke="#777" stroke-width="0.5"/>
<line x1="222.5" y1="883.35" x2="223.8" y2="883.35" stroke="#777" stroke-width="0.5"/>
<line x1="222.5" y1="886.26" x2="223.8" y2="886.26" stroke="#777" stroke-width="0.5"/>
<line x1="222.5" y1="889.17" x2="223.8" y2="889.17" stroke="#777" stroke-width="0.5"/>
<line x1="222.5" y1="892.08" x2="223.8" y2="892.08" stroke="#777" stroke-width="0.5"/>
<line x1="222.5" y1="894.99" x2="223.8" y2="894.99" stroke="#777" stroke-width="0.5"/>
<line x1="222.5" y1="897.9" x2="223.8" y2="897.9" stroke="#777" stroke-width="0.5"/>
<line x1="222.5" y1="900.81" x2="223.8" y2="900.81" stroke="#777" stroke-width="0.5"/>
<line x1="222.5" y1="903.72" x2="223.8" y2="903.72" stroke="#777" stroke-width="0.5"/>
<line x1="222.5" y1="906.63" x2="223.8" y2="906.63" stroke="#777" stroke-width="0.5"/>
<line x1="222.5" y1="909.54" x2="223.8" y2="909.54" stroke="#777" stroke-width="0.5"/>
<line x1="222.5" y1="912.46" x2="223.8" y2="912.46" stroke="#777" stroke-width="0.5"/>
<line x1="222.5" y1="915.37" x2="223.8" y2="915.37" stroke="#777" stroke-width="0.5"/>
<line x1="222.5" y1="918.28" x2="223.8" y2="918.28" stroke="#777" stroke-width="0.5"/>
<line x1="222.5" y1="921.19" x2="223.8" y2="921.19" stroke="#777" stroke-width="0.5"/>
<line x1="222.5" y1="924.1" x2="223.8" y2="924.1" stroke="#777" stroke-width="0.5"/>
<line x1="222.5" y1="927.01" x2="223.8" y2="927.01" stroke="#777" stroke-width="0.5"/>
<line x1="222.5" y1="929.92" x2="223.8" y2="929.92" stroke="#777" stroke-width="0.5"/>
<line x1="222.5" y1="932.83" x2="223.8" y2="932.83" stroke="#777" stroke-width="0.5"/>
<line x1="222.5" y1="935.74" x2="223.8" y2="935.74" stroke="#777" stroke-width="0.5"/>
<line x1="222.5" y1="938.65" x2="223.8" y2="938.65" stroke="#777" stroke-width="0.5"/>
<line x1="222.5" y1="941.56" x2="223.8" y2="941.56" stroke="#777" stroke-width="0.5"/>
<line x1="222.5" y1="944.47" x2="223.8" y2="944.47" stroke="#777" stroke-width="0.5"/>
<line x1="222.5" y1="947.38" x2="223.8" y2="947.38" stroke="#777" stroke-width="0.5"/>
<line x1="222.5" y1="950.29" x2="223.8" y2="950.29" stroke="#777" stroke-width="0.5"/>
<line x1="222.5" y1="953.2" x2="223.8" y2="953.2" stroke="#777" stroke-width="0.5"/>
<line x1="221" y1="867.8" x2="223.8" y2="867.8" stroke="#444" stroke-width="0.8"/>
<line x1="221" y1="887.8" x2="223.8" y2="887.8" stroke="#444" stroke-width="0.8"/>
<line x1="221" y1="907.8" x2="223.8" y2="907.8" stroke="#444" stroke-width="0.8"/>
<line x1="221" y1="928.3" x2="223.8" y2="928.3" stroke="#444" stroke-width="0.8"/>
<line x1="221" y1="947.8" x2="223.8" y2="947.8" stroke="#444" stroke-width="0.8"/>
<line x1="225.8" y1="955.2" x2="225.8" y2="956.5" stroke="#777" stroke-width="0.5"/>
<line x1="228.52" y1="955.2" x2="228.52" y2="956.5" stroke="#777" stroke-width="0.5"/>
<line x1="231.24" y1="955.2" x2="231.24" y2="956.5" stroke="#777" stroke-width="0.5"/>
<line x1="233.96" y1="955.2" x2="233.96" y2="956.5" stroke="#777" stroke-width="0.5"/>
<line x1="236.68" y1="955.2" x2="236.68" y2="956.5" stroke="#777" stroke-width="0.5"/>
<line x1="239.4" y1="955.2" x2="239.4" y2="956.5" stroke="#777" stroke-width="0.5"/>
<line x1="242.12" y1="955.2" x2="242.12" y2="956.5" stroke="#777" stroke-width="0.5"/>
<line x1="244.84" y1="955.2" x2="244.84" y2="956.5" stroke="#777" stroke-width="0.5"/>
<line x1="247.55" y1="955.2" x2="247.55" y2="956.5" stroke="#777" stroke-width="0.5"/>
<line x1="250.27" y1="955.2" x2="250.27" y2="956.5" stroke="#777" stroke-width="0.5"/>
<line x1="252.99" y1="955.2" x2="252.99" y2="956.5" stroke="#777" stroke-width="0.5"/>
<line x1="255.71" y1="955.2" x2="255.71" y2="956.5" stroke="#777" stroke-width="0.5"/>
<line x1="258.43" y1="955.2" x2="258.43" y2="956.5" stroke="#777" stroke-width="0.5"/>
<line x1="261.15" y1="955.2" x2="261.15" y2="956.5" stroke="#777" stroke-width="0.5"/>
<line x1="263.87" y1="955.2" x2="263.87" y2="956.5" stroke="#777" stroke-width="0.5"/>
<line x1="266.59" y1="955.2" x2="266.59" y2="956.5" stroke="#777" stroke-width="0.5"/>
<line x1="269.31" y1="955.2" x2="269.31" y2="956.5" stroke="#777" stroke-width="0.5"/>
<line x1="272.03" y1="955.2" x2="272.03" y2="956.5" stroke="#777" stroke-width="0.5"/>
<line x1="274.75" y1="955.2" x2="274.75" y2="956.5" stroke="#777" stroke-width="0.5"/>
<line x1="277.47" y1="955.2" x2="277.47" y2="956.5" stroke="#777" stroke-width="0.5"/>
<line x1="280.19" y1="955.2" x2="280.19" y2="956.5" stroke="#777" stroke-width="0.5"/>
<line x1="282.91" y1="955.2" x2="282.91" y2="956.5" stroke="#777" stroke-width="0.5"/>
<line x1="285.63" y1="955.2" x2="285.63" y2="956.5" stroke="#777" stroke-width="0.5"/>
<line x1="288.35" y1="955.2" x2="288.35" y2="956.5" stroke="#777" stroke-width="0.5"/>
<line x1="291.06" y1="955.2" x2="291.06" y2="956.5" stroke="#777" stroke-width="0.5"/>
<line x1="293.78" y1="955.2" x2="293.78" y2="956.5" stroke="#777" stroke-width="0.5"/>
<line x1="296.5" y1="955.2" x2="296.5" y2="956.5" stroke="#777" stroke-width="0.5"/>
<line x1="299.22" y1="955.2" x2="299.22" y2="956.5" stroke="#777" stroke-width="0.5"/>
<line x1="301.94" y1="955.2" x2="301.94" y2="956.5" stroke="#777" stroke-width="0.5"/>
<line x1="304.66" y1="955.2" x2="304.66" y2="956.5" stroke="#777" stroke-width="0.5"/>
<line x1="307.38" y1="955.2" x2="307.38" y2="956.5" stroke="#777" stroke-width="0.5"/>
<line x1="310.1" y1="955.2" x2="310.1" y2="956.5" stroke="#777" stroke-width="0.5"/>
<line x1="234.8" y1="955.2" x2="234.8" y2="958" stroke="#333" stroke-width="0.9"/>
<line x1="255.3" y1="955.2" x2="255.3" y2="958" stroke="#333" stroke-width="0.9"/>
<line x1="283.3" y1="955.2" x2="283.3" y2="958" stroke="#333" stroke-width="0.9"/>
<line x1="311.3" y1="955.2" x2="311.3" y2="958" stroke="#333" stroke-width="0.9"/>
<text x="220.2" y="887.8" font-size="5.4" fill="#333" text-anchor="middle" font-family="'Liberation Serif'" transform="rotate(-90 220.2 887.8)">10<tspan dy="-1.8" font-size="2.8">6</tspan></text>
<text x="220.2" y="907.8" font-size="5.4" fill="#333" text-anchor="middle" font-family="'Liberation Serif'" transform="rotate(-90 220.2 907.8)">10<tspan dy="-1.8" font-size="2.8">5</tspan></text>
<text x="220.2" y="928.3" font-size="5.4" fill="#333" text-anchor="middle" font-family="'Liberation Serif'" transform="rotate(-90 220.2 928.3)">10<tspan dy="-1.8" font-size="2.8">4</tspan></text>
<text x="220.2" y="947.8" font-size="5.2" fill="#333" text-anchor="middle" transform="rotate(-90 220.2 947.8)">0</text>
<text x="220.2" y="869.3" font-size="5.2" fill="#333" text-anchor="middle" transform="rotate(-90 220.2 869.3)">10</text>
<text x="234.8" y="962.4" font-size="5.2" fill="#333" text-anchor="middle">0</text>
<text x="255.3" y="962.4" font-size="5.4" fill="#333" text-anchor="middle" font-family="'Liberation Serif'">10<tspan dy="-1.8" font-size="2.8">4</tspan></text>
<text x="283.3" y="962.4" font-size="5.4" fill="#333" text-anchor="middle" font-family="'Liberation Serif'">10<tspan dy="-1.8" font-size="2.8">5</tspan></text>
<text x="311.3" y="962.4" font-size="5.4" fill="#333" text-anchor="middle" font-family="'Liberation Serif'">10<tspan dy="-1.8" font-size="2.8">6</tspan></text>
<text x="271" y="887.6" font-size="10" font-weight="bold" textLength="19.4" lengthAdjust="spacingAndGlyphs">29.8</text>
<line x1="329" y1="933.6" x2="329" y2="976.8" stroke="#000" stroke-width="1.5"/>
<line x1="285.6" y1="976" x2="329.7" y2="976" stroke="#000" stroke-width="1.5"/>
<text x="335" y="943.2" font-size="15.9" font-weight="bold" text-anchor="middle" textLength="31.6" lengthAdjust="spacingAndGlyphs" transform="rotate(90 335 943.2)">CD11</text>
<text x="332" y="963.3" font-size="9.6" font-weight="bold" text-anchor="middle" textLength="4.6" lengthAdjust="spacingAndGlyphs" transform="rotate(90 332 963.3)">c</text>
<text x="295.6" y="994" font-size="13" font-weight="bold" textLength="22.8" lengthAdjust="spacingAndGlyphs">IDO</text>
<text x="531" y="736.2" font-size="14" font-weight="bold" textLength="30.6" lengthAdjust="spacingAndGlyphs">hDC</text>
<rect x="479.65" y="913.85" width="22.1" height="0.75" fill="#000" stroke="#000" stroke-width="1.3"/>
<line x1="527.3" y1="912.6" x2="527.3" y2="910.6" stroke="#999" stroke-width="0.9"/>
<line x1="522.15" y1="910.6" x2="532.45" y2="910.6" stroke="#999" stroke-width="0.9"/>
<rect x="516.25" y="913.25" width="22.1" height="1.35" fill="#000" stroke="#000" stroke-width="1.3"/>
<line x1="564.5" y1="889" x2="564.5" y2="887" stroke="#555" stroke-width="0.9"/>
<line x1="559.44" y1="887" x2="569.56" y2="887" stroke="#555" stroke-width="0.9"/>
<rect x="553.9" y="889.9" width="21.2" height="24.7" fill="#a3a3a3" stroke="#000" stroke-width="1.8"/>
<line x1="601" y1="799" x2="601" y2="794.4" stroke="#222" stroke-width="0.9"/>
<line x1="595.72" y1="794.4" x2="606.28" y2="794.4" stroke="#222" stroke-width="0.9"/>
<rect x="589.65" y="799.65" width="22.7" height="114.95" fill="#000" stroke="#000" stroke-width="1.3"/>
<line x1="466" y1="755" x2="466" y2="915.4" stroke="#000" stroke-width="1.6"/>
<line x1="460" y1="914.6" x2="625" y2="914.6" stroke="#000" stroke-width="1.6"/>
<line x1="460" y1="755.6" x2="466" y2="755.6" stroke="#000" stroke-width="1.5"/>
<text x="456.6" y="759.5" font-size="11" font-weight="bold" text-anchor="end" textLength="12.4" lengthAdjust="spacingAndGlyphs">40</text>
<line x1="460" y1="796" x2="466" y2="796" stroke="#000" stroke-width="1.5"/>
<text x="456.6" y="799.9" font-size="11" font-weight="bold" text-anchor="end" textLength="12.4" lengthAdjust="spacingAndGlyphs">30</text>
<line x1="460" y1="835.6" x2="466" y2="835.6" stroke="#000" stroke-width="1.5"/>
<text x="456.6" y="839.5" font-size="11" font-weight="bold" text-anchor="end" textLength="12.4" lengthAdjust="spacingAndGlyphs">20</text>
<line x1="460" y1="875.2" x2="466" y2="875.2" stroke="#000" stroke-width="1.5"/>
<text x="456.6" y="879.1" font-size="11" font-weight="bold" text-anchor="end" textLength="12.4" lengthAdjust="spacingAndGlyphs">10</text>
<line x1="460" y1="914.6" x2="466" y2="914.6" stroke="#000" stroke-width="1.5"/>
<text x="456.6" y="918.5" font-size="11" font-weight="bold" text-anchor="end" textLength="5.6" lengthAdjust="spacingAndGlyphs">0</text>
<line x1="491" y1="914.6" x2="491" y2="921.2" stroke="#000" stroke-width="1.5"/>
<line x1="527.4" y1="914.6" x2="527.4" y2="921.2" stroke="#000" stroke-width="1.5"/>
<line x1="564" y1="914.6" x2="564" y2="921.2" stroke="#000" stroke-width="1.5"/>
<line x1="601" y1="914.6" x2="601" y2="921.2" stroke="#000" stroke-width="1.5"/>
<path d="M564.2 878 V775.8 H601 V785.6" stroke="#000" stroke-width="1.6" fill="none"/>
<text x="583" y="777.9" font-size="25.6" font-weight="bold" text-anchor="middle" textLength="18.8" lengthAdjust="spacingAndGlyphs">**</text>
<text x="494.3" y="931.5" font-size="11" font-weight="bold" text-anchor="end" textLength="47" lengthAdjust="spacingAndGlyphs" transform="rotate(-45 494.3 931.5)">Medium</text>
<text x="530.7" y="931.5" font-size="11" font-weight="bold" text-anchor="end" textLength="28" lengthAdjust="spacingAndGlyphs" transform="rotate(-45 530.7 931.5)">tVLP</text>
<text x="567.3" y="931.5" font-size="11" font-weight="bold" text-anchor="end" textLength="36.5" lengthAdjust="spacingAndGlyphs" transform="rotate(-45 567.3 931.5)">TNF-α</text>
<text x="604.3" y="931.5" font-size="11" font-weight="bold" text-anchor="end" textLength="77" lengthAdjust="spacingAndGlyphs" transform="rotate(-45 604.3 931.5)">tVLP + TNF-α</text>
<text x="436.4" y="835" font-size="13.4" font-weight="bold" text-anchor="middle" textLength="72" lengthAdjust="spacingAndGlyphs" transform="rotate(-90 436.4 835)">%IDO+ cells</text>
</svg>
</body></html>
